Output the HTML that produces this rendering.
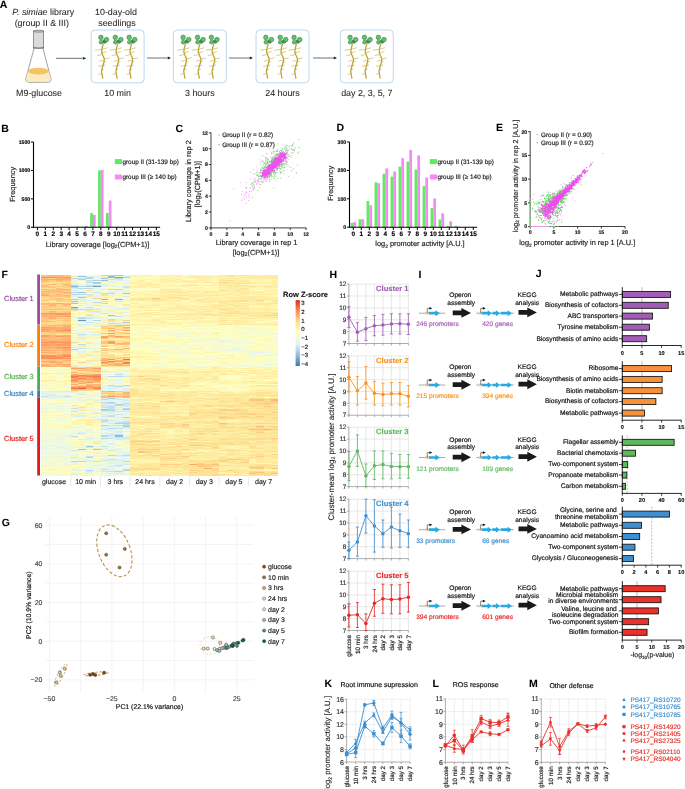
<!DOCTYPE html>
<html><head><meta charset="utf-8"><style>
html,body{margin:0;padding:0;background:#fff;width:685px;height:789px;overflow:hidden}
svg{display:block;will-change:transform}
text{font-family:"Liberation Sans", sans-serif;text-rendering:geometricPrecision}
</style></head><body>
<svg width="685" height="789" viewBox="0 0 685 789" font-family='"Liberation Sans", sans-serif'>
<rect width="685" height="789" fill="#fff"/>
<text x="-0.30" y="7.60" font-size="10.5" font-weight="bold" fill="#000" stroke="#000" stroke-width="0.06">A</text>
<text x="43.2" y="15" font-size="8.9" text-anchor="middle" fill="#231f20" stroke="#231f20" stroke-width="0.06"><tspan font-style="italic">P. simiae</tspan> library</text>
<text x="41.80" y="25.60" font-size="8.9" text-anchor="middle" fill="#231f20" stroke="#231f20" stroke-width="0.06">(group II &amp; III)</text>
<text x="39.00" y="96.00" font-size="8.9" text-anchor="middle" fill="#231f20" stroke="#231f20" stroke-width="0.06">M9-glucose</text>
<text x="116.00" y="15.00" font-size="8.9" text-anchor="middle" fill="#231f20" stroke="#231f20" stroke-width="0.06">10-day-old</text>
<text x="117.00" y="25.50" font-size="8.9" text-anchor="middle" fill="#231f20" stroke="#231f20" stroke-width="0.06">seedlings</text>
<path d="M34.2,48 L25.8,78.6 Q25.2,82.2 29.5,82.3 L47.2,82.3 Q51.5,82.2 50.9,78.6 L42.9,48 Z" fill="#fff" stroke="#555" stroke-width="0.55"/>
<path d="M28.0,71 L26.2,78.4 Q25.8,81.7 29.6,81.8 L47.1,81.8 Q50.9,81.7 50.5,78.4 L48.6,71 Z" fill="#fde8c0"/>
<ellipse cx="38.3" cy="71.2" rx="10.4" ry="3.4" fill="#f2c562"/>
<rect x="33.5" y="31" width="10.2" height="17" fill="#dadada" stroke="#555" stroke-width="0.6"/>
<ellipse cx="38.6" cy="31.2" rx="5.1" ry="1.0" fill="#c4c4c4" stroke="#555" stroke-width="0.5"/>
<path d="M33.5,47.4 Q38.6,49.4 43.7,47.4" fill="none" stroke="#555" stroke-width="0.5"/>
<line x1="56.00" y1="58.30" x2="83.80" y2="58.30" stroke="#333" stroke-width="0.7"/>
<path d="M86.30,58.30 L83.10,56.90 L83.10,59.70 Z" fill="#222"/>
<line x1="147.00" y1="58.00" x2="168.50" y2="58.00" stroke="#333" stroke-width="0.7"/>
<path d="M171.00,58.00 L167.80,56.60 L167.80,59.40 Z" fill="#222"/>
<line x1="229.00" y1="58.00" x2="250.50" y2="58.00" stroke="#333" stroke-width="0.7"/>
<path d="M253.00,58.00 L249.80,56.60 L249.80,59.40 Z" fill="#222"/>
<line x1="313.00" y1="58.00" x2="334.50" y2="58.00" stroke="#333" stroke-width="0.7"/>
<path d="M337.00,58.00 L333.80,56.60 L333.80,59.40 Z" fill="#222"/>
<rect x="91.10" y="30" width="53" height="52.8" rx="4" fill="#fff" stroke="#a9cfe5" stroke-width="0.8"/>
<path d="M102.00,49.40 L95.20,50.20 M102.20,49.20 L107.50,47.80 M101.90,52.90 L106.60,51.60 M101.80,54.60 L97.10,55.60 M104.00,59.20 L109.40,57.80 M103.80,60.20 L99.30,61.20 M104.00,62.40 L106.20,61.40 M103.20,65.40 L98.30,66.40 M103.00,66.00 L105.40,65.00 M102.00,70.20 L104.20,69.20 M101.70,73.40 L98.30,74.40 " fill="none" stroke="#cbb85c" stroke-width="0.7"/>
<polyline points="103.40,43.60 102.10,48.00 101.60,52.00 103.10,56.00 104.40,59.00 103.70,63.00 102.50,67.00 101.50,71.00 102.10,75.00 102.80,78.60" fill="none" stroke="#bba136" stroke-width="1.25" stroke-linejoin="round"/>
<circle cx="104.70" cy="41.40" r="1.9" fill="#3f9c4f" stroke="#2d5f35" stroke-width="0.45"/>
<circle cx="100.90" cy="37.40" r="2.3" fill="#5ec46c" stroke="#2d5f35" stroke-width="0.45"/>
<circle cx="106.50" cy="39.60" r="2.3" fill="#5ec46c" stroke="#2d5f35" stroke-width="0.45"/>
<circle cx="101.00" cy="42.20" r="1.9" fill="#5ec46c" stroke="#2d5f35" stroke-width="0.45"/>
<path d="M116.40,49.40 L109.60,50.20 M116.60,49.20 L121.90,47.80 M116.30,52.90 L121.00,51.60 M116.20,54.60 L111.50,55.60 M118.40,59.20 L123.80,57.80 M118.20,60.20 L113.70,61.20 M118.40,62.40 L120.60,61.40 M117.60,65.40 L112.70,66.40 M117.40,66.00 L119.80,65.00 M116.40,70.20 L118.60,69.20 M116.10,73.40 L112.70,74.40 " fill="none" stroke="#cbb85c" stroke-width="0.7"/>
<polyline points="117.80,43.60 116.50,48.00 116.00,52.00 117.50,56.00 118.80,59.00 118.10,63.00 116.90,67.00 115.90,71.00 116.50,75.00 117.20,78.60" fill="none" stroke="#bba136" stroke-width="1.25" stroke-linejoin="round"/>
<circle cx="119.10" cy="41.40" r="1.9" fill="#3f9c4f" stroke="#2d5f35" stroke-width="0.45"/>
<circle cx="115.30" cy="37.40" r="2.3" fill="#5ec46c" stroke="#2d5f35" stroke-width="0.45"/>
<circle cx="120.90" cy="39.60" r="2.3" fill="#5ec46c" stroke="#2d5f35" stroke-width="0.45"/>
<circle cx="115.40" cy="42.20" r="1.9" fill="#5ec46c" stroke="#2d5f35" stroke-width="0.45"/>
<path d="M130.30,49.40 L123.50,50.20 M130.50,49.20 L135.80,47.80 M130.20,52.90 L134.90,51.60 M130.10,54.60 L125.40,55.60 M132.30,59.20 L137.70,57.80 M132.10,60.20 L127.60,61.20 M132.30,62.40 L134.50,61.40 M131.50,65.40 L126.60,66.40 M131.30,66.00 L133.70,65.00 M130.30,70.20 L132.50,69.20 M130.00,73.40 L126.60,74.40 " fill="none" stroke="#cbb85c" stroke-width="0.7"/>
<polyline points="131.70,43.60 130.40,48.00 129.90,52.00 131.40,56.00 132.70,59.00 132.00,63.00 130.80,67.00 129.80,71.00 130.40,75.00 131.10,78.60" fill="none" stroke="#bba136" stroke-width="1.25" stroke-linejoin="round"/>
<circle cx="133.00" cy="41.40" r="1.9" fill="#3f9c4f" stroke="#2d5f35" stroke-width="0.45"/>
<circle cx="129.20" cy="37.40" r="2.3" fill="#5ec46c" stroke="#2d5f35" stroke-width="0.45"/>
<circle cx="134.80" cy="39.60" r="2.3" fill="#5ec46c" stroke="#2d5f35" stroke-width="0.45"/>
<circle cx="129.30" cy="42.20" r="1.9" fill="#5ec46c" stroke="#2d5f35" stroke-width="0.45"/>
<rect x="173.30" y="30" width="53" height="52.8" rx="4" fill="#fff" stroke="#a9cfe5" stroke-width="0.8"/>
<path d="M184.20,49.40 L177.40,50.20 M184.40,49.20 L189.70,47.80 M184.10,52.90 L188.80,51.60 M184.00,54.60 L179.30,55.60 M186.20,59.20 L191.60,57.80 M186.00,60.20 L181.50,61.20 M186.20,62.40 L188.40,61.40 M185.40,65.40 L180.50,66.40 M185.20,66.00 L187.60,65.00 M184.20,70.20 L186.40,69.20 M183.90,73.40 L180.50,74.40 " fill="none" stroke="#cbb85c" stroke-width="0.7"/>
<polyline points="185.60,43.60 184.30,48.00 183.80,52.00 185.30,56.00 186.60,59.00 185.90,63.00 184.70,67.00 183.70,71.00 184.30,75.00 185.00,78.60" fill="none" stroke="#bba136" stroke-width="1.25" stroke-linejoin="round"/>
<circle cx="186.90" cy="41.40" r="1.9" fill="#3f9c4f" stroke="#2d5f35" stroke-width="0.45"/>
<circle cx="183.10" cy="37.40" r="2.3" fill="#5ec46c" stroke="#2d5f35" stroke-width="0.45"/>
<circle cx="188.70" cy="39.60" r="2.3" fill="#5ec46c" stroke="#2d5f35" stroke-width="0.45"/>
<circle cx="183.20" cy="42.20" r="1.9" fill="#5ec46c" stroke="#2d5f35" stroke-width="0.45"/>
<path d="M198.60,49.40 L191.80,50.20 M198.80,49.20 L204.10,47.80 M198.50,52.90 L203.20,51.60 M198.40,54.60 L193.70,55.60 M200.60,59.20 L206.00,57.80 M200.40,60.20 L195.90,61.20 M200.60,62.40 L202.80,61.40 M199.80,65.40 L194.90,66.40 M199.60,66.00 L202.00,65.00 M198.60,70.20 L200.80,69.20 M198.30,73.40 L194.90,74.40 " fill="none" stroke="#cbb85c" stroke-width="0.7"/>
<polyline points="200.00,43.60 198.70,48.00 198.20,52.00 199.70,56.00 201.00,59.00 200.30,63.00 199.10,67.00 198.10,71.00 198.70,75.00 199.40,78.60" fill="none" stroke="#bba136" stroke-width="1.25" stroke-linejoin="round"/>
<circle cx="201.30" cy="41.40" r="1.9" fill="#3f9c4f" stroke="#2d5f35" stroke-width="0.45"/>
<circle cx="197.50" cy="37.40" r="2.3" fill="#5ec46c" stroke="#2d5f35" stroke-width="0.45"/>
<circle cx="203.10" cy="39.60" r="2.3" fill="#5ec46c" stroke="#2d5f35" stroke-width="0.45"/>
<circle cx="197.60" cy="42.20" r="1.9" fill="#5ec46c" stroke="#2d5f35" stroke-width="0.45"/>
<path d="M212.50,49.40 L205.70,50.20 M212.70,49.20 L218.00,47.80 M212.40,52.90 L217.10,51.60 M212.30,54.60 L207.60,55.60 M214.50,59.20 L219.90,57.80 M214.30,60.20 L209.80,61.20 M214.50,62.40 L216.70,61.40 M213.70,65.40 L208.80,66.40 M213.50,66.00 L215.90,65.00 M212.50,70.20 L214.70,69.20 M212.20,73.40 L208.80,74.40 " fill="none" stroke="#cbb85c" stroke-width="0.7"/>
<polyline points="213.90,43.60 212.60,48.00 212.10,52.00 213.60,56.00 214.90,59.00 214.20,63.00 213.00,67.00 212.00,71.00 212.60,75.00 213.30,78.60" fill="none" stroke="#bba136" stroke-width="1.25" stroke-linejoin="round"/>
<circle cx="215.20" cy="41.40" r="1.9" fill="#3f9c4f" stroke="#2d5f35" stroke-width="0.45"/>
<circle cx="211.40" cy="37.40" r="2.3" fill="#5ec46c" stroke="#2d5f35" stroke-width="0.45"/>
<circle cx="217.00" cy="39.60" r="2.3" fill="#5ec46c" stroke="#2d5f35" stroke-width="0.45"/>
<circle cx="211.50" cy="42.20" r="1.9" fill="#5ec46c" stroke="#2d5f35" stroke-width="0.45"/>
<rect x="256.00" y="30" width="53" height="52.8" rx="4" fill="#fff" stroke="#a9cfe5" stroke-width="0.8"/>
<path d="M266.90,49.40 L260.10,50.20 M267.10,49.20 L272.40,47.80 M266.80,52.90 L271.50,51.60 M266.70,54.60 L262.00,55.60 M268.90,59.20 L274.30,57.80 M268.70,60.20 L264.20,61.20 M268.90,62.40 L271.10,61.40 M268.10,65.40 L263.20,66.40 M267.90,66.00 L270.30,65.00 M266.90,70.20 L269.10,69.20 M266.60,73.40 L263.20,74.40 " fill="none" stroke="#cbb85c" stroke-width="0.7"/>
<polyline points="268.30,43.60 267.00,48.00 266.50,52.00 268.00,56.00 269.30,59.00 268.60,63.00 267.40,67.00 266.40,71.00 267.00,75.00 267.70,78.60" fill="none" stroke="#bba136" stroke-width="1.25" stroke-linejoin="round"/>
<circle cx="269.60" cy="41.40" r="1.9" fill="#3f9c4f" stroke="#2d5f35" stroke-width="0.45"/>
<circle cx="265.80" cy="37.40" r="2.3" fill="#5ec46c" stroke="#2d5f35" stroke-width="0.45"/>
<circle cx="271.40" cy="39.60" r="2.3" fill="#5ec46c" stroke="#2d5f35" stroke-width="0.45"/>
<circle cx="265.90" cy="42.20" r="1.9" fill="#5ec46c" stroke="#2d5f35" stroke-width="0.45"/>
<path d="M281.30,49.40 L274.50,50.20 M281.50,49.20 L286.80,47.80 M281.20,52.90 L285.90,51.60 M281.10,54.60 L276.40,55.60 M283.30,59.20 L288.70,57.80 M283.10,60.20 L278.60,61.20 M283.30,62.40 L285.50,61.40 M282.50,65.40 L277.60,66.40 M282.30,66.00 L284.70,65.00 M281.30,70.20 L283.50,69.20 M281.00,73.40 L277.60,74.40 " fill="none" stroke="#cbb85c" stroke-width="0.7"/>
<polyline points="282.70,43.60 281.40,48.00 280.90,52.00 282.40,56.00 283.70,59.00 283.00,63.00 281.80,67.00 280.80,71.00 281.40,75.00 282.10,78.60" fill="none" stroke="#bba136" stroke-width="1.25" stroke-linejoin="round"/>
<circle cx="284.00" cy="41.40" r="1.9" fill="#3f9c4f" stroke="#2d5f35" stroke-width="0.45"/>
<circle cx="280.20" cy="37.40" r="2.3" fill="#5ec46c" stroke="#2d5f35" stroke-width="0.45"/>
<circle cx="285.80" cy="39.60" r="2.3" fill="#5ec46c" stroke="#2d5f35" stroke-width="0.45"/>
<circle cx="280.30" cy="42.20" r="1.9" fill="#5ec46c" stroke="#2d5f35" stroke-width="0.45"/>
<path d="M295.20,49.40 L288.40,50.20 M295.40,49.20 L300.70,47.80 M295.10,52.90 L299.80,51.60 M295.00,54.60 L290.30,55.60 M297.20,59.20 L302.60,57.80 M297.00,60.20 L292.50,61.20 M297.20,62.40 L299.40,61.40 M296.40,65.40 L291.50,66.40 M296.20,66.00 L298.60,65.00 M295.20,70.20 L297.40,69.20 M294.90,73.40 L291.50,74.40 " fill="none" stroke="#cbb85c" stroke-width="0.7"/>
<polyline points="296.60,43.60 295.30,48.00 294.80,52.00 296.30,56.00 297.60,59.00 296.90,63.00 295.70,67.00 294.70,71.00 295.30,75.00 296.00,78.60" fill="none" stroke="#bba136" stroke-width="1.25" stroke-linejoin="round"/>
<circle cx="297.90" cy="41.40" r="1.9" fill="#3f9c4f" stroke="#2d5f35" stroke-width="0.45"/>
<circle cx="294.10" cy="37.40" r="2.3" fill="#5ec46c" stroke="#2d5f35" stroke-width="0.45"/>
<circle cx="299.70" cy="39.60" r="2.3" fill="#5ec46c" stroke="#2d5f35" stroke-width="0.45"/>
<circle cx="294.20" cy="42.20" r="1.9" fill="#5ec46c" stroke="#2d5f35" stroke-width="0.45"/>
<rect x="340.30" y="30" width="53" height="52.8" rx="4" fill="#fff" stroke="#a9cfe5" stroke-width="0.8"/>
<path d="M351.20,49.40 L344.40,50.20 M351.40,49.20 L356.70,47.80 M351.10,52.90 L355.80,51.60 M351.00,54.60 L346.30,55.60 M353.20,59.20 L358.60,57.80 M353.00,60.20 L348.50,61.20 M353.20,62.40 L355.40,61.40 M352.40,65.40 L347.50,66.40 M352.20,66.00 L354.60,65.00 M351.20,70.20 L353.40,69.20 M350.90,73.40 L347.50,74.40 " fill="none" stroke="#cbb85c" stroke-width="0.7"/>
<polyline points="352.60,43.60 351.30,48.00 350.80,52.00 352.30,56.00 353.60,59.00 352.90,63.00 351.70,67.00 350.70,71.00 351.30,75.00 352.00,78.60" fill="none" stroke="#bba136" stroke-width="1.25" stroke-linejoin="round"/>
<circle cx="353.90" cy="41.40" r="1.9" fill="#3f9c4f" stroke="#2d5f35" stroke-width="0.45"/>
<circle cx="350.10" cy="37.40" r="2.3" fill="#5ec46c" stroke="#2d5f35" stroke-width="0.45"/>
<circle cx="355.70" cy="39.60" r="2.3" fill="#5ec46c" stroke="#2d5f35" stroke-width="0.45"/>
<circle cx="350.20" cy="42.20" r="1.9" fill="#5ec46c" stroke="#2d5f35" stroke-width="0.45"/>
<path d="M365.60,49.40 L358.80,50.20 M365.80,49.20 L371.10,47.80 M365.50,52.90 L370.20,51.60 M365.40,54.60 L360.70,55.60 M367.60,59.20 L373.00,57.80 M367.40,60.20 L362.90,61.20 M367.60,62.40 L369.80,61.40 M366.80,65.40 L361.90,66.40 M366.60,66.00 L369.00,65.00 M365.60,70.20 L367.80,69.20 M365.30,73.40 L361.90,74.40 " fill="none" stroke="#cbb85c" stroke-width="0.7"/>
<polyline points="367.00,43.60 365.70,48.00 365.20,52.00 366.70,56.00 368.00,59.00 367.30,63.00 366.10,67.00 365.10,71.00 365.70,75.00 366.40,78.60" fill="none" stroke="#bba136" stroke-width="1.25" stroke-linejoin="round"/>
<circle cx="368.30" cy="41.40" r="1.9" fill="#3f9c4f" stroke="#2d5f35" stroke-width="0.45"/>
<circle cx="364.50" cy="37.40" r="2.3" fill="#5ec46c" stroke="#2d5f35" stroke-width="0.45"/>
<circle cx="370.10" cy="39.60" r="2.3" fill="#5ec46c" stroke="#2d5f35" stroke-width="0.45"/>
<circle cx="364.60" cy="42.20" r="1.9" fill="#5ec46c" stroke="#2d5f35" stroke-width="0.45"/>
<path d="M379.50,49.40 L372.70,50.20 M379.70,49.20 L385.00,47.80 M379.40,52.90 L384.10,51.60 M379.30,54.60 L374.60,55.60 M381.50,59.20 L386.90,57.80 M381.30,60.20 L376.80,61.20 M381.50,62.40 L383.70,61.40 M380.70,65.40 L375.80,66.40 M380.50,66.00 L382.90,65.00 M379.50,70.20 L381.70,69.20 M379.20,73.40 L375.80,74.40 " fill="none" stroke="#cbb85c" stroke-width="0.7"/>
<polyline points="380.90,43.60 379.60,48.00 379.10,52.00 380.60,56.00 381.90,59.00 381.20,63.00 380.00,67.00 379.00,71.00 379.60,75.00 380.30,78.60" fill="none" stroke="#bba136" stroke-width="1.25" stroke-linejoin="round"/>
<circle cx="382.20" cy="41.40" r="1.9" fill="#3f9c4f" stroke="#2d5f35" stroke-width="0.45"/>
<circle cx="378.40" cy="37.40" r="2.3" fill="#5ec46c" stroke="#2d5f35" stroke-width="0.45"/>
<circle cx="384.00" cy="39.60" r="2.3" fill="#5ec46c" stroke="#2d5f35" stroke-width="0.45"/>
<circle cx="378.50" cy="42.20" r="1.9" fill="#5ec46c" stroke="#2d5f35" stroke-width="0.45"/>
<text x="117.60" y="95.60" font-size="8.9" text-anchor="middle" fill="#231f20" stroke="#231f20" stroke-width="0.06">10 min</text>
<text x="199.80" y="95.60" font-size="8.9" text-anchor="middle" fill="#231f20" stroke="#231f20" stroke-width="0.06">3 hours</text>
<text x="282.50" y="95.60" font-size="8.9" text-anchor="middle" fill="#231f20" stroke="#231f20" stroke-width="0.06">24 hours</text>
<text x="366.80" y="95.60" font-size="8.9" text-anchor="middle" fill="#231f20" stroke="#231f20" stroke-width="0.06">day 2, 3, 5, 7</text>
<text x="1.20" y="131.70" font-size="10.5" font-weight="bold" fill="#000" stroke="#000" stroke-width="0.06">B</text>
<line x1="33.50" y1="142.00" x2="33.50" y2="227.80" stroke="#000" stroke-width="1.1"/>
<line x1="30.90" y1="142.00" x2="33.50" y2="142.00" stroke="#000" stroke-width="1.0"/>
<text x="30.20" y="143.80" font-size="5.2" text-anchor="end" font-weight="bold" fill="#000" stroke="#000" stroke-width="0.14">1500</text>
<line x1="30.90" y1="170.43" x2="33.50" y2="170.43" stroke="#000" stroke-width="1.0"/>
<text x="30.20" y="172.23" font-size="5.2" text-anchor="end" font-weight="bold" fill="#000" stroke="#000" stroke-width="0.14">1000</text>
<line x1="30.90" y1="198.87" x2="33.50" y2="198.87" stroke="#000" stroke-width="1.0"/>
<text x="30.20" y="200.67" font-size="5.2" text-anchor="end" font-weight="bold" fill="#000" stroke="#000" stroke-width="0.14">500</text>
<line x1="30.90" y1="227.30" x2="33.50" y2="227.30" stroke="#000" stroke-width="1.0"/>
<text x="30.20" y="229.10" font-size="5.2" text-anchor="end" font-weight="bold" fill="#000" stroke="#000" stroke-width="0.14">0</text>
<rect x="69.12" y="227.19" width="2.75" height="0.11" fill="#f58af5"/>
<rect x="77.05" y="226.73" width="2.75" height="0.57" fill="#f58af5"/>
<rect x="82.23" y="226.73" width="2.75" height="0.57" fill="#62e862"/>
<rect x="84.98" y="225.88" width="2.75" height="1.42" fill="#f58af5"/>
<rect x="90.16" y="213.08" width="2.75" height="14.22" fill="#62e862"/>
<rect x="92.91" y="214.79" width="2.75" height="12.51" fill="#f58af5"/>
<rect x="98.09" y="170.43" width="2.75" height="56.87" fill="#62e862"/>
<rect x="100.84" y="169.86" width="2.75" height="57.44" fill="#f58af5"/>
<rect x="106.02" y="213.08" width="2.75" height="14.22" fill="#62e862"/>
<rect x="108.77" y="200.57" width="2.75" height="26.73" fill="#f58af5"/>
<rect x="116.70" y="226.73" width="2.75" height="0.57" fill="#f58af5"/>
<line x1="33.50" y1="227.30" x2="160.15" y2="227.30" stroke="#000" stroke-width="1.1"/>
<line x1="37.40" y1="227.30" x2="37.40" y2="230.10" stroke="#000" stroke-width="1.0"/>
<text x="37.40" y="236.30" font-size="6.4" text-anchor="middle" font-weight="bold" fill="#000" stroke="#000" stroke-width="0.14">0</text>
<line x1="45.33" y1="227.30" x2="45.33" y2="230.10" stroke="#000" stroke-width="1.0"/>
<text x="45.33" y="236.30" font-size="6.4" text-anchor="middle" font-weight="bold" fill="#000" stroke="#000" stroke-width="0.14">1</text>
<line x1="53.26" y1="227.30" x2="53.26" y2="230.10" stroke="#000" stroke-width="1.0"/>
<text x="53.26" y="236.30" font-size="6.4" text-anchor="middle" font-weight="bold" fill="#000" stroke="#000" stroke-width="0.14">2</text>
<line x1="61.19" y1="227.30" x2="61.19" y2="230.10" stroke="#000" stroke-width="1.0"/>
<text x="61.19" y="236.30" font-size="6.4" text-anchor="middle" font-weight="bold" fill="#000" stroke="#000" stroke-width="0.14">3</text>
<line x1="69.12" y1="227.30" x2="69.12" y2="230.10" stroke="#000" stroke-width="1.0"/>
<text x="69.12" y="236.30" font-size="6.4" text-anchor="middle" font-weight="bold" fill="#000" stroke="#000" stroke-width="0.14">4</text>
<line x1="77.05" y1="227.30" x2="77.05" y2="230.10" stroke="#000" stroke-width="1.0"/>
<text x="77.05" y="236.30" font-size="6.4" text-anchor="middle" font-weight="bold" fill="#000" stroke="#000" stroke-width="0.14">5</text>
<line x1="84.98" y1="227.30" x2="84.98" y2="230.10" stroke="#000" stroke-width="1.0"/>
<text x="84.98" y="236.30" font-size="6.4" text-anchor="middle" font-weight="bold" fill="#000" stroke="#000" stroke-width="0.14">6</text>
<line x1="92.91" y1="227.30" x2="92.91" y2="230.10" stroke="#000" stroke-width="1.0"/>
<text x="92.91" y="236.30" font-size="6.4" text-anchor="middle" font-weight="bold" fill="#000" stroke="#000" stroke-width="0.14">7</text>
<line x1="100.84" y1="227.30" x2="100.84" y2="230.10" stroke="#000" stroke-width="1.0"/>
<text x="100.84" y="236.30" font-size="6.4" text-anchor="middle" font-weight="bold" fill="#000" stroke="#000" stroke-width="0.14">8</text>
<line x1="108.77" y1="227.30" x2="108.77" y2="230.10" stroke="#000" stroke-width="1.0"/>
<text x="108.77" y="236.30" font-size="6.4" text-anchor="middle" font-weight="bold" fill="#000" stroke="#000" stroke-width="0.14">9</text>
<line x1="116.70" y1="227.30" x2="116.70" y2="230.10" stroke="#000" stroke-width="1.0"/>
<text x="116.70" y="236.30" font-size="6.4" text-anchor="middle" font-weight="bold" fill="#000" stroke="#000" stroke-width="0.14">10</text>
<line x1="124.63" y1="227.30" x2="124.63" y2="230.10" stroke="#000" stroke-width="1.0"/>
<text x="124.63" y="236.30" font-size="6.4" text-anchor="middle" font-weight="bold" fill="#000" stroke="#000" stroke-width="0.14">11</text>
<line x1="132.56" y1="227.30" x2="132.56" y2="230.10" stroke="#000" stroke-width="1.0"/>
<text x="132.56" y="236.30" font-size="6.4" text-anchor="middle" font-weight="bold" fill="#000" stroke="#000" stroke-width="0.14">12</text>
<line x1="140.49" y1="227.30" x2="140.49" y2="230.10" stroke="#000" stroke-width="1.0"/>
<text x="140.49" y="236.30" font-size="6.4" text-anchor="middle" font-weight="bold" fill="#000" stroke="#000" stroke-width="0.14">13</text>
<line x1="148.42" y1="227.30" x2="148.42" y2="230.10" stroke="#000" stroke-width="1.0"/>
<text x="148.42" y="236.30" font-size="6.4" text-anchor="middle" font-weight="bold" fill="#000" stroke="#000" stroke-width="0.14">14</text>
<line x1="156.35" y1="227.30" x2="156.35" y2="230.10" stroke="#000" stroke-width="1.0"/>
<text x="156.35" y="236.30" font-size="6.4" text-anchor="middle" font-weight="bold" fill="#000" stroke="#000" stroke-width="0.14">15</text>
<rect x="114.80" y="159.10" width="7.20" height="5.00" fill="#62e862"/>
<text x="122.40" y="163.90" font-size="6.4" fill="#231f20" stroke="#231f20" stroke-width="0.18">group II (31-139 bp)</text>
<rect x="114.80" y="174.50" width="7.20" height="5.00" fill="#f58af5"/>
<text x="122.40" y="179.30" font-size="6.4" fill="#231f20" stroke="#231f20" stroke-width="0.18">group III (≥ 140 bp)</text>
<text x="97.5" y="246.5" font-size="7.4" text-anchor="middle" fill="#231f20" stroke="#231f20" stroke-width="0.18">Library coverage [log<tspan font-size="4.8" dy="1.6">2</tspan><tspan dy="-1.6">(CPM+1)]</tspan></text>
<text x="15.20" y="184.30" font-size="7.4" text-anchor="middle" fill="#231f20" transform="rotate(-90 15.20 184.30)" stroke="#231f20" stroke-width="0.18">Frequency</text>
<text x="336.60" y="131.30" font-size="10.5" font-weight="bold" fill="#000" stroke="#000" stroke-width="0.06">D</text>
<line x1="349.50" y1="142.00" x2="349.50" y2="227.70" stroke="#000" stroke-width="1.1"/>
<line x1="346.90" y1="142.00" x2="349.50" y2="142.00" stroke="#000" stroke-width="1.0"/>
<text x="346.20" y="143.80" font-size="5.2" text-anchor="end" font-weight="bold" fill="#000" stroke="#000" stroke-width="0.14">300</text>
<line x1="346.90" y1="170.40" x2="349.50" y2="170.40" stroke="#000" stroke-width="1.0"/>
<text x="346.20" y="172.20" font-size="5.2" text-anchor="end" font-weight="bold" fill="#000" stroke="#000" stroke-width="0.14">200</text>
<line x1="346.90" y1="198.80" x2="349.50" y2="198.80" stroke="#000" stroke-width="1.0"/>
<text x="346.20" y="200.60" font-size="5.2" text-anchor="end" font-weight="bold" fill="#000" stroke="#000" stroke-width="0.14">100</text>
<line x1="346.90" y1="227.20" x2="349.50" y2="227.20" stroke="#000" stroke-width="1.0"/>
<text x="346.20" y="229.00" font-size="5.2" text-anchor="end" font-weight="bold" fill="#000" stroke="#000" stroke-width="0.14">0</text>
<rect x="350.55" y="222.94" width="2.75" height="4.26" fill="#62e862"/>
<rect x="353.30" y="222.09" width="2.75" height="5.11" fill="#f58af5"/>
<rect x="358.55" y="219.25" width="2.75" height="7.95" fill="#62e862"/>
<rect x="361.30" y="219.25" width="2.75" height="7.95" fill="#f58af5"/>
<rect x="366.55" y="201.07" width="2.75" height="26.13" fill="#62e862"/>
<rect x="369.30" y="205.33" width="2.75" height="21.87" fill="#f58af5"/>
<rect x="374.55" y="182.33" width="2.75" height="44.87" fill="#62e862"/>
<rect x="377.30" y="183.18" width="2.75" height="44.02" fill="#f58af5"/>
<rect x="382.55" y="173.81" width="2.75" height="53.39" fill="#62e862"/>
<rect x="385.30" y="168.41" width="2.75" height="58.79" fill="#f58af5"/>
<rect x="390.55" y="176.65" width="2.75" height="50.55" fill="#62e862"/>
<rect x="393.30" y="171.54" width="2.75" height="55.66" fill="#f58af5"/>
<rect x="398.55" y="166.71" width="2.75" height="60.49" fill="#62e862"/>
<rect x="401.30" y="158.19" width="2.75" height="69.01" fill="#f58af5"/>
<rect x="406.55" y="161.60" width="2.75" height="65.60" fill="#62e862"/>
<rect x="409.30" y="149.95" width="2.75" height="77.25" fill="#f58af5"/>
<rect x="414.55" y="169.55" width="2.75" height="57.65" fill="#62e862"/>
<rect x="417.30" y="155.35" width="2.75" height="71.85" fill="#f58af5"/>
<rect x="422.55" y="186.02" width="2.75" height="41.18" fill="#62e862"/>
<rect x="425.30" y="177.50" width="2.75" height="49.70" fill="#f58af5"/>
<rect x="430.55" y="208.17" width="2.75" height="19.03" fill="#62e862"/>
<rect x="433.30" y="198.52" width="2.75" height="28.68" fill="#f58af5"/>
<rect x="438.55" y="219.53" width="2.75" height="7.67" fill="#62e862"/>
<rect x="441.30" y="213.28" width="2.75" height="13.92" fill="#f58af5"/>
<rect x="446.55" y="226.06" width="2.75" height="1.14" fill="#62e862"/>
<rect x="449.30" y="221.24" width="2.75" height="5.96" fill="#f58af5"/>
<rect x="454.55" y="225.78" width="2.75" height="1.42" fill="#62e862"/>
<rect x="457.30" y="226.63" width="2.75" height="0.57" fill="#f58af5"/>
<rect x="465.30" y="226.92" width="2.75" height="0.28" fill="#f58af5"/>
<line x1="349.50" y1="227.20" x2="477.10" y2="227.20" stroke="#000" stroke-width="1.1"/>
<line x1="353.30" y1="227.20" x2="353.30" y2="230.00" stroke="#000" stroke-width="1.0"/>
<text x="353.30" y="236.20" font-size="6.4" text-anchor="middle" font-weight="bold" fill="#000" stroke="#000" stroke-width="0.14">0</text>
<line x1="361.30" y1="227.20" x2="361.30" y2="230.00" stroke="#000" stroke-width="1.0"/>
<text x="361.30" y="236.20" font-size="6.4" text-anchor="middle" font-weight="bold" fill="#000" stroke="#000" stroke-width="0.14">1</text>
<line x1="369.30" y1="227.20" x2="369.30" y2="230.00" stroke="#000" stroke-width="1.0"/>
<text x="369.30" y="236.20" font-size="6.4" text-anchor="middle" font-weight="bold" fill="#000" stroke="#000" stroke-width="0.14">2</text>
<line x1="377.30" y1="227.20" x2="377.30" y2="230.00" stroke="#000" stroke-width="1.0"/>
<text x="377.30" y="236.20" font-size="6.4" text-anchor="middle" font-weight="bold" fill="#000" stroke="#000" stroke-width="0.14">3</text>
<line x1="385.30" y1="227.20" x2="385.30" y2="230.00" stroke="#000" stroke-width="1.0"/>
<text x="385.30" y="236.20" font-size="6.4" text-anchor="middle" font-weight="bold" fill="#000" stroke="#000" stroke-width="0.14">4</text>
<line x1="393.30" y1="227.20" x2="393.30" y2="230.00" stroke="#000" stroke-width="1.0"/>
<text x="393.30" y="236.20" font-size="6.4" text-anchor="middle" font-weight="bold" fill="#000" stroke="#000" stroke-width="0.14">5</text>
<line x1="401.30" y1="227.20" x2="401.30" y2="230.00" stroke="#000" stroke-width="1.0"/>
<text x="401.30" y="236.20" font-size="6.4" text-anchor="middle" font-weight="bold" fill="#000" stroke="#000" stroke-width="0.14">6</text>
<line x1="409.30" y1="227.20" x2="409.30" y2="230.00" stroke="#000" stroke-width="1.0"/>
<text x="409.30" y="236.20" font-size="6.4" text-anchor="middle" font-weight="bold" fill="#000" stroke="#000" stroke-width="0.14">7</text>
<line x1="417.30" y1="227.20" x2="417.30" y2="230.00" stroke="#000" stroke-width="1.0"/>
<text x="417.30" y="236.20" font-size="6.4" text-anchor="middle" font-weight="bold" fill="#000" stroke="#000" stroke-width="0.14">8</text>
<line x1="425.30" y1="227.20" x2="425.30" y2="230.00" stroke="#000" stroke-width="1.0"/>
<text x="425.30" y="236.20" font-size="6.4" text-anchor="middle" font-weight="bold" fill="#000" stroke="#000" stroke-width="0.14">9</text>
<line x1="433.30" y1="227.20" x2="433.30" y2="230.00" stroke="#000" stroke-width="1.0"/>
<text x="433.30" y="236.20" font-size="6.4" text-anchor="middle" font-weight="bold" fill="#000" stroke="#000" stroke-width="0.14">10</text>
<line x1="441.30" y1="227.20" x2="441.30" y2="230.00" stroke="#000" stroke-width="1.0"/>
<text x="441.30" y="236.20" font-size="6.4" text-anchor="middle" font-weight="bold" fill="#000" stroke="#000" stroke-width="0.14">11</text>
<line x1="449.30" y1="227.20" x2="449.30" y2="230.00" stroke="#000" stroke-width="1.0"/>
<text x="449.30" y="236.20" font-size="6.4" text-anchor="middle" font-weight="bold" fill="#000" stroke="#000" stroke-width="0.14">12</text>
<line x1="457.30" y1="227.20" x2="457.30" y2="230.00" stroke="#000" stroke-width="1.0"/>
<text x="457.30" y="236.20" font-size="6.4" text-anchor="middle" font-weight="bold" fill="#000" stroke="#000" stroke-width="0.14">13</text>
<line x1="465.30" y1="227.20" x2="465.30" y2="230.00" stroke="#000" stroke-width="1.0"/>
<text x="465.30" y="236.20" font-size="6.4" text-anchor="middle" font-weight="bold" fill="#000" stroke="#000" stroke-width="0.14">14</text>
<line x1="473.30" y1="227.20" x2="473.30" y2="230.00" stroke="#000" stroke-width="1.0"/>
<text x="473.30" y="236.20" font-size="6.4" text-anchor="middle" font-weight="bold" fill="#000" stroke="#000" stroke-width="0.14">15</text>
<rect x="429.80" y="159.10" width="7.20" height="5.00" fill="#62e862"/>
<text x="437.40" y="163.90" font-size="6.4" fill="#231f20" stroke="#231f20" stroke-width="0.18">group II (31-139 bp)</text>
<rect x="429.80" y="174.50" width="7.20" height="5.00" fill="#f58af5"/>
<text x="437.40" y="179.30" font-size="6.4" fill="#231f20" stroke="#231f20" stroke-width="0.18">group III (≥ 140 bp)</text>
<text x="420" y="246" font-size="7.4" text-anchor="middle" fill="#231f20" stroke="#231f20" stroke-width="0.18">log<tspan font-size="4.8" dy="1.6">2</tspan><tspan dy="-1.6"> promoter activity [A.U.]</tspan></text>
<text x="333.20" y="183.30" font-size="7.4" text-anchor="middle" fill="#231f20" transform="rotate(-90 333.20 183.30)" stroke="#231f20" stroke-width="0.18">Frequency</text>
<text x="175.60" y="131.90" font-size="10.5" font-weight="bold" fill="#000" stroke="#000" stroke-width="0.06">C</text>
<line x1="211.00" y1="132.56" x2="211.00" y2="228.30" stroke="#111" stroke-width="0.8"/>
<line x1="210.60" y1="227.90" x2="306.34" y2="227.90" stroke="#111" stroke-width="0.8"/>
<line x1="208.80" y1="227.90" x2="211.00" y2="227.90" stroke="#111" stroke-width="0.8"/>
<text x="208.00" y="229.70" font-size="5.2" text-anchor="end" font-weight="bold" fill="#111" stroke="#111" stroke-width="0.14">0</text>
<line x1="211.00" y1="227.90" x2="211.00" y2="230.10" stroke="#111" stroke-width="0.8"/>
<text x="211.00" y="235.50" font-size="5.2" text-anchor="middle" font-weight="bold" fill="#111" stroke="#111" stroke-width="0.14">0</text>
<line x1="208.80" y1="212.06" x2="211.00" y2="212.06" stroke="#111" stroke-width="0.8"/>
<text x="208.00" y="213.86" font-size="5.2" text-anchor="end" font-weight="bold" fill="#111" stroke="#111" stroke-width="0.14">2</text>
<line x1="226.84" y1="227.90" x2="226.84" y2="230.10" stroke="#111" stroke-width="0.8"/>
<text x="226.84" y="235.50" font-size="5.2" text-anchor="middle" font-weight="bold" fill="#111" stroke="#111" stroke-width="0.14">2</text>
<line x1="208.80" y1="196.22" x2="211.00" y2="196.22" stroke="#111" stroke-width="0.8"/>
<text x="208.00" y="198.02" font-size="5.2" text-anchor="end" font-weight="bold" fill="#111" stroke="#111" stroke-width="0.14">4</text>
<line x1="242.68" y1="227.90" x2="242.68" y2="230.10" stroke="#111" stroke-width="0.8"/>
<text x="242.68" y="235.50" font-size="5.2" text-anchor="middle" font-weight="bold" fill="#111" stroke="#111" stroke-width="0.14">4</text>
<line x1="208.80" y1="180.38" x2="211.00" y2="180.38" stroke="#111" stroke-width="0.8"/>
<text x="208.00" y="182.18" font-size="5.2" text-anchor="end" font-weight="bold" fill="#111" stroke="#111" stroke-width="0.14">6</text>
<line x1="258.52" y1="227.90" x2="258.52" y2="230.10" stroke="#111" stroke-width="0.8"/>
<text x="258.52" y="235.50" font-size="5.2" text-anchor="middle" font-weight="bold" fill="#111" stroke="#111" stroke-width="0.14">6</text>
<line x1="208.80" y1="164.54" x2="211.00" y2="164.54" stroke="#111" stroke-width="0.8"/>
<text x="208.00" y="166.34" font-size="5.2" text-anchor="end" font-weight="bold" fill="#111" stroke="#111" stroke-width="0.14">8</text>
<line x1="274.36" y1="227.90" x2="274.36" y2="230.10" stroke="#111" stroke-width="0.8"/>
<text x="274.36" y="235.50" font-size="5.2" text-anchor="middle" font-weight="bold" fill="#111" stroke="#111" stroke-width="0.14">8</text>
<line x1="208.80" y1="148.70" x2="211.00" y2="148.70" stroke="#111" stroke-width="0.8"/>
<text x="208.00" y="150.50" font-size="5.2" text-anchor="end" font-weight="bold" fill="#111" stroke="#111" stroke-width="0.14">10</text>
<line x1="290.20" y1="227.90" x2="290.20" y2="230.10" stroke="#111" stroke-width="0.8"/>
<text x="290.20" y="235.50" font-size="5.2" text-anchor="middle" font-weight="bold" fill="#111" stroke="#111" stroke-width="0.14">10</text>
<line x1="208.80" y1="132.86" x2="211.00" y2="132.86" stroke="#111" stroke-width="0.8"/>
<text x="208.00" y="134.66" font-size="5.2" text-anchor="end" font-weight="bold" fill="#111" stroke="#111" stroke-width="0.14">12</text>
<line x1="306.04" y1="227.90" x2="306.04" y2="230.10" stroke="#111" stroke-width="0.8"/>
<text x="306.04" y="235.50" font-size="5.2" text-anchor="middle" font-weight="bold" fill="#111" stroke="#111" stroke-width="0.14">12</text>
<path d="M272.7,166.7h0M281.2,162.3h0M286.5,165.2h0M278.8,153.3h0M275.3,157.1h0M264.9,176.7h0M265.7,170.0h0M284.7,160.6h0M272.4,161.0h0M254.2,187.0h0M262.6,175.3h0M272.0,164.1h0M279.8,157.3h0M268.6,164.9h0M282.4,159.4h0M258.6,177.5h0M272.1,168.2h0M254.5,178.7h0M270.4,165.0h0M272.2,162.4h0M246.7,182.2h0M274.2,166.9h0M274.0,173.2h0M271.0,168.7h0M277.6,161.6h0M283.8,153.2h0M270.4,173.9h0M269.5,166.2h0M277.0,165.3h0M276.9,168.5h0M265.0,166.4h0M270.0,167.7h0M297.5,153.1h0M272.3,164.0h0M273.1,168.1h0M270.4,172.2h0M265.5,162.7h0M269.3,172.8h0M284.2,156.1h0M279.3,167.6h0M299.8,147.7h0M268.4,167.2h0M285.2,153.3h0M261.8,167.5h0M268.7,174.4h0M273.2,162.3h0M272.1,160.6h0M282.9,159.6h0M282.5,155.7h0M282.3,152.1h0M288.8,159.3h0M282.1,166.7h0M287.3,145.8h0M265.3,166.0h0M278.2,156.7h0M262.0,177.0h0M271.3,179.7h0M275.8,167.0h0M264.2,167.2h0M281.7,163.6h0M265.6,166.6h0M275.3,168.2h0M275.2,173.3h0M282.8,164.4h0M262.5,167.8h0M265.3,170.7h0M285.8,156.0h0M272.6,159.3h0M276.6,160.7h0M274.6,161.7h0M265.4,173.8h0M279.3,155.9h0M284.2,167.3h0M286.2,161.9h0M274.1,169.2h0M269.0,171.5h0M269.0,169.7h0M265.3,176.0h0M272.7,167.0h0M262.9,160.9h0M272.2,171.5h0M273.5,163.7h0M287.3,164.1h0M282.1,159.4h0M264.4,169.2h0M283.4,157.1h0M277.1,166.2h0M262.9,161.2h0M278.1,167.9h0M273.8,166.5h0M286.7,164.1h0M268.5,174.5h0M286.4,148.1h0M284.5,160.5h0M290.9,152.3h0M272.8,163.3h0M271.3,169.1h0M276.6,170.3h0M279.6,154.0h0M293.5,152.3h0M268.4,176.9h0M286.7,158.6h0M273.1,169.8h0M275.3,160.1h0M286.7,153.5h0M279.5,160.2h0M286.8,153.7h0M263.5,168.5h0M258.4,176.6h0M269.0,165.3h0M290.3,146.1h0M268.0,169.2h0M275.1,170.6h0M269.6,161.6h0M276.8,170.4h0M276.9,161.0h0M280.7,159.1h0M270.0,166.6h0M287.4,151.6h0M278.8,156.2h0M280.3,173.6h0M263.6,182.2h0M276.2,162.7h0M269.9,175.7h0M272.1,170.3h0M281.7,153.6h0M265.4,167.4h0M259.0,172.4h0M276.1,168.2h0M256.7,166.7h0M274.4,169.6h0M288.8,154.5h0M284.0,155.5h0M283.7,156.8h0M261.2,178.9h0M266.5,167.9h0M271.5,160.9h0M274.0,173.2h0M275.8,161.3h0M265.7,176.0h0M271.1,168.5h0M272.2,159.9h0M272.3,162.0h0M276.9,162.7h0M274.9,170.9h0M263.3,164.8h0M270.7,168.4h0M278.5,159.8h0M274.8,160.6h0M282.1,151.9h0M272.2,164.4h0M273.4,167.2h0M269.9,168.9h0M276.9,157.7h0M260.7,178.7h0M269.1,164.7h0M280.1,162.3h0M298.5,147.5h0M277.4,162.8h0M253.4,189.8h0M281.2,157.6h0M272.5,167.2h0M293.0,149.9h0M279.5,157.4h0M283.0,157.3h0M280.7,168.9h0M273.8,164.6h0M268.6,170.2h0M284.6,154.7h0M285.9,158.5h0M266.6,163.0h0M292.7,144.8h0M269.2,162.2h0M283.6,160.7h0M274.8,159.8h0M253.9,173.9h0M262.4,170.4h0M277.9,164.4h0M268.3,171.4h0M267.8,168.8h0M276.7,158.6h0M273.5,166.6h0M277.0,156.6h0M266.3,153.7h0M279.8,153.6h0M261.0,179.7h0M286.2,161.4h0M278.1,157.5h0M281.2,161.7h0M274.7,163.7h0M286.7,161.1h0M268.2,170.0h0M286.0,161.3h0M286.2,145.8h0M283.6,153.0h0M260.1,184.3h0M274.3,162.7h0M278.6,164.4h0M270.1,169.8h0M267.8,177.0h0M277.1,161.9h0M279.1,164.7h0M285.7,158.6h0M272.2,159.7h0M282.2,163.2h0M283.4,154.9h0M286.2,150.9h0M271.2,169.1h0M279.8,157.6h0M261.7,167.6h0M285.1,154.5h0M279.6,156.8h0M279.6,160.7h0M272.0,161.3h0M270.0,175.1h0M252.8,183.3h0M287.6,155.2h0M269.9,165.5h0M269.6,181.6h0M270.4,169.4h0M288.3,156.2h0M278.0,159.2h0M274.0,160.7h0M276.5,157.2h0M276.2,166.2h0M279.2,155.9h0M273.9,162.6h0M271.7,172.0h0M276.8,158.9h0M272.2,158.1h0M263.6,166.0h0M273.5,171.7h0M274.7,162.6h0M275.6,161.5h0M271.7,158.8h0M271.9,161.5h0M275.7,163.2h0M272.3,159.0h0M285.8,148.6h0M270.9,166.0h0M265.6,164.7h0M279.3,165.3h0M265.5,159.9h0M266.2,173.9h0M261.0,173.2h0M266.6,168.0h0M280.7,164.4h0M254.9,173.7h0M287.8,154.5h0M272.7,160.8h0M268.5,159.3h0M292.3,149.0h0M279.2,161.0h0M286.2,152.7h0M271.6,161.1h0M272.5,166.9h0M281.2,153.0h0M263.4,169.7h0M271.3,175.8h0M254.7,181.3h0M282.8,160.3h0M268.8,168.0h0M259.3,173.3h0M256.4,184.2h0M267.5,166.1h0M265.2,168.1h0M270.2,166.3h0M284.9,149.4h0M273.1,165.8h0M283.0,159.2h0M283.7,156.8h0M277.7,163.8h0M275.5,162.6h0M265.4,163.1h0M276.6,158.6h0M279.2,168.2h0M264.7,178.7h0M270.7,156.9h0M269.8,161.3h0M282.2,156.6h0M285.6,150.7h0M281.0,158.6h0M261.1,181.7h0M261.0,169.2h0M276.0,154.3h0M264.5,175.5h0M267.1,165.1h0M282.8,156.6h0M283.6,163.7h0M283.1,171.5h0M270.0,175.4h0M279.4,151.6h0M273.9,153.2h0M286.5,154.4h0M273.8,164.4h0M273.0,170.9h0M274.9,161.6h0M251.4,191.6h0M283.1,163.6h0M273.0,159.9h0M246.9,192.6h0M259.1,182.2h0M246.6,188.5h0M254.5,186.0h0M240.7,182.7h0M250.7,178.7h0M241.5,194.6h0M248.6,200.4h0M249.3,197.6h0M252.5,190.0h0M241.6,200.6h0M254.9,188.8h0M248.9,196.1h0M242.1,191.5h0M245.8,193.7h0M246.1,203.6h0M248.9,194.6h0M242.6,198.9h0M265.3,179.4h0M246.3,196.9h0M246.7,187.5h0M257.3,180.1h0M252.7,187.3h0M253.0,182.7h0M259.5,176.3h0M262.4,182.5h0M258.6,180.1h0M256.5,183.0h0M244.0,196.1h0M244.6,199.0h0M258.0,183.3h0M246.2,191.9h0M244.3,194.5h0M264.9,180.7h0M258.4,181.0h0M257.5,180.9h0M255.2,178.2h0M259.4,181.3h0M233.8,189.0h0M257.8,174.0h0M268.4,148.0h0M259.5,159.8h0M267.5,166.5h0M273.1,157.0h0M290.6,167.4h0M283.8,167.8h0M269.6,148.1h0M271.3,177.0h0M271.8,153.9h0M266.9,153.9h0M280.2,156.1h0M265.5,176.6h0M264.2,167.9h0M275.6,180.0h0M278.4,166.0h0M271.3,161.2h0M296.2,173.1h0M293.4,168.9h0M288.4,176.5h0M297.6,165.1h0M296.6,172.6h0M274.7,155.2h0M265.6,170.6h0M285.3,146.6h0M271.3,173.8h0" stroke="#f59af5" stroke-width="1.1" stroke-linecap="round" fill="none"/>
<path d="M266.4,175.0h0M280.1,155.3h0M264.1,174.3h0M281.6,164.6h0M260.9,169.4h0M281.2,160.8h0M289.2,156.3h0M272.7,164.4h0M292.7,144.2h0M264.7,166.7h0M275.6,164.3h0M271.6,166.9h0M278.7,164.8h0M283.3,157.0h0M263.2,180.3h0M263.1,174.7h0M263.3,175.6h0M269.2,171.1h0M299.0,139.5h0M276.3,153.8h0M274.4,168.9h0M274.9,166.5h0M271.8,160.4h0M275.9,157.6h0M286.8,148.8h0M279.5,159.4h0M279.5,155.4h0M281.5,156.6h0M285.9,157.1h0M272.8,160.9h0M281.7,160.3h0M285.5,150.9h0M280.2,162.1h0M277.2,163.1h0M273.7,161.2h0M265.4,170.9h0M283.8,165.1h0M285.2,160.7h0M282.5,161.0h0M278.3,165.7h0M286.6,150.1h0M275.7,176.3h0M279.4,165.9h0M277.2,154.2h0M298.6,152.1h0M278.2,165.7h0M272.4,160.6h0M274.8,166.6h0M285.1,158.5h0M279.3,168.6h0M271.3,172.9h0M281.8,155.2h0M257.9,175.0h0M277.9,164.5h0M282.7,149.6h0M276.5,166.7h0M265.3,157.8h0M288.1,166.2h0M278.9,153.9h0M272.0,168.4h0M295.1,147.9h0M280.4,168.9h0M279.9,171.3h0M267.6,168.1h0M284.5,163.9h0M280.3,160.6h0M258.3,175.9h0M268.0,167.4h0M277.7,159.0h0M280.6,158.9h0M272.2,167.4h0M280.4,164.2h0M270.0,167.4h0M269.4,180.1h0M284.7,153.0h0M266.6,164.0h0M276.3,163.9h0M291.6,148.9h0M260.4,162.3h0M285.6,154.6h0M262.9,177.2h0M273.8,188.2h0M284.7,158.0h0M265.9,158.7h0M268.2,160.3h0M271.7,152.9h0M271.6,175.4h0M282.8,148.2h0M265.7,179.0h0M277.5,154.8h0M266.8,167.5h0M263.1,171.2h0M286.1,157.4h0M289.5,148.8h0M270.1,162.3h0M269.1,161.1h0M263.3,180.2h0M288.0,156.5h0M285.2,155.4h0M269.2,170.2h0M267.8,163.7h0M256.7,172.3h0M274.8,165.1h0M275.5,172.9h0M277.6,165.1h0M280.8,152.6h0M262.0,181.9h0M273.5,174.1h0M280.2,165.3h0M273.2,151.9h0M277.5,156.9h0M267.2,168.8h0M283.1,161.7h0M276.4,151.4h0M262.0,161.1h0M275.6,167.3h0M269.4,171.1h0M279.5,166.2h0M265.4,168.0h0M274.4,176.1h0M282.2,155.9h0M276.4,163.2h0M275.2,162.3h0M267.7,162.9h0M275.0,174.9h0M278.6,160.7h0M273.0,166.4h0M274.9,159.7h0M276.6,163.9h0M266.1,167.5h0M263.3,168.5h0M273.2,150.0h0M270.3,164.5h0M270.0,169.5h0M283.1,156.3h0M271.3,163.6h0M276.4,168.5h0M267.6,163.7h0M261.2,170.4h0M267.6,178.7h0M276.2,161.1h0M283.2,151.4h0M282.7,161.5h0M257.5,171.0h0M270.4,174.5h0M280.0,150.7h0M281.0,155.4h0M269.6,165.7h0M265.9,160.9h0M262.7,168.0h0M285.0,167.8h0M293.8,142.9h0M260.1,176.1h0M273.9,178.2h0M276.2,157.8h0M283.2,159.3h0M260.4,175.0h0M272.6,166.4h0M274.2,162.4h0M273.8,161.2h0M272.7,176.3h0M278.5,163.3h0M261.8,176.0h0M276.2,154.1h0M281.3,155.0h0M276.9,161.1h0M280.0,166.9h0M276.5,172.8h0M265.4,167.3h0M276.2,155.6h0M274.6,170.3h0M277.6,149.5h0M284.4,167.0h0M282.6,154.8h0M268.9,168.1h0M264.8,172.3h0M272.5,165.5h0M282.5,154.9h0M266.9,179.0h0M264.8,171.1h0M272.2,164.4h0M266.0,171.3h0M288.8,146.1h0M277.1,169.3h0M282.5,161.5h0M274.3,151.5h0M268.3,171.5h0M282.4,165.1h0M277.1,160.2h0M274.0,163.5h0M278.5,164.9h0M269.1,164.4h0M271.6,174.6h0M287.3,158.2h0M283.6,160.9h0M276.6,166.8h0M265.8,171.8h0M271.3,172.5h0M269.6,168.5h0M281.9,166.0h0M265.3,167.4h0M276.8,154.7h0M275.9,159.2h0M267.5,159.3h0M278.1,157.5h0M274.5,178.2h0M291.4,170.9h0M276.3,160.3h0M280.5,169.1h0M275.7,166.2h0M275.2,157.6h0M273.7,161.9h0M267.9,176.8h0M279.6,159.8h0M260.9,164.7h0M277.7,160.6h0M261.5,177.0h0M262.8,175.9h0M276.6,164.6h0M276.6,163.5h0M264.5,171.8h0M269.7,167.6h0M278.5,164.6h0M278.1,143.7h0M276.7,160.9h0M294.6,150.5h0M263.3,178.3h0M273.7,171.8h0M266.1,172.1h0M273.0,165.2h0M263.9,162.8h0M281.1,164.4h0M270.5,161.7h0M277.8,164.9h0M273.0,165.8h0M281.2,150.2h0M263.8,162.4h0M266.6,167.3h0M264.8,169.5h0M287.2,150.4h0M280.8,172.7h0M268.1,159.2h0M274.3,158.4h0M282.5,148.1h0M264.7,163.6h0M271.7,160.4h0M272.6,163.8h0M272.9,172.3h0M281.6,157.7h0M264.0,167.8h0M284.3,170.5h0M268.3,165.4h0M265.5,166.1h0M266.4,171.2h0M285.1,153.7h0M265.1,163.0h0M275.9,162.8h0M261.5,170.2h0M277.4,168.2h0M279.8,160.5h0M273.0,168.0h0M281.5,171.9h0M264.6,171.8h0M283.0,154.1h0M284.9,153.7h0M274.2,162.2h0M260.7,171.7h0M293.2,150.0h0M282.1,163.2h0M282.0,163.7h0M271.6,165.8h0M280.6,156.0h0M263.6,173.8h0M272.3,170.7h0M265.4,166.4h0M277.0,172.2h0M274.5,165.4h0M275.4,165.5h0M286.0,162.2h0M266.5,181.4h0M273.3,163.5h0M291.8,145.9h0M292.2,153.1h0M268.2,173.9h0M279.5,158.6h0M255.7,180.9h0M269.2,162.3h0M287.3,150.0h0M270.4,166.5h0M265.9,167.9h0M276.1,164.9h0M270.2,168.1h0M265.6,176.7h0M269.4,170.9h0M265.8,169.6h0M271.9,158.9h0M292.8,145.8h0M271.4,162.6h0M291.0,157.2h0M272.1,157.7h0M272.6,170.4h0M266.6,164.5h0M262.9,170.9h0M272.3,162.3h0M283.8,173.7h0M284.2,147.7h0M277.2,162.2h0M276.8,169.0h0M270.8,166.0h0M271.2,167.0h0M286.6,157.4h0M262.8,173.2h0M271.1,173.3h0M279.0,165.8h0M267.5,158.7h0M278.5,161.9h0M273.8,156.4h0M272.7,161.6h0M270.4,170.9h0M274.0,158.9h0M253.2,169.2h0M273.8,172.6h0M266.5,157.5h0M269.3,172.4h0M290.8,155.8h0M277.8,162.4h0M264.9,171.0h0M269.3,164.5h0M273.5,162.8h0M281.7,166.8h0M281.3,160.4h0M267.5,161.3h0M275.3,167.2h0M270.9,176.3h0M273.1,168.3h0M267.7,162.8h0M286.1,145.1h0M279.4,155.8h0M273.8,159.8h0M274.3,170.7h0M286.2,147.1h0M277.6,167.6h0M272.0,171.7h0M270.5,172.5h0M281.7,165.3h0M273.1,157.8h0M275.7,155.9h0M285.0,163.9h0M277.0,158.2h0M283.9,156.1h0M263.8,172.7h0M284.0,152.9h0M274.1,162.5h0M260.0,175.5h0M277.7,162.5h0M266.0,158.7h0M285.9,157.7h0M286.4,161.2h0M269.0,165.9h0M282.3,167.7h0M260.9,176.5h0M270.8,171.8h0M284.4,152.5h0M265.2,174.0h0M267.1,161.6h0M279.3,156.1h0M275.1,155.0h0M277.8,151.5h0M276.3,150.6h0M283.5,152.9h0M261.9,175.5h0M273.6,158.7h0M271.5,169.1h0M262.9,155.6h0M272.5,169.2h0M280.0,165.7h0M277.7,178.2h0M281.4,159.6h0M285.7,159.6h0M273.1,161.7h0M283.5,158.2h0M256.4,175.1h0M278.2,161.4h0M278.6,164.6h0M280.7,168.7h0M268.6,167.6h0M279.3,164.6h0M285.2,163.6h0M274.7,172.0h0M274.4,157.6h0M280.3,172.5h0M278.7,157.1h0M253.9,180.1h0M269.3,170.1h0M294.2,149.6h0M273.6,159.1h0M264.7,172.8h0M280.8,178.1h0M269.3,165.5h0M283.1,156.3h0M269.4,178.1h0M267.6,162.5h0M278.4,163.7h0M274.1,169.4h0M277.6,155.4h0M250.9,172.1h0M277.5,169.6h0M286.5,161.6h0M288.4,150.6h0M277.2,151.5h0M280.9,160.7h0M272.2,163.8h0M266.4,173.4h0M282.8,153.7h0M276.1,158.3h0M272.9,159.3h0M276.5,161.0h0M274.7,160.1h0M264.4,172.3h0M287.4,162.0h0M252.3,185.6h0M253.9,187.4h0M255.2,182.4h0M257.3,175.7h0M246.0,187.4h0M268.0,175.3h0M262.8,175.5h0M253.7,184.4h0M261.0,178.5h0M259.8,187.3h0M252.5,197.7h0M250.4,187.9h0M258.1,179.3h0M260.3,184.6h0M250.9,184.7h0M262.5,181.8h0M253.3,188.8h0M258.0,190.6h0M260.7,168.9h0M251.3,183.7h0M264.5,177.3h0M249.5,191.3h0M259.5,178.3h0M252.7,182.4h0M262.1,174.5h0M230.0,220.8h0" stroke="#70dd70" stroke-width="1.1" stroke-linecap="round" fill="none"/>
<path d="M272.1,167.4h0M276.3,164.2h0M269.2,173.7h0M278.7,159.3h0M273.6,161.7h0M279.5,163.7h0M272.6,167.8h0M276.4,165.0h0M263.1,176.2h0M274.3,166.4h0M264.3,177.4h0M279.4,161.4h0M286.0,157.9h0M267.7,171.2h0M268.0,169.6h0M280.6,155.0h0M271.3,164.5h0M281.2,158.0h0M278.7,160.9h0M281.7,157.4h0M277.7,160.6h0M280.4,160.6h0M279.8,157.5h0M272.4,162.0h0M264.8,173.0h0M264.6,176.7h0M283.1,157.7h0M271.9,166.3h0M280.1,152.8h0M269.6,173.6h0M275.9,159.9h0M274.4,165.3h0M269.9,170.0h0M274.8,163.5h0M265.0,173.6h0M264.3,170.2h0M278.3,163.7h0M284.6,156.1h0M268.3,168.8h0M267.8,173.7h0M278.9,160.2h0M274.6,163.8h0M277.2,160.9h0M271.2,168.9h0M279.9,158.8h0M280.9,158.4h0M277.3,163.8h0M272.1,167.3h0M284.6,156.6h0M279.5,161.7h0M267.6,172.0h0M271.2,168.6h0M283.2,159.8h0M264.2,173.0h0M270.3,169.9h0M278.9,163.7h0M285.6,153.9h0M273.3,167.1h0M271.1,170.2h0M281.4,150.7h0M270.7,166.4h0M275.7,160.6h0M272.8,168.0h0M269.1,170.1h0M270.8,167.0h0M279.8,159.5h0M277.1,164.1h0M266.7,169.4h0M276.9,158.3h0M264.8,172.9h0M278.8,155.7h0M274.5,165.3h0M279.4,160.0h0M267.6,173.8h0M264.7,175.1h0M279.2,159.6h0M266.0,174.2h0M276.5,167.1h0M266.2,172.9h0M282.5,157.2h0M275.6,160.3h0M268.7,166.2h0M280.2,159.0h0M264.0,172.8h0M265.5,174.7h0M280.4,162.1h0M271.4,166.0h0M266.2,172.1h0M272.7,167.4h0M280.0,157.8h0M281.1,158.1h0M279.3,160.5h0M273.6,168.3h0M272.4,167.2h0M280.6,156.6h0M275.3,165.3h0M266.0,174.5h0M274.2,165.3h0M275.9,164.0h0M283.3,153.6h0M283.2,157.3h0M272.5,168.7h0M277.5,164.2h0M275.6,165.0h0M264.7,173.7h0M280.9,162.0h0M273.0,167.9h0M267.4,170.9h0M269.7,170.1h0M282.2,159.7h0M278.6,157.8h0M275.3,162.2h0M262.7,172.7h0M274.1,161.1h0M272.0,169.0h0M278.0,154.3h0M273.6,166.5h0M270.9,167.1h0M270.2,169.1h0M265.1,172.1h0M272.5,163.7h0M270.2,167.3h0M281.7,156.2h0M275.9,164.2h0M280.6,158.0h0M272.2,168.4h0M284.0,158.9h0M271.4,167.5h0M277.8,159.3h0M269.3,172.0h0M271.3,170.0h0M270.2,170.3h0M269.3,169.8h0M282.6,156.6h0M270.2,171.0h0M277.7,163.8h0M280.8,160.4h0M273.9,168.2h0M282.0,154.1h0M272.4,165.3h0M268.0,174.6h0M266.9,175.6h0M272.7,164.7h0M283.6,155.8h0M262.4,173.4h0M266.3,173.6h0M265.3,172.9h0M279.7,155.0h0M269.7,165.7h0M268.5,168.0h0M266.7,170.2h0M274.7,164.6h0M269.8,169.2h0M270.2,170.3h0M275.0,164.5h0M280.3,156.6h0M272.8,164.6h0M274.9,159.6h0M267.3,166.8h0M272.0,167.9h0M271.5,168.1h0M284.6,158.2h0M270.4,168.0h0M269.4,171.2h0M263.9,173.6h0M274.5,160.5h0M272.9,168.9h0M276.6,161.6h0M275.2,161.5h0M280.6,157.6h0M263.0,175.0h0M273.9,165.9h0M268.8,172.0h0M271.7,164.0h0M275.6,162.1h0M265.7,173.3h0M279.1,157.2h0M281.2,153.3h0M281.1,154.6h0M275.7,164.3h0M273.9,162.4h0M273.7,164.5h0M265.5,170.6h0M260.9,172.2h0M278.0,163.5h0M278.6,160.0h0M264.6,173.0h0M276.3,159.7h0M271.2,165.8h0M268.9,171.9h0M269.2,169.5h0M266.5,170.1h0M265.7,172.6h0M281.2,160.1h0M277.8,162.3h0M270.4,169.7h0M267.3,171.3h0M279.6,162.0h0M271.9,162.1h0M269.6,170.3h0M285.3,156.3h0M283.1,155.3h0M266.0,172.2h0M267.6,168.3h0M267.7,171.9h0M271.6,165.7h0M273.3,165.8h0M282.5,156.1h0M282.2,154.0h0M269.4,167.8h0M277.6,159.9h0M265.7,174.3h0M275.3,159.0h0M270.4,167.0h0M283.5,155.4h0M270.9,167.2h0M267.5,170.5h0M275.7,166.9h0M273.0,164.2h0M267.6,169.8h0M279.6,158.3h0M265.7,173.3h0M271.1,168.4h0M268.6,168.6h0M271.0,164.7h0M287.0,152.8h0M271.9,166.5h0M267.1,172.2h0M262.6,174.7h0M276.3,166.4h0M265.6,170.5h0M264.3,174.9h0M273.1,170.2h0M270.2,171.1h0M277.8,165.4h0M273.7,167.9h0M271.1,168.0h0M280.2,156.5h0M285.2,155.6h0M279.1,160.5h0M268.6,171.2h0M264.8,174.2h0M273.4,167.7h0M273.9,165.1h0M273.6,165.7h0M278.3,163.3h0M273.7,167.6h0M283.5,156.0h0M266.7,173.5h0M279.2,158.2h0M280.7,158.7h0M274.7,162.5h0M272.6,166.5h0M276.6,165.8h0M268.6,169.8h0M281.0,153.4h0M278.5,159.9h0M277.0,157.8h0M272.1,169.3h0M267.3,176.6h0M279.5,162.0h0M280.2,156.8h0M276.6,158.4h0M284.1,158.1h0M278.5,161.1h0M271.5,161.0h0M266.3,172.6h0M277.4,158.0h0M281.2,157.4h0M269.8,167.9h0M266.9,172.0h0M275.6,161.8h0M271.5,165.5h0M268.3,173.2h0M280.7,158.0h0M285.2,157.8h0M279.8,160.2h0M269.5,169.1h0M275.2,162.5h0M275.0,167.2h0M268.9,169.8h0M270.2,170.9h0M264.9,175.7h0M284.3,157.1h0M270.4,167.1h0M284.8,154.7h0M278.6,161.4h0M274.5,159.3h0M267.2,175.7h0M272.7,163.8h0M267.0,173.3h0M270.5,170.5h0M267.3,168.8h0M275.5,162.7h0M265.9,177.3h0M282.2,156.8h0M269.0,170.7h0M264.3,174.8h0M279.5,162.2h0M278.6,162.0h0M277.6,160.6h0M273.4,165.3h0M271.4,168.3h0M283.1,154.9h0M273.9,165.3h0M269.9,173.5h0M282.2,159.4h0M271.4,166.5h0M278.8,159.8h0M269.1,169.7h0M270.4,170.3h0M268.4,169.1h0M271.3,164.6h0M269.8,164.4h0M276.9,161.4h0M279.9,161.1h0M285.3,157.4h0M270.3,167.3h0M278.2,164.1h0M269.2,168.7h0M271.6,166.9h0M274.7,162.7h0M285.3,154.0h0M267.8,176.9h0M279.1,160.0h0M279.3,160.8h0M272.6,163.7h0M277.3,168.6h0M264.8,172.5h0M276.9,159.5h0M274.6,165.8h0M266.4,174.6h0M274.6,162.7h0M274.7,165.7h0M274.5,170.9h0M274.1,162.5h0M278.5,158.8h0M278.1,162.5h0M268.3,168.0h0M275.8,163.0h0M277.0,161.3h0M282.3,156.6h0M266.4,171.5h0M280.1,159.4h0M272.1,165.7h0M279.8,158.1h0M276.9,161.6h0M280.0,157.2h0M271.5,171.9h0M276.0,167.5h0M264.9,170.7h0M268.5,171.1h0M272.0,169.3h0M283.4,157.2h0M269.7,168.6h0M280.4,156.7h0M270.0,167.8h0M266.7,174.8h0M280.1,160.3h0M264.7,172.2h0M284.0,157.9h0M262.7,174.1h0M277.8,160.7h0M278.1,162.4h0M271.6,166.5h0M272.6,169.1h0M270.2,169.6h0M269.9,170.3h0M264.9,172.3h0M272.3,166.3h0M281.9,161.8h0M275.9,163.0h0M271.3,169.4h0M274.1,167.5h0M281.1,157.2h0M269.8,166.7h0M276.6,163.1h0M282.2,156.5h0M275.5,161.4h0M269.7,170.5h0M282.6,152.6h0M263.3,174.0h0M278.7,165.8h0M280.9,162.7h0M264.3,173.8h0M266.3,174.3h0M267.0,176.8h0M270.8,166.5h0M273.2,162.8h0M283.4,157.6h0M271.5,167.8h0M274.8,163.9h0M267.6,171.7h0M263.9,174.0h0M281.6,156.6h0M276.1,162.7h0M281.1,160.7h0M263.4,174.7h0M266.6,170.5h0M273.2,164.5h0M268.2,169.8h0M275.5,165.3h0M261.7,176.2h0M279.6,158.7h0M269.6,176.0h0M268.3,171.3h0M280.6,160.8h0M268.6,171.5h0M280.7,158.9h0M275.9,164.6h0M275.1,163.7h0M271.8,168.2h0M263.8,173.5h0M269.9,167.6h0M283.8,156.0h0M275.3,165.1h0M266.2,169.8h0M267.2,173.7h0M266.9,174.7h0M276.6,162.9h0M275.5,157.9h0M267.3,172.4h0M264.2,173.9h0M264.0,170.9h0M276.5,162.9h0M265.4,173.5h0M266.6,172.6h0M268.9,171.2h0M272.7,166.7h0M275.4,166.5h0M265.3,175.6h0M269.5,165.4h0M275.6,165.1h0M283.9,155.2h0M279.0,162.8h0M283.8,155.7h0M269.6,169.6h0M274.9,160.3h0M270.9,165.9h0M263.4,170.7h0M280.8,159.2h0M284.7,154.2h0M280.4,154.3h0M276.8,161.3h0M271.4,168.1h0M279.0,157.5h0M269.9,170.8h0M269.2,174.6h0M284.6,155.4h0M279.1,160.2h0M270.2,172.9h0M262.8,175.5h0M270.0,169.6h0M281.2,160.2h0M269.1,173.4h0M281.2,156.5h0M269.2,170.2h0M279.4,162.7h0M267.0,171.7h0M263.4,172.1h0M263.4,175.8h0M278.8,162.7h0M282.2,155.0h0M264.3,177.8h0M278.1,164.5h0M270.0,166.2h0M265.3,175.1h0M267.0,170.5h0M266.7,175.3h0M268.6,166.8h0M279.9,159.1h0M273.9,162.1h0M281.5,156.2h0M279.0,162.8h0M273.1,166.0h0M275.9,165.7h0M265.9,174.8h0M282.2,154.9h0M271.4,169.1h0M271.3,165.9h0M270.6,168.9h0M284.0,153.5h0M265.4,174.4h0M265.5,174.5h0M280.0,161.1h0M271.3,167.2h0M262.8,174.0h0M264.8,170.7h0M281.2,158.0h0M268.6,173.3h0M265.0,173.3h0M265.7,172.5h0M263.3,175.9h0M280.4,156.8h0M263.2,176.1h0M268.4,168.5h0M276.0,159.2h0M284.4,157.1h0M277.2,158.4h0M262.5,175.7h0M274.5,161.4h0M267.4,171.8h0M266.3,172.3h0M267.5,170.8h0M279.4,161.4h0M265.4,172.2h0M276.1,166.3h0M269.7,166.1h0M279.6,161.5h0M277.4,165.4h0M274.0,160.1h0M268.7,168.2h0M270.5,168.7h0M272.2,170.2h0M282.2,160.5h0M268.5,168.4h0M268.8,166.8h0M283.9,157.2h0M267.1,171.8h0M283.4,156.2h0" stroke="#f050f0" stroke-width="1.4" stroke-linecap="round" fill="none"/>
<circle cx="219" cy="134.9" r="0.75" fill="#6ee86e"/>
<text x="222.20" y="137.20" font-size="6.4" fill="#231f20" stroke="#231f20" stroke-width="0.18">Group II (r = 0.82)</text>
<circle cx="219" cy="144.8" r="0.75" fill="#f070f0"/>
<text x="222.20" y="147.10" font-size="6.4" fill="#231f20" stroke="#231f20" stroke-width="0.18">Group III (r = 0.87)</text>
<text x="256.60" y="245.40" font-size="7.4" text-anchor="middle" fill="#231f20" stroke="#231f20" stroke-width="0.18">Library coverage in rep 1</text>
<text x="256.0" y="254.6" font-size="7.4" text-anchor="middle" fill="#231f20" stroke="#231f20" stroke-width="0.18">[log<tspan font-size="5.2" dy="1.8">2</tspan><tspan dy="-1.8">(CPM+1)]</tspan></text>
<text x="190.60" y="181.00" font-size="7.4" text-anchor="middle" fill="#231f20" transform="rotate(-90 190.60 181.00)" stroke="#231f20" stroke-width="0.18">Library coverage in rep 2</text>
<text x="199.9" y="184.2" font-size="7.4" text-anchor="middle" fill="#231f20" transform="rotate(-90 199.9 184.2)" stroke="#231f20" stroke-width="0.18">[log<tspan font-size="4.8" dy="1.6">2</tspan><tspan dy="-1.6">(CPM+1)]</tspan></text>
<text x="496.00" y="131.30" font-size="10.5" font-weight="bold" fill="#000" stroke="#000" stroke-width="0.06">E</text>
<line x1="530.20" y1="131.40" x2="530.20" y2="226.90" stroke="#111" stroke-width="0.8"/>
<line x1="529.80" y1="226.50" x2="625.30" y2="226.50" stroke="#111" stroke-width="0.8"/>
<line x1="528.00" y1="226.50" x2="530.20" y2="226.50" stroke="#111" stroke-width="0.8"/>
<text x="527.20" y="228.30" font-size="5.2" text-anchor="end" font-weight="bold" fill="#111" stroke="#111" stroke-width="0.14">0</text>
<line x1="530.20" y1="226.50" x2="530.20" y2="228.70" stroke="#111" stroke-width="0.8"/>
<text x="530.20" y="234.10" font-size="5.2" text-anchor="middle" font-weight="bold" fill="#111" stroke="#111" stroke-width="0.14">0</text>
<line x1="528.00" y1="202.80" x2="530.20" y2="202.80" stroke="#111" stroke-width="0.8"/>
<text x="527.20" y="204.60" font-size="5.2" text-anchor="end" font-weight="bold" fill="#111" stroke="#111" stroke-width="0.14">5</text>
<line x1="553.90" y1="226.50" x2="553.90" y2="228.70" stroke="#111" stroke-width="0.8"/>
<text x="553.90" y="234.10" font-size="5.2" text-anchor="middle" font-weight="bold" fill="#111" stroke="#111" stroke-width="0.14">5</text>
<line x1="528.00" y1="179.10" x2="530.20" y2="179.10" stroke="#111" stroke-width="0.8"/>
<text x="527.20" y="180.90" font-size="5.2" text-anchor="end" font-weight="bold" fill="#111" stroke="#111" stroke-width="0.14">10</text>
<line x1="577.60" y1="226.50" x2="577.60" y2="228.70" stroke="#111" stroke-width="0.8"/>
<text x="577.60" y="234.10" font-size="5.2" text-anchor="middle" font-weight="bold" fill="#111" stroke="#111" stroke-width="0.14">10</text>
<line x1="528.00" y1="155.40" x2="530.20" y2="155.40" stroke="#111" stroke-width="0.8"/>
<text x="527.20" y="157.20" font-size="5.2" text-anchor="end" font-weight="bold" fill="#111" stroke="#111" stroke-width="0.14">15</text>
<line x1="601.30" y1="226.50" x2="601.30" y2="228.70" stroke="#111" stroke-width="0.8"/>
<text x="601.30" y="234.10" font-size="5.2" text-anchor="middle" font-weight="bold" fill="#111" stroke="#111" stroke-width="0.14">15</text>
<line x1="528.00" y1="131.70" x2="530.20" y2="131.70" stroke="#111" stroke-width="0.8"/>
<text x="527.20" y="133.50" font-size="5.2" text-anchor="end" font-weight="bold" fill="#111" stroke="#111" stroke-width="0.14">20</text>
<line x1="625.00" y1="226.50" x2="625.00" y2="228.70" stroke="#111" stroke-width="0.8"/>
<text x="625.00" y="234.10" font-size="5.2" text-anchor="middle" font-weight="bold" fill="#111" stroke="#111" stroke-width="0.14">20</text>
<path d="M561.8,195.7h0M571.9,185.2h0M540.1,199.9h0M551.1,198.9h0M549.0,209.1h0M559.8,199.3h0M564.1,188.7h0M545.6,203.6h0M542.9,207.4h0M550.8,212.3h0M556.7,222.3h0M550.3,208.3h0M536.6,211.4h0M557.4,208.1h0M563.7,193.0h0M565.6,185.6h0M548.7,202.6h0M557.0,197.0h0M570.6,189.0h0M548.0,205.0h0M562.1,189.1h0M561.2,195.7h0M542.9,221.4h0M547.7,222.1h0M548.5,198.2h0M558.1,195.1h0M569.4,182.6h0M559.3,193.4h0M557.0,205.3h0M548.1,193.2h0M562.4,201.5h0M574.6,189.6h0M552.3,204.1h0M558.0,200.3h0M550.2,201.2h0M574.9,178.2h0M541.7,219.1h0M548.3,204.6h0M552.4,198.7h0M563.7,194.4h0M546.9,207.2h0M550.7,205.8h0M555.6,195.1h0M548.1,206.4h0M553.4,218.7h0M541.2,199.0h0M549.0,211.1h0M559.7,191.5h0M557.2,211.4h0M560.7,214.7h0M560.5,193.4h0M557.0,200.4h0M546.6,219.3h0M545.6,210.7h0M564.1,188.8h0M555.7,198.1h0M552.7,204.0h0M562.9,199.4h0M557.1,199.2h0M551.5,216.8h0M545.7,206.7h0M552.2,211.3h0M551.9,208.4h0M555.9,213.7h0M554.0,208.6h0M570.3,188.7h0M561.7,192.2h0M560.4,194.6h0M558.7,196.2h0M558.5,199.6h0M545.6,208.6h0M556.2,221.7h0M550.2,202.4h0M554.4,210.3h0M549.9,204.2h0M551.2,201.2h0M561.5,194.8h0M554.6,202.2h0M547.5,201.0h0M562.2,198.0h0M549.0,217.5h0M566.8,190.4h0M563.8,183.7h0M566.0,187.5h0M555.1,196.4h0M576.6,178.3h0M558.0,192.5h0M553.7,205.9h0M551.2,200.1h0M565.4,184.8h0M555.1,200.3h0M554.0,207.5h0M556.5,198.9h0M560.8,195.5h0M562.7,199.7h0M557.3,199.6h0M555.6,212.8h0M564.9,193.9h0M555.5,196.6h0M556.6,201.7h0M539.1,207.1h0M560.4,209.2h0M554.5,194.5h0M568.5,191.8h0M560.4,194.0h0M561.4,210.1h0M574.7,200.8h0M544.9,210.2h0M539.0,210.6h0M554.0,198.4h0M546.7,208.7h0M552.3,203.4h0M560.0,197.1h0M542.4,210.0h0M569.7,183.5h0M554.1,202.2h0M556.5,201.8h0M562.4,206.6h0M541.1,196.4h0M542.5,201.0h0M555.2,208.3h0M559.9,193.5h0M546.7,205.2h0M546.4,206.7h0M545.4,202.2h0M554.9,199.7h0M555.1,202.2h0M571.6,187.6h0M567.6,195.0h0M554.3,201.3h0M545.5,223.9h0M548.6,198.4h0M567.4,194.1h0M556.5,199.2h0M566.8,188.9h0M544.4,210.7h0M546.8,200.0h0M540.6,204.1h0M554.3,199.0h0M560.0,199.8h0M570.7,184.8h0M550.4,196.9h0M541.4,211.1h0M553.0,208.8h0M549.5,199.1h0M556.1,203.3h0M562.3,195.4h0M563.7,199.2h0M557.8,196.9h0M553.6,212.1h0M543.8,195.8h0M559.8,194.1h0M546.6,209.8h0M538.9,216.1h0M558.2,197.5h0M537.1,214.4h0M552.4,204.1h0M551.3,209.1h0M541.2,212.5h0M548.4,200.1h0M567.3,190.3h0M552.1,194.8h0M563.9,190.7h0M557.4,213.4h0M566.0,194.3h0M545.6,216.2h0M571.9,187.5h0M552.3,197.6h0M578.1,181.1h0M556.1,199.6h0M539.0,217.1h0M563.1,201.7h0M548.7,204.7h0M553.4,202.7h0M546.6,220.0h0M530.2,198.7h0M551.3,198.3h0M554.6,195.7h0M530.9,202.3h0M541.9,211.6h0M576.7,182.8h0M555.3,213.4h0M552.4,193.9h0M530.2,208.0h0M550.0,207.0h0M547.2,204.8h0M547.3,211.1h0M560.5,191.7h0M565.3,187.9h0M558.9,210.4h0M561.1,195.8h0M552.2,211.3h0M556.1,196.2h0M558.1,200.4h0M554.4,211.9h0M557.0,201.1h0M552.7,197.3h0M545.5,207.6h0M550.5,198.4h0M550.0,204.7h0M563.0,196.4h0M562.5,190.4h0M563.9,191.3h0M545.8,205.4h0M550.7,205.9h0M542.8,201.6h0M548.6,211.9h0M557.9,226.2h0M542.3,217.5h0M546.0,209.3h0M569.5,189.1h0M562.5,200.0h0M559.4,190.0h0M570.2,188.4h0M541.8,209.7h0M563.3,195.3h0M558.5,201.6h0M561.9,219.5h0M552.9,196.2h0M561.1,184.8h0M564.7,196.3h0M560.2,195.9h0M556.5,205.9h0M550.3,204.9h0M553.3,206.3h0M558.9,201.1h0M548.6,204.4h0M555.2,202.9h0M545.8,214.1h0M538.8,211.2h0M553.9,204.7h0M556.4,196.3h0M559.4,198.9h0M554.6,202.3h0M558.2,213.8h0M568.8,189.0h0M566.0,187.0h0M549.1,204.9h0M558.8,196.4h0M539.3,202.6h0M549.9,216.7h0M556.6,193.5h0M571.9,182.8h0M550.3,205.0h0M554.5,199.8h0M557.6,204.3h0M562.5,191.3h0M551.1,200.2h0M550.8,205.1h0M554.6,206.6h0M548.6,212.0h0M561.6,193.8h0M554.6,206.8h0M550.5,203.6h0M550.2,192.3h0M562.4,195.3h0M557.8,192.9h0M553.2,207.1h0M559.2,194.9h0M557.3,211.9h0M561.2,202.2h0M545.2,216.5h0M548.0,204.4h0M565.0,187.2h0M543.0,206.8h0M553.2,203.8h0M562.4,200.5h0M563.9,201.1h0M566.5,192.5h0M558.8,207.6h0M556.3,208.0h0M553.9,199.3h0M563.0,196.6h0M561.1,201.4h0M554.2,198.1h0M561.9,206.4h0M537.1,201.3h0M552.1,198.0h0M568.3,189.1h0M546.3,209.8h0M549.0,212.6h0M566.6,195.2h0M565.2,191.5h0M567.5,191.3h0M551.0,221.0h0M544.2,206.8h0M535.7,210.9h0M542.9,207.0h0M532.8,199.2h0M549.7,205.3h0M559.3,193.7h0M554.2,200.4h0M546.2,218.6h0M553.0,198.9h0M546.6,205.7h0M551.8,217.1h0M565.6,193.0h0M551.1,198.6h0M542.1,205.6h0M533.8,194.4h0M556.7,205.2h0M550.7,211.4h0M549.4,221.4h0M540.7,218.2h0M564.0,196.7h0M530.2,202.5h0M556.5,198.9h0M553.1,224.0h0M554.9,226.5h0M567.9,187.3h0M568.0,188.8h0M543.8,205.6h0M576.1,183.6h0M532.6,209.5h0M552.7,221.0h0M550.8,205.1h0M560.5,198.0h0M560.1,193.2h0M552.7,206.0h0M556.7,196.2h0M544.9,222.9h0M565.3,195.4h0M548.0,196.3h0M559.7,213.2h0M558.8,199.2h0M536.0,212.6h0M565.2,192.9h0M558.5,207.0h0M563.2,195.8h0M555.2,204.5h0M565.7,192.3h0M542.5,212.2h0M554.3,205.6h0M567.1,189.3h0M554.2,208.5h0M557.9,195.1h0M560.1,197.5h0M554.6,194.2h0M549.1,212.1h0M550.3,201.1h0M552.8,210.8h0M535.8,202.9h0M544.7,218.3h0M552.5,201.4h0M554.9,197.9h0M551.7,202.8h0M557.3,220.2h0M558.0,202.1h0M559.9,195.3h0M555.7,202.5h0M533.3,226.5h0M546.4,226.5h0M533.6,226.5h0M544.0,226.5h0M532.6,226.5h0M537.5,226.5h0M541.9,226.5h0M544.4,226.5h0M547.2,226.5h0M554.4,226.5h0M538.9,226.5h0M539.3,226.5h0M535.7,226.5h0M549.4,226.5h0M539.8,226.5h0M535.7,226.5h0M535.2,226.5h0M541.2,226.5h0M552.0,226.5h0M541.6,226.5h0M551.4,226.5h0M542.5,226.5h0M545.4,226.5h0M536.9,226.5h0M540.9,226.5h0M549.1,226.5h0M532.4,226.5h0M542.0,226.5h0M536.8,226.5h0M537.8,226.5h0M539.0,226.5h0M535.4,226.5h0M545.2,226.5h0M531.3,226.5h0M536.4,226.5h0M537.1,226.5h0M534.9,226.5h0M552.0,226.5h0M548.1,226.5h0M553.3,226.5h0M533.7,226.5h0M535.1,226.5h0M538.4,226.5h0M543.5,226.5h0M551.9,226.5h0M530.2,212.7h0M530.2,212.2h0M530.2,226.2h0M530.2,226.0h0M530.2,220.9h0M530.2,219.4h0M530.2,226.4h0M530.2,220.7h0M530.2,224.4h0M530.2,212.0h0M530.2,223.0h0M530.2,221.2h0M530.2,223.6h0M530.2,212.4h0M530.2,224.6h0M530.2,219.2h0M530.2,222.8h0M530.2,222.4h0M530.2,210.0h0M530.2,214.7h0M530.2,214.3h0M530.2,220.6h0M530.2,210.3h0M530.2,210.5h0M530.2,216.0h0M589.5,165.8h0M591.8,163.9h0M602.7,153.5h0M590.9,163.0h0M584.7,173.4h0" stroke="#f59af5" stroke-width="1.2" stroke-linecap="round" fill="none"/>
<path d="M557.5,199.4h0M550.9,212.7h0M544.8,205.3h0M554.0,200.9h0M562.5,193.0h0M571.2,191.5h0M557.2,201.3h0M547.3,211.3h0M562.5,202.9h0M561.1,195.0h0M547.9,198.7h0M557.1,199.0h0M553.4,198.0h0M560.5,201.4h0M559.6,211.4h0M542.8,208.7h0M552.4,205.5h0M548.3,204.6h0M555.9,207.7h0M563.4,202.2h0M573.1,175.5h0M554.1,221.1h0M546.6,203.7h0M547.2,212.3h0M545.1,220.4h0M561.0,191.3h0M558.6,196.3h0M530.2,205.6h0M548.2,210.6h0M551.2,207.2h0M560.4,204.9h0M572.3,182.7h0M560.2,191.1h0M555.4,199.3h0M567.2,185.4h0M569.1,187.7h0M551.9,201.6h0M553.8,205.1h0M550.8,204.3h0M566.6,184.8h0M541.2,204.5h0M560.4,197.9h0M563.4,193.0h0M568.3,190.2h0M558.2,201.0h0M564.3,192.1h0M560.7,210.3h0M550.8,202.5h0M561.2,202.8h0M539.9,217.8h0M549.1,208.9h0M559.3,199.4h0M563.9,201.6h0M539.1,211.2h0M553.1,200.5h0M556.9,195.1h0M543.5,215.4h0M538.1,206.1h0M554.3,197.7h0M559.8,194.2h0M536.9,211.9h0M564.6,192.9h0M553.8,198.3h0M560.4,198.2h0M547.1,194.5h0M563.8,193.4h0M550.4,203.1h0M561.4,194.5h0M554.1,193.9h0M542.0,209.4h0M558.1,199.4h0M555.1,202.1h0M545.9,207.8h0M542.2,222.5h0M554.7,197.8h0M567.9,188.5h0M541.5,205.6h0M550.9,194.8h0M556.3,199.6h0M572.8,189.0h0M559.4,220.1h0M555.7,215.4h0M579.5,179.5h0M570.7,188.6h0M554.6,193.0h0M559.4,196.0h0M556.3,216.2h0M541.1,211.6h0M553.0,202.3h0M556.8,191.0h0M561.2,189.0h0M548.4,216.1h0M556.5,199.5h0M546.0,211.2h0M560.0,202.5h0M553.9,196.9h0M548.0,202.2h0M557.4,212.2h0M553.3,199.4h0M561.7,192.6h0M560.9,199.9h0M555.8,199.9h0M561.3,201.7h0M562.5,207.6h0M554.0,198.3h0M560.9,194.8h0M558.9,208.4h0M561.0,191.1h0M546.1,202.3h0M562.6,186.5h0M557.7,207.2h0M535.9,217.5h0M532.6,208.2h0M553.2,196.8h0M552.7,212.1h0M549.2,226.5h0M556.1,195.3h0M547.3,212.4h0M548.5,200.5h0M557.2,203.4h0M550.1,202.4h0M552.1,204.9h0M543.0,212.8h0M546.7,211.0h0M554.2,204.5h0M571.0,191.0h0M542.7,213.2h0M556.4,198.0h0M554.5,226.5h0M561.2,194.4h0M550.1,199.8h0M560.7,207.5h0M566.3,192.4h0M549.0,201.6h0M555.6,199.7h0M547.7,204.3h0M559.7,192.5h0M549.0,194.6h0M554.4,226.5h0M547.6,212.9h0M548.4,208.7h0M562.1,191.0h0M533.7,201.9h0M576.4,180.0h0M557.5,203.1h0M556.6,198.8h0M538.2,219.3h0M561.7,197.2h0M554.3,226.5h0M571.3,192.0h0M544.4,198.4h0M556.9,200.7h0M542.2,212.5h0M563.8,190.9h0M545.2,207.7h0M553.1,209.8h0M554.3,205.4h0M581.1,184.8h0M552.9,214.5h0M543.1,221.4h0M552.1,222.0h0M562.7,198.4h0M541.5,219.9h0M554.3,201.4h0M557.9,226.5h0M538.5,210.0h0M539.9,212.6h0M544.5,209.6h0M556.8,210.9h0M547.4,213.3h0M546.2,214.1h0M562.2,192.2h0M544.0,213.5h0M552.2,200.2h0M558.2,199.0h0M557.1,193.4h0M563.7,198.6h0M557.3,220.3h0M552.3,196.5h0M540.6,208.0h0M547.4,207.3h0M556.3,199.3h0M547.4,201.4h0M537.2,203.5h0M554.3,223.4h0M554.9,212.0h0M558.5,208.7h0M550.6,197.2h0M535.3,211.7h0M557.6,217.6h0M547.0,194.9h0M550.3,218.4h0M548.7,222.3h0M556.4,206.4h0M552.8,212.6h0M547.8,195.6h0M575.2,178.8h0M557.9,197.9h0M548.6,205.0h0M564.4,196.4h0M559.1,190.8h0M558.3,192.1h0M575.7,182.7h0M564.4,192.4h0M553.1,199.0h0M571.4,184.0h0M562.3,191.1h0M551.4,202.5h0M551.3,201.7h0M561.5,198.5h0M537.0,214.2h0M549.2,221.2h0M545.9,216.9h0M555.4,201.1h0M549.5,208.1h0M542.5,201.8h0M546.7,205.9h0M556.0,210.9h0M550.4,203.5h0M578.5,177.0h0M555.0,199.3h0M548.6,209.8h0M559.9,193.8h0M543.7,202.4h0M557.3,215.9h0M540.6,215.6h0M573.1,188.4h0M561.2,197.4h0M557.4,202.5h0M551.4,203.3h0M553.9,224.4h0M561.1,209.8h0M562.0,196.9h0M543.0,211.1h0M554.3,201.8h0M542.0,195.7h0M549.6,205.2h0M548.6,205.5h0M534.6,211.1h0M565.6,187.3h0M545.8,203.5h0M550.8,202.0h0M570.1,182.3h0M565.5,189.3h0M565.3,205.5h0M554.2,202.7h0M547.5,215.6h0M560.2,205.0h0M552.5,193.9h0M536.8,216.9h0M560.4,196.7h0M561.9,200.8h0M553.0,198.2h0M560.4,200.9h0M554.0,207.6h0M545.2,213.8h0M549.9,196.1h0M551.5,223.7h0M558.7,198.9h0M569.3,190.9h0M541.4,215.5h0M564.7,203.1h0M554.9,212.0h0M553.1,212.4h0M557.6,201.0h0M551.8,204.3h0M558.6,202.4h0M552.2,212.6h0M558.9,199.5h0M560.8,191.3h0M550.8,217.3h0M562.6,198.8h0M558.1,200.3h0M549.0,211.1h0M540.9,201.9h0M566.5,195.6h0M548.5,196.9h0M557.1,212.5h0M550.0,207.8h0M557.9,194.9h0M553.3,200.5h0M551.2,202.7h0M547.8,214.3h0M561.4,207.4h0M550.8,213.5h0M550.9,211.9h0M552.0,202.0h0M543.3,220.5h0M559.8,208.4h0M560.1,192.7h0M553.1,214.6h0M563.2,195.0h0M554.1,195.7h0M549.8,213.1h0M541.9,222.8h0M561.5,198.7h0M566.3,198.8h0M554.8,197.3h0M530.2,202.4h0M558.6,204.6h0M541.0,219.0h0M547.0,207.7h0M556.8,200.6h0M548.6,217.8h0M546.3,196.4h0M565.0,198.7h0M558.2,213.0h0M538.9,215.3h0M569.2,193.4h0M562.0,200.4h0M554.2,209.4h0M565.3,195.7h0M560.5,201.4h0M560.2,200.1h0M544.9,220.7h0M544.3,209.0h0M556.1,202.8h0M539.6,211.2h0M555.6,199.0h0M555.8,203.0h0M554.9,198.8h0M558.2,202.6h0M548.2,218.9h0M547.8,213.7h0M561.7,198.4h0M538.7,207.8h0M547.5,216.7h0M549.9,195.2h0M563.8,198.2h0M549.6,206.9h0M553.7,197.1h0M553.3,208.9h0M551.5,205.6h0M561.4,207.2h0M558.0,201.1h0M556.0,212.5h0M555.1,201.8h0M569.3,193.4h0M544.7,209.3h0M565.1,189.8h0M568.4,187.8h0M570.1,182.7h0M549.6,223.5h0M550.2,205.9h0M566.5,189.4h0M561.7,202.4h0M557.0,199.8h0M558.3,198.9h0M549.1,207.8h0M538.7,202.0h0M571.6,188.9h0M548.3,226.5h0M557.6,209.5h0M545.2,204.1h0M545.7,202.4h0M562.0,194.8h0M569.0,192.1h0M543.3,213.9h0M553.7,198.4h0M562.6,197.2h0M536.8,204.3h0M546.8,198.5h0M543.9,201.7h0M550.1,207.1h0M553.3,193.0h0M562.6,197.5h0M546.9,200.7h0M546.1,204.9h0M555.9,201.5h0M550.7,207.0h0M561.5,196.0h0M562.2,199.8h0M560.9,199.2h0M562.9,189.0h0M539.2,202.9h0M554.4,200.2h0M563.0,192.6h0M547.4,207.9h0M550.6,223.3h0M545.2,198.0h0M548.2,206.4h0M559.2,191.2h0M559.7,196.5h0M561.7,221.9h0M530.2,192.7h0M552.2,199.5h0M548.6,209.7h0M550.1,197.2h0M539.1,203.5h0M534.3,204.2h0M557.0,194.3h0M538.5,202.9h0M548.0,204.9h0M549.6,201.4h0M530.2,200.0h0M563.1,191.1h0M551.2,198.8h0M557.4,207.5h0M571.7,188.0h0M567.9,191.3h0M564.3,194.2h0M554.1,203.1h0M561.5,211.9h0M545.3,199.8h0M556.4,197.1h0M553.0,199.2h0M562.3,195.9h0M545.8,201.2h0M544.3,198.2h0M545.2,204.5h0M555.4,213.6h0M549.7,205.5h0M565.6,192.0h0M549.0,202.0h0M544.8,210.4h0M559.4,198.0h0M560.9,190.6h0M559.2,196.6h0M562.6,186.6h0M557.3,200.9h0M554.0,215.4h0M550.7,202.9h0M559.2,196.3h0M542.7,210.4h0M550.1,211.7h0M552.1,211.8h0M541.3,204.2h0M558.1,193.2h0M543.1,195.2h0M545.6,210.9h0M550.7,207.6h0M560.3,209.4h0M559.2,197.3h0M557.8,202.3h0M563.6,193.6h0M552.7,204.6h0M558.0,204.4h0M548.3,192.0h0M551.3,197.5h0M530.2,204.4h0M541.1,211.4h0M544.0,204.7h0M565.0,199.1h0M565.5,188.4h0M548.1,195.7h0M554.1,201.3h0M567.1,192.3h0M558.9,200.5h0M563.2,192.3h0M545.4,206.3h0M542.9,214.0h0M548.4,222.6h0M551.3,200.7h0M558.2,207.8h0M561.0,196.7h0M559.0,205.0h0M560.2,197.8h0M560.8,196.4h0M549.5,217.8h0M567.7,194.9h0M549.1,198.8h0M556.1,197.4h0M538.7,220.5h0M547.7,209.9h0M553.6,210.7h0M562.7,196.2h0M563.4,191.1h0M571.4,178.1h0M562.9,198.3h0M551.1,206.8h0M541.0,210.7h0M552.8,196.3h0M542.7,208.5h0M562.6,191.4h0M561.0,195.8h0M548.2,199.2h0M558.5,204.9h0M565.5,191.1h0M563.1,193.7h0M563.1,187.7h0M530.2,215.4h0M530.2,206.1h0M530.2,212.1h0M530.2,223.8h0M530.2,213.7h0M530.2,219.9h0M530.2,218.7h0M530.2,201.8h0M530.2,214.0h0M530.2,207.2h0M530.2,222.4h0M530.2,210.1h0M530.2,223.4h0M530.2,220.7h0M530.2,223.2h0M530.2,225.9h0M530.2,202.8h0M530.2,201.4h0M530.2,216.9h0M530.2,226.2h0M530.2,207.4h0M530.2,209.2h0M530.2,225.3h0M530.2,206.5h0M530.2,224.7h0M592.8,162.5h0M589.5,166.8h0" stroke="#5cd85c" stroke-width="1.2" stroke-linecap="round" fill="none"/>
<path d="M547.7,214.6h0M562.9,190.8h0M563.4,196.1h0M560.0,197.0h0M585.0,172.7h0M563.2,196.1h0M554.7,201.7h0M549.2,219.2h0M563.5,192.4h0M577.9,177.1h0M554.2,197.3h0M556.5,201.5h0M550.9,207.1h0M553.7,201.6h0M568.9,189.2h0M565.4,195.3h0M560.9,196.6h0M549.7,210.0h0M563.5,193.4h0M552.2,207.6h0M566.4,189.6h0M556.2,198.4h0M570.2,186.5h0M550.0,209.8h0M559.6,197.1h0M556.9,202.7h0M554.2,205.2h0M578.9,178.4h0M558.4,203.0h0M547.1,211.4h0M547.1,206.9h0M567.0,190.8h0M554.3,206.2h0M566.1,190.3h0M555.8,207.7h0M563.5,193.7h0M542.2,206.9h0M568.9,189.8h0M569.9,186.3h0M550.6,211.7h0M556.0,202.0h0M554.1,200.7h0M564.0,190.2h0M562.1,198.3h0M560.3,199.6h0M550.1,206.5h0M553.8,200.3h0M568.6,190.7h0M574.7,181.2h0M567.0,191.4h0M566.0,188.7h0M583.2,172.4h0M551.4,206.0h0M562.7,193.2h0M542.8,208.4h0M559.0,194.7h0M573.8,184.0h0M563.1,194.0h0M549.6,205.2h0M570.2,185.7h0M579.3,179.0h0M568.1,188.3h0M549.7,206.6h0M548.9,206.6h0M555.7,199.7h0M572.7,182.7h0M553.9,206.8h0M563.7,193.8h0M553.8,204.0h0M575.4,181.4h0M566.3,192.3h0M568.2,190.4h0M543.1,206.1h0M548.6,210.0h0M549.6,200.8h0M582.0,176.8h0M553.4,201.5h0M553.7,205.4h0M565.7,191.3h0M575.4,180.1h0M546.8,210.0h0M560.0,197.0h0M563.9,190.5h0M577.1,176.9h0M564.5,192.8h0M570.0,187.1h0M550.7,205.4h0M544.5,211.6h0M555.8,196.9h0M584.9,170.9h0M567.6,191.2h0M559.7,196.4h0M546.2,207.5h0M551.9,204.3h0M569.6,187.5h0M577.7,179.6h0M560.7,191.4h0M558.8,198.5h0M543.4,213.1h0M552.0,204.1h0M559.7,196.6h0M560.0,197.3h0M563.4,192.3h0M570.8,186.0h0M565.9,193.5h0M581.0,179.1h0M558.2,199.5h0M565.9,191.0h0M559.5,198.9h0M575.0,185.1h0M555.0,203.1h0M551.4,204.5h0M554.7,207.6h0M557.0,200.6h0M539.9,210.9h0M567.9,190.6h0M555.3,204.6h0M562.9,195.5h0M542.1,204.6h0M563.0,193.8h0M551.0,203.7h0M545.1,216.7h0M555.5,201.4h0M558.2,197.7h0M569.0,188.1h0M576.7,180.6h0M545.3,213.4h0M556.8,199.4h0M571.6,185.8h0M554.2,205.2h0M549.8,206.5h0M546.2,207.0h0M551.4,205.7h0M562.0,193.9h0M546.9,214.6h0M545.4,212.8h0M565.2,190.4h0M549.3,212.5h0M581.3,176.0h0M581.5,176.0h0M557.7,198.2h0M548.4,212.4h0M552.9,202.0h0M564.8,192.7h0M552.2,205.2h0M558.6,198.4h0M558.2,197.7h0M543.9,208.8h0M556.3,205.6h0M567.4,186.6h0M561.3,196.3h0M561.7,195.3h0M581.0,176.0h0M559.8,195.7h0M568.7,189.7h0M544.9,211.6h0M549.7,207.6h0M546.0,215.8h0M564.8,190.4h0M564.8,189.7h0M552.7,201.1h0M568.5,189.2h0M545.3,212.3h0M565.6,190.6h0M586.6,167.7h0M576.4,182.6h0M554.8,199.1h0M572.0,181.0h0M558.5,195.7h0M559.4,196.3h0M546.7,212.7h0M572.3,182.3h0M567.6,189.2h0M551.6,203.4h0M567.3,191.1h0M554.0,196.9h0M569.5,187.8h0M549.2,210.3h0M568.6,189.5h0M565.0,190.0h0M564.9,193.6h0M558.5,198.9h0M565.8,190.1h0M545.6,207.0h0M566.2,188.5h0M569.1,187.2h0M557.3,197.8h0M559.5,195.6h0M554.0,203.2h0M548.7,204.8h0M553.1,207.9h0M572.3,184.9h0M570.1,185.6h0M556.6,202.2h0M549.6,207.9h0M558.9,196.3h0M561.3,193.4h0M549.4,200.9h0M543.4,209.1h0M564.0,192.7h0M545.0,210.5h0M585.6,171.2h0M562.9,190.6h0M555.8,204.2h0M541.2,210.9h0M551.1,205.1h0M565.3,188.7h0M565.6,187.1h0M550.1,208.1h0M544.6,208.3h0M556.0,205.4h0M550.1,210.4h0M581.8,174.3h0M550.4,206.2h0M547.3,207.7h0M544.2,206.0h0M550.2,203.2h0M561.2,195.0h0M546.1,215.6h0M567.5,188.8h0M576.5,180.8h0M568.4,188.3h0M567.9,186.0h0M549.4,204.1h0M547.5,209.5h0M546.2,205.3h0M567.6,189.8h0M579.8,179.7h0M552.9,211.8h0M570.2,186.6h0M565.5,190.2h0M553.9,204.6h0M573.2,181.7h0M555.2,198.2h0M559.2,198.0h0M550.9,207.8h0M548.1,207.4h0M557.0,202.1h0M566.0,190.3h0M553.8,205.5h0M556.5,197.8h0M561.2,196.4h0M558.8,197.8h0M575.7,180.1h0M569.2,189.8h0M577.8,177.0h0M565.4,191.4h0M587.6,170.9h0M571.8,186.6h0M564.8,190.2h0M583.6,170.4h0M568.7,189.0h0M562.3,195.8h0M559.8,198.3h0M561.6,193.9h0M570.2,185.6h0M565.8,189.2h0M562.5,195.0h0M571.7,183.2h0M553.1,203.4h0M548.7,210.3h0M587.0,170.6h0M565.9,189.4h0M566.3,191.2h0M581.7,174.4h0M573.3,182.8h0M555.6,199.9h0M561.4,192.9h0M557.1,203.4h0M540.1,209.4h0M563.1,191.0h0M578.0,175.7h0M561.6,196.5h0M564.2,191.5h0M549.9,211.2h0M542.0,208.4h0M569.0,187.0h0M560.9,198.6h0M548.3,210.8h0M554.9,201.9h0M555.9,198.8h0M559.2,195.8h0M558.8,196.1h0M556.4,200.5h0M543.1,213.0h0M567.6,189.2h0M569.3,185.8h0M566.4,190.7h0M544.5,210.7h0M574.3,184.5h0M561.8,197.0h0M563.0,192.4h0M555.5,203.7h0M559.9,197.6h0M560.7,196.1h0M578.6,178.0h0M550.3,208.1h0M555.7,201.4h0M573.4,180.7h0M555.0,199.8h0M582.1,173.0h0M545.9,208.1h0M553.9,197.5h0M551.2,208.9h0M560.8,195.5h0M568.4,188.6h0M546.3,215.5h0M573.5,183.6h0M558.7,201.1h0M562.6,195.5h0M548.4,204.5h0M557.8,195.3h0M547.3,204.3h0M545.3,203.6h0M565.2,191.7h0M546.0,209.5h0M570.3,188.6h0M559.1,199.9h0M565.1,189.8h0M566.5,189.5h0M582.8,171.1h0M562.3,194.2h0M582.9,172.0h0M553.2,198.0h0M570.1,184.9h0M553.7,201.0h0M569.5,187.0h0M572.3,184.4h0M564.5,192.0h0M561.9,194.5h0M556.6,201.9h0M554.2,202.0h0M574.0,182.1h0M577.1,178.4h0M584.5,172.7h0M561.9,196.5h0M548.1,208.1h0M575.8,179.8h0M570.3,186.1h0M573.2,181.8h0M542.5,208.8h0M555.0,204.1h0M553.5,208.6h0M542.0,205.1h0M576.0,179.1h0M553.7,203.7h0M541.3,208.4h0M558.1,198.5h0M572.3,186.8h0M561.6,196.2h0M547.6,217.4h0M557.5,200.9h0M566.6,190.7h0M558.9,200.6h0M546.9,211.7h0M566.2,190.3h0M546.6,216.1h0M563.2,194.6h0M580.8,175.7h0M559.5,197.0h0M562.4,197.0h0M546.8,209.8h0M560.0,198.1h0M555.5,198.8h0M543.3,211.2h0M558.1,198.7h0M579.0,178.7h0M568.5,189.6h0M556.3,202.6h0M572.8,182.4h0M575.4,179.4h0M576.3,180.8h0M552.2,201.4h0M558.4,202.1h0M577.0,178.5h0M574.9,185.3h0M571.5,187.5h0M559.0,199.8h0M571.5,183.5h0M562.7,194.2h0M567.0,190.8h0M547.2,209.4h0M544.9,208.2h0M556.4,198.9h0M550.4,207.0h0M550.3,205.3h0M563.8,194.0h0M562.8,195.5h0M560.2,194.2h0M578.3,182.6h0M570.0,189.1h0M571.7,184.2h0M566.2,189.4h0M554.0,204.3h0M560.1,195.5h0M545.6,214.9h0M559.8,197.1h0M548.2,205.5h0M557.4,195.8h0M573.3,183.3h0M572.7,185.4h0M554.0,204.2h0M545.1,207.6h0M574.3,181.5h0M551.7,206.5h0M560.8,197.5h0M544.7,210.7h0M547.6,209.1h0M555.5,198.9h0M546.6,209.7h0M538.1,209.7h0M559.4,196.4h0M559.3,194.8h0M558.0,200.0h0M571.0,185.8h0M559.1,198.9h0M550.4,203.0h0M572.9,182.7h0M556.6,201.6h0M571.8,188.7h0M549.1,205.7h0M545.0,214.3h0M558.0,201.5h0M578.3,180.2h0M560.4,193.5h0M574.3,181.7h0M555.8,203.9h0M564.3,190.8h0M555.6,200.3h0M556.8,197.4h0M576.5,180.0h0M568.0,190.3h0M584.8,173.0h0M550.8,204.3h0M570.9,188.3h0M548.1,218.2h0M553.1,202.9h0M555.7,202.5h0M557.5,199.0h0M552.1,210.0h0M563.8,192.8h0M584.3,173.3h0M575.2,181.1h0M561.3,195.1h0M569.9,187.2h0M552.8,205.0h0M566.4,189.4h0M567.5,189.8h0M579.3,179.3h0M561.0,196.6h0M567.2,189.1h0M573.4,185.5h0M548.9,199.3h0M574.8,181.9h0M566.6,188.4h0M544.9,210.9h0M546.4,209.7h0M552.9,209.6h0M554.7,203.2h0M548.8,212.2h0M555.3,204.5h0M557.4,201.4h0M555.6,198.2h0M556.7,196.3h0M553.9,203.9h0M553.7,202.0h0M545.8,209.1h0M565.2,195.4h0M549.4,205.9h0M557.6,198.3h0M569.9,188.1h0M565.2,190.4h0M569.2,188.3h0M563.5,195.0h0M555.9,201.1h0M571.8,183.7h0M570.6,187.3h0M577.9,180.8h0M556.2,205.9h0M553.2,200.3h0M556.5,199.4h0M551.7,208.6h0M566.3,191.3h0M548.9,216.6h0M566.2,192.2h0M564.3,192.9h0M568.8,188.1h0M575.3,180.6h0M548.3,209.4h0M561.6,195.8h0M563.4,193.9h0M569.4,189.0h0M577.5,178.1h0M570.2,186.7h0M552.6,203.2h0M558.1,194.7h0M562.0,193.6h0M555.1,199.6h0M547.4,204.0h0M559.9,196.0h0M555.5,206.8h0M554.1,200.6h0M546.0,213.6h0M580.6,175.8h0M561.0,195.7h0M553.5,202.3h0M586.0,171.8h0M579.7,176.7h0M579.5,175.8h0M569.5,186.2h0M544.5,214.2h0M576.7,180.6h0M567.5,189.3h0M553.0,202.5h0M562.5,193.4h0M554.4,198.0h0M583.4,171.6h0M565.2,192.7h0M562.7,195.7h0M570.1,187.1h0M566.7,191.6h0M574.3,181.6h0M551.8,203.8h0M567.5,187.3h0M556.2,201.5h0M564.5,191.3h0M553.0,202.7h0M554.4,203.2h0M563.2,194.7h0M550.9,209.5h0M561.0,195.0h0M554.3,202.6h0M557.8,196.4h0M558.9,200.3h0M590.8,165.2h0M558.3,198.4h0M556.5,198.5h0M549.9,208.2h0M561.4,196.8h0M549.2,215.2h0M553.8,208.6h0M575.5,182.6h0M561.1,195.9h0M567.4,188.8h0M560.6,197.2h0M558.0,197.9h0M552.4,208.3h0M550.2,201.2h0M559.7,195.4h0M556.4,202.5h0M577.6,178.0h0M552.9,207.8h0M559.1,197.5h0M551.9,202.1h0M572.3,184.1h0M590.9,164.3h0M545.2,210.4h0M580.0,177.8h0M547.9,203.9h0M553.4,203.3h0M563.9,193.5h0M571.7,183.0h0M542.9,213.4h0M566.5,189.4h0M563.3,193.3h0M573.1,183.3h0M555.8,202.3h0M571.0,184.8h0M558.5,196.9h0M552.7,214.1h0M553.1,202.7h0M555.6,199.2h0M558.7,197.8h0M564.1,191.8h0M544.3,211.9h0M569.2,189.5h0M559.2,197.1h0M554.5,207.2h0M552.9,202.3h0M559.6,196.8h0M561.4,196.0h0M579.7,177.8h0M563.9,190.6h0M585.5,172.0h0M570.0,186.3h0M559.0,197.0h0M558.0,197.9h0M570.0,188.4h0M559.6,196.6h0M569.6,186.8h0M566.0,189.7h0M575.7,180.3h0M567.9,191.4h0M564.7,191.7h0M569.8,189.2h0M551.8,211.9h0M569.2,187.5h0M557.5,198.3h0M580.6,175.2h0M561.7,196.1h0M559.9,198.0h0M577.1,182.0h0M558.8,198.3h0M560.6,196.6h0M576.8,180.6h0M557.9,197.3h0M550.2,216.5h0M564.3,191.8h0M570.5,186.7h0M545.8,209.8h0M556.8,199.0h0M556.6,202.1h0M546.1,204.2h0M550.8,205.2h0M558.1,215.7h0M564.3,192.8h0M559.4,193.4h0M547.3,209.6h0M562.6,194.9h0M568.9,187.1h0M569.5,191.4h0M553.5,204.8h0M577.1,180.5h0M570.3,185.1h0M560.2,196.8h0M553.1,205.4h0M550.0,208.5h0M563.4,194.6h0M543.0,209.7h0M544.4,214.1h0M555.7,201.3h0M563.7,192.5h0M549.7,206.3h0M552.8,202.3h0M551.2,201.7h0M566.3,191.4h0M557.9,199.0h0M557.3,201.0h0M577.1,182.1h0M571.3,186.2h0M554.4,201.3h0M547.0,215.3h0M556.8,197.1h0M577.1,179.2h0M584.6,171.1h0M569.6,188.4h0M545.1,214.5h0M576.1,182.1h0M558.0,196.2h0M553.9,202.3h0M548.0,206.9h0M564.4,191.3h0M552.9,204.0h0M556.8,200.0h0M555.3,205.3h0M543.8,211.5h0M564.3,192.7h0M568.9,190.5h0M557.5,199.5h0M559.4,195.6h0M553.1,198.8h0M553.4,204.1h0M556.3,203.4h0M557.0,198.5h0M561.3,195.5h0M567.2,189.2h0M574.0,182.6h0M569.3,187.9h0M563.5,194.6h0M552.8,202.4h0M562.0,195.0h0M559.9,196.9h0M556.4,199.6h0M571.7,182.8h0M563.9,190.7h0M553.7,205.4h0M563.8,192.6h0M572.6,183.4h0M562.9,194.2h0M564.0,194.8h0M566.6,192.1h0M557.1,200.6h0M574.2,181.2h0M560.6,196.6h0M551.5,204.8h0M563.4,193.5h0M584.5,169.7h0M561.9,193.7h0M560.0,195.5h0M570.5,185.6h0M573.6,184.6h0M562.5,195.5h0M567.0,186.4h0M557.3,203.3h0M540.8,211.9h0M563.5,193.6h0M555.0,201.0h0M563.3,194.3h0M544.2,215.5h0M557.7,200.8h0M542.6,209.2h0M557.1,200.5h0M552.4,213.2h0M550.0,203.8h0M569.1,184.7h0M571.0,186.6h0M549.9,204.7h0M566.8,188.7h0M543.6,209.1h0M550.5,206.0h0M557.5,196.3h0M562.2,194.1h0M550.5,217.4h0M543.8,207.0h0M546.1,211.6h0M567.2,189.9h0M574.4,183.4h0M556.1,205.8h0M551.8,205.8h0M561.7,196.8h0M560.2,197.1h0M550.3,215.6h0M562.9,195.2h0M555.2,201.3h0M559.9,199.4h0M556.4,204.6h0M557.2,198.6h0M564.1,189.6h0M556.7,197.4h0M557.2,199.8h0M566.4,190.4h0M567.9,185.2h0M564.8,191.8h0M568.1,188.4h0M544.2,211.0h0M571.6,185.7h0M561.4,194.2h0M557.6,199.6h0M579.6,175.2h0M561.0,194.3h0M550.1,217.8h0M548.6,213.9h0M572.5,184.9h0M560.9,195.7h0M566.4,191.0h0M567.4,190.4h0M544.5,205.7h0M553.8,202.0h0M556.9,198.4h0M559.9,192.7h0" stroke="#f248f2" stroke-width="1.3" stroke-linecap="round" fill="none"/>
<circle cx="537.3" cy="134.4" r="0.75" fill="#6ee86e"/>
<text x="541.00" y="136.70" font-size="6.4" fill="#231f20" stroke="#231f20" stroke-width="0.18">Group II (r = 0.90)</text>
<circle cx="537.3" cy="142.8" r="0.75" fill="#f070f0"/>
<text x="541.00" y="145.10" font-size="6.4" fill="#231f20" stroke="#231f20" stroke-width="0.18">Group III (r = 0.92)</text>
<text x="577.2" y="245.2" font-size="7.4" text-anchor="middle" fill="#231f20" stroke="#231f20" stroke-width="0.18">log<tspan font-size="4.8" dy="1.6">2</tspan><tspan dy="-1.6"> promoter activity in rep 1 [A.U.]</tspan></text>
<text x="517.5" y="176" font-size="7.2" text-anchor="middle" fill="#231f20" transform="rotate(-90 517.5 176)" stroke="#231f20" stroke-width="0.18">log<tspan font-size="4.7" dy="1.6">2</tspan><tspan dy="-1.6"> promoter activity in rep 2 [A.U.]</tspan></text>
<text x="1.50" y="278.30" font-size="10.5" font-weight="bold" fill="#000" stroke="#000" stroke-width="0.06">F</text>
<g>
<path d="M78.3 320h7.4v1h-7.4z" fill="#6796c6" shape-rendering="crispEdges"/>
<path d="M115.3 277h7.4v1h-7.4zM93.1 286h7.4v1h-7.4zM70.8 307h7.4v1h-7.4z" fill="#73a1cb" shape-rendering="crispEdges"/>
<path d="M107.9 277h7.4v1h-7.4zM70.8 286h7.4v1h-7.4zM100.5 299h7.4v1h-7.4zM115.3 299h7.4v1h-7.4zM115.3 435h7.4v1h-7.4z" fill="#89b8d7" shape-rendering="crispEdges"/>
<path d="M78.3 276h7.4v1h-7.4zM107.9 276h7.4v1h-7.4zM100.5 280h7.4v1h-7.4zM78.3 292h7.4v1h-7.4zM122.7 293h7.4v1h-7.4zM70.8 301h7.4v1h-7.4zM107.9 315h7.4v1h-7.4zM100.5 409h7.4v1h-7.4zM115.3 436h7.4v1h-7.4zM85.7 446h7.4v1h-7.4z" fill="#95c2dc" shape-rendering="crispEdges"/>
<path d="M115.3 275h7.4v1h-7.4zM100.5 278h7.4v1h-7.4zM93.1 282h7.4v1h-7.4zM78.3 297h7.4v1h-7.4zM70.8 303h7.4v1h-7.4zM122.7 322h7.4v1h-7.4zM107.9 398h7.4v1h-7.4zM122.7 409h7.4v1h-7.4zM122.7 426h7.4v1h-7.4zM78.3 449h7.4v1h-7.4zM93.1 449h7.4v1h-7.4z" fill="#a1c9e1" shape-rendering="crispEdges"/>
<path d="M107.9 275h7.4v1h-7.4zM85.7 277h7.4v1h-7.4zM78.3 279h7.4v1h-7.4zM93.1 280h7.4v1h-7.4zM93.1 283h7.4v1h-7.4zM85.7 286h7.4v1h-7.4zM70.8 292h7.4v1h-7.4zM70.8 294h7.4v1h-7.4zM70.8 309h7.4v1h-7.4zM78.3 318h7.4v1h-7.4zM70.8 349h7.4v1h-7.4zM107.9 402h7.4v1h-7.4zM115.3 404h7.4v1h-7.4zM122.7 417h7.4v1h-7.4zM115.3 423h14.8v1h-14.8zM100.5 425h7.4v1h-7.4z" fill="#add1e5" shape-rendering="crispEdges"/>
<path d="M100.5 275h7.4v1h-7.4zM122.7 277h7.4v1h-7.4zM70.8 278h7.4v1h-7.4zM85.7 278h7.4v1h-7.4zM115.3 278h7.4v1h-7.4zM70.8 285h7.4v1h-7.4zM93.1 285h7.4v1h-7.4zM78.3 286h7.4v1h-7.4zM70.8 287h7.4v1h-7.4zM78.3 288h14.8v1h-14.8zM107.9 289h14.8v1h-14.8zM78.3 294h7.4v1h-7.4zM93.1 302h7.4v1h-7.4zM100.5 303h7.4v1h-7.4zM70.8 308h7.4v1h-7.4zM93.1 320h7.4v1h-7.4zM78.3 344h7.4v1h-7.4zM115.3 374h7.4v1h-7.4zM107.9 376h14.8v1h-14.8zM122.7 385h7.4v1h-7.4zM115.3 386h7.4v1h-7.4zM100.5 399h7.4v1h-7.4zM115.3 405h7.4v1h-7.4zM107.9 406h7.4v1h-7.4zM122.7 408h7.4v1h-7.4zM107.9 409h7.4v1h-7.4zM100.5 410h14.8v1h-14.8zM100.5 420h7.4v1h-7.4zM122.7 425h7.4v1h-7.4zM107.9 428h7.4v1h-7.4zM100.5 435h7.4v1h-7.4zM70.8 436h7.4v1h-7.4zM100.5 436h7.4v1h-7.4zM100.5 438h7.4v1h-7.4zM107.9 455h7.4v1h-7.4zM122.7 455h7.4v1h-7.4zM85.7 457h7.4v1h-7.4zM70.8 461h14.8v1h-14.8zM122.7 461h7.4v1h-7.4zM122.7 469h7.4v1h-7.4zM85.7 470h7.4v1h-7.4zM122.7 470h7.4v1h-7.4zM115.3 471h7.4v1h-7.4z" fill="#b8d9ea" shape-rendering="crispEdges"/>
<path d="M78.3 278h7.4v1h-7.4zM107.9 279h7.4v1h-7.4zM85.7 280h7.4v1h-7.4zM85.7 282h7.4v1h-7.4zM85.7 285h7.4v1h-7.4zM122.7 287h7.4v1h-7.4zM93.1 292h7.4v1h-7.4zM100.5 293h14.8v1h-14.8zM100.5 301h7.4v1h-7.4zM85.7 307h7.4v1h-7.4zM78.3 309h14.8v1h-14.8zM100.5 313h7.4v1h-7.4zM85.7 315h7.4v1h-7.4zM115.3 316h7.4v1h-7.4zM78.3 317h7.4v1h-7.4zM85.7 322h7.4v1h-7.4zM78.3 334h7.4v1h-7.4zM78.3 348h7.4v1h-7.4zM107.9 385h7.4v1h-7.4zM41.2 396h7.4v1h-7.4zM63.4 396h7.4v1h-7.4zM100.5 402h7.4v1h-7.4zM100.5 403h14.8v1h-14.8zM122.7 403h7.4v1h-7.4zM100.5 405h7.4v1h-7.4zM100.5 407h14.8v1h-14.8zM70.8 408h7.4v1h-7.4zM107.9 408h7.4v1h-7.4zM70.8 411h7.4v1h-7.4zM115.3 414h7.4v1h-7.4zM107.9 415h7.4v1h-7.4zM107.9 416h7.4v1h-7.4zM100.5 421h7.4v1h-7.4zM122.7 421h7.4v1h-7.4zM115.3 422h14.8v1h-14.8zM122.7 424h7.4v1h-7.4zM115.3 425h7.4v1h-7.4zM115.3 428h7.4v1h-7.4zM115.3 434h7.4v1h-7.4zM115.3 437h7.4v1h-7.4zM107.9 438h7.4v1h-7.4zM100.5 446h7.4v1h-7.4zM85.7 456h7.4v1h-7.4zM107.9 459h7.4v1h-7.4zM93.1 461h7.4v1h-7.4zM115.3 465h7.4v1h-7.4zM100.5 469h7.4v1h-7.4zM107.9 471h7.4v1h-7.4z" fill="#c4e1ee" shape-rendering="crispEdges"/>
<path d="M122.7 276h7.4v1h-7.4zM100.5 277h7.4v1h-7.4zM115.3 279h7.4v1h-7.4zM85.7 281h7.4v1h-7.4zM122.7 286h7.4v1h-7.4zM70.8 288h7.4v1h-7.4zM70.8 290h7.4v1h-7.4zM107.9 292h7.4v1h-7.4zM85.7 294h7.4v1h-7.4zM85.7 295h7.4v1h-7.4zM100.5 295h7.4v1h-7.4zM122.7 296h7.4v1h-7.4zM100.5 297h7.4v1h-7.4zM78.3 299h7.4v1h-7.4zM115.3 301h7.4v1h-7.4zM93.1 305h7.4v1h-7.4zM122.7 308h7.4v1h-7.4zM93.1 309h7.4v1h-7.4zM93.1 311h7.4v1h-7.4zM85.7 317h7.4v1h-7.4zM85.7 318h7.4v1h-7.4zM107.9 321h7.4v1h-7.4zM93.1 334h7.4v1h-7.4zM100.5 371h7.4v1h-7.4zM122.7 376h7.4v1h-7.4zM107.9 386h7.4v1h-7.4zM107.9 388h7.4v1h-7.4zM63.4 391h14.8v1h-14.8zM78.3 394h7.4v1h-7.4zM48.6 395h7.4v1h-7.4zM115.3 399h7.4v1h-7.4zM122.7 400h7.4v1h-7.4zM122.7 404h7.4v1h-7.4zM70.8 405h7.4v1h-7.4zM122.7 405h7.4v1h-7.4zM122.7 406h7.4v1h-7.4zM100.5 411h29.6v1h-29.6zM100.5 416h7.4v1h-7.4zM100.5 419h7.4v1h-7.4zM107.9 420h7.4v1h-7.4zM100.5 422h7.4v1h-7.4zM107.9 423h7.4v1h-7.4zM107.9 425h7.4v1h-7.4zM100.5 429h7.4v1h-7.4zM115.3 431h7.4v1h-7.4zM78.3 433h7.4v1h-7.4zM107.9 434h7.4v1h-7.4zM107.9 435h7.4v1h-7.4zM107.9 436h7.4v1h-7.4zM122.7 437h7.4v1h-7.4zM122.7 438h7.4v1h-7.4zM115.3 439h7.4v1h-7.4zM85.7 447h7.4v1h-7.4zM70.8 450h7.4v1h-7.4zM107.9 450h7.4v1h-7.4zM115.3 455h7.4v1h-7.4zM70.8 457h7.4v1h-7.4zM100.5 460h7.4v1h-7.4zM122.7 464h7.4v1h-7.4zM107.9 466h7.4v1h-7.4zM100.5 471h7.4v1h-7.4zM115.3 473h7.4v1h-7.4z" fill="#d0e9f2" shape-rendering="crispEdges"/>
<path d="M115.3 280h14.8v1h-14.8zM100.5 281h7.4v1h-7.4zM107.9 282h7.4v1h-7.4zM122.7 282h7.4v1h-7.4zM70.8 283h7.4v1h-7.4zM85.7 283h7.4v1h-7.4zM70.8 284h7.4v1h-7.4zM100.5 289h7.4v1h-7.4zM70.8 296h14.8v1h-14.8zM93.1 296h7.4v1h-7.4zM122.7 299h7.4v1h-7.4zM85.7 300h7.4v1h-7.4zM78.3 303h7.4v1h-7.4zM122.7 305h7.4v1h-7.4zM100.5 306h7.4v1h-7.4zM115.3 309h7.4v1h-7.4zM85.7 311h7.4v1h-7.4zM93.1 312h7.4v1h-7.4zM122.7 312h7.4v1h-7.4zM115.3 313h7.4v1h-7.4zM107.9 316h7.4v1h-7.4zM70.8 317h7.4v1h-7.4zM93.1 317h7.4v1h-7.4zM78.3 321h7.4v1h-7.4zM100.5 322h7.4v1h-7.4zM78.3 324h14.8v1h-14.8zM70.8 330h7.4v1h-7.4zM78.3 337h7.4v1h-7.4zM85.7 343h7.4v1h-7.4zM78.3 352h7.4v1h-7.4zM122.7 371h7.4v1h-7.4zM115.3 380h7.4v1h-7.4zM122.7 381h7.4v1h-7.4zM115.3 385h7.4v1h-7.4zM100.5 388h7.4v1h-7.4zM122.7 388h7.4v1h-7.4zM122.7 389h7.4v1h-7.4zM100.5 390h7.4v1h-7.4zM122.7 390h7.4v1h-7.4zM41.2 391h22.2v1h-22.2zM41.2 393h7.4v1h-7.4zM48.6 394h7.4v1h-7.4zM56.0 396h7.4v1h-7.4zM48.6 397h22.2v1h-22.2zM100.5 398h7.4v1h-7.4zM122.7 399h7.4v1h-7.4zM93.1 400h7.4v1h-7.4zM107.9 401h7.4v1h-7.4zM122.7 402h7.4v1h-7.4zM115.3 403h7.4v1h-7.4zM107.9 404h7.4v1h-7.4zM107.9 405h7.4v1h-7.4zM100.5 406h7.4v1h-7.4zM115.3 407h7.4v1h-7.4zM78.3 409h7.4v1h-7.4zM115.3 409h7.4v1h-7.4zM107.9 412h7.4v1h-7.4zM100.5 414h7.4v1h-7.4zM70.8 415h7.4v1h-7.4zM70.8 416h14.8v1h-14.8zM107.9 417h14.8v1h-14.8zM122.7 419h7.4v1h-7.4zM107.9 426h7.4v1h-7.4zM100.5 427h7.4v1h-7.4zM115.3 427h14.8v1h-14.8zM100.5 428h7.4v1h-7.4zM122.7 428h7.4v1h-7.4zM107.9 430h7.4v1h-7.4zM122.7 431h7.4v1h-7.4zM78.3 432h7.4v1h-7.4zM115.3 432h7.4v1h-7.4zM70.8 433h7.4v1h-7.4zM107.9 433h7.4v1h-7.4zM122.7 436h7.4v1h-7.4zM85.7 438h7.4v1h-7.4zM115.3 438h7.4v1h-7.4zM122.7 439h7.4v1h-7.4zM122.7 441h7.4v1h-7.4zM107.9 443h7.4v1h-7.4zM107.9 444h7.4v1h-7.4zM100.5 448h7.4v1h-7.4zM100.5 449h7.4v1h-7.4zM122.7 452h7.4v1h-7.4zM93.1 453h7.4v1h-7.4zM122.7 454h7.4v1h-7.4zM115.3 456h14.8v1h-14.8zM122.7 458h7.4v1h-7.4zM100.5 459h7.4v1h-7.4zM115.3 459h7.4v1h-7.4zM85.7 460h7.4v1h-7.4zM115.3 460h14.8v1h-14.8zM85.7 461h7.4v1h-7.4zM107.9 461h7.4v1h-7.4zM70.8 462h7.4v1h-7.4zM107.9 463h7.4v1h-7.4zM122.7 463h7.4v1h-7.4zM93.1 465h7.4v1h-7.4zM115.3 466h7.4v1h-7.4zM85.7 468h7.4v1h-7.4zM70.8 469h7.4v1h-7.4zM107.9 469h7.4v1h-7.4zM85.7 472h7.4v1h-7.4zM70.8 473h7.4v1h-7.4zM107.9 473h7.4v1h-7.4zM70.8 474h7.4v1h-7.4zM107.9 475h7.4v1h-7.4z" fill="#dcf0f7" shape-rendering="crispEdges"/>
<path d="M78.3 275h7.4v1h-7.4zM122.7 275h7.4v1h-7.4zM70.8 279h7.4v1h-7.4zM70.8 281h7.4v1h-7.4zM107.9 281h7.4v1h-7.4zM78.3 284h7.4v1h-7.4zM100.5 284h7.4v1h-7.4zM115.3 286h7.4v1h-7.4zM93.1 288h7.4v1h-7.4zM115.3 290h7.4v1h-7.4zM85.7 291h7.4v1h-7.4zM115.3 292h7.4v1h-7.4zM85.7 293h7.4v1h-7.4zM115.3 297h7.4v1h-7.4zM115.3 298h7.4v1h-7.4zM115.3 300h7.4v1h-7.4zM85.7 301h7.4v1h-7.4zM115.3 303h7.4v1h-7.4zM78.3 305h7.4v1h-7.4zM107.9 306h7.4v1h-7.4zM78.3 308h22.2v1h-22.2zM107.9 309h7.4v1h-7.4zM78.3 310h7.4v1h-7.4zM85.7 312h7.4v1h-7.4zM122.7 315h7.4v1h-7.4zM100.5 317h7.4v1h-7.4zM85.7 320h7.4v1h-7.4zM115.3 321h7.4v1h-7.4zM107.9 322h7.4v1h-7.4zM93.1 326h7.4v1h-7.4zM85.7 332h7.4v1h-7.4zM85.7 334h7.4v1h-7.4zM78.3 336h7.4v1h-7.4zM70.8 337h7.4v1h-7.4zM78.3 339h7.4v1h-7.4zM226.5 340h7.4v1h-7.4zM70.8 341h7.4v1h-7.4zM70.8 350h7.4v1h-7.4zM256.2 352h7.4v1h-7.4zM78.3 357h7.4v1h-7.4zM263.6 364h7.4v1h-7.4zM78.3 366h7.4v1h-7.4zM107.9 371h7.4v1h-7.4zM100.5 383h7.4v1h-7.4zM100.5 385h7.4v1h-7.4zM100.5 386h7.4v1h-7.4zM122.7 387h7.4v1h-7.4zM115.3 388h7.4v1h-7.4zM85.7 391h7.4v1h-7.4zM41.2 392h7.4v1h-7.4zM63.4 392h7.4v1h-7.4zM78.3 393h7.4v1h-7.4zM41.2 395h7.4v1h-7.4zM63.4 395h7.4v1h-7.4zM85.7 395h7.4v1h-7.4zM48.6 396h7.4v1h-7.4zM41.2 397h7.4v1h-7.4zM107.9 399h7.4v1h-7.4zM78.3 400h7.4v1h-7.4zM100.5 400h22.2v1h-22.2zM122.7 401h7.4v1h-7.4zM122.7 410h7.4v1h-7.4zM122.7 412h7.4v1h-7.4zM107.9 413h7.4v1h-7.4zM122.7 413h7.4v1h-7.4zM100.5 415h7.4v1h-7.4zM122.7 415h7.4v1h-7.4zM115.3 416h7.4v1h-7.4zM78.3 417h14.8v1h-14.8zM100.5 417h7.4v1h-7.4zM93.1 418h7.4v1h-7.4zM115.3 419h7.4v1h-7.4zM115.3 421h7.4v1h-7.4zM107.9 422h7.4v1h-7.4zM100.5 426h7.4v1h-7.4zM70.8 427h7.4v1h-7.4zM107.9 427h7.4v1h-7.4zM115.3 429h7.4v1h-7.4zM100.5 430h7.4v1h-7.4zM107.9 431h7.4v1h-7.4zM100.5 432h7.4v1h-7.4zM100.5 433h7.4v1h-7.4zM78.3 434h7.4v1h-7.4zM100.5 437h14.8v1h-14.8zM56.0 446h7.4v1h-7.4zM41.2 447h7.4v1h-7.4zM56.0 447h7.4v1h-7.4zM70.8 447h7.4v1h-7.4zM115.3 449h7.4v1h-7.4zM70.8 451h7.4v1h-7.4zM115.3 451h7.4v1h-7.4zM63.4 452h7.4v1h-7.4zM70.8 455h7.4v1h-7.4zM115.3 461h7.4v1h-7.4zM115.3 463h7.4v1h-7.4zM115.3 464h7.4v1h-7.4zM122.7 468h7.4v1h-7.4zM100.5 470h7.4v1h-7.4zM93.1 471h7.4v1h-7.4zM122.7 471h7.4v1h-7.4zM115.3 472h7.4v1h-7.4zM78.3 473h7.4v1h-7.4zM100.5 473h7.4v1h-7.4z" fill="#e3f4f2" shape-rendering="crispEdges"/>
<path d="M93.1 276h7.4v1h-7.4zM78.3 277h7.4v1h-7.4zM93.1 278h7.4v1h-7.4zM85.7 279h22.2v1h-22.2zM70.8 280h7.4v1h-7.4zM100.5 283h7.4v1h-7.4zM115.3 283h7.4v1h-7.4zM100.5 286h7.4v1h-7.4zM122.7 288h7.4v1h-7.4zM78.3 289h7.4v1h-7.4zM115.3 291h7.4v1h-7.4zM78.3 293h7.4v1h-7.4zM93.1 294h7.4v1h-7.4zM107.9 294h7.4v1h-7.4zM70.8 295h7.4v1h-7.4zM85.7 297h7.4v1h-7.4zM107.9 297h7.4v1h-7.4zM85.7 298h7.4v1h-7.4zM70.8 302h7.4v1h-7.4zM93.1 303h7.4v1h-7.4zM85.7 304h7.4v1h-7.4zM115.3 308h7.4v1h-7.4zM100.5 309h7.4v1h-7.4zM107.9 311h7.4v1h-7.4zM107.9 313h7.4v1h-7.4zM93.1 318h7.4v1h-7.4zM70.8 321h7.4v1h-7.4zM115.3 324h7.4v1h-7.4zM152.4 325h7.4v1h-7.4zM189.4 325h7.4v1h-7.4zM78.3 332h7.4v1h-7.4zM85.7 337h7.4v1h-7.4zM174.6 337h7.4v1h-7.4zM70.8 339h7.4v1h-7.4zM93.1 339h7.4v1h-7.4zM211.7 339h7.4v1h-7.4zM219.1 340h7.4v1h-7.4zM196.9 341h7.4v1h-7.4zM219.1 341h7.4v1h-7.4zM70.8 343h7.4v1h-7.4zM93.1 343h7.4v1h-7.4zM85.7 348h14.8v1h-14.8zM233.9 348h7.4v1h-7.4zM263.6 352h7.4v1h-7.4zM248.8 355h7.4v1h-7.4zM263.6 355h7.4v1h-7.4zM115.3 369h7.4v1h-7.4zM122.7 370h7.4v1h-7.4zM107.9 372h14.8v1h-14.8zM100.5 374h7.4v1h-7.4zM115.3 375h14.8v1h-14.8zM100.5 376h7.4v1h-7.4zM100.5 377h7.4v1h-7.4zM107.9 380h7.4v1h-7.4zM107.9 381h7.4v1h-7.4zM115.3 383h7.4v1h-7.4zM63.4 386h7.4v1h-7.4zM122.7 386h7.4v1h-7.4zM115.3 387h7.4v1h-7.4zM48.6 392h14.8v1h-14.8zM70.8 392h14.8v1h-14.8zM70.8 393h7.4v1h-7.4zM41.2 394h7.4v1h-7.4zM56.0 395h7.4v1h-7.4zM93.1 396h7.4v1h-7.4zM78.3 397h7.4v1h-7.4zM85.7 398h7.4v1h-7.4zM115.3 398h7.4v1h-7.4zM85.7 399h14.8v1h-14.8zM100.5 401h7.4v1h-7.4zM115.3 401h7.4v1h-7.4zM115.3 402h7.4v1h-7.4zM48.6 404h7.4v1h-7.4zM100.5 404h7.4v1h-7.4zM85.7 405h7.4v1h-7.4zM56.0 406h7.4v1h-7.4zM41.2 408h7.4v1h-7.4zM56.0 408h7.4v1h-7.4zM115.3 408h7.4v1h-7.4zM93.1 409h7.4v1h-7.4zM56.0 410h7.4v1h-7.4zM115.3 410h7.4v1h-7.4zM85.7 412h14.8v1h-14.8zM100.5 413h7.4v1h-7.4zM122.7 414h7.4v1h-7.4zM93.1 416h7.4v1h-7.4zM115.3 418h7.4v1h-7.4zM107.9 419h7.4v1h-7.4zM115.3 420h14.8v1h-14.8zM107.9 421h7.4v1h-7.4zM78.3 423h7.4v1h-7.4zM115.3 424h7.4v1h-7.4zM85.7 425h7.4v1h-7.4zM115.3 426h7.4v1h-7.4zM85.7 429h7.4v1h-7.4zM107.9 429h7.4v1h-7.4zM85.7 430h7.4v1h-7.4zM85.7 431h7.4v1h-7.4zM85.7 432h7.4v1h-7.4zM63.4 434h7.4v1h-7.4zM100.5 434h7.4v1h-7.4zM48.6 435h7.4v1h-7.4zM63.4 436h7.4v1h-7.4zM56.0 437h7.4v1h-7.4zM70.8 437h7.4v1h-7.4zM85.7 437h7.4v1h-7.4zM93.1 438h7.4v1h-7.4zM100.5 439h7.4v1h-7.4zM41.2 440h7.4v1h-7.4zM107.9 440h7.4v1h-7.4zM100.5 441h7.4v1h-7.4zM41.2 442h7.4v1h-7.4zM122.7 443h7.4v1h-7.4zM48.6 445h7.4v1h-7.4zM78.3 445h7.4v1h-7.4zM115.3 445h7.4v1h-7.4zM93.1 446h7.4v1h-7.4zM78.3 447h7.4v1h-7.4zM107.9 447h7.4v1h-7.4zM41.2 448h14.8v1h-14.8zM115.3 448h7.4v1h-7.4zM63.4 449h7.4v1h-7.4zM41.2 450h7.4v1h-7.4zM78.3 451h7.4v1h-7.4zM41.2 452h7.4v1h-7.4zM93.1 452h7.4v1h-7.4zM115.3 452h7.4v1h-7.4zM63.4 454h14.8v1h-14.8zM115.3 454h7.4v1h-7.4zM93.1 455h14.8v1h-14.8zM41.2 456h7.4v1h-7.4zM56.0 456h7.4v1h-7.4zM100.5 456h7.4v1h-7.4zM63.4 457h7.4v1h-7.4zM70.8 458h14.8v1h-14.8zM115.3 458h7.4v1h-7.4zM78.3 460h7.4v1h-7.4zM107.9 460h7.4v1h-7.4zM48.6 461h14.8v1h-14.8zM100.5 461h7.4v1h-7.4zM63.4 462h7.4v1h-7.4zM107.9 462h14.8v1h-14.8zM85.7 463h7.4v1h-7.4zM107.9 465h7.4v1h-7.4zM100.5 467h7.4v1h-7.4zM93.1 468h22.2v1h-22.2zM70.8 470h14.8v1h-14.8zM107.9 470h14.8v1h-14.8zM107.9 472h7.4v1h-7.4zM85.7 473h7.4v1h-7.4zM122.7 473h7.4v1h-7.4zM122.7 474h7.4v1h-7.4zM78.3 475h7.4v1h-7.4zM100.5 475h7.4v1h-7.4z" fill="#e8f6ea" shape-rendering="crispEdges"/>
<path d="M85.7 276h7.4v1h-7.4zM107.9 278h7.4v1h-7.4zM122.7 278h7.4v1h-7.4zM85.7 284h7.4v1h-7.4zM78.3 285h7.4v1h-7.4zM107.9 286h7.4v1h-7.4zM100.5 288h7.4v1h-7.4zM70.8 289h7.4v1h-7.4zM85.7 289h7.4v1h-7.4zM78.3 291h7.4v1h-7.4zM115.3 293h7.4v1h-7.4zM122.7 294h7.4v1h-7.4zM93.1 295h7.4v1h-7.4zM115.3 295h7.4v1h-7.4zM93.1 297h7.4v1h-7.4zM78.3 300h7.4v1h-7.4zM93.1 300h7.4v1h-7.4zM85.7 303h7.4v1h-7.4zM85.7 306h7.4v1h-7.4zM122.7 306h7.4v1h-7.4zM115.3 307h7.4v1h-7.4zM100.5 310h7.4v1h-7.4zM115.3 310h7.4v1h-7.4zM107.9 312h7.4v1h-7.4zM78.3 313h7.4v1h-7.4zM93.1 315h7.4v1h-7.4zM115.3 315h7.4v1h-7.4zM85.7 316h7.4v1h-7.4zM122.7 316h7.4v1h-7.4zM70.8 318h7.4v1h-7.4zM100.5 318h7.4v1h-7.4zM115.3 318h7.4v1h-7.4zM100.5 319h7.4v1h-7.4zM122.7 321h7.4v1h-7.4zM115.3 322h7.4v1h-7.4zM70.8 323h7.4v1h-7.4zM145.0 325h7.4v1h-7.4zM159.8 325h7.4v1h-7.4zM174.6 325h14.8v1h-14.8zM196.9 325h22.2v1h-22.2zM78.3 326h7.4v1h-7.4zM85.7 329h14.8v1h-14.8zM248.8 329h7.4v1h-7.4zM93.1 331h7.4v1h-7.4zM174.6 333h7.4v1h-7.4zM85.7 335h7.4v1h-7.4zM167.2 335h7.4v1h-7.4zM211.7 337h7.4v1h-7.4zM196.9 339h14.8v1h-14.8zM93.1 342h7.4v1h-7.4zM233.9 342h7.4v1h-7.4zM271.0 343h7.4v1h-7.4zM93.1 344h7.4v1h-7.4zM182.0 344h7.4v1h-7.4zM70.8 345h7.4v1h-7.4zM137.6 345h7.4v1h-7.4zM189.4 345h7.4v1h-7.4zM211.7 345h7.4v1h-7.4zM70.8 346h7.4v1h-7.4zM159.8 346h7.4v1h-7.4zM70.8 348h7.4v1h-7.4zM93.1 349h7.4v1h-7.4zM219.1 349h22.2v1h-22.2zM78.3 350h7.4v1h-7.4zM226.5 350h7.4v1h-7.4zM159.8 351h7.4v1h-7.4zM182.0 351h7.4v1h-7.4zM248.8 352h7.4v1h-7.4zM85.7 353h7.4v1h-7.4zM248.8 353h7.4v1h-7.4zM248.8 354h7.4v1h-7.4zM271.0 355h7.4v1h-7.4zM85.7 357h7.4v1h-7.4zM85.7 362h14.8v1h-14.8zM85.7 363h7.4v1h-7.4zM85.7 366h7.4v1h-7.4zM241.3 366h7.4v1h-7.4zM100.5 368h7.4v1h-7.4zM115.3 371h7.4v1h-7.4zM107.9 374h7.4v1h-7.4zM122.7 374h7.4v1h-7.4zM122.7 377h7.4v1h-7.4zM100.5 379h14.8v1h-14.8zM122.7 379h7.4v1h-7.4zM115.3 382h7.4v1h-7.4zM41.2 386h7.4v1h-7.4zM100.5 387h7.4v1h-7.4zM115.3 390h7.4v1h-7.4zM48.6 393h14.8v1h-14.8zM93.1 393h7.4v1h-7.4zM63.4 394h7.4v1h-7.4zM93.1 394h7.4v1h-7.4zM48.6 398h14.8v1h-14.8zM70.8 398h7.4v1h-7.4zM122.7 398h7.4v1h-7.4zM78.3 399h7.4v1h-7.4zM70.8 402h7.4v1h-7.4zM41.2 405h7.4v1h-7.4zM41.2 407h7.4v1h-7.4zM56.0 407h7.4v1h-7.4zM122.7 407h7.4v1h-7.4zM78.3 408h14.8v1h-14.8zM100.5 408h7.4v1h-7.4zM41.2 409h7.4v1h-7.4zM63.4 410h14.8v1h-14.8zM93.1 411h7.4v1h-7.4zM78.3 412h7.4v1h-7.4zM100.5 412h7.4v1h-7.4zM115.3 412h7.4v1h-7.4zM63.4 414h7.4v1h-7.4zM107.9 414h7.4v1h-7.4zM41.2 415h7.4v1h-7.4zM56.0 415h7.4v1h-7.4zM115.3 415h7.4v1h-7.4zM63.4 417h7.4v1h-7.4zM100.5 418h7.4v1h-7.4zM122.7 418h7.4v1h-7.4zM56.0 420h7.4v1h-7.4zM85.7 421h7.4v1h-7.4zM107.9 424h7.4v1h-7.4zM70.8 428h7.4v1h-7.4zM70.8 430h7.4v1h-7.4zM93.1 432h7.4v1h-7.4zM107.9 432h7.4v1h-7.4zM48.6 433h14.8v1h-14.8zM115.3 433h7.4v1h-7.4zM122.7 434h7.4v1h-7.4zM56.0 435h14.8v1h-14.8zM93.1 435h7.4v1h-7.4zM122.7 435h7.4v1h-7.4zM56.0 436h7.4v1h-7.4zM85.7 436h7.4v1h-7.4zM41.2 437h7.4v1h-7.4zM78.3 437h7.4v1h-7.4zM56.0 438h7.4v1h-7.4zM56.0 439h7.4v1h-7.4zM48.6 440h7.4v1h-7.4zM100.5 440h7.4v1h-7.4zM48.6 442h22.2v1h-22.2zM100.5 442h14.8v1h-14.8zM63.4 444h7.4v1h-7.4zM115.3 444h7.4v1h-7.4zM41.2 445h7.4v1h-7.4zM63.4 445h14.8v1h-14.8zM85.7 445h7.4v1h-7.4zM100.5 445h7.4v1h-7.4zM41.2 446h14.8v1h-14.8zM107.9 446h7.4v1h-7.4zM63.4 447h7.4v1h-7.4zM93.1 447h14.8v1h-14.8zM56.0 448h14.8v1h-14.8zM78.3 448h7.4v1h-7.4zM122.7 448h7.4v1h-7.4zM85.7 449h7.4v1h-7.4zM107.9 449h7.4v1h-7.4zM78.3 450h7.4v1h-7.4zM93.1 450h7.4v1h-7.4zM115.3 450h7.4v1h-7.4zM85.7 451h7.4v1h-7.4zM107.9 451h7.4v1h-7.4zM48.6 452h7.4v1h-7.4zM41.2 453h22.2v1h-22.2zM100.5 453h7.4v1h-7.4zM122.7 453h7.4v1h-7.4zM85.7 454h7.4v1h-7.4zM107.9 456h7.4v1h-7.4zM48.6 457h14.8v1h-14.8zM107.9 457h7.4v1h-7.4zM41.2 458h7.4v1h-7.4zM107.9 458h7.4v1h-7.4zM70.8 459h7.4v1h-7.4zM122.7 459h7.4v1h-7.4zM48.6 463h7.4v1h-7.4zM70.8 463h7.4v1h-7.4zM93.1 463h7.4v1h-7.4zM41.2 464h14.8v1h-14.8zM63.4 464h7.4v1h-7.4zM85.7 464h7.4v1h-7.4zM100.5 464h14.8v1h-14.8zM100.5 466h7.4v1h-7.4zM122.7 466h7.4v1h-7.4zM115.3 467h7.4v1h-7.4zM93.1 469h7.4v1h-7.4zM115.3 469h7.4v1h-7.4zM93.1 470h7.4v1h-7.4zM100.5 472h7.4v1h-7.4zM107.9 474h7.4v1h-7.4zM70.8 475h7.4v1h-7.4zM85.7 475h7.4v1h-7.4zM115.3 475h7.4v1h-7.4z" fill="#ecf8e1" shape-rendering="crispEdges"/>
<path d="M85.7 275h14.8v1h-14.8zM78.3 280h7.4v1h-7.4zM93.1 284h7.4v1h-7.4zM85.7 287h14.8v1h-14.8zM93.1 290h14.8v1h-14.8zM122.7 290h7.4v1h-7.4zM70.8 291h7.4v1h-7.4zM107.9 291h7.4v1h-7.4zM85.7 292h7.4v1h-7.4zM70.8 293h7.4v1h-7.4zM122.7 297h7.4v1h-7.4zM70.8 298h14.8v1h-14.8zM122.7 298h7.4v1h-7.4zM93.1 299h7.4v1h-7.4zM107.9 301h7.4v1h-7.4zM122.7 303h7.4v1h-7.4zM78.3 304h7.4v1h-7.4zM70.8 305h7.4v1h-7.4zM85.7 305h7.4v1h-7.4zM70.8 306h7.4v1h-7.4zM78.3 307h7.4v1h-7.4zM100.5 308h7.4v1h-7.4zM122.7 309h7.4v1h-7.4zM70.8 311h7.4v1h-7.4zM85.7 313h7.4v1h-7.4zM78.3 316h7.4v1h-7.4zM93.1 316h7.4v1h-7.4zM122.7 317h7.4v1h-7.4zM122.7 319h7.4v1h-7.4zM93.1 321h7.4v1h-7.4zM78.3 322h7.4v1h-7.4zM93.1 322h7.4v1h-7.4zM130.1 325h14.8v1h-14.8zM256.2 325h7.4v1h-7.4zM271.0 325h7.4v1h-7.4zM85.7 326h7.4v1h-7.4zM159.8 327h14.8v1h-14.8zM248.8 328h7.4v1h-7.4zM196.9 329h7.4v1h-7.4zM85.7 330h7.4v1h-7.4zM174.6 330h7.4v1h-7.4zM233.9 331h7.4v1h-7.4zM241.3 332h7.4v1h-7.4zM271.0 333h7.4v1h-7.4zM159.8 334h29.6v1h-29.6zM204.3 334h7.4v1h-7.4zM271.0 334h7.4v1h-7.4zM70.8 335h7.4v1h-7.4zM211.7 335h7.4v1h-7.4zM226.5 335h7.4v1h-7.4zM174.6 336h7.4v1h-7.4zM182.0 337h7.4v1h-7.4zM241.3 337h7.4v1h-7.4zM85.7 338h7.4v1h-7.4zM271.0 338h7.4v1h-7.4zM189.4 339h7.4v1h-7.4zM241.3 339h7.4v1h-7.4zM78.3 340h7.4v1h-7.4zM189.4 340h7.4v1h-7.4zM204.3 340h7.4v1h-7.4zM233.9 340h14.8v1h-14.8zM78.3 341h7.4v1h-7.4zM93.1 341h7.4v1h-7.4zM241.3 341h7.4v1h-7.4zM263.6 341h7.4v1h-7.4zM219.1 342h14.8v1h-14.8zM152.4 343h7.4v1h-7.4zM248.8 343h7.4v1h-7.4zM211.7 344h7.4v1h-7.4zM93.1 345h7.4v1h-7.4zM196.9 345h7.4v1h-7.4zM263.6 345h7.4v1h-7.4zM85.7 346h7.4v1h-7.4zM196.9 346h7.4v1h-7.4zM211.7 346h7.4v1h-7.4zM226.5 346h14.8v1h-14.8zM93.1 347h7.4v1h-7.4zM137.6 347h7.4v1h-7.4zM204.3 347h7.4v1h-7.4zM263.6 347h7.4v1h-7.4zM152.4 348h7.4v1h-7.4zM167.2 348h7.4v1h-7.4zM226.5 348h7.4v1h-7.4zM248.8 348h7.4v1h-7.4zM174.6 349h7.4v1h-7.4zM241.3 349h7.4v1h-7.4zM85.7 350h7.4v1h-7.4zM204.3 350h22.2v1h-22.2zM233.9 350h7.4v1h-7.4zM70.8 351h7.4v1h-7.4zM248.8 351h22.2v1h-22.2zM182.0 352h7.4v1h-7.4zM70.8 353h7.4v1h-7.4zM107.9 353h7.4v1h-7.4zM167.2 353h7.4v1h-7.4zM271.0 353h7.4v1h-7.4zM226.5 354h7.4v1h-7.4zM256.2 354h22.2v1h-22.2zM256.2 355h7.4v1h-7.4zM204.3 356h14.8v1h-14.8zM263.6 358h7.4v1h-7.4zM167.2 359h7.4v1h-7.4zM182.0 359h7.4v1h-7.4zM204.3 359h7.4v1h-7.4zM219.1 361h7.4v1h-7.4zM256.2 361h14.8v1h-14.8zM263.6 363h7.4v1h-7.4zM70.8 364h7.4v1h-7.4zM271.0 364h7.4v1h-7.4zM93.1 365h7.4v1h-7.4zM226.5 365h7.4v1h-7.4zM241.3 365h7.4v1h-7.4zM152.4 366h7.4v1h-7.4zM204.3 366h7.4v1h-7.4zM233.9 366h7.4v1h-7.4zM256.2 366h14.8v1h-14.8zM63.4 367h7.4v1h-7.4zM100.5 367h7.4v1h-7.4zM122.7 367h7.4v1h-7.4zM122.7 368h7.4v1h-7.4zM100.5 369h7.4v1h-7.4zM48.6 370h14.8v1h-14.8zM122.7 373h7.4v1h-7.4zM100.5 375h7.4v1h-7.4zM56.0 378h7.4v1h-7.4zM107.9 382h7.4v1h-7.4zM107.9 383h7.4v1h-7.4zM107.9 384h7.4v1h-7.4zM41.2 385h14.8v1h-14.8zM63.4 385h7.4v1h-7.4zM56.0 386h7.4v1h-7.4zM41.2 388h7.4v1h-7.4zM115.3 389h7.4v1h-7.4zM107.9 390h7.4v1h-7.4zM85.7 392h14.8v1h-14.8zM56.0 394h7.4v1h-7.4zM70.8 395h7.4v1h-7.4zM93.1 395h7.4v1h-7.4zM70.8 396h7.4v1h-7.4zM85.7 396h7.4v1h-7.4zM85.7 397h7.4v1h-7.4zM41.2 398h7.4v1h-7.4zM63.4 398h7.4v1h-7.4zM48.6 399h14.8v1h-14.8zM70.8 399h7.4v1h-7.4zM63.4 400h14.8v1h-14.8zM70.8 401h7.4v1h-7.4zM63.4 402h7.4v1h-7.4zM41.2 404h7.4v1h-7.4zM56.0 405h7.4v1h-7.4zM93.1 405h7.4v1h-7.4zM41.2 406h14.8v1h-14.8zM63.4 406h7.4v1h-7.4zM115.3 406h7.4v1h-7.4zM63.4 407h7.4v1h-7.4zM48.6 408h7.4v1h-7.4zM63.4 408h7.4v1h-7.4zM56.0 409h7.4v1h-7.4zM41.2 410h7.4v1h-7.4zM93.1 410h7.4v1h-7.4zM41.2 411h7.4v1h-7.4zM70.8 412h7.4v1h-7.4zM115.3 413h7.4v1h-7.4zM48.6 415h7.4v1h-7.4zM63.4 415h7.4v1h-7.4zM85.7 415h7.4v1h-7.4zM122.7 416h7.4v1h-7.4zM41.2 417h7.4v1h-7.4zM56.0 418h14.8v1h-14.8zM48.6 420h7.4v1h-7.4zM63.4 420h7.4v1h-7.4zM100.5 423h7.4v1h-7.4zM100.5 424h7.4v1h-7.4zM78.3 426h7.4v1h-7.4zM41.2 427h7.4v1h-7.4zM63.4 427h7.4v1h-7.4zM78.3 427h7.4v1h-7.4zM78.3 429h7.4v1h-7.4zM122.7 429h7.4v1h-7.4zM41.2 430h29.6v1h-29.6zM115.3 430h14.8v1h-14.8zM41.2 432h7.4v1h-7.4zM63.4 432h14.8v1h-14.8zM41.2 433h7.4v1h-7.4zM41.2 434h22.2v1h-22.2zM70.8 434h7.4v1h-7.4zM70.8 435h7.4v1h-7.4zM85.7 435h7.4v1h-7.4zM41.2 436h7.4v1h-7.4zM41.2 439h14.8v1h-14.8zM93.1 439h7.4v1h-7.4zM56.0 440h7.4v1h-7.4zM78.3 440h22.2v1h-22.2zM115.3 440h7.4v1h-7.4zM56.0 441h7.4v1h-7.4zM115.3 441h7.4v1h-7.4zM41.2 444h7.4v1h-7.4zM56.0 444h7.4v1h-7.4zM100.5 444h7.4v1h-7.4zM56.0 445h7.4v1h-7.4zM63.4 446h22.2v1h-22.2zM48.6 447h7.4v1h-7.4zM122.7 447h7.4v1h-7.4zM107.9 448h7.4v1h-7.4zM41.2 449h7.4v1h-7.4zM70.8 449h7.4v1h-7.4zM122.7 449h7.4v1h-7.4zM56.0 450h14.8v1h-14.8zM85.7 450h7.4v1h-7.4zM63.4 451h7.4v1h-7.4zM122.7 451h7.4v1h-7.4zM56.0 452h7.4v1h-7.4zM107.9 453h14.8v1h-14.8zM48.6 454h14.8v1h-14.8zM100.5 454h7.4v1h-7.4zM48.6 455h14.8v1h-14.8zM78.3 455h7.4v1h-7.4zM48.6 456h7.4v1h-7.4zM63.4 456h7.4v1h-7.4zM41.2 457h7.4v1h-7.4zM78.3 457h7.4v1h-7.4zM100.5 457h7.4v1h-7.4zM48.6 458h22.2v1h-22.2zM85.7 458h22.2v1h-22.2zM41.2 459h7.4v1h-7.4zM56.0 459h14.8v1h-14.8zM85.7 459h14.8v1h-14.8zM41.2 460h7.4v1h-7.4zM41.2 462h7.4v1h-7.4zM56.0 462h7.4v1h-7.4zM85.7 462h7.4v1h-7.4zM56.0 464h7.4v1h-7.4zM78.3 464h7.4v1h-7.4zM93.1 464h7.4v1h-7.4zM48.6 465h7.4v1h-7.4zM78.3 465h7.4v1h-7.4zM93.1 466h7.4v1h-7.4zM70.8 467h7.4v1h-7.4zM107.9 467h7.4v1h-7.4zM122.7 467h7.4v1h-7.4zM56.0 468h7.4v1h-7.4zM70.8 468h7.4v1h-7.4zM115.3 468h7.4v1h-7.4zM41.2 472h7.4v1h-7.4zM122.7 472h7.4v1h-7.4zM41.2 473h7.4v1h-7.4zM63.4 473h7.4v1h-7.4zM56.0 474h7.4v1h-7.4zM100.5 474h7.4v1h-7.4zM115.3 474h7.4v1h-7.4z" fill="#f1fad9" shape-rendering="crispEdges"/>
<path d="M122.7 279h7.4v1h-7.4zM115.3 281h7.4v1h-7.4zM115.3 282h7.4v1h-7.4zM115.3 285h7.4v1h-7.4zM145.0 288h7.4v1h-7.4zM93.1 289h7.4v1h-7.4zM122.7 289h7.4v1h-7.4zM78.3 290h7.4v1h-7.4zM107.9 298h7.4v1h-7.4zM70.8 300h7.4v1h-7.4zM93.1 301h7.4v1h-7.4zM78.3 302h14.8v1h-14.8zM115.3 304h7.4v1h-7.4zM248.8 307h7.4v1h-7.4zM107.9 308h7.4v1h-7.4zM115.3 311h7.4v1h-7.4zM93.1 314h14.8v1h-14.8zM122.7 314h7.4v1h-7.4zM70.8 315h7.4v1h-7.4zM107.9 317h7.4v1h-7.4zM78.3 323h7.4v1h-7.4zM100.5 323h7.4v1h-7.4zM85.7 325h7.4v1h-7.4zM233.9 325h7.4v1h-7.4zM263.6 325h7.4v1h-7.4zM145.0 326h14.8v1h-14.8zM196.9 326h7.4v1h-7.4zM219.1 326h7.4v1h-7.4zM233.9 326h14.8v1h-14.8zM256.2 326h7.4v1h-7.4zM78.3 327h7.4v1h-7.4zM174.6 327h7.4v1h-7.4zM204.3 327h7.4v1h-7.4zM219.1 327h7.4v1h-7.4zM233.9 327h22.2v1h-22.2zM130.1 328h7.4v1h-7.4zM189.4 328h7.4v1h-7.4zM211.7 328h7.4v1h-7.4zM256.2 328h14.8v1h-14.8zM130.1 329h7.4v1h-7.4zM152.4 329h7.4v1h-7.4zM174.6 329h7.4v1h-7.4zM271.0 329h7.4v1h-7.4zM78.3 330h7.4v1h-7.4zM130.1 330h7.4v1h-7.4zM159.8 330h14.8v1h-14.8zM182.0 330h7.4v1h-7.4zM233.9 330h7.4v1h-7.4zM159.8 331h14.8v1h-14.8zM182.0 331h7.4v1h-7.4zM174.6 332h7.4v1h-7.4zM248.8 332h22.2v1h-22.2zM85.7 333h7.4v1h-7.4zM159.8 333h7.4v1h-7.4zM182.0 333h7.4v1h-7.4zM241.3 333h7.4v1h-7.4zM196.9 334h7.4v1h-7.4zM248.8 334h22.2v1h-22.2zM174.6 335h14.8v1h-14.8zM196.9 335h14.8v1h-14.8zM233.9 335h7.4v1h-7.4zM256.2 335h7.4v1h-7.4zM70.8 336h7.4v1h-7.4zM93.1 336h7.4v1h-7.4zM182.0 336h22.2v1h-22.2zM219.1 336h14.8v1h-14.8zM189.4 337h7.4v1h-7.4zM204.3 337h7.4v1h-7.4zM271.0 337h7.4v1h-7.4zM211.7 338h7.4v1h-7.4zM226.5 339h14.8v1h-14.8zM70.8 340h7.4v1h-7.4zM85.7 340h7.4v1h-7.4zM248.8 340h7.4v1h-7.4zM189.4 341h7.4v1h-7.4zM211.7 341h7.4v1h-7.4zM233.9 341h7.4v1h-7.4zM271.0 341h7.4v1h-7.4zM145.0 342h7.4v1h-7.4zM189.4 342h7.4v1h-7.4zM204.3 342h14.8v1h-14.8zM241.3 342h14.8v1h-14.8zM271.0 342h7.4v1h-7.4zM130.1 343h7.4v1h-7.4zM174.6 343h7.4v1h-7.4zM196.9 343h14.8v1h-14.8zM219.1 343h7.4v1h-7.4zM233.9 343h7.4v1h-7.4zM256.2 343h14.8v1h-14.8zM70.8 344h7.4v1h-7.4zM85.7 344h7.4v1h-7.4zM167.2 344h7.4v1h-7.4zM233.9 344h7.4v1h-7.4zM130.1 345h7.4v1h-7.4zM182.0 345h7.4v1h-7.4zM204.3 345h7.4v1h-7.4zM233.9 345h7.4v1h-7.4zM248.8 345h7.4v1h-7.4zM93.1 346h7.4v1h-7.4zM130.1 346h29.6v1h-29.6zM174.6 346h22.2v1h-22.2zM241.3 346h7.4v1h-7.4zM263.6 346h7.4v1h-7.4zM85.7 347h7.4v1h-7.4zM145.0 347h14.8v1h-14.8zM167.2 347h37.1v1h-37.1zM211.7 347h14.8v1h-14.8zM174.6 348h7.4v1h-7.4zM219.1 348h7.4v1h-7.4zM241.3 348h7.4v1h-7.4zM145.0 349h7.4v1h-7.4zM159.8 349h7.4v1h-7.4zM182.0 349h7.4v1h-7.4zM182.0 350h7.4v1h-7.4zM241.3 350h7.4v1h-7.4zM263.6 350h7.4v1h-7.4zM271.0 351h7.4v1h-7.4zM159.8 352h22.2v1h-22.2zM271.0 352h7.4v1h-7.4zM93.1 353h7.4v1h-7.4zM174.6 353h7.4v1h-7.4zM256.2 353h14.8v1h-14.8zM70.8 354h7.4v1h-7.4zM93.1 354h7.4v1h-7.4zM233.9 354h14.8v1h-14.8zM167.2 355h7.4v1h-7.4zM159.8 356h7.4v1h-7.4zM182.0 356h14.8v1h-14.8zM248.8 356h7.4v1h-7.4zM271.0 356h7.4v1h-7.4zM204.3 357h7.4v1h-7.4zM233.9 357h7.4v1h-7.4zM256.2 357h7.4v1h-7.4zM85.7 358h7.4v1h-7.4zM182.0 358h7.4v1h-7.4zM204.3 358h14.8v1h-14.8zM174.6 359h7.4v1h-7.4zM271.0 359h7.4v1h-7.4zM174.6 360h7.4v1h-7.4zM241.3 360h7.4v1h-7.4zM271.0 360h7.4v1h-7.4zM196.9 361h7.4v1h-7.4zM233.9 361h14.8v1h-14.8zM196.9 362h7.4v1h-7.4zM211.7 362h7.4v1h-7.4zM226.5 362h7.4v1h-7.4zM248.8 362h7.4v1h-7.4zM78.3 363h7.4v1h-7.4zM226.5 363h14.8v1h-14.8zM159.8 364h7.4v1h-7.4zM189.4 364h7.4v1h-7.4zM211.7 364h22.2v1h-22.2zM256.2 364h7.4v1h-7.4zM78.3 365h7.4v1h-7.4zM159.8 365h14.8v1h-14.8zM219.1 365h7.4v1h-7.4zM248.8 365h7.4v1h-7.4zM263.6 365h14.8v1h-14.8zM137.6 366h14.8v1h-14.8zM159.8 366h7.4v1h-7.4zM174.6 366h29.6v1h-29.6zM248.8 366h7.4v1h-7.4zM41.2 367h14.8v1h-14.8zM159.8 367h7.4v1h-7.4zM48.6 369h7.4v1h-7.4zM41.2 370h7.4v1h-7.4zM56.0 372h7.4v1h-7.4zM100.5 372h7.4v1h-7.4zM48.6 375h7.4v1h-7.4zM63.4 375h7.4v1h-7.4zM115.3 378h7.4v1h-7.4zM100.5 381h7.4v1h-7.4zM48.6 382h7.4v1h-7.4zM122.7 383h7.4v1h-7.4zM196.9 383h7.4v1h-7.4zM115.3 384h7.4v1h-7.4zM56.0 385h7.4v1h-7.4zM219.1 385h7.4v1h-7.4zM241.3 385h7.4v1h-7.4zM48.6 386h7.4v1h-7.4zM56.0 387h7.4v1h-7.4zM107.9 387h7.4v1h-7.4zM219.1 388h7.4v1h-7.4zM233.9 388h7.4v1h-7.4zM100.5 389h14.8v1h-14.8zM78.3 391h7.4v1h-7.4zM63.4 393h7.4v1h-7.4zM70.8 394h7.4v1h-7.4zM70.8 397h7.4v1h-7.4zM78.3 398h7.4v1h-7.4zM93.1 398h7.4v1h-7.4zM41.2 399h7.4v1h-7.4zM63.4 399h7.4v1h-7.4zM41.2 400h7.4v1h-7.4zM48.6 401h14.8v1h-14.8zM93.1 401h7.4v1h-7.4zM41.2 402h7.4v1h-7.4zM85.7 402h7.4v1h-7.4zM70.8 403h7.4v1h-7.4zM63.4 404h7.4v1h-7.4zM93.1 406h7.4v1h-7.4zM48.6 407h7.4v1h-7.4zM48.6 409h7.4v1h-7.4zM63.4 409h7.4v1h-7.4zM85.7 409h7.4v1h-7.4zM48.6 410h7.4v1h-7.4zM48.6 411h7.4v1h-7.4zM78.3 411h7.4v1h-7.4zM70.8 413h7.4v1h-7.4zM41.2 414h7.4v1h-7.4zM78.3 414h7.4v1h-7.4zM56.0 416h7.4v1h-7.4zM48.6 417h14.8v1h-14.8zM48.6 418h7.4v1h-7.4zM70.8 418h7.4v1h-7.4zM85.7 418h7.4v1h-7.4zM41.2 419h7.4v1h-7.4zM56.0 419h7.4v1h-7.4zM70.8 420h7.4v1h-7.4zM48.6 421h14.8v1h-14.8zM41.2 424h22.2v1h-22.2zM48.6 425h7.4v1h-7.4zM63.4 425h7.4v1h-7.4zM78.3 425h7.4v1h-7.4zM93.1 425h7.4v1h-7.4zM93.1 426h7.4v1h-7.4zM48.6 427h7.4v1h-7.4zM85.7 427h7.4v1h-7.4zM56.0 428h14.8v1h-14.8zM93.1 429h7.4v1h-7.4zM78.3 430h7.4v1h-7.4zM93.1 430h7.4v1h-7.4zM41.2 431h14.8v1h-14.8zM70.8 431h14.8v1h-14.8zM48.6 432h14.8v1h-14.8zM122.7 432h7.4v1h-7.4zM63.4 433h7.4v1h-7.4zM93.1 433h7.4v1h-7.4zM122.7 433h7.4v1h-7.4zM41.2 435h7.4v1h-7.4zM48.6 437h7.4v1h-7.4zM63.4 437h7.4v1h-7.4zM93.1 437h7.4v1h-7.4zM48.6 438h7.4v1h-7.4zM63.4 438h7.4v1h-7.4zM63.4 439h7.4v1h-7.4zM63.4 440h7.4v1h-7.4zM41.2 441h14.8v1h-14.8zM63.4 441h7.4v1h-7.4zM85.7 441h7.4v1h-7.4zM107.9 441h7.4v1h-7.4zM85.7 442h7.4v1h-7.4zM115.3 442h14.8v1h-14.8zM56.0 443h14.8v1h-14.8zM100.5 443h7.4v1h-7.4zM48.6 444h7.4v1h-7.4zM93.1 444h7.4v1h-7.4zM107.9 445h7.4v1h-7.4zM122.7 445h7.4v1h-7.4zM122.7 446h7.4v1h-7.4zM85.7 448h7.4v1h-7.4zM56.0 449h7.4v1h-7.4zM100.5 450h7.4v1h-7.4zM122.7 450h7.4v1h-7.4zM56.0 451h7.4v1h-7.4zM100.5 451h7.4v1h-7.4zM63.4 453h7.4v1h-7.4zM78.3 454h7.4v1h-7.4zM107.9 454h7.4v1h-7.4zM41.2 455h7.4v1h-7.4zM78.3 456h7.4v1h-7.4zM115.3 457h7.4v1h-7.4zM56.0 460h7.4v1h-7.4zM70.8 460h7.4v1h-7.4zM93.1 460h7.4v1h-7.4zM63.4 461h7.4v1h-7.4zM48.6 462h7.4v1h-7.4zM100.5 462h7.4v1h-7.4zM122.7 462h7.4v1h-7.4zM41.2 463h7.4v1h-7.4zM78.3 463h7.4v1h-7.4zM41.2 465h7.4v1h-7.4zM63.4 465h7.4v1h-7.4zM85.7 465h7.4v1h-7.4zM85.7 466h7.4v1h-7.4zM78.3 467h7.4v1h-7.4zM93.1 467h7.4v1h-7.4zM41.2 468h7.4v1h-7.4zM78.3 468h7.4v1h-7.4zM63.4 471h7.4v1h-7.4zM48.6 473h7.4v1h-7.4zM41.2 474h14.8v1h-14.8zM63.4 474h7.4v1h-7.4zM93.1 474h7.4v1h-7.4zM56.0 475h7.4v1h-7.4zM93.1 475h7.4v1h-7.4zM122.7 475h7.4v1h-7.4z" fill="#f6fbd0" shape-rendering="crispEdges"/>
<path d="M115.3 276h7.4v1h-7.4zM182.0 276h7.4v1h-7.4zM145.0 278h7.4v1h-7.4zM78.3 281h7.4v1h-7.4zM78.3 283h7.4v1h-7.4zM107.9 284h7.4v1h-7.4zM100.5 287h22.2v1h-22.2zM107.9 288h14.8v1h-14.8zM130.1 288h14.8v1h-14.8zM152.4 288h7.4v1h-7.4zM152.4 289h7.4v1h-7.4zM107.9 290h7.4v1h-7.4zM100.5 291h7.4v1h-7.4zM100.5 296h7.4v1h-7.4zM107.9 303h7.4v1h-7.4zM70.8 304h7.4v1h-7.4zM78.3 306h7.4v1h-7.4zM93.1 306h7.4v1h-7.4zM115.3 306h7.4v1h-7.4zM100.5 307h7.4v1h-7.4zM271.0 307h7.4v1h-7.4zM174.6 312h7.4v1h-7.4zM107.9 314h14.8v1h-14.8zM100.5 315h7.4v1h-7.4zM100.5 316h7.4v1h-7.4zM107.9 318h7.4v1h-7.4zM122.7 318h7.4v1h-7.4zM70.8 319h7.4v1h-7.4zM85.7 321h7.4v1h-7.4zM100.5 321h7.4v1h-7.4zM174.6 321h7.4v1h-7.4zM70.8 322h7.4v1h-7.4zM85.7 323h7.4v1h-7.4zM189.4 324h7.4v1h-7.4zM167.2 325h7.4v1h-7.4zM219.1 325h7.4v1h-7.4zM248.8 325h7.4v1h-7.4zM159.8 326h7.4v1h-7.4zM189.4 326h7.4v1h-7.4zM226.5 326h7.4v1h-7.4zM248.8 326h7.4v1h-7.4zM263.6 326h7.4v1h-7.4zM130.1 327h7.4v1h-7.4zM152.4 327h7.4v1h-7.4zM189.4 327h14.8v1h-14.8zM271.0 327h7.4v1h-7.4zM70.8 328h14.8v1h-14.8zM145.0 328h7.4v1h-7.4zM167.2 328h7.4v1h-7.4zM204.3 328h7.4v1h-7.4zM241.3 328h7.4v1h-7.4zM167.2 329h7.4v1h-7.4zM182.0 329h7.4v1h-7.4zM211.7 329h7.4v1h-7.4zM145.0 330h7.4v1h-7.4zM189.4 330h22.2v1h-22.2zM226.5 330h7.4v1h-7.4zM248.8 330h7.4v1h-7.4zM145.0 331h7.4v1h-7.4zM174.6 331h7.4v1h-7.4zM226.5 331h7.4v1h-7.4zM256.2 331h14.8v1h-14.8zM159.8 332h7.4v1h-7.4zM182.0 332h7.4v1h-7.4zM219.1 332h14.8v1h-14.8zM271.0 332h7.4v1h-7.4zM167.2 333h7.4v1h-7.4zM226.5 333h14.8v1h-14.8zM248.8 333h22.2v1h-22.2zM137.6 334h7.4v1h-7.4zM189.4 334h7.4v1h-7.4zM211.7 334h29.6v1h-29.6zM137.6 335h7.4v1h-7.4zM189.4 335h7.4v1h-7.4zM219.1 335h7.4v1h-7.4zM241.3 335h14.8v1h-14.8zM263.6 335h7.4v1h-7.4zM159.8 336h7.4v1h-7.4zM211.7 336h7.4v1h-7.4zM233.9 336h14.8v1h-14.8zM256.2 336h22.2v1h-22.2zM137.6 337h7.4v1h-7.4zM159.8 337h14.8v1h-14.8zM196.9 337h7.4v1h-7.4zM219.1 337h7.4v1h-7.4zM233.9 337h7.4v1h-7.4zM256.2 337h7.4v1h-7.4zM93.1 338h7.4v1h-7.4zM189.4 338h22.2v1h-22.2zM226.5 338h7.4v1h-7.4zM241.3 338h14.8v1h-14.8zM137.6 339h7.4v1h-7.4zM219.1 339h7.4v1h-7.4zM256.2 339h7.4v1h-7.4zM271.0 339h7.4v1h-7.4zM93.1 340h7.4v1h-7.4zM196.9 340h7.4v1h-7.4zM211.7 340h7.4v1h-7.4zM271.0 340h7.4v1h-7.4zM145.0 341h7.4v1h-7.4zM204.3 341h7.4v1h-7.4zM226.5 341h7.4v1h-7.4zM256.2 341h7.4v1h-7.4zM196.9 342h7.4v1h-7.4zM263.6 342h7.4v1h-7.4zM159.8 343h7.4v1h-7.4zM182.0 343h7.4v1h-7.4zM211.7 343h7.4v1h-7.4zM226.5 343h7.4v1h-7.4zM241.3 343h7.4v1h-7.4zM130.1 344h29.6v1h-29.6zM189.4 344h22.2v1h-22.2zM219.1 344h7.4v1h-7.4zM241.3 344h7.4v1h-7.4zM263.6 344h14.8v1h-14.8zM85.7 345h7.4v1h-7.4zM152.4 345h14.8v1h-14.8zM174.6 345h7.4v1h-7.4zM226.5 345h7.4v1h-7.4zM256.2 345h7.4v1h-7.4zM271.0 345h7.4v1h-7.4zM167.2 346h7.4v1h-7.4zM204.3 346h7.4v1h-7.4zM219.1 346h7.4v1h-7.4zM256.2 346h7.4v1h-7.4zM271.0 346h7.4v1h-7.4zM130.1 347h7.4v1h-7.4zM226.5 347h29.6v1h-29.6zM271.0 347h7.4v1h-7.4zM130.1 349h7.4v1h-7.4zM167.2 349h7.4v1h-7.4zM256.2 349h7.4v1h-7.4zM152.4 350h7.4v1h-7.4zM167.2 350h14.8v1h-14.8zM196.9 350h7.4v1h-7.4zM271.0 350h7.4v1h-7.4zM167.2 351h14.8v1h-14.8zM204.3 351h7.4v1h-7.4zM226.5 351h14.8v1h-14.8zM85.7 352h7.4v1h-7.4zM219.1 352h14.8v1h-14.8zM241.3 352h7.4v1h-7.4zM159.8 353h7.4v1h-7.4zM182.0 353h7.4v1h-7.4zM204.3 353h7.4v1h-7.4zM219.1 353h29.6v1h-29.6zM115.3 354h7.4v1h-7.4zM159.8 354h7.4v1h-7.4zM182.0 354h7.4v1h-7.4zM196.9 354h7.4v1h-7.4zM70.8 355h7.4v1h-7.4zM130.1 355h7.4v1h-7.4zM174.6 355h14.8v1h-14.8zM196.9 355h7.4v1h-7.4zM70.8 356h7.4v1h-7.4zM85.7 356h14.8v1h-14.8zM167.2 356h7.4v1h-7.4zM167.2 357h7.4v1h-7.4zM219.1 357h7.4v1h-7.4zM241.3 357h14.8v1h-14.8zM70.8 358h14.8v1h-14.8zM159.8 358h7.4v1h-7.4zM174.6 358h7.4v1h-7.4zM189.4 358h14.8v1h-14.8zM248.8 358h7.4v1h-7.4zM271.0 358h7.4v1h-7.4zM70.8 359h14.8v1h-14.8zM159.8 359h7.4v1h-7.4zM196.9 359h7.4v1h-7.4zM211.7 359h7.4v1h-7.4zM226.5 359h7.4v1h-7.4zM241.3 359h14.8v1h-14.8zM263.6 359h7.4v1h-7.4zM159.8 360h7.4v1h-7.4zM189.4 360h7.4v1h-7.4zM248.8 360h22.2v1h-22.2zM70.8 361h7.4v1h-7.4zM189.4 361h7.4v1h-7.4zM248.8 361h7.4v1h-7.4zM159.8 362h7.4v1h-7.4zM189.4 362h7.4v1h-7.4zM241.3 362h7.4v1h-7.4zM263.6 362h7.4v1h-7.4zM248.8 363h14.8v1h-14.8zM271.0 363h7.4v1h-7.4zM78.3 364h7.4v1h-7.4zM152.4 364h7.4v1h-7.4zM196.9 364h7.4v1h-7.4zM233.9 364h22.2v1h-22.2zM130.1 365h7.4v1h-7.4zM152.4 365h7.4v1h-7.4zM174.6 365h14.8v1h-14.8zM130.1 366h7.4v1h-7.4zM167.2 366h7.4v1h-7.4zM219.1 366h7.4v1h-7.4zM271.0 366h7.4v1h-7.4zM167.2 367h22.2v1h-22.2zM115.3 368h7.4v1h-7.4zM56.0 369h7.4v1h-7.4zM107.9 369h7.4v1h-7.4zM226.5 369h7.4v1h-7.4zM63.4 370h7.4v1h-7.4zM100.5 370h7.4v1h-7.4zM48.6 371h14.8v1h-14.8zM63.4 372h7.4v1h-7.4zM122.7 372h7.4v1h-7.4zM107.9 373h7.4v1h-7.4zM56.0 374h7.4v1h-7.4zM41.2 375h7.4v1h-7.4zM56.0 375h7.4v1h-7.4zM233.9 376h14.8v1h-14.8zM115.3 377h7.4v1h-7.4zM219.1 377h7.4v1h-7.4zM233.9 377h7.4v1h-7.4zM48.6 378h7.4v1h-7.4zM219.1 378h7.4v1h-7.4zM233.9 378h7.4v1h-7.4zM63.4 379h7.4v1h-7.4zM115.3 379h7.4v1h-7.4zM219.1 379h7.4v1h-7.4zM271.0 379h7.4v1h-7.4zM115.3 381h7.4v1h-7.4zM100.5 382h7.4v1h-7.4zM189.4 383h7.4v1h-7.4zM100.5 384h7.4v1h-7.4zM122.7 384h7.4v1h-7.4zM233.9 385h7.4v1h-7.4zM41.2 387h14.8v1h-14.8zM226.5 387h7.4v1h-7.4zM56.0 388h7.4v1h-7.4zM241.3 388h7.4v1h-7.4zM41.2 389h22.2v1h-22.2zM182.0 389h7.4v1h-7.4zM219.1 390h22.2v1h-22.2zM85.7 393h7.4v1h-7.4zM78.3 396h7.4v1h-7.4zM48.6 400h14.8v1h-14.8zM85.7 401h7.4v1h-7.4zM78.3 404h7.4v1h-7.4zM48.6 405h7.4v1h-7.4zM78.3 405h7.4v1h-7.4zM70.8 406h7.4v1h-7.4zM93.1 408h7.4v1h-7.4zM56.0 411h14.8v1h-14.8zM63.4 412h7.4v1h-7.4zM63.4 413h7.4v1h-7.4zM85.7 413h7.4v1h-7.4zM48.6 414h14.8v1h-14.8zM93.1 415h7.4v1h-7.4zM70.8 417h7.4v1h-7.4zM93.1 417h7.4v1h-7.4zM41.2 418h7.4v1h-7.4zM107.9 418h7.4v1h-7.4zM63.4 419h7.4v1h-7.4zM41.2 420h7.4v1h-7.4zM63.4 421h7.4v1h-7.4zM41.2 422h7.4v1h-7.4zM63.4 422h7.4v1h-7.4zM41.2 423h14.8v1h-14.8zM63.4 424h7.4v1h-7.4zM78.3 424h7.4v1h-7.4zM93.1 424h7.4v1h-7.4zM41.2 425h7.4v1h-7.4zM56.0 425h7.4v1h-7.4zM70.8 426h7.4v1h-7.4zM56.0 427h7.4v1h-7.4zM93.1 427h7.4v1h-7.4zM41.2 428h14.8v1h-14.8zM78.3 428h14.8v1h-14.8zM41.2 429h22.2v1h-22.2zM70.8 429h7.4v1h-7.4zM56.0 431h14.8v1h-14.8zM93.1 431h7.4v1h-7.4zM85.7 433h7.4v1h-7.4zM85.7 434h14.8v1h-14.8zM78.3 435h7.4v1h-7.4zM48.6 436h7.4v1h-7.4zM41.2 438h7.4v1h-7.4zM70.8 438h7.4v1h-7.4zM107.9 439h7.4v1h-7.4zM70.8 440h7.4v1h-7.4zM122.7 440h7.4v1h-7.4zM78.3 442h7.4v1h-7.4zM41.2 443h14.8v1h-14.8zM78.3 443h14.8v1h-14.8zM122.7 444h7.4v1h-7.4zM115.3 446h7.4v1h-7.4zM70.8 448h7.4v1h-7.4zM48.6 449h7.4v1h-7.4zM48.6 450h7.4v1h-7.4zM196.9 450h7.4v1h-7.4zM41.2 451h14.8v1h-14.8zM93.1 451h7.4v1h-7.4zM70.8 452h14.8v1h-14.8zM70.8 453h7.4v1h-7.4zM41.2 454h7.4v1h-7.4zM63.4 455h7.4v1h-7.4zM122.7 457h7.4v1h-7.4zM48.6 459h7.4v1h-7.4zM48.6 460h7.4v1h-7.4zM63.4 460h7.4v1h-7.4zM41.2 461h7.4v1h-7.4zM93.1 462h7.4v1h-7.4zM56.0 463h14.8v1h-14.8zM100.5 465h7.4v1h-7.4zM122.7 465h7.4v1h-7.4zM70.8 466h7.4v1h-7.4zM48.6 467h7.4v1h-7.4zM63.4 467h7.4v1h-7.4zM85.7 467h7.4v1h-7.4zM48.6 468h7.4v1h-7.4zM63.4 468h7.4v1h-7.4zM85.7 469h7.4v1h-7.4zM56.0 471h7.4v1h-7.4zM78.3 471h7.4v1h-7.4zM48.6 472h14.8v1h-14.8zM78.3 472h7.4v1h-7.4zM56.0 473h7.4v1h-7.4zM78.3 474h7.4v1h-7.4zM41.2 475h14.8v1h-14.8z" fill="#fafdc8" shape-rendering="crispEdges"/>
<path d="M145.0 277h7.4v1h-7.4zM152.4 278h7.4v1h-7.4zM182.0 279h14.8v1h-14.8zM145.0 280h7.4v1h-7.4zM93.1 281h7.4v1h-7.4zM122.7 281h7.4v1h-7.4zM78.3 282h7.4v1h-7.4zM100.5 282h7.4v1h-7.4zM182.0 283h7.4v1h-7.4zM196.9 283h14.8v1h-14.8zM115.3 284h7.4v1h-7.4zM174.6 284h7.4v1h-7.4zM248.8 284h7.4v1h-7.4zM130.1 285h7.4v1h-7.4zM167.2 287h7.4v1h-7.4zM182.0 288h7.4v1h-7.4zM130.1 289h7.4v1h-7.4zM145.0 289h7.4v1h-7.4zM189.4 289h7.4v1h-7.4zM204.3 289h14.8v1h-14.8zM130.1 290h14.8v1h-14.8zM256.2 290h7.4v1h-7.4zM122.7 292h7.4v1h-7.4zM115.3 296h7.4v1h-7.4zM130.1 296h7.4v1h-7.4zM100.5 298h7.4v1h-7.4zM85.7 299h7.4v1h-7.4zM100.5 300h7.4v1h-7.4zM182.0 301h7.4v1h-7.4zM115.3 302h14.8v1h-14.8zM137.6 302h7.4v1h-7.4zM211.7 303h7.4v1h-7.4zM100.5 304h7.4v1h-7.4zM115.3 305h7.4v1h-7.4zM159.8 306h7.4v1h-7.4zM256.2 307h7.4v1h-7.4zM130.1 309h7.4v1h-7.4zM152.4 309h7.4v1h-7.4zM122.7 311h7.4v1h-7.4zM145.0 311h14.8v1h-14.8zM70.8 312h7.4v1h-7.4zM100.5 312h7.4v1h-7.4zM137.6 312h7.4v1h-7.4zM182.0 312h7.4v1h-7.4zM122.7 313h7.4v1h-7.4zM70.8 314h7.4v1h-7.4zM78.3 315h7.4v1h-7.4zM167.2 315h7.4v1h-7.4zM152.4 316h7.4v1h-7.4zM204.3 316h7.4v1h-7.4zM115.3 317h7.4v1h-7.4zM93.1 319h7.4v1h-7.4zM204.3 319h7.4v1h-7.4zM167.2 320h14.8v1h-14.8zM271.0 320h7.4v1h-7.4zM167.2 321h7.4v1h-7.4zM130.1 322h7.4v1h-7.4zM256.2 322h7.4v1h-7.4zM196.9 323h7.4v1h-7.4zM182.0 324h7.4v1h-7.4zM204.3 324h7.4v1h-7.4zM226.5 325h7.4v1h-7.4zM241.3 325h7.4v1h-7.4zM70.8 326h7.4v1h-7.4zM137.6 326h7.4v1h-7.4zM167.2 326h14.8v1h-14.8zM204.3 326h14.8v1h-14.8zM85.7 327h14.8v1h-14.8zM182.0 327h7.4v1h-7.4zM211.7 327h7.4v1h-7.4zM226.5 327h7.4v1h-7.4zM263.6 327h7.4v1h-7.4zM159.8 328h7.4v1h-7.4zM174.6 328h7.4v1h-7.4zM219.1 328h7.4v1h-7.4zM271.0 328h7.4v1h-7.4zM70.8 329h7.4v1h-7.4zM145.0 329h7.4v1h-7.4zM159.8 329h7.4v1h-7.4zM189.4 329h7.4v1h-7.4zM204.3 329h7.4v1h-7.4zM226.5 329h14.8v1h-14.8zM93.1 330h7.4v1h-7.4zM152.4 330h7.4v1h-7.4zM211.7 330h14.8v1h-14.8zM241.3 330h7.4v1h-7.4zM256.2 330h22.2v1h-22.2zM130.1 331h7.4v1h-7.4zM152.4 331h7.4v1h-7.4zM189.4 331h37.1v1h-37.1zM241.3 331h7.4v1h-7.4zM271.0 331h7.4v1h-7.4zM70.8 332h7.4v1h-7.4zM130.1 332h7.4v1h-7.4zM196.9 332h7.4v1h-7.4zM233.9 332h7.4v1h-7.4zM93.1 333h7.4v1h-7.4zM145.0 333h7.4v1h-7.4zM204.3 333h7.4v1h-7.4zM219.1 333h7.4v1h-7.4zM70.8 334h7.4v1h-7.4zM145.0 334h7.4v1h-7.4zM159.8 335h7.4v1h-7.4zM271.0 335h7.4v1h-7.4zM130.1 336h14.8v1h-14.8zM167.2 336h7.4v1h-7.4zM204.3 336h7.4v1h-7.4zM152.4 337h7.4v1h-7.4zM226.5 337h7.4v1h-7.4zM263.6 337h7.4v1h-7.4zM159.8 338h7.4v1h-7.4zM174.6 338h14.8v1h-14.8zM219.1 338h7.4v1h-7.4zM256.2 338h7.4v1h-7.4zM145.0 339h7.4v1h-7.4zM248.8 339h7.4v1h-7.4zM145.0 340h7.4v1h-7.4zM182.0 340h7.4v1h-7.4zM137.6 341h7.4v1h-7.4zM152.4 341h7.4v1h-7.4zM174.6 341h7.4v1h-7.4zM130.1 342h7.4v1h-7.4zM152.4 342h7.4v1h-7.4zM174.6 342h7.4v1h-7.4zM256.2 342h7.4v1h-7.4zM78.3 343h7.4v1h-7.4zM137.6 343h7.4v1h-7.4zM189.4 343h7.4v1h-7.4zM159.8 344h7.4v1h-7.4zM174.6 344h7.4v1h-7.4zM226.5 344h7.4v1h-7.4zM248.8 344h7.4v1h-7.4zM167.2 345h7.4v1h-7.4zM241.3 345h7.4v1h-7.4zM100.5 347h7.4v1h-7.4zM159.8 347h7.4v1h-7.4zM256.2 347h7.4v1h-7.4zM130.1 348h22.2v1h-22.2zM159.8 348h7.4v1h-7.4zM182.0 348h7.4v1h-7.4zM204.3 348h14.8v1h-14.8zM256.2 348h22.2v1h-22.2zM78.3 349h7.4v1h-7.4zM137.6 349h7.4v1h-7.4zM152.4 349h7.4v1h-7.4zM204.3 349h7.4v1h-7.4zM248.8 349h7.4v1h-7.4zM271.0 349h7.4v1h-7.4zM130.1 350h7.4v1h-7.4zM145.0 350h7.4v1h-7.4zM189.4 350h7.4v1h-7.4zM145.0 351h7.4v1h-7.4zM189.4 351h14.8v1h-14.8zM70.8 352h7.4v1h-7.4zM152.4 352h7.4v1h-7.4zM196.9 352h7.4v1h-7.4zM233.9 352h7.4v1h-7.4zM211.7 353h7.4v1h-7.4zM167.2 354h14.8v1h-14.8zM189.4 354h7.4v1h-7.4zM204.3 354h22.2v1h-22.2zM145.0 355h7.4v1h-7.4zM189.4 355h7.4v1h-7.4zM233.9 355h14.8v1h-14.8zM174.6 356h7.4v1h-7.4zM196.9 356h7.4v1h-7.4zM219.1 356h7.4v1h-7.4zM233.9 356h7.4v1h-7.4zM263.6 356h7.4v1h-7.4zM182.0 357h7.4v1h-7.4zM196.9 357h7.4v1h-7.4zM226.5 357h7.4v1h-7.4zM263.6 357h14.8v1h-14.8zM93.1 358h7.4v1h-7.4zM256.2 358h7.4v1h-7.4zM130.1 359h7.4v1h-7.4zM256.2 359h7.4v1h-7.4zM78.3 360h7.4v1h-7.4zM137.6 360h14.8v1h-14.8zM182.0 360h7.4v1h-7.4zM196.9 360h14.8v1h-14.8zM219.1 360h22.2v1h-22.2zM130.1 361h7.4v1h-7.4zM145.0 361h22.2v1h-22.2zM211.7 361h7.4v1h-7.4zM226.5 361h7.4v1h-7.4zM271.0 361h7.4v1h-7.4zM130.1 362h7.4v1h-7.4zM182.0 362h7.4v1h-7.4zM256.2 362h7.4v1h-7.4zM271.0 362h7.4v1h-7.4zM93.1 363h7.4v1h-7.4zM145.0 363h7.4v1h-7.4zM159.8 363h7.4v1h-7.4zM174.6 363h7.4v1h-7.4zM189.4 363h7.4v1h-7.4zM204.3 363h14.8v1h-14.8zM241.3 363h7.4v1h-7.4zM137.6 364h14.8v1h-14.8zM167.2 364h22.2v1h-22.2zM204.3 364h7.4v1h-7.4zM137.6 365h14.8v1h-14.8zM196.9 365h14.8v1h-14.8zM256.2 365h7.4v1h-7.4zM226.5 366h7.4v1h-7.4zM56.0 367h7.4v1h-7.4zM226.5 367h7.4v1h-7.4zM241.3 367h7.4v1h-7.4zM56.0 368h14.8v1h-14.8zM107.9 368h7.4v1h-7.4zM41.2 369h7.4v1h-7.4zM122.7 369h7.4v1h-7.4zM233.9 369h7.4v1h-7.4zM107.9 370h7.4v1h-7.4zM196.9 370h7.4v1h-7.4zM41.2 371h7.4v1h-7.4zM63.4 371h7.4v1h-7.4zM41.2 372h14.8v1h-14.8zM100.5 373h7.4v1h-7.4zM48.6 374h7.4v1h-7.4zM63.4 374h7.4v1h-7.4zM248.8 374h7.4v1h-7.4zM107.9 375h7.4v1h-7.4zM167.2 375h7.4v1h-7.4zM226.5 375h14.8v1h-14.8zM248.8 375h7.4v1h-7.4zM41.2 376h7.4v1h-7.4zM219.1 376h14.8v1h-14.8zM56.0 377h7.4v1h-7.4zM226.5 377h7.4v1h-7.4zM41.2 378h7.4v1h-7.4zM63.4 378h7.4v1h-7.4zM107.9 378h7.4v1h-7.4zM122.7 378h7.4v1h-7.4zM226.5 378h7.4v1h-7.4zM41.2 379h7.4v1h-7.4zM56.0 379h7.4v1h-7.4zM233.9 379h7.4v1h-7.4zM263.6 379h7.4v1h-7.4zM263.6 380h7.4v1h-7.4zM122.7 382h7.4v1h-7.4zM41.2 383h7.4v1h-7.4zM56.0 383h7.4v1h-7.4zM48.6 384h7.4v1h-7.4zM196.9 384h7.4v1h-7.4zM233.9 384h7.4v1h-7.4zM256.2 384h7.4v1h-7.4zM271.0 384h7.4v1h-7.4zM226.5 385h7.4v1h-7.4zM211.7 386h22.2v1h-22.2zM63.4 387h7.4v1h-7.4zM211.7 387h7.4v1h-7.4zM233.9 387h7.4v1h-7.4zM263.6 387h7.4v1h-7.4zM63.4 388h7.4v1h-7.4zM63.4 389h7.4v1h-7.4zM167.2 389h14.8v1h-14.8zM226.5 389h14.8v1h-14.8zM41.2 390h7.4v1h-7.4zM63.4 390h7.4v1h-7.4zM159.8 390h7.4v1h-7.4zM182.0 390h7.4v1h-7.4zM241.3 390h7.4v1h-7.4zM93.1 391h7.4v1h-7.4zM78.3 395h7.4v1h-7.4zM93.1 397h7.4v1h-7.4zM263.6 397h7.4v1h-7.4zM41.2 401h7.4v1h-7.4zM63.4 401h7.4v1h-7.4zM48.6 402h14.8v1h-14.8zM41.2 403h7.4v1h-7.4zM78.3 403h7.4v1h-7.4zM93.1 403h7.4v1h-7.4zM56.0 404h7.4v1h-7.4zM70.8 404h7.4v1h-7.4zM63.4 405h7.4v1h-7.4zM85.7 406h7.4v1h-7.4zM93.1 407h7.4v1h-7.4zM85.7 411h7.4v1h-7.4zM41.2 413h22.2v1h-22.2zM93.1 414h7.4v1h-7.4zM41.2 416h14.8v1h-14.8zM137.6 416h14.8v1h-14.8zM78.3 418h7.4v1h-7.4zM48.6 419h7.4v1h-7.4zM70.8 419h7.4v1h-7.4zM41.2 421h7.4v1h-7.4zM48.6 422h14.8v1h-14.8zM56.0 423h14.8v1h-14.8zM70.8 425h7.4v1h-7.4zM137.6 425h7.4v1h-7.4zM85.7 426h7.4v1h-7.4zM93.1 428h7.4v1h-7.4zM63.4 429h7.4v1h-7.4zM100.5 431h7.4v1h-7.4zM78.3 436h7.4v1h-7.4zM93.1 436h7.4v1h-7.4zM78.3 438h7.4v1h-7.4zM70.8 441h7.4v1h-7.4zM115.3 443h7.4v1h-7.4zM85.7 444h7.4v1h-7.4zM115.3 447h7.4v1h-7.4zM78.3 453h14.8v1h-14.8zM78.3 462h7.4v1h-7.4zM56.0 465h7.4v1h-7.4zM70.8 465h7.4v1h-7.4zM41.2 467h7.4v1h-7.4zM56.0 467h7.4v1h-7.4zM63.4 469h7.4v1h-7.4zM41.2 471h14.8v1h-14.8zM63.4 472h7.4v1h-7.4zM93.1 472h7.4v1h-7.4z" fill="#ffffbf" shape-rendering="crispEdges"/>
<path d="M70.8 275h7.4v1h-7.4zM152.4 275h7.4v1h-7.4zM196.9 275h7.4v1h-7.4zM211.7 275h7.4v1h-7.4zM137.6 276h7.4v1h-7.4zM152.4 276h7.4v1h-7.4zM70.8 277h7.4v1h-7.4zM130.1 277h14.8v1h-14.8zM152.4 277h7.4v1h-7.4zM174.6 277h7.4v1h-7.4zM130.1 278h14.8v1h-14.8zM182.0 278h7.4v1h-7.4zM211.7 278h7.4v1h-7.4zM130.1 279h7.4v1h-7.4zM107.9 280h7.4v1h-7.4zM130.1 280h7.4v1h-7.4zM211.7 280h7.4v1h-7.4zM263.6 280h7.4v1h-7.4zM145.0 281h14.8v1h-14.8zM211.7 281h7.4v1h-7.4zM248.8 281h7.4v1h-7.4zM70.8 282h7.4v1h-7.4zM167.2 282h7.4v1h-7.4zM107.9 283h7.4v1h-7.4zM122.7 283h7.4v1h-7.4zM152.4 283h7.4v1h-7.4zM167.2 283h14.8v1h-14.8zM189.4 283h7.4v1h-7.4zM211.7 283h7.4v1h-7.4zM159.8 284h7.4v1h-7.4zM196.9 284h14.8v1h-14.8zM241.3 284h7.4v1h-7.4zM256.2 284h14.8v1h-14.8zM137.6 285h7.4v1h-7.4zM174.6 286h7.4v1h-7.4zM189.4 286h29.6v1h-29.6zM78.3 287h7.4v1h-7.4zM145.0 287h7.4v1h-7.4zM174.6 287h14.8v1h-14.8zM204.3 287h7.4v1h-7.4zM256.2 287h7.4v1h-7.4zM167.2 288h7.4v1h-7.4zM271.0 288h7.4v1h-7.4zM137.6 289h7.4v1h-7.4zM196.9 289h7.4v1h-7.4zM248.8 289h7.4v1h-7.4zM145.0 290h14.8v1h-14.8zM93.1 291h7.4v1h-7.4zM145.0 291h7.4v1h-7.4zM271.0 291h7.4v1h-7.4zM100.5 292h7.4v1h-7.4zM93.1 293h7.4v1h-7.4zM130.1 293h7.4v1h-7.4zM145.0 293h7.4v1h-7.4zM137.6 294h7.4v1h-7.4zM78.3 295h7.4v1h-7.4zM122.7 295h7.4v1h-7.4zM137.6 295h7.4v1h-7.4zM226.5 295h7.4v1h-7.4zM248.8 295h29.6v1h-29.6zM145.0 296h7.4v1h-7.4zM271.0 296h7.4v1h-7.4zM70.8 297h7.4v1h-7.4zM137.6 297h7.4v1h-7.4zM107.9 299h7.4v1h-7.4zM107.9 300h7.4v1h-7.4zM122.7 300h7.4v1h-7.4zM159.8 301h7.4v1h-7.4zM174.6 301h7.4v1h-7.4zM100.5 302h14.8v1h-14.8zM130.1 302h7.4v1h-7.4zM145.0 302h7.4v1h-7.4zM241.3 302h7.4v1h-7.4zM145.0 303h7.4v1h-7.4zM159.8 303h7.4v1h-7.4zM189.4 303h14.8v1h-14.8zM93.1 304h7.4v1h-7.4zM107.9 304h7.4v1h-7.4zM130.1 304h7.4v1h-7.4zM189.4 304h14.8v1h-14.8zM100.5 305h14.8v1h-14.8zM159.8 305h7.4v1h-7.4zM196.9 305h14.8v1h-14.8zM248.8 305h14.8v1h-14.8zM248.8 306h7.4v1h-7.4zM93.1 307h7.4v1h-7.4zM122.7 307h7.4v1h-7.4zM263.6 307h7.4v1h-7.4zM152.4 308h14.8v1h-14.8zM137.6 309h14.8v1h-14.8zM122.7 310h7.4v1h-7.4zM78.3 311h7.4v1h-7.4zM100.5 311h7.4v1h-7.4zM137.6 311h7.4v1h-7.4zM167.2 312h7.4v1h-7.4zM70.8 313h7.4v1h-7.4zM93.1 313h7.4v1h-7.4zM211.7 313h7.4v1h-7.4zM78.3 314h7.4v1h-7.4zM70.8 316h7.4v1h-7.4zM189.4 316h7.4v1h-7.4zM241.3 316h7.4v1h-7.4zM137.6 317h7.4v1h-7.4zM152.4 317h14.8v1h-14.8zM167.2 318h7.4v1h-7.4zM196.9 319h7.4v1h-7.4zM226.5 319h7.4v1h-7.4zM70.8 320h7.4v1h-7.4zM189.4 320h7.4v1h-7.4zM182.0 321h14.8v1h-14.8zM226.5 321h7.4v1h-7.4zM256.2 321h22.2v1h-22.2zM137.6 322h14.8v1h-14.8zM130.1 323h14.8v1h-14.8zM211.7 323h7.4v1h-7.4zM93.1 324h7.4v1h-7.4zM196.9 324h7.4v1h-7.4zM70.8 325h7.4v1h-7.4zM130.1 326h7.4v1h-7.4zM271.0 326h7.4v1h-7.4zM137.6 327h7.4v1h-7.4zM256.2 327h7.4v1h-7.4zM137.6 328h7.4v1h-7.4zM152.4 328h7.4v1h-7.4zM182.0 328h7.4v1h-7.4zM196.9 328h7.4v1h-7.4zM226.5 328h14.8v1h-14.8zM219.1 329h7.4v1h-7.4zM256.2 329h14.8v1h-14.8zM137.6 330h7.4v1h-7.4zM70.8 331h7.4v1h-7.4zM85.7 331h7.4v1h-7.4zM137.6 331h7.4v1h-7.4zM248.8 331h7.4v1h-7.4zM137.6 332h7.4v1h-7.4zM167.2 332h7.4v1h-7.4zM78.3 333h7.4v1h-7.4zM130.1 333h7.4v1h-7.4zM152.4 333h7.4v1h-7.4zM130.1 334h7.4v1h-7.4zM152.4 334h7.4v1h-7.4zM241.3 334h7.4v1h-7.4zM130.1 335h7.4v1h-7.4zM145.0 335h7.4v1h-7.4zM145.0 336h14.8v1h-14.8zM248.8 336h7.4v1h-7.4zM130.1 337h7.4v1h-7.4zM145.0 337h7.4v1h-7.4zM248.8 337h7.4v1h-7.4zM70.8 338h7.4v1h-7.4zM130.1 338h7.4v1h-7.4zM152.4 338h7.4v1h-7.4zM167.2 338h7.4v1h-7.4zM233.9 338h7.4v1h-7.4zM263.6 338h7.4v1h-7.4zM85.7 339h7.4v1h-7.4zM115.3 339h7.4v1h-7.4zM159.8 339h14.8v1h-14.8zM182.0 339h7.4v1h-7.4zM263.6 339h7.4v1h-7.4zM130.1 340h14.8v1h-14.8zM152.4 340h7.4v1h-7.4zM167.2 340h7.4v1h-7.4zM256.2 340h14.8v1h-14.8zM85.7 341h7.4v1h-7.4zM130.1 341h7.4v1h-7.4zM159.8 341h7.4v1h-7.4zM182.0 341h7.4v1h-7.4zM248.8 341h7.4v1h-7.4zM137.6 342h7.4v1h-7.4zM159.8 342h14.8v1h-14.8zM167.2 343h7.4v1h-7.4zM256.2 344h7.4v1h-7.4zM145.0 345h7.4v1h-7.4zM219.1 345h7.4v1h-7.4zM248.8 346h7.4v1h-7.4zM78.3 347h7.4v1h-7.4zM107.9 347h7.4v1h-7.4zM85.7 349h7.4v1h-7.4zM196.9 349h7.4v1h-7.4zM263.6 349h7.4v1h-7.4zM93.1 350h7.4v1h-7.4zM159.8 350h7.4v1h-7.4zM248.8 350h14.8v1h-14.8zM85.7 351h7.4v1h-7.4zM137.6 351h7.4v1h-7.4zM152.4 351h7.4v1h-7.4zM211.7 351h14.8v1h-14.8zM241.3 351h7.4v1h-7.4zM137.6 352h14.8v1h-14.8zM189.4 352h7.4v1h-7.4zM78.3 353h7.4v1h-7.4zM115.3 353h7.4v1h-7.4zM130.1 353h7.4v1h-7.4zM145.0 353h7.4v1h-7.4zM189.4 353h14.8v1h-14.8zM130.1 354h14.8v1h-14.8zM78.3 355h7.4v1h-7.4zM137.6 355h7.4v1h-7.4zM152.4 355h14.8v1h-14.8zM204.3 355h14.8v1h-14.8zM122.7 356h7.4v1h-7.4zM152.4 356h7.4v1h-7.4zM241.3 356h7.4v1h-7.4zM256.2 356h7.4v1h-7.4zM145.0 357h7.4v1h-7.4zM174.6 357h7.4v1h-7.4zM189.4 357h7.4v1h-7.4zM211.7 357h7.4v1h-7.4zM130.1 358h7.4v1h-7.4zM152.4 358h7.4v1h-7.4zM167.2 358h7.4v1h-7.4zM233.9 358h14.8v1h-14.8zM85.7 359h7.4v1h-7.4zM137.6 359h7.4v1h-7.4zM189.4 359h7.4v1h-7.4zM219.1 359h7.4v1h-7.4zM233.9 359h7.4v1h-7.4zM130.1 360h7.4v1h-7.4zM152.4 360h7.4v1h-7.4zM167.2 360h7.4v1h-7.4zM211.7 360h7.4v1h-7.4zM93.1 361h7.4v1h-7.4zM137.6 361h7.4v1h-7.4zM167.2 361h7.4v1h-7.4zM204.3 361h7.4v1h-7.4zM70.8 362h7.4v1h-7.4zM137.6 362h7.4v1h-7.4zM152.4 362h7.4v1h-7.4zM174.6 362h7.4v1h-7.4zM204.3 362h7.4v1h-7.4zM233.9 362h7.4v1h-7.4zM130.1 363h14.8v1h-14.8zM167.2 363h7.4v1h-7.4zM182.0 363h7.4v1h-7.4zM196.9 363h7.4v1h-7.4zM219.1 363h7.4v1h-7.4zM85.7 364h7.4v1h-7.4zM130.1 364h7.4v1h-7.4zM85.7 365h7.4v1h-7.4zM189.4 365h7.4v1h-7.4zM211.7 365h7.4v1h-7.4zM233.9 365h7.4v1h-7.4zM211.7 366h7.4v1h-7.4zM107.9 367h7.4v1h-7.4zM130.1 367h22.2v1h-22.2zM233.9 367h7.4v1h-7.4zM41.2 368h14.8v1h-14.8zM137.6 368h7.4v1h-7.4zM174.6 368h22.2v1h-22.2zM204.3 368h7.4v1h-7.4zM256.2 368h7.4v1h-7.4zM137.6 369h7.4v1h-7.4zM152.4 369h7.4v1h-7.4zM241.3 369h22.2v1h-22.2zM271.0 369h7.4v1h-7.4zM204.3 370h7.4v1h-7.4zM263.6 370h7.4v1h-7.4zM241.3 371h7.4v1h-7.4zM256.2 371h7.4v1h-7.4zM130.1 372h7.4v1h-7.4zM226.5 372h7.4v1h-7.4zM115.3 373h7.4v1h-7.4zM145.0 373h7.4v1h-7.4zM196.9 373h7.4v1h-7.4zM226.5 373h7.4v1h-7.4zM241.3 373h7.4v1h-7.4zM130.1 374h7.4v1h-7.4zM152.4 374h14.8v1h-14.8zM211.7 374h7.4v1h-7.4zM263.6 374h7.4v1h-7.4zM174.6 375h7.4v1h-7.4zM219.1 375h7.4v1h-7.4zM56.0 376h7.4v1h-7.4zM174.6 376h7.4v1h-7.4zM41.2 377h7.4v1h-7.4zM107.9 377h7.4v1h-7.4zM204.3 377h7.4v1h-7.4zM241.3 377h7.4v1h-7.4zM226.5 379h7.4v1h-7.4zM248.8 379h7.4v1h-7.4zM56.0 380h7.4v1h-7.4zM100.5 380h7.4v1h-7.4zM122.7 380h7.4v1h-7.4zM233.9 380h14.8v1h-14.8zM256.2 380h7.4v1h-7.4zM271.0 380h7.4v1h-7.4zM48.6 381h7.4v1h-7.4zM63.4 381h7.4v1h-7.4zM174.6 381h7.4v1h-7.4zM204.3 381h7.4v1h-7.4zM233.9 381h7.4v1h-7.4zM41.2 382h7.4v1h-7.4zM137.6 382h7.4v1h-7.4zM196.9 382h14.8v1h-14.8zM48.6 383h7.4v1h-7.4zM63.4 383h7.4v1h-7.4zM204.3 383h14.8v1h-14.8zM56.0 384h7.4v1h-7.4zM189.4 384h7.4v1h-7.4zM204.3 384h29.6v1h-29.6zM241.3 384h14.8v1h-14.8zM263.6 384h7.4v1h-7.4zM145.0 385h7.4v1h-7.4zM204.3 385h14.8v1h-14.8zM137.6 386h7.4v1h-7.4zM189.4 386h7.4v1h-7.4zM241.3 386h7.4v1h-7.4zM159.8 387h14.8v1h-14.8zM196.9 387h14.8v1h-14.8zM248.8 387h14.8v1h-14.8zM48.6 388h7.4v1h-7.4zM189.4 388h14.8v1h-14.8zM226.5 388h7.4v1h-7.4zM248.8 388h7.4v1h-7.4zM159.8 389h7.4v1h-7.4zM241.3 389h7.4v1h-7.4zM271.0 389h7.4v1h-7.4zM48.6 390h14.8v1h-14.8zM167.2 390h14.8v1h-14.8zM189.4 390h7.4v1h-7.4zM211.7 390h7.4v1h-7.4zM233.9 391h7.4v1h-7.4zM85.7 394h7.4v1h-7.4zM85.7 400h7.4v1h-7.4zM78.3 401h7.4v1h-7.4zM145.0 401h7.4v1h-7.4zM93.1 404h7.4v1h-7.4zM159.8 405h7.4v1h-7.4zM70.8 409h7.4v1h-7.4zM48.6 412h7.4v1h-7.4zM182.0 414h7.4v1h-7.4zM63.4 416h7.4v1h-7.4zM85.7 416h7.4v1h-7.4zM226.5 420h7.4v1h-7.4zM78.3 421h7.4v1h-7.4zM93.1 421h7.4v1h-7.4zM78.3 422h7.4v1h-7.4zM93.1 423h7.4v1h-7.4zM152.4 425h7.4v1h-7.4zM41.2 426h22.2v1h-22.2zM159.8 429h7.4v1h-7.4zM167.2 431h7.4v1h-7.4zM167.2 432h7.4v1h-7.4zM182.0 433h7.4v1h-7.4zM70.8 439h7.4v1h-7.4zM152.4 439h7.4v1h-7.4zM70.8 444h7.4v1h-7.4zM167.2 445h7.4v1h-7.4zM226.5 446h14.8v1h-14.8zM233.9 448h7.4v1h-7.4zM189.4 451h7.4v1h-7.4zM204.3 451h7.4v1h-7.4zM100.5 452h14.8v1h-14.8zM271.0 453h7.4v1h-7.4zM93.1 454h7.4v1h-7.4zM85.7 455h7.4v1h-7.4zM93.1 457h7.4v1h-7.4zM130.1 459h7.4v1h-7.4zM204.3 459h7.4v1h-7.4zM145.0 460h7.4v1h-7.4zM145.0 461h14.8v1h-14.8zM100.5 463h7.4v1h-7.4zM48.6 466h7.4v1h-7.4zM41.2 469h7.4v1h-7.4zM56.0 469h7.4v1h-7.4zM78.3 469h7.4v1h-7.4zM41.2 470h7.4v1h-7.4zM56.0 470h14.8v1h-14.8zM70.8 471h7.4v1h-7.4zM152.4 471h7.4v1h-7.4zM93.1 473h7.4v1h-7.4zM85.7 474h7.4v1h-7.4zM63.4 475h7.4v1h-7.4z" fill="#fffab8" shape-rendering="crispEdges"/>
<path d="M137.6 275h7.4v1h-7.4zM182.0 275h14.8v1h-14.8zM204.3 275h7.4v1h-7.4zM100.5 276h7.4v1h-7.4zM130.1 276h7.4v1h-7.4zM145.0 276h7.4v1h-7.4zM159.8 276h14.8v1h-14.8zM204.3 276h7.4v1h-7.4zM167.2 277h7.4v1h-7.4zM233.9 277h7.4v1h-7.4zM159.8 278h7.4v1h-7.4zM174.6 278h7.4v1h-7.4zM189.4 278h7.4v1h-7.4zM204.3 278h7.4v1h-7.4zM137.6 279h22.2v1h-22.2zM167.2 279h7.4v1h-7.4zM211.7 279h7.4v1h-7.4zM226.5 279h7.4v1h-7.4zM248.8 279h7.4v1h-7.4zM263.6 279h14.8v1h-14.8zM152.4 280h7.4v1h-7.4zM174.6 280h7.4v1h-7.4zM248.8 280h14.8v1h-14.8zM196.9 281h7.4v1h-7.4zM263.6 281h7.4v1h-7.4zM152.4 282h14.8v1h-14.8zM174.6 282h14.8v1h-14.8zM256.2 282h7.4v1h-7.4zM271.0 282h7.4v1h-7.4zM137.6 283h7.4v1h-7.4zM159.8 283h7.4v1h-7.4zM263.6 283h7.4v1h-7.4zM122.7 284h14.8v1h-14.8zM167.2 284h7.4v1h-7.4zM122.7 285h7.4v1h-7.4zM152.4 285h14.8v1h-14.8zM159.8 286h14.8v1h-14.8zM159.8 287h7.4v1h-7.4zM189.4 287h7.4v1h-7.4zM211.7 287h7.4v1h-7.4zM159.8 288h7.4v1h-7.4zM174.6 288h7.4v1h-7.4zM196.9 288h29.6v1h-29.6zM248.8 288h14.8v1h-14.8zM182.0 289h7.4v1h-7.4zM256.2 289h14.8v1h-14.8zM182.0 290h7.4v1h-7.4zM196.9 290h7.4v1h-7.4zM248.8 290h7.4v1h-7.4zM130.1 291h14.8v1h-14.8zM196.9 291h7.4v1h-7.4zM263.6 291h7.4v1h-7.4zM137.6 292h22.2v1h-22.2zM219.1 292h14.8v1h-14.8zM263.6 292h7.4v1h-7.4zM152.4 293h7.4v1h-7.4zM167.2 293h7.4v1h-7.4zM189.4 293h7.4v1h-7.4zM219.1 293h7.4v1h-7.4zM256.2 293h22.2v1h-22.2zM115.3 294h7.4v1h-7.4zM130.1 294h7.4v1h-7.4zM152.4 294h14.8v1h-14.8zM204.3 294h7.4v1h-7.4zM145.0 295h7.4v1h-7.4zM241.3 295h7.4v1h-7.4zM107.9 296h7.4v1h-7.4zM137.6 296h7.4v1h-7.4zM152.4 296h7.4v1h-7.4zM182.0 296h7.4v1h-7.4zM211.7 296h7.4v1h-7.4zM226.5 296h14.8v1h-14.8zM130.1 297h7.4v1h-7.4zM182.0 297h22.2v1h-22.2zM219.1 297h7.4v1h-7.4zM196.9 298h7.4v1h-7.4zM167.2 299h14.8v1h-14.8zM189.4 299h7.4v1h-7.4zM219.1 299h14.8v1h-14.8zM182.0 300h14.8v1h-14.8zM130.1 301h22.2v1h-22.2zM263.6 301h7.4v1h-7.4zM152.4 302h14.8v1h-14.8zM174.6 302h22.2v1h-22.2zM263.6 302h7.4v1h-7.4zM137.6 303h7.4v1h-7.4zM152.4 303h7.4v1h-7.4zM174.6 303h14.8v1h-14.8zM204.3 303h7.4v1h-7.4zM137.6 304h14.8v1h-14.8zM159.8 304h7.4v1h-7.4zM182.0 304h7.4v1h-7.4zM271.0 304h7.4v1h-7.4zM130.1 305h7.4v1h-7.4zM167.2 305h7.4v1h-7.4zM189.4 305h7.4v1h-7.4zM271.0 305h7.4v1h-7.4zM167.2 306h7.4v1h-7.4zM182.0 306h7.4v1h-7.4zM256.2 306h7.4v1h-7.4zM271.0 306h7.4v1h-7.4zM107.9 307h7.4v1h-7.4zM130.1 307h7.4v1h-7.4zM152.4 307h7.4v1h-7.4zM189.4 307h7.4v1h-7.4zM130.1 308h22.2v1h-22.2zM167.2 309h7.4v1h-7.4zM248.8 309h7.4v1h-7.4zM93.1 310h7.4v1h-7.4zM107.9 310h7.4v1h-7.4zM196.9 310h7.4v1h-7.4zM211.7 310h7.4v1h-7.4zM130.1 311h7.4v1h-7.4zM159.8 311h7.4v1h-7.4zM174.6 311h14.8v1h-14.8zM256.2 311h7.4v1h-7.4zM271.0 311h7.4v1h-7.4zM78.3 312h7.4v1h-7.4zM130.1 312h7.4v1h-7.4zM159.8 312h7.4v1h-7.4zM189.4 312h7.4v1h-7.4zM211.7 312h7.4v1h-7.4zM130.1 313h7.4v1h-7.4zM152.4 313h7.4v1h-7.4zM167.2 313h7.4v1h-7.4zM233.9 314h7.4v1h-7.4zM152.4 315h14.8v1h-14.8zM182.0 315h7.4v1h-7.4zM159.8 316h7.4v1h-7.4zM196.9 316h7.4v1h-7.4zM211.7 316h7.4v1h-7.4zM130.1 317h7.4v1h-7.4zM145.0 317h7.4v1h-7.4zM174.6 317h14.8v1h-14.8zM204.3 317h14.8v1h-14.8zM226.5 317h7.4v1h-7.4zM130.1 318h29.6v1h-29.6zM174.6 318h7.4v1h-7.4zM211.7 318h7.4v1h-7.4zM256.2 318h7.4v1h-7.4zM85.7 319h7.4v1h-7.4zM137.6 319h14.8v1h-14.8zM159.8 319h7.4v1h-7.4zM211.7 319h7.4v1h-7.4zM233.9 319h7.4v1h-7.4zM248.8 319h29.6v1h-29.6zM130.1 320h7.4v1h-7.4zM159.8 320h7.4v1h-7.4zM182.0 320h7.4v1h-7.4zM204.3 320h14.8v1h-14.8zM248.8 320h7.4v1h-7.4zM263.6 320h7.4v1h-7.4zM130.1 321h29.6v1h-29.6zM167.2 322h7.4v1h-7.4zM182.0 322h14.8v1h-14.8zM204.3 322h14.8v1h-14.8zM263.6 322h7.4v1h-7.4zM145.0 323h22.2v1h-22.2zM174.6 323h14.8v1h-14.8zM219.1 323h7.4v1h-7.4zM248.8 323h14.8v1h-14.8zM271.0 323h7.4v1h-7.4zM152.4 324h14.8v1h-14.8zM211.7 324h7.4v1h-7.4zM182.0 326h7.4v1h-7.4zM70.8 327h7.4v1h-7.4zM145.0 327h7.4v1h-7.4zM93.1 328h7.4v1h-7.4zM78.3 329h7.4v1h-7.4zM137.6 329h7.4v1h-7.4zM241.3 329h7.4v1h-7.4zM78.3 331h7.4v1h-7.4zM145.0 332h14.8v1h-14.8zM189.4 332h7.4v1h-7.4zM204.3 332h14.8v1h-14.8zM137.6 333h7.4v1h-7.4zM189.4 333h14.8v1h-14.8zM93.1 335h7.4v1h-7.4zM152.4 335h7.4v1h-7.4zM85.7 336h7.4v1h-7.4zM137.6 338h7.4v1h-7.4zM152.4 339h7.4v1h-7.4zM174.6 339h7.4v1h-7.4zM159.8 340h7.4v1h-7.4zM174.6 340h7.4v1h-7.4zM167.2 341h7.4v1h-7.4zM78.3 342h7.4v1h-7.4zM145.0 343h7.4v1h-7.4zM107.9 344h7.4v1h-7.4zM189.4 348h14.8v1h-14.8zM189.4 349h7.4v1h-7.4zM211.7 349h7.4v1h-7.4zM137.6 350h7.4v1h-7.4zM130.1 351h7.4v1h-7.4zM211.7 352h7.4v1h-7.4zM122.7 353h7.4v1h-7.4zM137.6 353h7.4v1h-7.4zM152.4 353h7.4v1h-7.4zM145.0 354h14.8v1h-14.8zM219.1 355h14.8v1h-14.8zM226.5 356h7.4v1h-7.4zM137.6 357h7.4v1h-7.4zM152.4 357h14.8v1h-14.8zM137.6 358h14.8v1h-14.8zM219.1 358h14.8v1h-14.8zM145.0 359h14.8v1h-14.8zM78.3 361h7.4v1h-7.4zM174.6 361h14.8v1h-14.8zM145.0 362h7.4v1h-7.4zM167.2 362h7.4v1h-7.4zM219.1 362h7.4v1h-7.4zM70.8 363h7.4v1h-7.4zM152.4 363h7.4v1h-7.4zM115.3 367h7.4v1h-7.4zM152.4 367h7.4v1h-7.4zM189.4 367h7.4v1h-7.4zM204.3 367h7.4v1h-7.4zM219.1 367h7.4v1h-7.4zM248.8 367h29.6v1h-29.6zM145.0 368h29.6v1h-29.6zM196.9 368h7.4v1h-7.4zM226.5 368h14.8v1h-14.8zM263.6 368h14.8v1h-14.8zM63.4 369h7.4v1h-7.4zM145.0 369h7.4v1h-7.4zM167.2 369h7.4v1h-7.4zM189.4 369h14.8v1h-14.8zM211.7 369h14.8v1h-14.8zM115.3 370h7.4v1h-7.4zM174.6 370h7.4v1h-7.4zM189.4 370h7.4v1h-7.4zM271.0 370h7.4v1h-7.4zM189.4 371h7.4v1h-7.4zM248.8 371h7.4v1h-7.4zM263.6 371h7.4v1h-7.4zM137.6 373h7.4v1h-7.4zM167.2 373h7.4v1h-7.4zM189.4 373h7.4v1h-7.4zM211.7 373h7.4v1h-7.4zM41.2 374h7.4v1h-7.4zM137.6 374h7.4v1h-7.4zM182.0 375h7.4v1h-7.4zM196.9 375h7.4v1h-7.4zM241.3 375h7.4v1h-7.4zM256.2 375h7.4v1h-7.4zM271.0 375h7.4v1h-7.4zM48.6 376h7.4v1h-7.4zM63.4 376h7.4v1h-7.4zM167.2 376h7.4v1h-7.4zM182.0 376h7.4v1h-7.4zM48.6 377h7.4v1h-7.4zM63.4 377h7.4v1h-7.4zM248.8 377h7.4v1h-7.4zM263.6 377h14.8v1h-14.8zM241.3 378h7.4v1h-7.4zM256.2 378h7.4v1h-7.4zM271.0 378h7.4v1h-7.4zM48.6 379h7.4v1h-7.4zM159.8 379h7.4v1h-7.4zM174.6 379h7.4v1h-7.4zM241.3 379h7.4v1h-7.4zM196.9 380h7.4v1h-7.4zM211.7 380h22.2v1h-22.2zM248.8 380h7.4v1h-7.4zM41.2 381h7.4v1h-7.4zM56.0 381h7.4v1h-7.4zM167.2 381h7.4v1h-7.4zM226.5 381h7.4v1h-7.4zM263.6 381h7.4v1h-7.4zM56.0 382h14.8v1h-14.8zM189.4 382h7.4v1h-7.4zM211.7 382h37.1v1h-37.1zM256.2 382h7.4v1h-7.4zM159.8 383h7.4v1h-7.4zM226.5 383h14.8v1h-14.8zM248.8 383h7.4v1h-7.4zM41.2 384h7.4v1h-7.4zM63.4 384h7.4v1h-7.4zM182.0 384h7.4v1h-7.4zM248.8 385h7.4v1h-7.4zM130.1 386h7.4v1h-7.4zM152.4 386h7.4v1h-7.4zM204.3 386h7.4v1h-7.4zM233.9 386h7.4v1h-7.4zM130.1 387h14.8v1h-14.8zM182.0 387h7.4v1h-7.4zM219.1 387h7.4v1h-7.4zM241.3 387h7.4v1h-7.4zM271.0 387h7.4v1h-7.4zM159.8 388h7.4v1h-7.4zM182.0 388h7.4v1h-7.4zM211.7 388h7.4v1h-7.4zM256.2 388h7.4v1h-7.4zM145.0 389h7.4v1h-7.4zM196.9 389h14.8v1h-14.8zM219.1 389h7.4v1h-7.4zM248.8 389h22.2v1h-22.2zM196.9 390h14.8v1h-14.8zM174.6 391h7.4v1h-7.4zM219.1 391h7.4v1h-7.4zM241.3 391h7.4v1h-7.4zM159.8 392h7.4v1h-7.4zM204.3 392h14.8v1h-14.8zM233.9 392h7.4v1h-7.4zM196.9 396h7.4v1h-7.4zM248.8 396h7.4v1h-7.4zM204.3 397h7.4v1h-7.4zM130.1 398h14.8v1h-14.8zM174.6 399h7.4v1h-7.4zM152.4 401h7.4v1h-7.4zM78.3 402h7.4v1h-7.4zM130.1 402h14.8v1h-14.8zM152.4 402h7.4v1h-7.4zM48.6 403h22.2v1h-22.2zM159.8 403h7.4v1h-7.4zM196.9 403h7.4v1h-7.4zM167.2 405h22.2v1h-22.2zM70.8 407h7.4v1h-7.4zM85.7 407h7.4v1h-7.4zM211.7 407h7.4v1h-7.4zM167.2 408h7.4v1h-7.4zM226.5 408h7.4v1h-7.4zM167.2 410h14.8v1h-14.8zM167.2 411h7.4v1h-7.4zM182.0 411h7.4v1h-7.4zM56.0 412h7.4v1h-7.4zM85.7 414h7.4v1h-7.4zM130.1 415h7.4v1h-7.4zM159.8 415h7.4v1h-7.4zM130.1 416h7.4v1h-7.4zM137.6 417h7.4v1h-7.4zM85.7 419h7.4v1h-7.4zM233.9 419h7.4v1h-7.4zM182.0 420h7.4v1h-7.4zM233.9 420h7.4v1h-7.4zM70.8 421h7.4v1h-7.4zM219.1 421h22.2v1h-22.2zM70.8 423h7.4v1h-7.4zM85.7 423h7.4v1h-7.4zM70.8 424h7.4v1h-7.4zM204.3 424h7.4v1h-7.4zM130.1 426h7.4v1h-7.4zM145.0 426h7.4v1h-7.4zM189.4 426h7.4v1h-7.4zM152.4 427h7.4v1h-7.4zM137.6 428h7.4v1h-7.4zM167.2 429h7.4v1h-7.4zM130.1 430h7.4v1h-7.4zM159.8 430h14.8v1h-14.8zM182.0 430h7.4v1h-7.4zM152.4 432h7.4v1h-7.4zM182.0 432h7.4v1h-7.4zM159.8 433h22.2v1h-22.2zM167.2 434h7.4v1h-7.4zM241.3 434h7.4v1h-7.4zM196.9 435h7.4v1h-7.4zM182.0 436h7.4v1h-7.4zM167.2 437h7.4v1h-7.4zM174.6 438h7.4v1h-7.4zM137.6 439h7.4v1h-7.4zM78.3 441h7.4v1h-7.4zM189.4 441h7.4v1h-7.4zM70.8 442h7.4v1h-7.4zM93.1 442h7.4v1h-7.4zM70.8 443h7.4v1h-7.4zM78.3 444h7.4v1h-7.4zM93.1 445h7.4v1h-7.4zM226.5 447h7.4v1h-7.4zM241.3 447h7.4v1h-7.4zM226.5 448h7.4v1h-7.4zM196.9 449h7.4v1h-7.4zM204.3 450h7.4v1h-7.4zM182.0 451h7.4v1h-7.4zM85.7 452h7.4v1h-7.4zM219.1 452h7.4v1h-7.4zM248.8 453h7.4v1h-7.4zM137.6 454h7.4v1h-7.4zM152.4 454h7.4v1h-7.4zM70.8 456h7.4v1h-7.4zM93.1 456h7.4v1h-7.4zM226.5 456h7.4v1h-7.4zM78.3 459h7.4v1h-7.4zM152.4 459h7.4v1h-7.4zM248.8 459h7.4v1h-7.4zM130.1 460h14.8v1h-14.8zM248.8 460h7.4v1h-7.4zM167.2 461h7.4v1h-7.4zM137.6 462h7.4v1h-7.4zM174.6 462h7.4v1h-7.4zM248.8 462h7.4v1h-7.4zM256.2 463h14.8v1h-14.8zM41.2 466h7.4v1h-7.4zM56.0 466h14.8v1h-14.8zM78.3 466h7.4v1h-7.4zM130.1 466h7.4v1h-7.4zM241.3 467h7.4v1h-7.4zM233.9 468h7.4v1h-7.4zM48.6 469h7.4v1h-7.4zM219.1 469h7.4v1h-7.4zM263.6 469h7.4v1h-7.4zM48.6 470h7.4v1h-7.4zM263.6 470h14.8v1h-14.8zM145.0 471h7.4v1h-7.4zM167.2 471h7.4v1h-7.4zM70.8 472h7.4v1h-7.4zM219.1 472h7.4v1h-7.4zM219.1 473h14.8v1h-14.8zM241.3 474h7.4v1h-7.4zM130.1 475h7.4v1h-7.4z" fill="#fff6b1" shape-rendering="crispEdges"/>
<path d="M130.1 275h7.4v1h-7.4zM145.0 275h7.4v1h-7.4zM159.8 275h22.2v1h-22.2zM233.9 275h7.4v1h-7.4zM256.2 275h7.4v1h-7.4zM211.7 276h14.8v1h-14.8zM241.3 276h7.4v1h-7.4zM93.1 277h7.4v1h-7.4zM159.8 277h7.4v1h-7.4zM182.0 277h14.8v1h-14.8zM211.7 277h22.2v1h-22.2zM167.2 278h7.4v1h-7.4zM196.9 278h7.4v1h-7.4zM219.1 278h7.4v1h-7.4zM241.3 278h7.4v1h-7.4zM256.2 278h14.8v1h-14.8zM196.9 279h14.8v1h-14.8zM241.3 279h7.4v1h-7.4zM256.2 279h7.4v1h-7.4zM159.8 280h7.4v1h-7.4zM182.0 280h29.6v1h-29.6zM271.0 280h7.4v1h-7.4zM130.1 281h14.8v1h-14.8zM174.6 281h7.4v1h-7.4zM189.4 281h7.4v1h-7.4zM204.3 281h7.4v1h-7.4zM233.9 281h7.4v1h-7.4zM256.2 281h7.4v1h-7.4zM271.0 281h7.4v1h-7.4zM130.1 282h22.2v1h-22.2zM196.9 282h7.4v1h-7.4zM241.3 282h7.4v1h-7.4zM263.6 282h7.4v1h-7.4zM130.1 283h7.4v1h-7.4zM145.0 283h7.4v1h-7.4zM256.2 283h7.4v1h-7.4zM182.0 284h14.8v1h-14.8zM211.7 284h7.4v1h-7.4zM226.5 284h14.8v1h-14.8zM271.0 284h7.4v1h-7.4zM107.9 285h7.4v1h-7.4zM145.0 285h7.4v1h-7.4zM167.2 285h14.8v1h-14.8zM196.9 285h22.2v1h-22.2zM256.2 285h7.4v1h-7.4zM271.0 285h7.4v1h-7.4zM145.0 286h14.8v1h-14.8zM182.0 286h7.4v1h-7.4zM219.1 286h7.4v1h-7.4zM130.1 287h14.8v1h-14.8zM152.4 287h7.4v1h-7.4zM196.9 287h7.4v1h-7.4zM241.3 287h7.4v1h-7.4zM271.0 287h7.4v1h-7.4zM189.4 288h7.4v1h-7.4zM233.9 288h7.4v1h-7.4zM263.6 288h7.4v1h-7.4zM174.6 289h7.4v1h-7.4zM271.0 289h7.4v1h-7.4zM159.8 290h14.8v1h-14.8zM189.4 290h7.4v1h-7.4zM204.3 290h14.8v1h-14.8zM226.5 290h7.4v1h-7.4zM263.6 290h14.8v1h-14.8zM152.4 291h7.4v1h-7.4zM182.0 291h7.4v1h-7.4zM211.7 291h7.4v1h-7.4zM241.3 291h22.2v1h-22.2zM130.1 292h7.4v1h-7.4zM159.8 292h7.4v1h-7.4zM189.4 292h14.8v1h-14.8zM233.9 292h7.4v1h-7.4zM137.6 293h7.4v1h-7.4zM182.0 293h7.4v1h-7.4zM196.9 293h22.2v1h-22.2zM248.8 293h7.4v1h-7.4zM174.6 294h29.6v1h-29.6zM211.7 294h7.4v1h-7.4zM233.9 294h7.4v1h-7.4zM248.8 294h7.4v1h-7.4zM271.0 294h7.4v1h-7.4zM107.9 295h7.4v1h-7.4zM130.1 295h7.4v1h-7.4zM152.4 295h7.4v1h-7.4zM219.1 295h7.4v1h-7.4zM174.6 296h7.4v1h-7.4zM204.3 296h7.4v1h-7.4zM219.1 296h7.4v1h-7.4zM263.6 296h7.4v1h-7.4zM159.8 297h7.4v1h-7.4zM204.3 297h14.8v1h-14.8zM233.9 297h7.4v1h-7.4zM256.2 297h14.8v1h-14.8zM189.4 298h7.4v1h-7.4zM226.5 298h7.4v1h-7.4zM271.0 298h7.4v1h-7.4zM211.7 299h7.4v1h-7.4zM241.3 299h7.4v1h-7.4zM130.1 300h7.4v1h-7.4zM145.0 300h7.4v1h-7.4zM167.2 300h7.4v1h-7.4zM204.3 300h7.4v1h-7.4zM248.8 300h7.4v1h-7.4zM263.6 300h7.4v1h-7.4zM122.7 301h7.4v1h-7.4zM167.2 301h7.4v1h-7.4zM189.4 301h14.8v1h-14.8zM167.2 302h7.4v1h-7.4zM196.9 302h7.4v1h-7.4zM211.7 302h7.4v1h-7.4zM248.8 302h14.8v1h-14.8zM271.0 302h7.4v1h-7.4zM167.2 303h7.4v1h-7.4zM226.5 303h7.4v1h-7.4zM248.8 303h7.4v1h-7.4zM152.4 304h7.4v1h-7.4zM167.2 304h14.8v1h-14.8zM204.3 304h7.4v1h-7.4zM219.1 304h7.4v1h-7.4zM233.9 304h14.8v1h-14.8zM137.6 305h14.8v1h-14.8zM174.6 305h14.8v1h-14.8zM263.6 305h7.4v1h-7.4zM130.1 306h7.4v1h-7.4zM145.0 306h14.8v1h-14.8zM226.5 306h7.4v1h-7.4zM241.3 306h7.4v1h-7.4zM263.6 306h7.4v1h-7.4zM145.0 307h7.4v1h-7.4zM167.2 307h7.4v1h-7.4zM196.9 307h14.8v1h-14.8zM189.4 308h22.2v1h-22.2zM271.0 308h7.4v1h-7.4zM159.8 309h7.4v1h-7.4zM174.6 309h7.4v1h-7.4zM211.7 309h7.4v1h-7.4zM233.9 309h7.4v1h-7.4zM256.2 309h7.4v1h-7.4zM271.0 309h7.4v1h-7.4zM130.1 310h14.8v1h-14.8zM167.2 310h22.2v1h-22.2zM248.8 310h14.8v1h-14.8zM271.0 310h7.4v1h-7.4zM167.2 311h7.4v1h-7.4zM189.4 311h7.4v1h-7.4zM211.7 311h14.8v1h-14.8zM248.8 311h7.4v1h-7.4zM263.6 311h7.4v1h-7.4zM115.3 312h7.4v1h-7.4zM204.3 312h7.4v1h-7.4zM159.8 313h7.4v1h-7.4zM174.6 313h7.4v1h-7.4zM130.1 314h7.4v1h-7.4zM145.0 314h7.4v1h-7.4zM159.8 314h7.4v1h-7.4zM174.6 314h7.4v1h-7.4zM219.1 314h7.4v1h-7.4zM130.1 315h22.2v1h-22.2zM196.9 315h7.4v1h-7.4zM130.1 316h22.2v1h-22.2zM167.2 316h14.8v1h-14.8zM219.1 316h7.4v1h-7.4zM233.9 316h7.4v1h-7.4zM271.0 316h7.4v1h-7.4zM167.2 317h7.4v1h-7.4zM189.4 317h7.4v1h-7.4zM219.1 317h7.4v1h-7.4zM233.9 317h7.4v1h-7.4zM248.8 317h7.4v1h-7.4zM159.8 318h7.4v1h-7.4zM189.4 318h22.2v1h-22.2zM226.5 318h14.8v1h-14.8zM263.6 318h14.8v1h-14.8zM78.3 319h7.4v1h-7.4zM115.3 319h7.4v1h-7.4zM130.1 319h7.4v1h-7.4zM182.0 319h14.8v1h-14.8zM219.1 319h7.4v1h-7.4zM241.3 319h7.4v1h-7.4zM100.5 320h7.4v1h-7.4zM115.3 320h7.4v1h-7.4zM137.6 320h14.8v1h-14.8zM196.9 320h7.4v1h-7.4zM241.3 320h7.4v1h-7.4zM256.2 320h7.4v1h-7.4zM159.8 321h7.4v1h-7.4zM196.9 321h14.8v1h-14.8zM219.1 321h7.4v1h-7.4zM248.8 321h7.4v1h-7.4zM152.4 322h7.4v1h-7.4zM174.6 322h7.4v1h-7.4zM226.5 322h7.4v1h-7.4zM248.8 322h7.4v1h-7.4zM271.0 322h7.4v1h-7.4zM122.7 323h7.4v1h-7.4zM167.2 323h7.4v1h-7.4zM189.4 323h7.4v1h-7.4zM204.3 323h7.4v1h-7.4zM226.5 323h22.2v1h-22.2zM263.6 323h7.4v1h-7.4zM70.8 324h7.4v1h-7.4zM100.5 324h14.8v1h-14.8zM137.6 324h7.4v1h-7.4zM174.6 324h7.4v1h-7.4zM93.1 325h7.4v1h-7.4zM122.7 326h7.4v1h-7.4zM85.7 328h7.4v1h-7.4zM100.5 331h7.4v1h-7.4zM122.7 331h7.4v1h-7.4zM107.9 332h7.4v1h-7.4zM100.5 335h7.4v1h-7.4zM93.1 337h7.4v1h-7.4zM145.0 338h7.4v1h-7.4zM107.9 339h7.4v1h-7.4zM130.1 339h7.4v1h-7.4zM182.0 342h7.4v1h-7.4zM78.3 345h7.4v1h-7.4zM107.9 346h7.4v1h-7.4zM107.9 348h7.4v1h-7.4zM78.3 351h7.4v1h-7.4zM100.5 351h7.4v1h-7.4zM122.7 351h7.4v1h-7.4zM93.1 352h7.4v1h-7.4zM107.9 352h7.4v1h-7.4zM130.1 352h7.4v1h-7.4zM204.3 352h7.4v1h-7.4zM85.7 354h7.4v1h-7.4zM130.1 356h7.4v1h-7.4zM145.0 356h7.4v1h-7.4zM70.8 357h7.4v1h-7.4zM100.5 357h7.4v1h-7.4zM130.1 357h7.4v1h-7.4zM93.1 359h7.4v1h-7.4zM70.8 360h7.4v1h-7.4zM93.1 364h7.4v1h-7.4zM70.8 365h7.4v1h-7.4zM196.9 367h7.4v1h-7.4zM130.1 368h7.4v1h-7.4zM219.1 368h7.4v1h-7.4zM248.8 368h7.4v1h-7.4zM130.1 369h7.4v1h-7.4zM159.8 369h7.4v1h-7.4zM182.0 369h7.4v1h-7.4zM204.3 369h7.4v1h-7.4zM137.6 370h14.8v1h-14.8zM159.8 370h7.4v1h-7.4zM182.0 370h7.4v1h-7.4zM219.1 370h7.4v1h-7.4zM233.9 370h14.8v1h-14.8zM78.3 371h7.4v1h-7.4zM152.4 371h7.4v1h-7.4zM211.7 371h14.8v1h-14.8zM233.9 371h7.4v1h-7.4zM137.6 372h22.2v1h-22.2zM211.7 372h14.8v1h-14.8zM233.9 372h7.4v1h-7.4zM263.6 372h14.8v1h-14.8zM48.6 373h7.4v1h-7.4zM63.4 373h7.4v1h-7.4zM130.1 373h7.4v1h-7.4zM159.8 373h7.4v1h-7.4zM174.6 373h7.4v1h-7.4zM204.3 373h7.4v1h-7.4zM219.1 373h7.4v1h-7.4zM233.9 373h7.4v1h-7.4zM248.8 373h14.8v1h-14.8zM271.0 373h7.4v1h-7.4zM174.6 374h29.6v1h-29.6zM226.5 374h22.2v1h-22.2zM256.2 374h7.4v1h-7.4zM159.8 375h7.4v1h-7.4zM189.4 375h7.4v1h-7.4zM204.3 375h14.8v1h-14.8zM263.6 375h7.4v1h-7.4zM159.8 376h7.4v1h-7.4zM189.4 376h22.2v1h-22.2zM248.8 376h14.8v1h-14.8zM271.0 376h7.4v1h-7.4zM130.1 377h7.4v1h-7.4zM145.0 377h7.4v1h-7.4zM167.2 377h14.8v1h-14.8zM189.4 377h7.4v1h-7.4zM256.2 377h7.4v1h-7.4zM100.5 378h7.4v1h-7.4zM167.2 378h7.4v1h-7.4zM189.4 378h7.4v1h-7.4zM204.3 378h7.4v1h-7.4zM204.3 379h7.4v1h-7.4zM256.2 379h7.4v1h-7.4zM48.6 380h7.4v1h-7.4zM63.4 380h7.4v1h-7.4zM130.1 380h7.4v1h-7.4zM189.4 380h7.4v1h-7.4zM204.3 380h7.4v1h-7.4zM159.8 381h7.4v1h-7.4zM196.9 381h7.4v1h-7.4zM219.1 381h7.4v1h-7.4zM256.2 381h7.4v1h-7.4zM271.0 381h7.4v1h-7.4zM248.8 382h7.4v1h-7.4zM145.0 383h7.4v1h-7.4zM167.2 383h7.4v1h-7.4zM219.1 383h7.4v1h-7.4zM241.3 383h7.4v1h-7.4zM256.2 383h7.4v1h-7.4zM130.1 384h14.8v1h-14.8zM159.8 384h14.8v1h-14.8zM130.1 385h7.4v1h-7.4zM152.4 385h7.4v1h-7.4zM167.2 385h14.8v1h-14.8zM189.4 385h14.8v1h-14.8zM174.6 386h7.4v1h-7.4zM196.9 386h7.4v1h-7.4zM145.0 387h14.8v1h-14.8zM189.4 387h7.4v1h-7.4zM137.6 388h7.4v1h-7.4zM167.2 388h7.4v1h-7.4zM204.3 388h7.4v1h-7.4zM263.6 388h14.8v1h-14.8zM137.6 389h7.4v1h-7.4zM152.4 389h7.4v1h-7.4zM189.4 389h7.4v1h-7.4zM211.7 389h7.4v1h-7.4zM145.0 390h7.4v1h-7.4zM248.8 390h7.4v1h-7.4zM271.0 390h7.4v1h-7.4zM159.8 391h7.4v1h-7.4zM226.5 391h7.4v1h-7.4zM248.8 391h14.8v1h-14.8zM137.6 392h7.4v1h-7.4zM174.6 392h7.4v1h-7.4zM196.9 392h7.4v1h-7.4zM241.3 392h7.4v1h-7.4zM211.7 393h7.4v1h-7.4zM174.6 394h7.4v1h-7.4zM196.9 394h14.8v1h-14.8zM182.0 395h7.4v1h-7.4zM196.9 395h7.4v1h-7.4zM211.7 396h7.4v1h-7.4zM226.5 396h7.4v1h-7.4zM130.1 397h29.6v1h-29.6zM174.6 397h7.4v1h-7.4zM189.4 397h7.4v1h-7.4zM233.9 397h7.4v1h-7.4zM271.0 397h7.4v1h-7.4zM152.4 399h22.2v1h-22.2zM196.9 399h7.4v1h-7.4zM152.4 400h14.8v1h-14.8zM204.3 400h7.4v1h-7.4zM130.1 401h14.8v1h-14.8zM211.7 401h7.4v1h-7.4zM174.6 402h7.4v1h-7.4zM189.4 402h14.8v1h-14.8zM85.7 403h7.4v1h-7.4zM167.2 403h14.8v1h-14.8zM189.4 403h7.4v1h-7.4zM204.3 403h7.4v1h-7.4zM226.5 403h7.4v1h-7.4zM85.7 404h7.4v1h-7.4zM145.0 404h7.4v1h-7.4zM167.2 404h7.4v1h-7.4zM189.4 404h7.4v1h-7.4zM189.4 405h7.4v1h-7.4zM78.3 406h7.4v1h-7.4zM159.8 406h7.4v1h-7.4zM167.2 407h7.4v1h-7.4zM182.0 407h7.4v1h-7.4zM204.3 407h7.4v1h-7.4zM219.1 407h7.4v1h-7.4zM174.6 408h14.8v1h-14.8zM196.9 408h14.8v1h-14.8zM248.8 409h7.4v1h-7.4zM85.7 410h7.4v1h-7.4zM130.1 410h7.4v1h-7.4zM145.0 410h22.2v1h-22.2zM182.0 410h7.4v1h-7.4zM159.8 411h7.4v1h-7.4zM41.2 412h7.4v1h-7.4zM159.8 412h7.4v1h-7.4zM182.0 412h7.4v1h-7.4zM130.1 413h7.4v1h-7.4zM174.6 413h7.4v1h-7.4zM167.2 414h7.4v1h-7.4zM145.0 415h7.4v1h-7.4zM167.2 415h22.2v1h-22.2zM130.1 417h7.4v1h-7.4zM145.0 417h14.8v1h-14.8zM152.4 418h7.4v1h-7.4zM78.3 419h7.4v1h-7.4zM189.4 419h7.4v1h-7.4zM204.3 419h7.4v1h-7.4zM78.3 420h7.4v1h-7.4zM93.1 420h7.4v1h-7.4zM137.6 420h7.4v1h-7.4zM167.2 420h7.4v1h-7.4zM196.9 420h7.4v1h-7.4zM241.3 420h7.4v1h-7.4zM256.2 420h7.4v1h-7.4zM130.1 421h7.4v1h-7.4zM174.6 421h7.4v1h-7.4zM70.8 422h7.4v1h-7.4zM93.1 422h7.4v1h-7.4zM167.2 422h7.4v1h-7.4zM226.5 422h14.8v1h-14.8zM189.4 423h7.4v1h-7.4zM130.1 424h7.4v1h-7.4zM145.0 424h7.4v1h-7.4zM196.9 424h7.4v1h-7.4zM263.6 424h7.4v1h-7.4zM130.1 425h7.4v1h-7.4zM145.0 425h7.4v1h-7.4zM63.4 426h7.4v1h-7.4zM137.6 426h7.4v1h-7.4zM152.4 426h7.4v1h-7.4zM196.9 426h22.2v1h-22.2zM233.9 426h7.4v1h-7.4zM137.6 427h14.8v1h-14.8zM174.6 427h7.4v1h-7.4zM174.6 428h7.4v1h-7.4zM174.6 429h14.8v1h-14.8zM145.0 430h14.8v1h-14.8zM174.6 430h7.4v1h-7.4zM159.8 431h7.4v1h-7.4zM182.0 431h7.4v1h-7.4zM241.3 431h7.4v1h-7.4zM263.6 431h7.4v1h-7.4zM174.6 432h7.4v1h-7.4zM211.7 432h14.8v1h-14.8zM233.9 432h7.4v1h-7.4zM130.1 433h7.4v1h-7.4zM226.5 433h7.4v1h-7.4zM159.8 434h7.4v1h-7.4zM174.6 434h7.4v1h-7.4zM219.1 434h7.4v1h-7.4zM145.0 435h14.8v1h-14.8zM204.3 435h7.4v1h-7.4zM159.8 436h14.8v1h-14.8zM211.7 436h7.4v1h-7.4zM248.8 436h7.4v1h-7.4zM137.6 437h7.4v1h-7.4zM204.3 437h7.4v1h-7.4zM271.0 437h7.4v1h-7.4zM137.6 438h14.8v1h-14.8zM159.8 438h14.8v1h-14.8zM85.7 439h7.4v1h-7.4zM263.6 440h7.4v1h-7.4zM204.3 441h7.4v1h-7.4zM248.8 441h7.4v1h-7.4zM152.4 443h7.4v1h-7.4zM263.6 444h14.8v1h-14.8zM159.8 445h7.4v1h-7.4zM182.0 445h7.4v1h-7.4zM241.3 445h7.4v1h-7.4zM152.4 446h7.4v1h-7.4zM189.4 446h14.8v1h-14.8zM219.1 446h7.4v1h-7.4zM241.3 446h7.4v1h-7.4zM256.2 446h7.4v1h-7.4zM204.3 447h7.4v1h-7.4zM219.1 447h7.4v1h-7.4zM233.9 447h7.4v1h-7.4zM93.1 448h7.4v1h-7.4zM211.7 449h14.8v1h-14.8zM241.3 449h14.8v1h-14.8zM211.7 450h7.4v1h-7.4zM256.2 450h7.4v1h-7.4zM167.2 451h7.4v1h-7.4zM196.9 451h7.4v1h-7.4zM211.7 451h14.8v1h-14.8zM241.3 451h7.4v1h-7.4zM182.0 452h14.8v1h-14.8zM211.7 452h7.4v1h-7.4zM241.3 452h7.4v1h-7.4zM137.6 453h7.4v1h-7.4zM263.6 453h7.4v1h-7.4zM196.9 454h22.2v1h-22.2zM241.3 454h7.4v1h-7.4zM159.8 455h7.4v1h-7.4zM219.1 455h7.4v1h-7.4zM233.9 456h14.8v1h-14.8zM130.1 457h7.4v1h-7.4zM189.4 457h14.8v1h-14.8zM226.5 457h7.4v1h-7.4zM263.6 457h7.4v1h-7.4zM189.4 458h7.4v1h-7.4zM137.6 459h14.8v1h-14.8zM189.4 459h14.8v1h-14.8zM211.7 459h7.4v1h-7.4zM263.6 459h14.8v1h-14.8zM152.4 460h7.4v1h-7.4zM233.9 460h7.4v1h-7.4zM271.0 460h7.4v1h-7.4zM130.1 461h14.8v1h-14.8zM248.8 461h7.4v1h-7.4zM130.1 462h7.4v1h-7.4zM145.0 462h14.8v1h-14.8zM130.1 463h7.4v1h-7.4zM219.1 463h7.4v1h-7.4zM248.8 463h7.4v1h-7.4zM70.8 464h7.4v1h-7.4zM219.1 464h22.2v1h-22.2zM271.0 464h7.4v1h-7.4zM130.1 465h7.4v1h-7.4zM219.1 467h14.8v1h-14.8zM174.6 468h7.4v1h-7.4zM226.5 468h7.4v1h-7.4zM241.3 468h7.4v1h-7.4zM241.3 469h14.8v1h-14.8zM271.0 469h7.4v1h-7.4zM159.8 470h7.4v1h-7.4zM182.0 470h7.4v1h-7.4zM248.8 470h14.8v1h-14.8zM137.6 471h7.4v1h-7.4zM130.1 472h22.2v1h-22.2zM174.6 472h7.4v1h-7.4zM145.0 474h7.4v1h-7.4zM167.2 474h14.8v1h-14.8zM174.6 475h14.8v1h-14.8z" fill="#fff1aa" shape-rendering="crispEdges"/>
<path d="M219.1 275h7.4v1h-7.4zM248.8 275h7.4v1h-7.4zM263.6 275h14.8v1h-14.8zM174.6 276h7.4v1h-7.4zM196.9 276h7.4v1h-7.4zM233.9 276h7.4v1h-7.4zM248.8 276h29.6v1h-29.6zM196.9 277h7.4v1h-7.4zM241.3 277h7.4v1h-7.4zM256.2 277h22.2v1h-22.2zM233.9 278h7.4v1h-7.4zM248.8 278h7.4v1h-7.4zM159.8 279h7.4v1h-7.4zM174.6 279h7.4v1h-7.4zM219.1 279h7.4v1h-7.4zM233.9 279h7.4v1h-7.4zM137.6 280h7.4v1h-7.4zM167.2 280h7.4v1h-7.4zM233.9 280h14.8v1h-14.8zM159.8 281h14.8v1h-14.8zM219.1 281h7.4v1h-7.4zM189.4 282h7.4v1h-7.4zM211.7 282h7.4v1h-7.4zM233.9 282h7.4v1h-7.4zM248.8 282h7.4v1h-7.4zM248.8 283h7.4v1h-7.4zM271.0 283h7.4v1h-7.4zM137.6 284h7.4v1h-7.4zM219.1 284h7.4v1h-7.4zM182.0 285h7.4v1h-7.4zM219.1 285h7.4v1h-7.4zM248.8 285h7.4v1h-7.4zM263.6 285h7.4v1h-7.4zM130.1 286h7.4v1h-7.4zM226.5 286h7.4v1h-7.4zM241.3 286h7.4v1h-7.4zM256.2 286h7.4v1h-7.4zM271.0 286h7.4v1h-7.4zM219.1 287h22.2v1h-22.2zM248.8 287h7.4v1h-7.4zM263.6 287h7.4v1h-7.4zM226.5 288h7.4v1h-7.4zM159.8 289h7.4v1h-7.4zM226.5 289h7.4v1h-7.4zM241.3 289h7.4v1h-7.4zM174.6 290h7.4v1h-7.4zM233.9 290h7.4v1h-7.4zM167.2 291h14.8v1h-14.8zM189.4 291h7.4v1h-7.4zM204.3 291h7.4v1h-7.4zM219.1 291h7.4v1h-7.4zM167.2 292h7.4v1h-7.4zM182.0 292h7.4v1h-7.4zM204.3 292h14.8v1h-14.8zM248.8 292h7.4v1h-7.4zM271.0 292h7.4v1h-7.4zM159.8 293h7.4v1h-7.4zM174.6 293h7.4v1h-7.4zM226.5 293h22.2v1h-22.2zM145.0 294h7.4v1h-7.4zM226.5 294h7.4v1h-7.4zM241.3 294h7.4v1h-7.4zM263.6 294h7.4v1h-7.4zM159.8 295h14.8v1h-14.8zM189.4 295h14.8v1h-14.8zM233.9 295h7.4v1h-7.4zM85.7 296h7.4v1h-7.4zM159.8 296h14.8v1h-14.8zM196.9 296h7.4v1h-7.4zM241.3 296h22.2v1h-22.2zM145.0 297h14.8v1h-14.8zM241.3 297h7.4v1h-7.4zM271.0 297h7.4v1h-7.4zM204.3 298h22.2v1h-22.2zM233.9 298h7.4v1h-7.4zM248.8 298h14.8v1h-14.8zM145.0 299h7.4v1h-7.4zM159.8 299h7.4v1h-7.4zM182.0 299h7.4v1h-7.4zM196.9 299h14.8v1h-14.8zM233.9 299h7.4v1h-7.4zM256.2 299h14.8v1h-14.8zM137.6 300h7.4v1h-7.4zM211.7 300h14.8v1h-14.8zM271.0 300h7.4v1h-7.4zM78.3 301h7.4v1h-7.4zM152.4 301h7.4v1h-7.4zM204.3 301h7.4v1h-7.4zM248.8 301h14.8v1h-14.8zM271.0 301h7.4v1h-7.4zM56.0 302h7.4v1h-7.4zM204.3 302h7.4v1h-7.4zM233.9 302h7.4v1h-7.4zM130.1 303h7.4v1h-7.4zM233.9 303h7.4v1h-7.4zM211.7 304h7.4v1h-7.4zM248.8 304h7.4v1h-7.4zM152.4 305h7.4v1h-7.4zM211.7 305h7.4v1h-7.4zM226.5 305h7.4v1h-7.4zM137.6 306h7.4v1h-7.4zM174.6 306h7.4v1h-7.4zM189.4 306h22.2v1h-22.2zM219.1 306h7.4v1h-7.4zM233.9 306h7.4v1h-7.4zM159.8 307h7.4v1h-7.4zM182.0 307h7.4v1h-7.4zM211.7 307h29.6v1h-29.6zM174.6 308h14.8v1h-14.8zM233.9 308h7.4v1h-7.4zM256.2 308h14.8v1h-14.8zM182.0 309h29.6v1h-29.6zM241.3 309h7.4v1h-7.4zM263.6 309h7.4v1h-7.4zM152.4 310h7.4v1h-7.4zM189.4 310h7.4v1h-7.4zM204.3 310h7.4v1h-7.4zM226.5 310h22.2v1h-22.2zM263.6 310h7.4v1h-7.4zM196.9 311h7.4v1h-7.4zM241.3 311h7.4v1h-7.4zM145.0 312h14.8v1h-14.8zM196.9 312h7.4v1h-7.4zM241.3 312h14.8v1h-14.8zM271.0 312h7.4v1h-7.4zM182.0 313h14.8v1h-14.8zM256.2 313h14.8v1h-14.8zM85.7 314h7.4v1h-7.4zM137.6 314h7.4v1h-7.4zM189.4 314h14.8v1h-14.8zM226.5 314h7.4v1h-7.4zM241.3 314h14.8v1h-14.8zM174.6 315h7.4v1h-7.4zM241.3 315h7.4v1h-7.4zM182.0 316h7.4v1h-7.4zM226.5 316h7.4v1h-7.4zM248.8 316h14.8v1h-14.8zM196.9 317h7.4v1h-7.4zM263.6 317h7.4v1h-7.4zM182.0 318h7.4v1h-7.4zM219.1 318h7.4v1h-7.4zM241.3 318h7.4v1h-7.4zM152.4 319h7.4v1h-7.4zM167.2 319h7.4v1h-7.4zM152.4 320h7.4v1h-7.4zM226.5 320h14.8v1h-14.8zM211.7 321h7.4v1h-7.4zM233.9 321h14.8v1h-14.8zM196.9 322h7.4v1h-7.4zM219.1 322h7.4v1h-7.4zM241.3 322h7.4v1h-7.4zM93.1 323h7.4v1h-7.4zM122.7 324h14.8v1h-14.8zM145.0 324h7.4v1h-7.4zM167.2 324h7.4v1h-7.4zM233.9 324h14.8v1h-14.8zM256.2 324h7.4v1h-7.4zM78.3 325h7.4v1h-7.4zM100.5 330h7.4v1h-7.4zM115.3 331h7.4v1h-7.4zM70.8 333h7.4v1h-7.4zM211.7 333h7.4v1h-7.4zM107.9 334h7.4v1h-7.4zM78.3 335h7.4v1h-7.4zM122.7 335h7.4v1h-7.4zM78.3 338h7.4v1h-7.4zM115.3 338h7.4v1h-7.4zM100.5 339h7.4v1h-7.4zM122.7 339h7.4v1h-7.4zM85.7 342h7.4v1h-7.4zM115.3 345h7.4v1h-7.4zM78.3 346h7.4v1h-7.4zM115.3 346h7.4v1h-7.4zM70.8 347h7.4v1h-7.4zM122.7 347h7.4v1h-7.4zM115.3 348h7.4v1h-7.4zM115.3 352h7.4v1h-7.4zM78.3 354h7.4v1h-7.4zM107.9 354h7.4v1h-7.4zM93.1 355h7.4v1h-7.4zM78.3 356h7.4v1h-7.4zM115.3 356h7.4v1h-7.4zM137.6 356h7.4v1h-7.4zM93.1 357h7.4v1h-7.4zM85.7 361h7.4v1h-7.4zM115.3 366h7.4v1h-7.4zM211.7 368h7.4v1h-7.4zM241.3 368h7.4v1h-7.4zM174.6 369h7.4v1h-7.4zM263.6 369h7.4v1h-7.4zM130.1 370h7.4v1h-7.4zM152.4 370h7.4v1h-7.4zM167.2 370h7.4v1h-7.4zM211.7 370h7.4v1h-7.4zM226.5 370h7.4v1h-7.4zM256.2 370h7.4v1h-7.4zM70.8 371h7.4v1h-7.4zM130.1 371h22.2v1h-22.2zM159.8 371h7.4v1h-7.4zM182.0 371h7.4v1h-7.4zM196.9 371h7.4v1h-7.4zM226.5 371h7.4v1h-7.4zM189.4 372h22.2v1h-22.2zM241.3 372h7.4v1h-7.4zM256.2 372h7.4v1h-7.4zM41.2 373h7.4v1h-7.4zM56.0 373h7.4v1h-7.4zM152.4 373h7.4v1h-7.4zM182.0 373h7.4v1h-7.4zM263.6 373h7.4v1h-7.4zM145.0 374h7.4v1h-7.4zM167.2 374h7.4v1h-7.4zM204.3 374h7.4v1h-7.4zM271.0 374h7.4v1h-7.4zM130.1 375h14.8v1h-14.8zM211.7 376h7.4v1h-7.4zM263.6 376h7.4v1h-7.4zM137.6 377h7.4v1h-7.4zM152.4 377h7.4v1h-7.4zM196.9 377h7.4v1h-7.4zM211.7 377h7.4v1h-7.4zM130.1 378h7.4v1h-7.4zM159.8 378h7.4v1h-7.4zM174.6 378h7.4v1h-7.4zM196.9 378h7.4v1h-7.4zM211.7 378h7.4v1h-7.4zM248.8 378h7.4v1h-7.4zM130.1 379h7.4v1h-7.4zM167.2 379h7.4v1h-7.4zM189.4 379h7.4v1h-7.4zM41.2 380h7.4v1h-7.4zM145.0 380h7.4v1h-7.4zM167.2 380h7.4v1h-7.4zM182.0 380h7.4v1h-7.4zM137.6 381h7.4v1h-7.4zM182.0 381h14.8v1h-14.8zM211.7 381h7.4v1h-7.4zM241.3 381h7.4v1h-7.4zM130.1 382h7.4v1h-7.4zM145.0 382h22.2v1h-22.2zM174.6 382h14.8v1h-14.8zM263.6 382h7.4v1h-7.4zM152.4 383h7.4v1h-7.4zM174.6 383h14.8v1h-14.8zM263.6 383h7.4v1h-7.4zM145.0 384h7.4v1h-7.4zM174.6 384h7.4v1h-7.4zM137.6 385h7.4v1h-7.4zM263.6 385h14.8v1h-14.8zM145.0 386h7.4v1h-7.4zM167.2 386h7.4v1h-7.4zM256.2 386h22.2v1h-22.2zM174.6 387h7.4v1h-7.4zM145.0 388h7.4v1h-7.4zM174.6 388h7.4v1h-7.4zM152.4 390h7.4v1h-7.4zM263.6 390h7.4v1h-7.4zM137.6 391h7.4v1h-7.4zM152.4 391h7.4v1h-7.4zM167.2 391h7.4v1h-7.4zM182.0 391h7.4v1h-7.4zM196.9 391h22.2v1h-22.2zM263.6 391h14.8v1h-14.8zM152.4 392h7.4v1h-7.4zM167.2 392h7.4v1h-7.4zM182.0 392h7.4v1h-7.4zM226.5 392h7.4v1h-7.4zM248.8 392h7.4v1h-7.4zM271.0 392h7.4v1h-7.4zM152.4 393h7.4v1h-7.4zM182.0 393h14.8v1h-14.8zM219.1 393h29.6v1h-29.6zM100.5 394h7.4v1h-7.4zM159.8 394h7.4v1h-7.4zM189.4 394h7.4v1h-7.4zM211.7 394h22.2v1h-22.2zM263.6 394h14.8v1h-14.8zM174.6 395h7.4v1h-7.4zM233.9 395h7.4v1h-7.4zM130.1 396h7.4v1h-7.4zM145.0 396h7.4v1h-7.4zM189.4 396h7.4v1h-7.4zM204.3 396h7.4v1h-7.4zM233.9 396h14.8v1h-14.8zM256.2 396h14.8v1h-14.8zM159.8 397h7.4v1h-7.4zM182.0 397h7.4v1h-7.4zM196.9 397h7.4v1h-7.4zM219.1 397h14.8v1h-14.8zM256.2 397h7.4v1h-7.4zM159.8 398h7.4v1h-7.4zM182.0 398h14.8v1h-14.8zM204.3 398h7.4v1h-7.4zM241.3 398h7.4v1h-7.4zM130.1 399h7.4v1h-7.4zM219.1 399h14.8v1h-14.8zM241.3 399h7.4v1h-7.4zM130.1 400h22.2v1h-22.2zM182.0 400h14.8v1h-14.8zM211.7 400h7.4v1h-7.4zM189.4 401h22.2v1h-22.2zM93.1 402h7.4v1h-7.4zM145.0 402h7.4v1h-7.4zM130.1 403h7.4v1h-7.4zM211.7 403h7.4v1h-7.4zM137.6 404h7.4v1h-7.4zM174.6 404h14.8v1h-14.8zM219.1 404h14.8v1h-14.8zM130.1 405h7.4v1h-7.4zM152.4 405h7.4v1h-7.4zM130.1 406h22.2v1h-22.2zM167.2 406h22.2v1h-22.2zM159.8 407h7.4v1h-7.4zM174.6 407h7.4v1h-7.4zM196.9 407h7.4v1h-7.4zM233.9 407h14.8v1h-14.8zM130.1 408h7.4v1h-7.4zM159.8 408h7.4v1h-7.4zM189.4 408h7.4v1h-7.4zM241.3 408h7.4v1h-7.4zM145.0 409h7.4v1h-7.4zM159.8 409h22.2v1h-22.2zM204.3 409h7.4v1h-7.4zM256.2 409h7.4v1h-7.4zM137.6 410h7.4v1h-7.4zM271.0 410h7.4v1h-7.4zM137.6 411h7.4v1h-7.4zM174.6 411h7.4v1h-7.4zM167.2 412h7.4v1h-7.4zM137.6 413h14.8v1h-14.8zM70.8 414h7.4v1h-7.4zM137.6 414h7.4v1h-7.4zM152.4 414h7.4v1h-7.4zM174.6 414h7.4v1h-7.4zM152.4 415h7.4v1h-7.4zM152.4 416h7.4v1h-7.4zM182.0 416h7.4v1h-7.4zM159.8 417h14.8v1h-14.8zM137.6 418h14.8v1h-14.8zM159.8 418h7.4v1h-7.4zM204.3 418h14.8v1h-14.8zM93.1 419h7.4v1h-7.4zM130.1 419h7.4v1h-7.4zM196.9 419h7.4v1h-7.4zM211.7 419h7.4v1h-7.4zM241.3 419h7.4v1h-7.4zM152.4 420h7.4v1h-7.4zM189.4 420h7.4v1h-7.4zM204.3 420h22.2v1h-22.2zM248.8 420h7.4v1h-7.4zM189.4 421h7.4v1h-7.4zM241.3 421h22.2v1h-22.2zM271.0 421h7.4v1h-7.4zM85.7 422h7.4v1h-7.4zM159.8 422h7.4v1h-7.4zM174.6 422h7.4v1h-7.4zM241.3 422h22.2v1h-22.2zM271.0 422h7.4v1h-7.4zM145.0 423h14.8v1h-14.8zM189.4 424h7.4v1h-7.4zM248.8 424h14.8v1h-14.8zM189.4 425h14.8v1h-14.8zM211.7 425h7.4v1h-7.4zM271.0 425h7.4v1h-7.4zM241.3 426h7.4v1h-7.4zM130.1 427h7.4v1h-7.4zM189.4 427h14.8v1h-14.8zM130.1 428h7.4v1h-7.4zM159.8 428h14.8v1h-14.8zM182.0 428h7.4v1h-7.4zM219.1 428h7.4v1h-7.4zM130.1 429h14.8v1h-14.8zM137.6 430h7.4v1h-7.4zM189.4 430h7.4v1h-7.4zM219.1 430h7.4v1h-7.4zM241.3 430h7.4v1h-7.4zM152.4 431h7.4v1h-7.4zM233.9 431h7.4v1h-7.4zM137.6 432h14.8v1h-14.8zM159.8 432h7.4v1h-7.4zM196.9 432h7.4v1h-7.4zM226.5 432h7.4v1h-7.4zM263.6 432h7.4v1h-7.4zM145.0 434h14.8v1h-14.8zM182.0 434h7.4v1h-7.4zM204.3 434h7.4v1h-7.4zM137.6 435h7.4v1h-7.4zM159.8 435h22.2v1h-22.2zM211.7 435h7.4v1h-7.4zM204.3 436h7.4v1h-7.4zM219.1 436h14.8v1h-14.8zM130.1 437h7.4v1h-7.4zM152.4 437h14.8v1h-14.8zM174.6 437h7.4v1h-7.4zM189.4 437h14.8v1h-14.8zM211.7 437h14.8v1h-14.8zM241.3 437h7.4v1h-7.4zM130.1 438h7.4v1h-7.4zM152.4 438h7.4v1h-7.4zM78.3 439h7.4v1h-7.4zM182.0 439h7.4v1h-7.4zM196.9 439h22.2v1h-22.2zM159.8 440h14.8v1h-14.8zM256.2 440h7.4v1h-7.4zM93.1 441h7.4v1h-7.4zM167.2 441h7.4v1h-7.4zM196.9 441h7.4v1h-7.4zM152.4 442h14.8v1h-14.8zM204.3 442h7.4v1h-7.4zM248.8 442h7.4v1h-7.4zM263.6 442h7.4v1h-7.4zM145.0 443h7.4v1h-7.4zM159.8 443h7.4v1h-7.4zM271.0 443h7.4v1h-7.4zM182.0 444h7.4v1h-7.4zM204.3 444h7.4v1h-7.4zM219.1 444h7.4v1h-7.4zM137.6 445h7.4v1h-7.4zM174.6 445h7.4v1h-7.4zM219.1 445h22.2v1h-22.2zM256.2 445h22.2v1h-22.2zM130.1 446h7.4v1h-7.4zM159.8 446h7.4v1h-7.4zM263.6 446h14.8v1h-14.8zM174.6 447h7.4v1h-7.4zM182.0 448h7.4v1h-7.4zM219.1 448h7.4v1h-7.4zM241.3 448h7.4v1h-7.4zM263.6 448h7.4v1h-7.4zM159.8 449h7.4v1h-7.4zM189.4 449h7.4v1h-7.4zM204.3 449h7.4v1h-7.4zM233.9 449h7.4v1h-7.4zM256.2 449h7.4v1h-7.4zM271.0 449h7.4v1h-7.4zM159.8 450h7.4v1h-7.4zM182.0 450h14.8v1h-14.8zM248.8 450h7.4v1h-7.4zM263.6 450h7.4v1h-7.4zM233.9 451h7.4v1h-7.4zM130.1 452h7.4v1h-7.4zM159.8 452h22.2v1h-22.2zM204.3 452h7.4v1h-7.4zM226.5 452h14.8v1h-14.8zM256.2 452h7.4v1h-7.4zM271.0 452h7.4v1h-7.4zM130.1 453h7.4v1h-7.4zM196.9 453h7.4v1h-7.4zM219.1 453h7.4v1h-7.4zM241.3 453h7.4v1h-7.4zM256.2 453h7.4v1h-7.4zM182.0 454h14.8v1h-14.8zM219.1 454h7.4v1h-7.4zM263.6 454h7.4v1h-7.4zM174.6 455h14.8v1h-14.8zM196.9 455h7.4v1h-7.4zM233.9 455h7.4v1h-7.4zM271.0 455h7.4v1h-7.4zM145.0 456h7.4v1h-7.4zM189.4 456h29.6v1h-29.6zM137.6 457h14.8v1h-14.8zM204.3 457h14.8v1h-14.8zM137.6 458h22.2v1h-22.2zM196.9 458h22.2v1h-22.2zM263.6 458h7.4v1h-7.4zM182.0 459h7.4v1h-7.4zM256.2 459h7.4v1h-7.4zM263.6 460h7.4v1h-7.4zM159.8 461h7.4v1h-7.4zM174.6 461h14.8v1h-14.8zM256.2 461h22.2v1h-22.2zM219.1 462h7.4v1h-7.4zM256.2 462h14.8v1h-14.8zM137.6 463h22.2v1h-22.2zM167.2 463h7.4v1h-7.4zM226.5 463h7.4v1h-7.4zM271.0 463h7.4v1h-7.4zM130.1 464h7.4v1h-7.4zM152.4 464h7.4v1h-7.4zM241.3 464h7.4v1h-7.4zM167.2 465h7.4v1h-7.4zM219.1 466h22.2v1h-22.2zM137.6 467h7.4v1h-7.4zM159.8 467h7.4v1h-7.4zM167.2 468h7.4v1h-7.4zM219.1 468h7.4v1h-7.4zM159.8 469h22.2v1h-22.2zM226.5 469h7.4v1h-7.4zM256.2 469h7.4v1h-7.4zM137.6 470h14.8v1h-14.8zM174.6 470h7.4v1h-7.4zM219.1 470h7.4v1h-7.4zM85.7 471h7.4v1h-7.4zM159.8 471h7.4v1h-7.4zM182.0 471h7.4v1h-7.4zM241.3 471h7.4v1h-7.4zM152.4 472h14.8v1h-14.8zM241.3 472h7.4v1h-7.4zM145.0 473h22.2v1h-22.2zM233.9 473h14.8v1h-14.8zM152.4 474h14.8v1h-14.8zM137.6 475h7.4v1h-7.4zM152.4 475h7.4v1h-7.4zM167.2 475h7.4v1h-7.4zM219.1 475h7.4v1h-7.4zM256.2 475h7.4v1h-7.4z" fill="#feeca3" shape-rendering="crispEdges"/>
<path d="M70.8 276h7.4v1h-7.4zM189.4 276h7.4v1h-7.4zM226.5 276h7.4v1h-7.4zM204.3 277h7.4v1h-7.4zM248.8 277h7.4v1h-7.4zM226.5 278h7.4v1h-7.4zM271.0 278h7.4v1h-7.4zM182.0 281h7.4v1h-7.4zM226.5 281h7.4v1h-7.4zM241.3 281h7.4v1h-7.4zM226.5 283h7.4v1h-7.4zM145.0 284h14.8v1h-14.8zM100.5 285h7.4v1h-7.4zM189.4 285h7.4v1h-7.4zM241.3 285h7.4v1h-7.4zM137.6 286h7.4v1h-7.4zM233.9 286h7.4v1h-7.4zM248.8 286h7.4v1h-7.4zM263.6 286h7.4v1h-7.4zM167.2 289h7.4v1h-7.4zM219.1 289h7.4v1h-7.4zM233.9 289h7.4v1h-7.4zM219.1 290h7.4v1h-7.4zM241.3 290h7.4v1h-7.4zM122.7 291h7.4v1h-7.4zM159.8 291h7.4v1h-7.4zM226.5 291h14.8v1h-14.8zM174.6 292h7.4v1h-7.4zM241.3 292h7.4v1h-7.4zM256.2 292h7.4v1h-7.4zM167.2 294h7.4v1h-7.4zM219.1 294h7.4v1h-7.4zM256.2 294h7.4v1h-7.4zM174.6 295h14.8v1h-14.8zM204.3 295h14.8v1h-14.8zM189.4 296h7.4v1h-7.4zM167.2 297h7.4v1h-7.4zM226.5 297h7.4v1h-7.4zM130.1 298h22.2v1h-22.2zM159.8 298h7.4v1h-7.4zM174.6 298h7.4v1h-7.4zM241.3 298h7.4v1h-7.4zM263.6 298h7.4v1h-7.4zM130.1 299h7.4v1h-7.4zM271.0 299h7.4v1h-7.4zM152.4 300h7.4v1h-7.4zM174.6 300h7.4v1h-7.4zM233.9 300h7.4v1h-7.4zM48.6 301h7.4v1h-7.4zM211.7 301h22.2v1h-22.2zM48.6 302h7.4v1h-7.4zM219.1 302h14.8v1h-14.8zM219.1 303h7.4v1h-7.4zM241.3 303h7.4v1h-7.4zM256.2 303h14.8v1h-14.8zM122.7 304h7.4v1h-7.4zM226.5 304h7.4v1h-7.4zM256.2 304h14.8v1h-14.8zM241.3 305h7.4v1h-7.4zM211.7 306h7.4v1h-7.4zM137.6 307h7.4v1h-7.4zM174.6 307h7.4v1h-7.4zM241.3 307h7.4v1h-7.4zM167.2 308h7.4v1h-7.4zM211.7 308h22.2v1h-22.2zM241.3 308h14.8v1h-14.8zM145.0 310h7.4v1h-7.4zM159.8 310h7.4v1h-7.4zM219.1 310h7.4v1h-7.4zM204.3 311h7.4v1h-7.4zM226.5 311h7.4v1h-7.4zM219.1 312h7.4v1h-7.4zM256.2 312h14.8v1h-14.8zM137.6 313h14.8v1h-14.8zM196.9 313h14.8v1h-14.8zM248.8 313h7.4v1h-7.4zM152.4 314h7.4v1h-7.4zM167.2 314h7.4v1h-7.4zM182.0 314h7.4v1h-7.4zM204.3 314h7.4v1h-7.4zM256.2 314h22.2v1h-22.2zM189.4 315h7.4v1h-7.4zM211.7 315h29.6v1h-29.6zM241.3 317h7.4v1h-7.4zM256.2 317h7.4v1h-7.4zM248.8 318h7.4v1h-7.4zM174.6 319h7.4v1h-7.4zM159.8 322h7.4v1h-7.4zM233.9 322h7.4v1h-7.4zM226.5 324h7.4v1h-7.4zM248.8 324h7.4v1h-7.4zM263.6 324h14.8v1h-14.8zM100.5 325h7.4v1h-7.4zM107.9 326h7.4v1h-7.4zM115.3 328h7.4v1h-7.4zM100.5 329h7.4v1h-7.4zM93.1 332h14.8v1h-14.8zM100.5 334h7.4v1h-7.4zM122.7 334h7.4v1h-7.4zM107.9 338h7.4v1h-7.4zM115.3 341h7.4v1h-7.4zM100.5 344h7.4v1h-7.4zM122.7 345h7.4v1h-7.4zM115.3 347h7.4v1h-7.4zM122.7 349h7.4v1h-7.4zM122.7 350h7.4v1h-7.4zM115.3 351h7.4v1h-7.4zM100.5 353h7.4v1h-7.4zM85.7 355h7.4v1h-7.4zM115.3 355h7.4v1h-7.4zM115.3 359h7.4v1h-7.4zM85.7 360h7.4v1h-7.4zM70.8 366h7.4v1h-7.4zM93.1 366h7.4v1h-7.4zM107.9 366h7.4v1h-7.4zM122.7 366h7.4v1h-7.4zM211.7 367h7.4v1h-7.4zM248.8 370h7.4v1h-7.4zM167.2 371h14.8v1h-14.8zM204.3 371h7.4v1h-7.4zM271.0 371h7.4v1h-7.4zM167.2 372h14.8v1h-14.8zM248.8 372h7.4v1h-7.4zM93.1 373h7.4v1h-7.4zM219.1 374h7.4v1h-7.4zM145.0 375h14.8v1h-14.8zM145.0 376h14.8v1h-14.8zM159.8 377h7.4v1h-7.4zM182.0 377h7.4v1h-7.4zM137.6 378h7.4v1h-7.4zM152.4 378h7.4v1h-7.4zM182.0 378h7.4v1h-7.4zM263.6 378h7.4v1h-7.4zM182.0 379h7.4v1h-7.4zM196.9 379h7.4v1h-7.4zM211.7 379h7.4v1h-7.4zM159.8 380h7.4v1h-7.4zM174.6 380h7.4v1h-7.4zM130.1 381h7.4v1h-7.4zM145.0 381h14.8v1h-14.8zM248.8 381h7.4v1h-7.4zM271.0 382h7.4v1h-7.4zM93.1 383h7.4v1h-7.4zM130.1 383h14.8v1h-14.8zM271.0 383h7.4v1h-7.4zM152.4 384h7.4v1h-7.4zM256.2 385h7.4v1h-7.4zM159.8 386h7.4v1h-7.4zM182.0 386h7.4v1h-7.4zM248.8 386h7.4v1h-7.4zM130.1 388h7.4v1h-7.4zM152.4 388h7.4v1h-7.4zM130.1 389h7.4v1h-7.4zM137.6 390h7.4v1h-7.4zM256.2 390h7.4v1h-7.4zM145.0 391h7.4v1h-7.4zM189.4 391h7.4v1h-7.4zM145.0 392h7.4v1h-7.4zM219.1 392h7.4v1h-7.4zM137.6 393h14.8v1h-14.8zM167.2 393h14.8v1h-14.8zM196.9 393h7.4v1h-7.4zM248.8 393h7.4v1h-7.4zM271.0 393h7.4v1h-7.4zM130.1 394h7.4v1h-7.4zM145.0 394h14.8v1h-14.8zM233.9 394h14.8v1h-14.8zM256.2 394h7.4v1h-7.4zM137.6 395h7.4v1h-7.4zM152.4 395h14.8v1h-14.8zM204.3 395h14.8v1h-14.8zM248.8 395h7.4v1h-7.4zM152.4 396h7.4v1h-7.4zM167.2 396h14.8v1h-14.8zM219.1 396h7.4v1h-7.4zM271.0 396h7.4v1h-7.4zM167.2 397h7.4v1h-7.4zM211.7 397h7.4v1h-7.4zM241.3 397h14.8v1h-14.8zM145.0 398h14.8v1h-14.8zM174.6 398h7.4v1h-7.4zM211.7 398h7.4v1h-7.4zM137.6 399h14.8v1h-14.8zM189.4 399h7.4v1h-7.4zM174.6 400h7.4v1h-7.4zM219.1 400h14.8v1h-14.8zM241.3 400h7.4v1h-7.4zM233.9 401h7.4v1h-7.4zM159.8 402h14.8v1h-14.8zM204.3 402h44.5v1h-44.5zM152.4 403h7.4v1h-7.4zM182.0 403h7.4v1h-7.4zM219.1 403h7.4v1h-7.4zM233.9 403h7.4v1h-7.4zM130.1 404h7.4v1h-7.4zM159.8 404h7.4v1h-7.4zM211.7 404h7.4v1h-7.4zM233.9 404h7.4v1h-7.4zM271.0 404h7.4v1h-7.4zM196.9 405h7.4v1h-7.4zM211.7 405h7.4v1h-7.4zM196.9 406h7.4v1h-7.4zM233.9 406h7.4v1h-7.4zM256.2 406h7.4v1h-7.4zM130.1 407h7.4v1h-7.4zM145.0 407h7.4v1h-7.4zM189.4 407h7.4v1h-7.4zM248.8 407h14.8v1h-14.8zM152.4 408h7.4v1h-7.4zM211.7 408h14.8v1h-14.8zM137.6 409h7.4v1h-7.4zM152.4 409h7.4v1h-7.4zM182.0 409h14.8v1h-14.8zM263.6 409h7.4v1h-7.4zM78.3 410h7.4v1h-7.4zM204.3 410h14.8v1h-14.8zM248.8 410h14.8v1h-14.8zM145.0 411h7.4v1h-7.4zM189.4 411h7.4v1h-7.4zM226.5 411h7.4v1h-7.4zM248.8 411h7.4v1h-7.4zM263.6 411h7.4v1h-7.4zM130.1 412h14.8v1h-14.8zM152.4 412h7.4v1h-7.4zM174.6 412h7.4v1h-7.4zM226.5 412h7.4v1h-7.4zM256.2 412h14.8v1h-14.8zM78.3 413h7.4v1h-7.4zM159.8 413h7.4v1h-7.4zM182.0 413h7.4v1h-7.4zM196.9 413h7.4v1h-7.4zM130.1 414h7.4v1h-7.4zM145.0 414h7.4v1h-7.4zM159.8 414h7.4v1h-7.4zM196.9 414h29.6v1h-29.6zM78.3 415h7.4v1h-7.4zM137.6 415h7.4v1h-7.4zM196.9 415h7.4v1h-7.4zM211.7 415h14.8v1h-14.8zM248.8 415h7.4v1h-7.4zM167.2 416h7.4v1h-7.4zM189.4 416h7.4v1h-7.4zM204.3 416h7.4v1h-7.4zM248.8 416h7.4v1h-7.4zM271.0 416h7.4v1h-7.4zM174.6 417h7.4v1h-7.4zM196.9 417h7.4v1h-7.4zM211.7 417h7.4v1h-7.4zM130.1 418h7.4v1h-7.4zM174.6 418h7.4v1h-7.4zM241.3 418h7.4v1h-7.4zM263.6 418h7.4v1h-7.4zM137.6 419h7.4v1h-7.4zM152.4 419h7.4v1h-7.4zM167.2 419h22.2v1h-22.2zM219.1 419h14.8v1h-14.8zM248.8 419h7.4v1h-7.4zM263.6 419h7.4v1h-7.4zM85.7 420h7.4v1h-7.4zM130.1 420h7.4v1h-7.4zM145.0 420h7.4v1h-7.4zM159.8 420h7.4v1h-7.4zM174.6 420h7.4v1h-7.4zM137.6 421h14.8v1h-14.8zM159.8 421h14.8v1h-14.8zM182.0 421h7.4v1h-7.4zM204.3 421h7.4v1h-7.4zM263.6 421h7.4v1h-7.4zM152.4 422h7.4v1h-7.4zM196.9 422h7.4v1h-7.4zM219.1 422h7.4v1h-7.4zM130.1 423h14.8v1h-14.8zM174.6 423h14.8v1h-14.8zM196.9 423h7.4v1h-7.4zM211.7 423h7.4v1h-7.4zM85.7 424h7.4v1h-7.4zM137.6 424h7.4v1h-7.4zM152.4 424h7.4v1h-7.4zM174.6 424h7.4v1h-7.4zM211.7 424h7.4v1h-7.4zM241.3 424h7.4v1h-7.4zM271.0 424h7.4v1h-7.4zM159.8 425h7.4v1h-7.4zM226.5 425h22.2v1h-22.2zM263.6 425h7.4v1h-7.4zM219.1 426h14.8v1h-14.8zM211.7 427h7.4v1h-7.4zM248.8 427h7.4v1h-7.4zM145.0 428h14.8v1h-14.8zM189.4 428h22.2v1h-22.2zM226.5 428h14.8v1h-14.8zM152.4 429h7.4v1h-7.4zM189.4 429h7.4v1h-7.4zM219.1 429h22.2v1h-22.2zM196.9 430h7.4v1h-7.4zM226.5 430h14.8v1h-14.8zM137.6 431h7.4v1h-7.4zM174.6 431h7.4v1h-7.4zM219.1 431h7.4v1h-7.4zM271.0 431h7.4v1h-7.4zM130.1 432h7.4v1h-7.4zM189.4 432h7.4v1h-7.4zM204.3 432h7.4v1h-7.4zM241.3 432h14.8v1h-14.8zM189.4 433h7.4v1h-7.4zM204.3 433h14.8v1h-14.8zM130.1 434h7.4v1h-7.4zM226.5 434h14.8v1h-14.8zM248.8 434h29.6v1h-29.6zM130.1 435h7.4v1h-7.4zM182.0 435h14.8v1h-14.8zM219.1 435h37.1v1h-37.1zM263.6 435h7.4v1h-7.4zM137.6 436h14.8v1h-14.8zM174.6 436h7.4v1h-7.4zM189.4 436h14.8v1h-14.8zM233.9 436h14.8v1h-14.8zM256.2 436h14.8v1h-14.8zM182.0 437h7.4v1h-7.4zM248.8 437h14.8v1h-14.8zM182.0 438h7.4v1h-7.4zM204.3 438h14.8v1h-14.8zM226.5 438h7.4v1h-7.4zM241.3 438h7.4v1h-7.4zM130.1 439h7.4v1h-7.4zM145.0 439h7.4v1h-7.4zM159.8 439h14.8v1h-14.8zM145.0 440h7.4v1h-7.4zM174.6 440h14.8v1h-14.8zM196.9 440h7.4v1h-7.4zM211.7 440h7.4v1h-7.4zM226.5 440h29.6v1h-29.6zM271.0 440h7.4v1h-7.4zM159.8 441h7.4v1h-7.4zM174.6 441h7.4v1h-7.4zM211.7 441h22.2v1h-22.2zM137.6 442h7.4v1h-7.4zM174.6 442h14.8v1h-14.8zM211.7 442h7.4v1h-7.4zM93.1 443h7.4v1h-7.4zM167.2 443h7.4v1h-7.4zM233.9 443h7.4v1h-7.4zM248.8 444h14.8v1h-14.8zM137.6 446h14.8v1h-14.8zM167.2 446h7.4v1h-7.4zM182.0 446h7.4v1h-7.4zM137.6 447h7.4v1h-7.4zM182.0 447h7.4v1h-7.4zM256.2 447h14.8v1h-14.8zM130.1 448h7.4v1h-7.4zM145.0 448h7.4v1h-7.4zM167.2 448h14.8v1h-14.8zM189.4 448h7.4v1h-7.4zM204.3 448h7.4v1h-7.4zM271.0 448h7.4v1h-7.4zM167.2 449h14.8v1h-14.8zM263.6 449h7.4v1h-7.4zM137.6 450h14.8v1h-14.8zM174.6 450h7.4v1h-7.4zM241.3 450h7.4v1h-7.4zM271.0 450h7.4v1h-7.4zM130.1 451h7.4v1h-7.4zM159.8 451h7.4v1h-7.4zM226.5 451h7.4v1h-7.4zM248.8 451h14.8v1h-14.8zM196.9 452h7.4v1h-7.4zM263.6 452h7.4v1h-7.4zM159.8 453h7.4v1h-7.4zM204.3 453h7.4v1h-7.4zM226.5 453h14.8v1h-14.8zM130.1 454h7.4v1h-7.4zM226.5 454h14.8v1h-14.8zM130.1 455h7.4v1h-7.4zM167.2 455h7.4v1h-7.4zM204.3 455h14.8v1h-14.8zM226.5 455h7.4v1h-7.4zM241.3 455h7.4v1h-7.4zM159.8 456h7.4v1h-7.4zM219.1 456h7.4v1h-7.4zM248.8 456h7.4v1h-7.4zM152.4 457h7.4v1h-7.4zM174.6 457h7.4v1h-7.4zM271.0 457h7.4v1h-7.4zM130.1 458h7.4v1h-7.4zM182.0 458h7.4v1h-7.4zM219.1 458h7.4v1h-7.4zM233.9 458h14.8v1h-14.8zM256.2 458h7.4v1h-7.4zM271.0 458h7.4v1h-7.4zM174.6 459h7.4v1h-7.4zM174.6 460h14.8v1h-14.8zM196.9 460h7.4v1h-7.4zM256.2 460h7.4v1h-7.4zM196.9 461h7.4v1h-7.4zM211.7 461h7.4v1h-7.4zM233.9 461h7.4v1h-7.4zM159.8 462h14.8v1h-14.8zM182.0 462h14.8v1h-14.8zM204.3 462h7.4v1h-7.4zM233.9 462h7.4v1h-7.4zM271.0 462h7.4v1h-7.4zM159.8 463h7.4v1h-7.4zM174.6 463h7.4v1h-7.4zM189.4 463h7.4v1h-7.4zM241.3 463h7.4v1h-7.4zM137.6 464h14.8v1h-14.8zM182.0 464h7.4v1h-7.4zM248.8 464h14.8v1h-14.8zM137.6 465h7.4v1h-7.4zM152.4 465h7.4v1h-7.4zM226.5 465h22.2v1h-22.2zM145.0 466h14.8v1h-14.8zM167.2 466h7.4v1h-7.4zM241.3 466h7.4v1h-7.4zM271.0 466h7.4v1h-7.4zM167.2 467h7.4v1h-7.4zM189.4 467h7.4v1h-7.4zM233.9 467h7.4v1h-7.4zM159.8 468h7.4v1h-7.4zM182.0 468h7.4v1h-7.4zM263.6 468h7.4v1h-7.4zM189.4 469h7.4v1h-7.4zM233.9 469h7.4v1h-7.4zM152.4 470h7.4v1h-7.4zM167.2 470h7.4v1h-7.4zM204.3 470h7.4v1h-7.4zM233.9 470h14.8v1h-14.8zM130.1 471h7.4v1h-7.4zM189.4 471h7.4v1h-7.4zM226.5 471h7.4v1h-7.4zM263.6 471h7.4v1h-7.4zM167.2 472h7.4v1h-7.4zM182.0 472h7.4v1h-7.4zM226.5 472h7.4v1h-7.4zM130.1 473h7.4v1h-7.4zM167.2 473h7.4v1h-7.4zM182.0 473h14.8v1h-14.8zM204.3 473h7.4v1h-7.4zM130.1 474h14.8v1h-14.8zM182.0 474h7.4v1h-7.4zM226.5 474h7.4v1h-7.4zM271.0 474h7.4v1h-7.4zM226.5 475h7.4v1h-7.4zM241.3 475h7.4v1h-7.4z" fill="#fee89c" shape-rendering="crispEdges"/>
<path d="M226.5 275h7.4v1h-7.4zM241.3 275h7.4v1h-7.4zM219.1 280h14.8v1h-14.8zM48.6 282h14.8v1h-14.8zM204.3 282h7.4v1h-7.4zM226.5 282h7.4v1h-7.4zM41.2 283h7.4v1h-7.4zM219.1 283h7.4v1h-7.4zM241.3 283h7.4v1h-7.4zM48.6 285h7.4v1h-7.4zM226.5 285h14.8v1h-14.8zM41.2 288h14.8v1h-14.8zM241.3 288h7.4v1h-7.4zM85.7 290h7.4v1h-7.4zM100.5 294h7.4v1h-7.4zM56.0 297h7.4v1h-7.4zM174.6 297h7.4v1h-7.4zM248.8 297h7.4v1h-7.4zM167.2 298h7.4v1h-7.4zM137.6 299h7.4v1h-7.4zM248.8 299h7.4v1h-7.4zM48.6 300h7.4v1h-7.4zM159.8 300h7.4v1h-7.4zM196.9 300h7.4v1h-7.4zM226.5 300h7.4v1h-7.4zM233.9 301h14.8v1h-14.8zM41.2 302h7.4v1h-7.4zM63.4 302h7.4v1h-7.4zM271.0 303h7.4v1h-7.4zM41.2 305h7.4v1h-7.4zM219.1 305h7.4v1h-7.4zM219.1 309h14.8v1h-14.8zM48.6 310h7.4v1h-7.4zM63.4 310h7.4v1h-7.4zM85.7 310h7.4v1h-7.4zM233.9 311h7.4v1h-7.4zM226.5 312h14.8v1h-14.8zM219.1 313h29.6v1h-29.6zM211.7 314h7.4v1h-7.4zM204.3 315h7.4v1h-7.4zM248.8 315h14.8v1h-14.8zM263.6 316h7.4v1h-7.4zM271.0 317h7.4v1h-7.4zM48.6 320h7.4v1h-7.4zM219.1 320h7.4v1h-7.4zM56.0 323h7.4v1h-7.4zM219.1 324h7.4v1h-7.4zM115.3 327h7.4v1h-7.4zM107.9 329h7.4v1h-7.4zM122.7 329h7.4v1h-7.4zM115.3 330h7.4v1h-7.4zM122.7 332h7.4v1h-7.4zM56.0 334h14.8v1h-14.8zM115.3 334h7.4v1h-7.4zM115.3 335h7.4v1h-7.4zM100.5 340h7.4v1h-7.4zM122.7 340h7.4v1h-7.4zM122.7 341h7.4v1h-7.4zM115.3 342h7.4v1h-7.4zM100.5 345h14.8v1h-14.8zM122.7 346h7.4v1h-7.4zM107.9 350h14.8v1h-14.8zM93.1 351h7.4v1h-7.4zM107.9 351h7.4v1h-7.4zM122.7 352h7.4v1h-7.4zM100.5 355h7.4v1h-7.4zM122.7 355h7.4v1h-7.4zM122.7 358h7.4v1h-7.4zM93.1 360h7.4v1h-7.4zM100.5 364h7.4v1h-7.4zM100.5 366h7.4v1h-7.4zM70.8 370h7.4v1h-7.4zM159.8 372h7.4v1h-7.4zM70.8 373h7.4v1h-7.4zM130.1 376h7.4v1h-7.4zM137.6 379h14.8v1h-14.8zM137.6 380h7.4v1h-7.4zM152.4 380h7.4v1h-7.4zM167.2 382h7.4v1h-7.4zM78.3 384h7.4v1h-7.4zM93.1 390h7.4v1h-7.4zM130.1 390h7.4v1h-7.4zM122.7 391h14.8v1h-14.8zM115.3 392h7.4v1h-7.4zM130.1 392h7.4v1h-7.4zM189.4 392h7.4v1h-7.4zM256.2 392h14.8v1h-14.8zM130.1 393h7.4v1h-7.4zM159.8 393h7.4v1h-7.4zM204.3 393h7.4v1h-7.4zM263.6 393h7.4v1h-7.4zM137.6 394h7.4v1h-7.4zM167.2 394h7.4v1h-7.4zM182.0 394h7.4v1h-7.4zM248.8 394h7.4v1h-7.4zM130.1 395h7.4v1h-7.4zM145.0 395h7.4v1h-7.4zM167.2 395h7.4v1h-7.4zM189.4 395h7.4v1h-7.4zM219.1 395h7.4v1h-7.4zM241.3 395h7.4v1h-7.4zM263.6 395h7.4v1h-7.4zM137.6 396h7.4v1h-7.4zM182.0 396h7.4v1h-7.4zM167.2 398h7.4v1h-7.4zM196.9 398h7.4v1h-7.4zM219.1 398h14.8v1h-14.8zM248.8 398h7.4v1h-7.4zM263.6 398h14.8v1h-14.8zM182.0 399h7.4v1h-7.4zM204.3 399h7.4v1h-7.4zM233.9 399h7.4v1h-7.4zM167.2 400h7.4v1h-7.4zM196.9 400h7.4v1h-7.4zM174.6 401h14.8v1h-14.8zM226.5 401h7.4v1h-7.4zM241.3 401h14.8v1h-14.8zM182.0 402h7.4v1h-7.4zM137.6 403h14.8v1h-14.8zM248.8 403h7.4v1h-7.4zM152.4 404h7.4v1h-7.4zM196.9 404h14.8v1h-14.8zM241.3 404h14.8v1h-14.8zM145.0 405h7.4v1h-7.4zM204.3 405h7.4v1h-7.4zM241.3 405h7.4v1h-7.4zM271.0 405h7.4v1h-7.4zM211.7 406h22.2v1h-22.2zM241.3 406h7.4v1h-7.4zM271.0 406h7.4v1h-7.4zM78.3 407h7.4v1h-7.4zM137.6 407h7.4v1h-7.4zM152.4 407h7.4v1h-7.4zM226.5 407h7.4v1h-7.4zM137.6 408h14.8v1h-14.8zM233.9 408h7.4v1h-7.4zM248.8 408h7.4v1h-7.4zM263.6 408h14.8v1h-14.8zM130.1 409h7.4v1h-7.4zM196.9 409h7.4v1h-7.4zM211.7 409h7.4v1h-7.4zM189.4 410h14.8v1h-14.8zM241.3 410h7.4v1h-7.4zM130.1 411h7.4v1h-7.4zM152.4 411h7.4v1h-7.4zM196.9 411h14.8v1h-14.8zM219.1 411h7.4v1h-7.4zM233.9 411h7.4v1h-7.4zM256.2 411h7.4v1h-7.4zM145.0 412h7.4v1h-7.4zM189.4 412h7.4v1h-7.4zM219.1 412h7.4v1h-7.4zM233.9 412h22.2v1h-22.2zM93.1 413h7.4v1h-7.4zM204.3 413h7.4v1h-7.4zM226.5 413h7.4v1h-7.4zM263.6 413h14.8v1h-14.8zM226.5 414h7.4v1h-7.4zM271.0 414h7.4v1h-7.4zM189.4 415h7.4v1h-7.4zM226.5 415h22.2v1h-22.2zM256.2 415h22.2v1h-22.2zM159.8 416h7.4v1h-7.4zM196.9 416h7.4v1h-7.4zM211.7 416h7.4v1h-7.4zM226.5 416h7.4v1h-7.4zM263.6 416h7.4v1h-7.4zM182.0 417h14.8v1h-14.8zM204.3 417h7.4v1h-7.4zM233.9 417h7.4v1h-7.4zM263.6 417h7.4v1h-7.4zM167.2 418h7.4v1h-7.4zM189.4 418h14.8v1h-14.8zM248.8 418h14.8v1h-14.8zM145.0 419h7.4v1h-7.4zM256.2 419h7.4v1h-7.4zM271.0 419h7.4v1h-7.4zM263.6 420h14.8v1h-14.8zM152.4 421h7.4v1h-7.4zM182.0 422h14.8v1h-14.8zM204.3 422h14.8v1h-14.8zM263.6 422h7.4v1h-7.4zM204.3 423h7.4v1h-7.4zM226.5 423h14.8v1h-14.8zM248.8 423h7.4v1h-7.4zM167.2 424h7.4v1h-7.4zM226.5 424h14.8v1h-14.8zM174.6 425h7.4v1h-7.4zM204.3 425h7.4v1h-7.4zM248.8 425h14.8v1h-14.8zM159.8 426h14.8v1h-14.8zM248.8 426h7.4v1h-7.4zM263.6 426h7.4v1h-7.4zM159.8 427h7.4v1h-7.4zM182.0 427h7.4v1h-7.4zM204.3 427h7.4v1h-7.4zM263.6 427h7.4v1h-7.4zM211.7 428h7.4v1h-7.4zM241.3 428h7.4v1h-7.4zM263.6 428h14.8v1h-14.8zM145.0 429h7.4v1h-7.4zM196.9 429h7.4v1h-7.4zM211.7 429h7.4v1h-7.4zM241.3 429h7.4v1h-7.4zM204.3 430h14.8v1h-14.8zM248.8 430h7.4v1h-7.4zM271.0 430h7.4v1h-7.4zM130.1 431h7.4v1h-7.4zM189.4 431h7.4v1h-7.4zM204.3 431h7.4v1h-7.4zM248.8 431h7.4v1h-7.4zM271.0 432h7.4v1h-7.4zM137.6 433h7.4v1h-7.4zM152.4 433h7.4v1h-7.4zM219.1 433h7.4v1h-7.4zM233.9 433h7.4v1h-7.4zM271.0 433h7.4v1h-7.4zM189.4 434h7.4v1h-7.4zM256.2 435h7.4v1h-7.4zM271.0 435h7.4v1h-7.4zM130.1 436h7.4v1h-7.4zM152.4 436h7.4v1h-7.4zM271.0 436h7.4v1h-7.4zM145.0 437h7.4v1h-7.4zM233.9 437h7.4v1h-7.4zM263.6 437h7.4v1h-7.4zM189.4 438h14.8v1h-14.8zM219.1 438h7.4v1h-7.4zM233.9 438h7.4v1h-7.4zM248.8 438h7.4v1h-7.4zM263.6 438h7.4v1h-7.4zM174.6 439h7.4v1h-7.4zM233.9 439h7.4v1h-7.4zM263.6 439h14.8v1h-14.8zM189.4 440h7.4v1h-7.4zM204.3 440h7.4v1h-7.4zM219.1 440h7.4v1h-7.4zM182.0 441h7.4v1h-7.4zM233.9 441h14.8v1h-14.8zM256.2 441h7.4v1h-7.4zM271.0 441h7.4v1h-7.4zM130.1 442h7.4v1h-7.4zM167.2 442h7.4v1h-7.4zM196.9 442h7.4v1h-7.4zM219.1 442h7.4v1h-7.4zM233.9 442h7.4v1h-7.4zM256.2 442h7.4v1h-7.4zM271.0 442h7.4v1h-7.4zM137.6 443h7.4v1h-7.4zM174.6 443h29.6v1h-29.6zM248.8 443h22.2v1h-22.2zM130.1 444h7.4v1h-7.4zM145.0 444h7.4v1h-7.4zM159.8 444h7.4v1h-7.4zM174.6 444h7.4v1h-7.4zM189.4 444h14.8v1h-14.8zM211.7 444h7.4v1h-7.4zM233.9 444h14.8v1h-14.8zM130.1 445h7.4v1h-7.4zM211.7 445h7.4v1h-7.4zM248.8 445h7.4v1h-7.4zM204.3 446h14.8v1h-14.8zM248.8 446h7.4v1h-7.4zM130.1 447h7.4v1h-7.4zM145.0 447h7.4v1h-7.4zM159.8 447h7.4v1h-7.4zM189.4 447h14.8v1h-14.8zM271.0 447h7.4v1h-7.4zM152.4 448h14.8v1h-14.8zM196.9 448h7.4v1h-7.4zM248.8 448h14.8v1h-14.8zM130.1 449h7.4v1h-7.4zM226.5 449h7.4v1h-7.4zM130.1 450h7.4v1h-7.4zM167.2 450h7.4v1h-7.4zM219.1 450h22.2v1h-22.2zM174.6 451h7.4v1h-7.4zM263.6 451h14.8v1h-14.8zM152.4 452h7.4v1h-7.4zM248.8 452h7.4v1h-7.4zM145.0 453h14.8v1h-14.8zM167.2 453h7.4v1h-7.4zM182.0 453h7.4v1h-7.4zM211.7 453h7.4v1h-7.4zM145.0 454h7.4v1h-7.4zM167.2 454h7.4v1h-7.4zM248.8 454h7.4v1h-7.4zM145.0 455h7.4v1h-7.4zM189.4 455h7.4v1h-7.4zM248.8 455h22.2v1h-22.2zM130.1 456h14.8v1h-14.8zM152.4 456h7.4v1h-7.4zM167.2 456h7.4v1h-7.4zM263.6 456h14.8v1h-14.8zM167.2 457h7.4v1h-7.4zM219.1 457h7.4v1h-7.4zM233.9 457h29.6v1h-29.6zM226.5 458h7.4v1h-7.4zM248.8 458h7.4v1h-7.4zM167.2 459h7.4v1h-7.4zM159.8 460h14.8v1h-14.8zM189.4 460h7.4v1h-7.4zM204.3 460h7.4v1h-7.4zM226.5 460h7.4v1h-7.4zM226.5 461h7.4v1h-7.4zM241.3 461h7.4v1h-7.4zM196.9 462h7.4v1h-7.4zM226.5 462h7.4v1h-7.4zM182.0 463h7.4v1h-7.4zM204.3 463h7.4v1h-7.4zM233.9 463h7.4v1h-7.4zM263.6 464h7.4v1h-7.4zM145.0 465h7.4v1h-7.4zM159.8 465h7.4v1h-7.4zM174.6 465h22.2v1h-22.2zM219.1 465h7.4v1h-7.4zM248.8 465h7.4v1h-7.4zM263.6 465h7.4v1h-7.4zM137.6 466h7.4v1h-7.4zM174.6 466h22.2v1h-22.2zM211.7 466h7.4v1h-7.4zM248.8 466h7.4v1h-7.4zM263.6 466h7.4v1h-7.4zM130.1 467h7.4v1h-7.4zM145.0 467h14.8v1h-14.8zM174.6 467h14.8v1h-14.8zM196.9 467h7.4v1h-7.4zM211.7 467h7.4v1h-7.4zM271.0 467h7.4v1h-7.4zM137.6 468h7.4v1h-7.4zM189.4 468h7.4v1h-7.4zM130.1 469h7.4v1h-7.4zM145.0 469h7.4v1h-7.4zM182.0 469h7.4v1h-7.4zM196.9 469h14.8v1h-14.8zM130.1 470h7.4v1h-7.4zM196.9 470h7.4v1h-7.4zM174.6 471h7.4v1h-7.4zM204.3 471h22.2v1h-22.2zM233.9 471h7.4v1h-7.4zM256.2 471h7.4v1h-7.4zM271.0 471h7.4v1h-7.4zM196.9 472h22.2v1h-22.2zM263.6 472h7.4v1h-7.4zM137.6 473h7.4v1h-7.4zM196.9 473h7.4v1h-7.4zM211.7 473h7.4v1h-7.4zM189.4 474h22.2v1h-22.2zM233.9 474h7.4v1h-7.4zM145.0 475h7.4v1h-7.4zM159.8 475h7.4v1h-7.4zM189.4 475h14.8v1h-14.8zM233.9 475h7.4v1h-7.4zM248.8 475h7.4v1h-7.4zM271.0 475h7.4v1h-7.4z" fill="#fee395" shape-rendering="crispEdges"/>
<path d="M63.4 282h7.4v1h-7.4zM219.1 282h7.4v1h-7.4zM48.6 283h7.4v1h-7.4zM233.9 283h7.4v1h-7.4zM56.0 284h7.4v1h-7.4zM56.0 285h7.4v1h-7.4zM56.0 287h7.4v1h-7.4zM63.4 288h7.4v1h-7.4zM63.4 294h7.4v1h-7.4zM41.2 297h7.4v1h-7.4zM41.2 298h7.4v1h-7.4zM63.4 298h7.4v1h-7.4zM182.0 298h7.4v1h-7.4zM41.2 299h7.4v1h-7.4zM152.4 299h7.4v1h-7.4zM241.3 300h7.4v1h-7.4zM256.2 300h7.4v1h-7.4zM41.2 301h7.4v1h-7.4zM63.4 301h7.4v1h-7.4zM56.0 305h7.4v1h-7.4zM233.9 305h7.4v1h-7.4zM56.0 307h14.8v1h-14.8zM48.6 308h7.4v1h-7.4zM63.4 308h7.4v1h-7.4zM41.2 310h7.4v1h-7.4zM56.0 310h7.4v1h-7.4zM70.8 310h7.4v1h-7.4zM271.0 313h7.4v1h-7.4zM263.6 315h7.4v1h-7.4zM56.0 319h7.4v1h-7.4zM107.9 320h7.4v1h-7.4zM56.0 321h7.4v1h-7.4zM48.6 322h22.2v1h-22.2zM41.2 323h14.8v1h-14.8zM115.3 323h7.4v1h-7.4zM48.6 324h7.4v1h-7.4zM107.9 327h7.4v1h-7.4zM56.0 333h7.4v1h-7.4zM115.3 333h7.4v1h-7.4zM41.2 334h7.4v1h-7.4zM107.9 337h7.4v1h-7.4zM122.7 338h7.4v1h-7.4zM107.9 340h14.8v1h-14.8zM70.8 342h7.4v1h-7.4zM100.5 349h7.4v1h-7.4zM100.5 352h7.4v1h-7.4zM100.5 354h7.4v1h-7.4zM122.7 354h7.4v1h-7.4zM107.9 355h7.4v1h-7.4zM100.5 356h14.8v1h-14.8zM107.9 357h14.8v1h-14.8zM107.9 358h7.4v1h-7.4zM107.9 360h7.4v1h-7.4zM115.3 362h7.4v1h-7.4zM41.2 363h7.4v1h-7.4zM78.3 367h7.4v1h-7.4zM70.8 369h14.8v1h-14.8zM85.7 371h7.4v1h-7.4zM78.3 372h22.2v1h-22.2zM182.0 372h7.4v1h-7.4zM145.0 378h7.4v1h-7.4zM70.8 383h7.4v1h-7.4zM85.7 383h7.4v1h-7.4zM70.8 385h7.4v1h-7.4zM159.8 385h7.4v1h-7.4zM182.0 385h7.4v1h-7.4zM78.3 390h14.8v1h-14.8zM100.5 392h14.8v1h-14.8zM115.3 393h7.4v1h-7.4zM256.2 393h7.4v1h-7.4zM107.9 394h7.4v1h-7.4zM115.3 395h7.4v1h-7.4zM226.5 395h7.4v1h-7.4zM256.2 395h7.4v1h-7.4zM271.0 395h7.4v1h-7.4zM159.8 396h7.4v1h-7.4zM107.9 397h14.8v1h-14.8zM233.9 398h7.4v1h-7.4zM256.2 398h7.4v1h-7.4zM211.7 399h7.4v1h-7.4zM233.9 400h7.4v1h-7.4zM263.6 400h7.4v1h-7.4zM159.8 401h7.4v1h-7.4zM219.1 401h7.4v1h-7.4zM256.2 401h7.4v1h-7.4zM248.8 402h22.2v1h-22.2zM256.2 404h14.8v1h-14.8zM219.1 405h22.2v1h-22.2zM248.8 405h22.2v1h-22.2zM152.4 406h7.4v1h-7.4zM189.4 406h7.4v1h-7.4zM248.8 406h7.4v1h-7.4zM263.6 407h14.8v1h-14.8zM256.2 408h7.4v1h-7.4zM233.9 409h14.8v1h-14.8zM271.0 409h7.4v1h-7.4zM263.6 410h7.4v1h-7.4zM211.7 411h7.4v1h-7.4zM241.3 411h7.4v1h-7.4zM271.0 411h7.4v1h-7.4zM196.9 412h22.2v1h-22.2zM152.4 413h7.4v1h-7.4zM167.2 413h7.4v1h-7.4zM211.7 413h7.4v1h-7.4zM233.9 413h7.4v1h-7.4zM248.8 413h14.8v1h-14.8zM189.4 414h7.4v1h-7.4zM233.9 414h14.8v1h-14.8zM256.2 414h14.8v1h-14.8zM204.3 415h7.4v1h-7.4zM174.6 416h7.4v1h-7.4zM219.1 416h7.4v1h-7.4zM233.9 416h7.4v1h-7.4zM241.3 417h22.2v1h-22.2zM271.0 417h7.4v1h-7.4zM182.0 418h7.4v1h-7.4zM219.1 418h22.2v1h-22.2zM271.0 418h7.4v1h-7.4zM159.8 419h7.4v1h-7.4zM196.9 421h7.4v1h-7.4zM211.7 421h7.4v1h-7.4zM130.1 422h22.2v1h-22.2zM159.8 423h7.4v1h-7.4zM241.3 423h7.4v1h-7.4zM263.6 423h14.8v1h-14.8zM159.8 424h7.4v1h-7.4zM219.1 424h7.4v1h-7.4zM167.2 425h7.4v1h-7.4zM182.0 425h7.4v1h-7.4zM219.1 425h7.4v1h-7.4zM174.6 426h7.4v1h-7.4zM167.2 427h7.4v1h-7.4zM226.5 427h14.8v1h-14.8zM271.0 427h7.4v1h-7.4zM248.8 428h14.8v1h-14.8zM204.3 429h7.4v1h-7.4zM256.2 430h14.8v1h-14.8zM145.0 431h7.4v1h-7.4zM196.9 431h7.4v1h-7.4zM226.5 431h7.4v1h-7.4zM256.2 431h7.4v1h-7.4zM145.0 433h7.4v1h-7.4zM241.3 433h29.6v1h-29.6zM137.6 434h7.4v1h-7.4zM196.9 434h7.4v1h-7.4zM211.7 434h7.4v1h-7.4zM226.5 437h7.4v1h-7.4zM256.2 438h7.4v1h-7.4zM219.1 439h14.8v1h-14.8zM241.3 439h22.2v1h-22.2zM130.1 440h14.8v1h-14.8zM152.4 440h7.4v1h-7.4zM263.6 441h7.4v1h-7.4zM145.0 442h7.4v1h-7.4zM189.4 442h7.4v1h-7.4zM226.5 442h7.4v1h-7.4zM241.3 442h7.4v1h-7.4zM130.1 443h7.4v1h-7.4zM204.3 443h29.6v1h-29.6zM241.3 443h7.4v1h-7.4zM152.4 444h7.4v1h-7.4zM167.2 444h7.4v1h-7.4zM226.5 444h7.4v1h-7.4zM145.0 445h14.8v1h-14.8zM204.3 445h7.4v1h-7.4zM152.4 447h7.4v1h-7.4zM167.2 447h7.4v1h-7.4zM248.8 447h7.4v1h-7.4zM137.6 448h7.4v1h-7.4zM211.7 448h7.4v1h-7.4zM152.4 450h7.4v1h-7.4zM152.4 451h7.4v1h-7.4zM145.0 452h7.4v1h-7.4zM174.6 453h7.4v1h-7.4zM189.4 453h7.4v1h-7.4zM174.6 454h7.4v1h-7.4zM256.2 454h7.4v1h-7.4zM137.6 455h7.4v1h-7.4zM174.6 456h7.4v1h-7.4zM159.8 457h7.4v1h-7.4zM182.0 457h7.4v1h-7.4zM159.8 458h7.4v1h-7.4zM174.6 458h7.4v1h-7.4zM159.8 459h7.4v1h-7.4zM219.1 459h7.4v1h-7.4zM241.3 459h7.4v1h-7.4zM219.1 460h7.4v1h-7.4zM241.3 460h7.4v1h-7.4zM189.4 461h7.4v1h-7.4zM204.3 461h7.4v1h-7.4zM211.7 462h7.4v1h-7.4zM211.7 463h7.4v1h-7.4zM256.2 465h7.4v1h-7.4zM271.0 465h7.4v1h-7.4zM159.8 466h7.4v1h-7.4zM256.2 466h7.4v1h-7.4zM204.3 467h7.4v1h-7.4zM263.6 467h7.4v1h-7.4zM130.1 468h7.4v1h-7.4zM152.4 468h7.4v1h-7.4zM196.9 468h7.4v1h-7.4zM211.7 468h7.4v1h-7.4zM248.8 468h7.4v1h-7.4zM152.4 469h7.4v1h-7.4zM211.7 469h7.4v1h-7.4zM196.9 471h7.4v1h-7.4zM248.8 471h7.4v1h-7.4zM233.9 472h7.4v1h-7.4zM271.0 472h7.4v1h-7.4zM174.6 473h7.4v1h-7.4zM256.2 473h14.8v1h-14.8zM211.7 474h14.8v1h-14.8zM248.8 474h22.2v1h-22.2zM204.3 475h14.8v1h-14.8zM263.6 475h7.4v1h-7.4z" fill="#fedc8d" shape-rendering="crispEdges"/>
<path d="M48.6 278h7.4v1h-7.4zM48.6 280h7.4v1h-7.4zM48.6 281h7.4v1h-7.4zM63.4 281h7.4v1h-7.4zM41.2 282h7.4v1h-7.4zM56.0 283h14.8v1h-14.8zM41.2 284h7.4v1h-7.4zM48.6 286h22.2v1h-22.2zM41.2 287h7.4v1h-7.4zM63.4 287h7.4v1h-7.4zM41.2 290h7.4v1h-7.4zM63.4 291h7.4v1h-7.4zM48.6 293h14.8v1h-14.8zM48.6 294h7.4v1h-7.4zM41.2 296h7.4v1h-7.4zM48.6 297h7.4v1h-7.4zM63.4 297h7.4v1h-7.4zM48.6 298h7.4v1h-7.4zM93.1 298h7.4v1h-7.4zM152.4 298h7.4v1h-7.4zM63.4 299h7.4v1h-7.4zM56.0 300h14.8v1h-14.8zM56.0 301h7.4v1h-7.4zM56.0 304h7.4v1h-7.4zM63.4 305h7.4v1h-7.4zM56.0 306h7.4v1h-7.4zM41.2 307h14.8v1h-14.8zM41.2 308h7.4v1h-7.4zM56.0 308h7.4v1h-7.4zM41.2 311h7.4v1h-7.4zM56.0 311h7.4v1h-7.4zM41.2 312h7.4v1h-7.4zM56.0 312h7.4v1h-7.4zM271.0 315h7.4v1h-7.4zM41.2 317h7.4v1h-7.4zM56.0 317h14.8v1h-14.8zM41.2 319h14.8v1h-14.8zM63.4 319h7.4v1h-7.4zM107.9 319h7.4v1h-7.4zM56.0 320h7.4v1h-7.4zM122.7 320h7.4v1h-7.4zM63.4 321h7.4v1h-7.4zM41.2 322h7.4v1h-7.4zM63.4 323h7.4v1h-7.4zM107.9 323h7.4v1h-7.4zM41.2 324h7.4v1h-7.4zM56.0 324h14.8v1h-14.8zM107.9 325h7.4v1h-7.4zM56.0 326h7.4v1h-7.4zM100.5 326h7.4v1h-7.4zM115.3 326h7.4v1h-7.4zM100.5 327h7.4v1h-7.4zM100.5 328h7.4v1h-7.4zM115.3 329h7.4v1h-7.4zM107.9 331h7.4v1h-7.4zM41.2 332h7.4v1h-7.4zM115.3 332h7.4v1h-7.4zM41.2 333h14.8v1h-14.8zM63.4 333h7.4v1h-7.4zM100.5 333h7.4v1h-7.4zM48.6 334h7.4v1h-7.4zM100.5 348h7.4v1h-7.4zM107.9 349h7.4v1h-7.4zM56.0 351h7.4v1h-7.4zM41.2 353h7.4v1h-7.4zM56.0 353h7.4v1h-7.4zM48.6 354h7.4v1h-7.4zM41.2 360h7.4v1h-7.4zM56.0 360h7.4v1h-7.4zM122.7 361h7.4v1h-7.4zM63.4 362h7.4v1h-7.4zM78.3 362h7.4v1h-7.4zM48.6 363h7.4v1h-7.4zM63.4 363h7.4v1h-7.4zM122.7 364h7.4v1h-7.4zM70.8 367h7.4v1h-7.4zM93.1 367h7.4v1h-7.4zM85.7 373h7.4v1h-7.4zM78.3 374h7.4v1h-7.4zM137.6 376h7.4v1h-7.4zM152.4 379h7.4v1h-7.4zM115.3 391h7.4v1h-7.4zM100.5 395h7.4v1h-7.4zM263.6 399h7.4v1h-7.4zM263.6 401h14.8v1h-14.8zM271.0 402h7.4v1h-7.4zM241.3 403h7.4v1h-7.4zM256.2 403h7.4v1h-7.4zM271.0 403h7.4v1h-7.4zM137.6 405h7.4v1h-7.4zM204.3 406h7.4v1h-7.4zM263.6 406h7.4v1h-7.4zM219.1 409h14.8v1h-14.8zM219.1 410h22.2v1h-22.2zM271.0 412h7.4v1h-7.4zM189.4 413h7.4v1h-7.4zM219.1 413h7.4v1h-7.4zM241.3 413h7.4v1h-7.4zM241.3 416h7.4v1h-7.4zM256.2 416h7.4v1h-7.4zM226.5 417h7.4v1h-7.4zM167.2 423h7.4v1h-7.4zM256.2 423h7.4v1h-7.4zM182.0 426h7.4v1h-7.4zM271.0 426h7.4v1h-7.4zM219.1 427h7.4v1h-7.4zM241.3 427h7.4v1h-7.4zM256.2 427h7.4v1h-7.4zM271.0 429h7.4v1h-7.4zM211.7 431h7.4v1h-7.4zM256.2 432h7.4v1h-7.4zM196.9 433h7.4v1h-7.4zM189.4 439h7.4v1h-7.4zM130.1 441h29.6v1h-29.6zM137.6 444h7.4v1h-7.4zM174.6 446h7.4v1h-7.4zM211.7 447h7.4v1h-7.4zM137.6 449h22.2v1h-22.2zM182.0 449h7.4v1h-7.4zM145.0 451h7.4v1h-7.4zM159.8 454h7.4v1h-7.4zM271.0 454h7.4v1h-7.4zM152.4 455h7.4v1h-7.4zM182.0 456h7.4v1h-7.4zM256.2 456h7.4v1h-7.4zM167.2 458h7.4v1h-7.4zM226.5 459h7.4v1h-7.4zM211.7 460h7.4v1h-7.4zM219.1 461h7.4v1h-7.4zM241.3 462h7.4v1h-7.4zM196.9 463h7.4v1h-7.4zM159.8 464h22.2v1h-22.2zM204.3 464h7.4v1h-7.4zM196.9 465h22.2v1h-22.2zM204.3 466h7.4v1h-7.4zM145.0 468h7.4v1h-7.4zM256.2 468h7.4v1h-7.4zM137.6 469h7.4v1h-7.4zM189.4 470h7.4v1h-7.4zM211.7 470h7.4v1h-7.4zM226.5 470h7.4v1h-7.4zM189.4 472h7.4v1h-7.4zM248.8 472h7.4v1h-7.4z" fill="#fecf85" shape-rendering="crispEdges"/>
<path d="M41.2 275h7.4v1h-7.4zM63.4 275h7.4v1h-7.4zM41.2 276h7.4v1h-7.4zM63.4 276h7.4v1h-7.4zM41.2 278h7.4v1h-7.4zM63.4 280h7.4v1h-7.4zM41.2 281h7.4v1h-7.4zM56.0 281h7.4v1h-7.4zM41.2 285h7.4v1h-7.4zM63.4 285h7.4v1h-7.4zM48.6 287h7.4v1h-7.4zM56.0 288h7.4v1h-7.4zM48.6 289h7.4v1h-7.4zM48.6 290h22.2v1h-22.2zM48.6 291h7.4v1h-7.4zM41.2 292h22.2v1h-22.2zM41.2 293h7.4v1h-7.4zM63.4 293h7.4v1h-7.4zM48.6 295h14.8v1h-14.8zM48.6 296h22.2v1h-22.2zM56.0 298h7.4v1h-7.4zM48.6 299h14.8v1h-14.8zM41.2 300h7.4v1h-7.4zM63.4 303h7.4v1h-7.4zM41.2 306h14.8v1h-14.8zM63.4 306h7.4v1h-7.4zM41.2 309h7.4v1h-7.4zM56.0 309h14.8v1h-14.8zM63.4 311h7.4v1h-7.4zM48.6 312h7.4v1h-7.4zM63.4 312h7.4v1h-7.4zM41.2 318h7.4v1h-7.4zM56.0 318h14.8v1h-14.8zM41.2 320h7.4v1h-7.4zM63.4 320h7.4v1h-7.4zM41.2 321h14.8v1h-14.8zM41.2 325h7.4v1h-7.4zM41.2 326h14.8v1h-14.8zM122.7 328h7.4v1h-7.4zM48.6 332h22.2v1h-22.2zM56.0 337h7.4v1h-7.4zM122.7 337h7.4v1h-7.4zM41.2 338h22.2v1h-22.2zM100.5 338h7.4v1h-7.4zM100.5 341h7.4v1h-7.4zM100.5 342h7.4v1h-7.4zM122.7 342h7.4v1h-7.4zM100.5 343h7.4v1h-7.4zM115.3 344h14.8v1h-14.8zM100.5 346h7.4v1h-7.4zM48.6 349h14.8v1h-14.8zM100.5 350h7.4v1h-7.4zM41.2 351h14.8v1h-14.8zM56.0 352h7.4v1h-7.4zM63.4 353h7.4v1h-7.4zM41.2 354h7.4v1h-7.4zM115.3 358h7.4v1h-7.4zM41.2 359h29.6v1h-29.6zM48.6 360h7.4v1h-7.4zM56.0 361h14.8v1h-14.8zM100.5 361h7.4v1h-7.4zM41.2 362h7.4v1h-7.4zM56.0 363h7.4v1h-7.4zM107.9 363h7.4v1h-7.4zM48.6 364h7.4v1h-7.4zM48.6 365h14.8v1h-14.8zM107.9 365h7.4v1h-7.4zM56.0 366h7.4v1h-7.4zM85.7 367h7.4v1h-7.4zM85.7 368h7.4v1h-7.4zM85.7 369h14.8v1h-14.8zM85.7 370h14.8v1h-14.8zM78.3 373h7.4v1h-7.4zM85.7 374h7.4v1h-7.4zM78.3 380h14.8v1h-14.8zM78.3 382h7.4v1h-7.4zM93.1 382h7.4v1h-7.4zM78.3 385h7.4v1h-7.4zM85.7 389h7.4v1h-7.4zM70.8 390h7.4v1h-7.4zM100.5 391h7.4v1h-7.4zM100.5 393h14.8v1h-14.8zM115.3 394h14.8v1h-14.8zM122.7 395h7.4v1h-7.4zM100.5 396h7.4v1h-7.4zM248.8 399h14.8v1h-14.8zM248.8 400h14.8v1h-14.8zM167.2 401h7.4v1h-7.4zM263.6 403h7.4v1h-7.4zM248.8 414h7.4v1h-7.4zM219.1 417h7.4v1h-7.4zM219.1 423h7.4v1h-7.4zM182.0 424h7.4v1h-7.4zM256.2 426h7.4v1h-7.4zM248.8 429h14.8v1h-14.8zM271.0 438h7.4v1h-7.4zM189.4 445h14.8v1h-14.8zM137.6 451h7.4v1h-7.4zM137.6 452h7.4v1h-7.4zM233.9 459h7.4v1h-7.4zM196.9 464h7.4v1h-7.4zM211.7 464h7.4v1h-7.4zM196.9 466h7.4v1h-7.4zM248.8 467h14.8v1h-14.8zM271.0 468h7.4v1h-7.4zM256.2 472h7.4v1h-7.4zM248.8 473h7.4v1h-7.4zM271.0 473h7.4v1h-7.4z" fill="#fdc37d" shape-rendering="crispEdges"/>
<path d="M48.6 275h14.8v1h-14.8zM48.6 276h14.8v1h-14.8zM56.0 278h7.4v1h-7.4zM63.4 279h7.4v1h-7.4zM41.2 280h7.4v1h-7.4zM56.0 280h7.4v1h-7.4zM48.6 284h7.4v1h-7.4zM63.4 284h7.4v1h-7.4zM41.2 286h7.4v1h-7.4zM41.2 289h7.4v1h-7.4zM56.0 289h14.8v1h-14.8zM41.2 291h7.4v1h-7.4zM56.0 291h7.4v1h-7.4zM41.2 294h7.4v1h-7.4zM56.0 294h7.4v1h-7.4zM63.4 295h7.4v1h-7.4zM70.8 299h7.4v1h-7.4zM41.2 303h14.8v1h-14.8zM41.2 304h14.8v1h-14.8zM48.6 305h7.4v1h-7.4zM48.6 309h7.4v1h-7.4zM48.6 311h7.4v1h-7.4zM41.2 315h29.6v1h-29.6zM48.6 317h7.4v1h-7.4zM48.6 325h14.8v1h-14.8zM115.3 325h14.8v1h-14.8zM63.4 326h7.4v1h-7.4zM107.9 328h7.4v1h-7.4zM48.6 330h7.4v1h-7.4zM48.6 331h7.4v1h-7.4zM122.7 333h7.4v1h-7.4zM48.6 335h14.8v1h-14.8zM107.9 335h7.4v1h-7.4zM48.6 336h7.4v1h-7.4zM107.9 336h7.4v1h-7.4zM122.7 336h7.4v1h-7.4zM41.2 337h14.8v1h-14.8zM63.4 337h7.4v1h-7.4zM115.3 337h7.4v1h-7.4zM63.4 338h7.4v1h-7.4zM48.6 339h22.2v1h-22.2zM41.2 340h22.2v1h-22.2zM56.0 343h7.4v1h-7.4zM115.3 343h14.8v1h-14.8zM41.2 346h29.6v1h-29.6zM41.2 348h14.8v1h-14.8zM122.7 348h7.4v1h-7.4zM41.2 349h7.4v1h-7.4zM115.3 349h7.4v1h-7.4zM48.6 350h14.8v1h-14.8zM63.4 351h7.4v1h-7.4zM48.6 352h7.4v1h-7.4zM63.4 352h7.4v1h-7.4zM48.6 353h7.4v1h-7.4zM56.0 354h7.4v1h-7.4zM122.7 357h7.4v1h-7.4zM100.5 358h7.4v1h-7.4zM100.5 359h7.4v1h-7.4zM63.4 360h7.4v1h-7.4zM115.3 360h14.8v1h-14.8zM107.9 362h7.4v1h-7.4zM115.3 363h7.4v1h-7.4zM107.9 364h7.4v1h-7.4zM63.4 365h7.4v1h-7.4zM100.5 365h7.4v1h-7.4zM122.7 365h7.4v1h-7.4zM41.2 366h14.8v1h-14.8zM78.3 370h7.4v1h-7.4zM93.1 371h7.4v1h-7.4zM85.7 378h7.4v1h-7.4zM70.8 382h7.4v1h-7.4zM85.7 384h14.8v1h-14.8zM85.7 385h14.8v1h-14.8zM70.8 386h7.4v1h-7.4zM93.1 386h7.4v1h-7.4zM85.7 388h7.4v1h-7.4zM70.8 389h14.8v1h-14.8zM93.1 389h7.4v1h-7.4zM122.7 392h7.4v1h-7.4zM122.7 393h7.4v1h-7.4zM107.9 395h7.4v1h-7.4zM115.3 396h14.8v1h-14.8zM100.5 397h7.4v1h-7.4zM122.7 397h7.4v1h-7.4zM271.0 399h7.4v1h-7.4zM271.0 400h7.4v1h-7.4zM263.6 429h7.4v1h-7.4z" fill="#fdb674" shape-rendering="crispEdges"/>
<path d="M63.4 278h7.4v1h-7.4zM41.2 279h22.2v1h-22.2zM63.4 292h7.4v1h-7.4zM41.2 295h7.4v1h-7.4zM56.0 303h7.4v1h-7.4zM63.4 304h7.4v1h-7.4zM41.2 314h14.8v1h-14.8zM41.2 316h22.2v1h-22.2zM48.6 318h7.4v1h-7.4zM63.4 325h7.4v1h-7.4zM48.6 327h22.2v1h-22.2zM122.7 327h7.4v1h-7.4zM41.2 328h29.6v1h-29.6zM48.6 329h14.8v1h-14.8zM41.2 330h7.4v1h-7.4zM107.9 330h7.4v1h-7.4zM41.2 331h7.4v1h-7.4zM56.0 331h14.8v1h-14.8zM63.4 335h7.4v1h-7.4zM63.4 336h7.4v1h-7.4zM41.2 339h7.4v1h-7.4zM63.4 340h7.4v1h-7.4zM41.2 341h7.4v1h-7.4zM56.0 341h14.8v1h-14.8zM107.9 341h7.4v1h-7.4zM41.2 343h14.8v1h-14.8zM107.9 343h7.4v1h-7.4zM48.6 344h7.4v1h-7.4zM48.6 345h7.4v1h-7.4zM41.2 347h14.8v1h-14.8zM56.0 348h14.8v1h-14.8zM63.4 349h7.4v1h-7.4zM41.2 350h7.4v1h-7.4zM63.4 350h7.4v1h-7.4zM41.2 352h7.4v1h-7.4zM56.0 355h7.4v1h-7.4zM63.4 357h7.4v1h-7.4zM100.5 360h7.4v1h-7.4zM41.2 361h14.8v1h-14.8zM115.3 361h7.4v1h-7.4zM48.6 362h14.8v1h-14.8zM100.5 363h7.4v1h-7.4zM41.2 364h7.4v1h-7.4zM56.0 364h14.8v1h-14.8zM115.3 364h7.4v1h-7.4zM41.2 365h7.4v1h-7.4zM115.3 365h7.4v1h-7.4zM63.4 366h7.4v1h-7.4zM70.8 372h7.4v1h-7.4zM78.3 377h7.4v1h-7.4zM70.8 378h7.4v1h-7.4zM70.8 381h29.6v1h-29.6zM78.3 383h7.4v1h-7.4zM70.8 384h7.4v1h-7.4zM78.3 386h7.4v1h-7.4zM85.7 387h7.4v1h-7.4zM107.9 391h7.4v1h-7.4zM189.4 464h7.4v1h-7.4zM204.3 468h7.4v1h-7.4z" fill="#fdaa6c" shape-rendering="crispEdges"/>
<path d="M56.0 277h14.8v1h-14.8zM41.2 313h7.4v1h-7.4zM63.4 313h7.4v1h-7.4zM56.0 314h14.8v1h-14.8zM63.4 316h7.4v1h-7.4zM41.2 327h7.4v1h-7.4zM41.2 329h7.4v1h-7.4zM56.0 330h14.8v1h-14.8zM122.7 330h7.4v1h-7.4zM41.2 335h7.4v1h-7.4zM41.2 336h7.4v1h-7.4zM56.0 336h7.4v1h-7.4zM100.5 336h7.4v1h-7.4zM115.3 336h7.4v1h-7.4zM100.5 337h7.4v1h-7.4zM48.6 341h7.4v1h-7.4zM63.4 343h7.4v1h-7.4zM41.2 344h7.4v1h-7.4zM56.0 344h14.8v1h-14.8zM41.2 345h7.4v1h-7.4zM56.0 345h14.8v1h-14.8zM56.0 347h7.4v1h-7.4zM63.4 354h7.4v1h-7.4zM48.6 355h7.4v1h-7.4zM56.0 356h7.4v1h-7.4zM48.6 357h7.4v1h-7.4zM70.8 368h14.8v1h-14.8zM93.1 368h7.4v1h-7.4zM70.8 374h7.4v1h-7.4zM93.1 374h7.4v1h-7.4zM70.8 375h7.4v1h-7.4zM85.7 377h7.4v1h-7.4zM70.8 379h14.8v1h-14.8zM93.1 379h7.4v1h-7.4zM93.1 380h7.4v1h-7.4zM85.7 382h7.4v1h-7.4zM107.9 396h7.4v1h-7.4z" fill="#fc9e64" shape-rendering="crispEdges"/>
<path d="M41.2 277h14.8v1h-14.8zM48.6 313h14.8v1h-14.8zM63.4 329h7.4v1h-7.4zM107.9 333h7.4v1h-7.4zM41.2 342h29.6v1h-29.6zM107.9 342h7.4v1h-7.4zM63.4 347h7.4v1h-7.4zM41.2 355h7.4v1h-7.4zM63.4 355h7.4v1h-7.4zM41.2 356h7.4v1h-7.4zM41.2 357h7.4v1h-7.4zM56.0 357h7.4v1h-7.4zM41.2 358h7.4v1h-7.4zM56.0 358h14.8v1h-14.8zM107.9 359h7.4v1h-7.4zM100.5 362h7.4v1h-7.4zM85.7 375h14.8v1h-14.8zM78.3 376h7.4v1h-7.4zM93.1 377h7.4v1h-7.4zM93.1 378h7.4v1h-7.4zM85.7 379h7.4v1h-7.4zM85.7 386h7.4v1h-7.4zM70.8 387h7.4v1h-7.4zM93.1 387h7.4v1h-7.4z" fill="#fc915c" shape-rendering="crispEdges"/>
<path d="M48.6 356h7.4v1h-7.4zM63.4 356h7.4v1h-7.4zM48.6 358h7.4v1h-7.4zM107.9 361h7.4v1h-7.4zM122.7 363h7.4v1h-7.4zM78.3 375h7.4v1h-7.4zM85.7 376h7.4v1h-7.4zM70.8 377h7.4v1h-7.4zM78.3 378h7.4v1h-7.4zM70.8 380h7.4v1h-7.4zM78.3 387h7.4v1h-7.4zM93.1 388h7.4v1h-7.4z" fill="#f88454" shape-rendering="crispEdges"/>
<path d="M122.7 362h7.4v1h-7.4zM70.8 376h7.4v1h-7.4zM93.1 376h7.4v1h-7.4zM70.8 388h7.4v1h-7.4z" fill="#f3764c" shape-rendering="crispEdges"/>
<path d="M122.7 359h7.4v1h-7.4zM78.3 388h7.4v1h-7.4z" fill="#ed6845" shape-rendering="crispEdges"/>
</g>
<rect x="37.20" y="274.50" width="2.80" height="50.00" fill="#984EA3"/>
<rect x="37.20" y="324.50" width="2.80" height="42.00" fill="#FF7F00"/>
<rect x="37.20" y="366.50" width="2.80" height="24.00" fill="#4DAF4A"/>
<rect x="37.20" y="390.50" width="2.80" height="7.00" fill="#377EB8"/>
<rect x="37.20" y="397.50" width="2.80" height="78.00" fill="#E41A1C"/>
<text x="33.70" y="300.70" font-size="7.4" text-anchor="end" fill="#984EA3" stroke="#984EA3" stroke-width="0.18">Cluster 1</text>
<text x="33.70" y="347.20" font-size="7.4" text-anchor="end" fill="#FF7F00" stroke="#FF7F00" stroke-width="0.18">Cluster 2</text>
<text x="33.70" y="378.50" font-size="7.4" text-anchor="end" fill="#4DAF4A" stroke="#4DAF4A" stroke-width="0.18">Cluster 3</text>
<text x="33.70" y="395.90" font-size="7.4" text-anchor="end" fill="#377EB8" stroke="#377EB8" stroke-width="0.18">Cluster 4</text>
<text x="33.70" y="441.10" font-size="7.4" text-anchor="end" fill="#E41A1C" stroke="#E41A1C" stroke-width="0.18">Cluster 5</text>
<text x="54.03" y="483.80" font-size="7" text-anchor="middle" fill="#231f20" stroke="#231f20" stroke-width="0.18">glucose</text>
<text x="85.67" y="483.80" font-size="7" text-anchor="middle" fill="#231f20" stroke="#231f20" stroke-width="0.18">10 min</text>
<line x1="70.85" y1="476.40" x2="70.85" y2="486.20" stroke="#d0d0d0" stroke-width="0.5"/>
<text x="115.33" y="483.80" font-size="7" text-anchor="middle" fill="#231f20" stroke="#231f20" stroke-width="0.18">3 hrs</text>
<line x1="100.50" y1="476.40" x2="100.50" y2="486.20" stroke="#d0d0d0" stroke-width="0.5"/>
<text x="144.97" y="483.80" font-size="7" text-anchor="middle" fill="#231f20" stroke="#231f20" stroke-width="0.18">24 hrs</text>
<line x1="130.15" y1="476.40" x2="130.15" y2="486.20" stroke="#d0d0d0" stroke-width="0.5"/>
<text x="174.62" y="483.80" font-size="7" text-anchor="middle" fill="#231f20" stroke="#231f20" stroke-width="0.18">day 2</text>
<line x1="159.80" y1="476.40" x2="159.80" y2="486.20" stroke="#d0d0d0" stroke-width="0.5"/>
<text x="204.27" y="483.80" font-size="7" text-anchor="middle" fill="#231f20" stroke="#231f20" stroke-width="0.18">day 3</text>
<line x1="189.45" y1="476.40" x2="189.45" y2="486.20" stroke="#d0d0d0" stroke-width="0.5"/>
<text x="233.93" y="483.80" font-size="7" text-anchor="middle" fill="#231f20" stroke="#231f20" stroke-width="0.18">day 5</text>
<line x1="219.10" y1="476.40" x2="219.10" y2="486.20" stroke="#d0d0d0" stroke-width="0.5"/>
<text x="263.57" y="483.80" font-size="7" text-anchor="middle" fill="#231f20" stroke="#231f20" stroke-width="0.18">day 7</text>
<line x1="248.75" y1="476.40" x2="248.75" y2="486.20" stroke="#d0d0d0" stroke-width="0.5"/>
<defs><linearGradient id="zk" x1="0" y1="1" x2="0" y2="0"><stop offset="0.000" stop-color="#4575B4"/><stop offset="0.167" stop-color="#91BFDB"/><stop offset="0.333" stop-color="#E0F3F8"/><stop offset="0.500" stop-color="#FFFFBF"/><stop offset="0.667" stop-color="#FEE090"/><stop offset="0.833" stop-color="#FC8D59"/><stop offset="1.000" stop-color="#D73027"/></linearGradient></defs>
<rect x="295.60" y="300.10" width="4.30" height="65.90" fill="url(#zk)"/>
<text x="283.00" y="297.20" font-size="7.5" font-weight="bold" fill="#111" stroke="#111" stroke-width="0.12">Row Z-score</text>
<text x="301.30" y="305.40" font-size="6.0" fill="#222" stroke="#222" stroke-width="0.18">3</text>
<text x="301.30" y="314.03" font-size="6.0" fill="#222" stroke="#222" stroke-width="0.18">2</text>
<text x="301.30" y="322.66" font-size="6.0" fill="#222" stroke="#222" stroke-width="0.18">1</text>
<text x="301.30" y="331.29" font-size="6.0" fill="#222" stroke="#222" stroke-width="0.18">0</text>
<text x="301.30" y="339.92" font-size="6.0" fill="#222" stroke="#222" stroke-width="0.18">−1</text>
<text x="301.30" y="348.55" font-size="6.0" fill="#222" stroke="#222" stroke-width="0.18">−2</text>
<text x="301.30" y="357.18" font-size="6.0" fill="#222" stroke="#222" stroke-width="0.18">−3</text>
<text x="301.30" y="365.81" font-size="6.0" fill="#222" stroke="#222" stroke-width="0.18">−4</text>
<text x="1.80" y="526.00" font-size="10.5" font-weight="bold" fill="#000" stroke="#000" stroke-width="0.06">G</text>
<line x1="49.45" y1="517.00" x2="49.45" y2="693.30" stroke="#ebebeb" stroke-width="0.6"/>
<line x1="80.66" y1="517.00" x2="80.66" y2="693.30" stroke="#ebebeb" stroke-width="0.6"/>
<line x1="111.88" y1="517.00" x2="111.88" y2="693.30" stroke="#ebebeb" stroke-width="0.6"/>
<line x1="143.09" y1="517.00" x2="143.09" y2="693.30" stroke="#ebebeb" stroke-width="0.6"/>
<line x1="174.30" y1="517.00" x2="174.30" y2="693.30" stroke="#ebebeb" stroke-width="0.6"/>
<line x1="205.51" y1="517.00" x2="205.51" y2="693.30" stroke="#ebebeb" stroke-width="0.6"/>
<line x1="236.73" y1="517.00" x2="236.73" y2="693.30" stroke="#ebebeb" stroke-width="0.6"/>
<line x1="45.40" y1="525.10" x2="253.60" y2="525.10" stroke="#ebebeb" stroke-width="0.6"/>
<line x1="45.40" y1="544.45" x2="253.60" y2="544.45" stroke="#ebebeb" stroke-width="0.6"/>
<line x1="45.40" y1="563.80" x2="253.60" y2="563.80" stroke="#ebebeb" stroke-width="0.6"/>
<line x1="45.40" y1="583.15" x2="253.60" y2="583.15" stroke="#ebebeb" stroke-width="0.6"/>
<line x1="45.40" y1="602.50" x2="253.60" y2="602.50" stroke="#ebebeb" stroke-width="0.6"/>
<line x1="45.40" y1="621.85" x2="253.60" y2="621.85" stroke="#ebebeb" stroke-width="0.6"/>
<line x1="45.40" y1="641.20" x2="253.60" y2="641.20" stroke="#ebebeb" stroke-width="0.6"/>
<line x1="45.40" y1="660.55" x2="253.60" y2="660.55" stroke="#ebebeb" stroke-width="0.6"/>
<line x1="45.40" y1="679.90" x2="253.60" y2="679.90" stroke="#ebebeb" stroke-width="0.6"/>
<text x="42.30" y="527.50" font-size="6.9" text-anchor="end" fill="#4d4d4d" stroke="#4d4d4d" stroke-width="0.18">60</text>
<text x="42.30" y="566.20" font-size="6.9" text-anchor="end" fill="#4d4d4d" stroke="#4d4d4d" stroke-width="0.18">40</text>
<text x="42.30" y="604.90" font-size="6.9" text-anchor="end" fill="#4d4d4d" stroke="#4d4d4d" stroke-width="0.18">20</text>
<text x="42.30" y="643.60" font-size="6.9" text-anchor="end" fill="#4d4d4d" stroke="#4d4d4d" stroke-width="0.18">0</text>
<text x="42.30" y="682.30" font-size="6.9" text-anchor="end" fill="#4d4d4d" stroke="#4d4d4d" stroke-width="0.18">−20</text>
<text x="49.45" y="701.20" font-size="6.9" text-anchor="middle" fill="#4d4d4d" stroke="#4d4d4d" stroke-width="0.18">−50</text>
<text x="111.88" y="701.20" font-size="6.9" text-anchor="middle" fill="#4d4d4d" stroke="#4d4d4d" stroke-width="0.18">−25</text>
<text x="174.30" y="701.20" font-size="6.9" text-anchor="middle" fill="#4d4d4d" stroke="#4d4d4d" stroke-width="0.18">0</text>
<text x="236.73" y="701.20" font-size="6.9" text-anchor="middle" fill="#4d4d4d" stroke="#4d4d4d" stroke-width="0.18">25</text>
<text x="149.50" y="709.00" font-size="6.9" text-anchor="middle" fill="#111" stroke="#111" stroke-width="0.18">PC1 (22.1% variance)</text>
<text x="30.60" y="605.20" font-size="6.9" text-anchor="middle" fill="#111" transform="rotate(-90 30.60 605.20)" stroke="#111" stroke-width="0.18">PC2 (10.9% variance)</text>
<ellipse cx="114.4" cy="550.8" rx="15.8" ry="27" transform="rotate(-21 114.4 550.8)" fill="none" stroke="#b5823c" stroke-width="1.0" stroke-dasharray="3.2 2"/>
<ellipse cx="60.5" cy="675" rx="2.8" ry="12.5" transform="rotate(28 60.5 675)" fill="none" stroke="#d9a45a" stroke-width="0.8" stroke-dasharray="2.4 1.6"/>
<ellipse cx="96" cy="673.8" rx="12" ry="1.5" transform="rotate(-6 96 673.8)" fill="none" stroke="#b5712a" stroke-width="0.8" stroke-dasharray="2.4 1.6"/>
<ellipse cx="209.8" cy="645.6" rx="9.8" ry="8.6" fill="none" stroke="#e8d3a4" stroke-width="0.8" stroke-dasharray="2.4 1.6"/>
<circle cx="106.20" cy="533.30" r="1.55" fill="#a8732f" stroke="#3a2a10" stroke-width="0.45"/>
<circle cx="106.20" cy="554.70" r="1.55" fill="#a8732f" stroke="#3a2a10" stroke-width="0.45"/>
<circle cx="124.80" cy="548.90" r="1.55" fill="#a8732f" stroke="#3a2a10" stroke-width="0.45"/>
<circle cx="119.50" cy="567.50" r="1.55" fill="#a8732f" stroke="#3a2a10" stroke-width="0.45"/>
<circle cx="90.10" cy="674.70" r="1.55" fill="#7d4a10" stroke="#3a2a10" stroke-width="0.45"/>
<circle cx="93.20" cy="674.00" r="1.55" fill="#7d4a10" stroke="#3a2a10" stroke-width="0.45"/>
<circle cx="95.30" cy="675.00" r="1.55" fill="#7d4a10" stroke="#3a2a10" stroke-width="0.45"/>
<circle cx="104.10" cy="672.80" r="1.55" fill="#7d4a10" stroke="#3a2a10" stroke-width="0.45"/>
<circle cx="56.40" cy="682.40" r="1.55" fill="#d8c8a0" stroke="#3a2a10" stroke-width="0.45"/>
<circle cx="60.60" cy="675.90" r="1.55" fill="#d8c8a0" stroke="#3a2a10" stroke-width="0.45"/>
<circle cx="59.90" cy="672.40" r="1.55" fill="#d8c8a0" stroke="#3a2a10" stroke-width="0.45"/>
<circle cx="64.70" cy="668.60" r="1.55" fill="#d8c8a0" stroke="#3a2a10" stroke-width="0.45"/>
<circle cx="212.90" cy="637.50" r="1.55" fill="#efe2bf" stroke="#3a2a10" stroke-width="0.45"/>
<circle cx="203.70" cy="648.60" r="1.55" fill="#efe2bf" stroke="#3a2a10" stroke-width="0.45"/>
<circle cx="207.70" cy="648.60" r="1.55" fill="#efe2bf" stroke="#3a2a10" stroke-width="0.45"/>
<circle cx="220.30" cy="642.80" r="1.55" fill="#efe2bf" stroke="#3a2a10" stroke-width="0.45"/>
<circle cx="221.72" cy="648.26" r="1.55" fill="#d2ebe3" stroke="#3a2a10" stroke-width="0.45"/>
<circle cx="226.19" cy="644.79" r="1.55" fill="#d2ebe3" stroke="#3a2a10" stroke-width="0.45"/>
<circle cx="223.36" cy="648.01" r="1.55" fill="#d2ebe3" stroke="#3a2a10" stroke-width="0.45"/>
<circle cx="219.52" cy="649.03" r="1.55" fill="#d2ebe3" stroke="#3a2a10" stroke-width="0.45"/>
<circle cx="226.21" cy="645.34" r="1.55" fill="#d2ebe3" stroke="#3a2a10" stroke-width="0.45"/>
<circle cx="214.58" cy="649.02" r="1.55" fill="#d2ebe3" stroke="#3a2a10" stroke-width="0.45"/>
<circle cx="224.51" cy="647.39" r="1.55" fill="#8fcfc1" stroke="#3a2a10" stroke-width="0.45"/>
<circle cx="226.18" cy="648.13" r="1.55" fill="#8fcfc1" stroke="#3a2a10" stroke-width="0.45"/>
<circle cx="217.21" cy="650.17" r="1.55" fill="#8fcfc1" stroke="#3a2a10" stroke-width="0.45"/>
<circle cx="231.66" cy="645.65" r="1.55" fill="#8fcfc1" stroke="#3a2a10" stroke-width="0.45"/>
<circle cx="229.25" cy="646.71" r="1.55" fill="#8fcfc1" stroke="#3a2a10" stroke-width="0.45"/>
<circle cx="219.22" cy="650.92" r="1.55" fill="#8fcfc1" stroke="#3a2a10" stroke-width="0.45"/>
<circle cx="232.88" cy="644.39" r="1.55" fill="#3f9a8f" stroke="#3a2a10" stroke-width="0.45"/>
<circle cx="236.94" cy="642.93" r="1.55" fill="#3f9a8f" stroke="#3a2a10" stroke-width="0.45"/>
<circle cx="226.35" cy="647.37" r="1.55" fill="#3f9a8f" stroke="#3a2a10" stroke-width="0.45"/>
<circle cx="236.96" cy="645.93" r="1.55" fill="#3f9a8f" stroke="#3a2a10" stroke-width="0.45"/>
<circle cx="227.63" cy="647.56" r="1.55" fill="#3f9a8f" stroke="#3a2a10" stroke-width="0.45"/>
<circle cx="233.85" cy="643.67" r="1.55" fill="#3f9a8f" stroke="#3a2a10" stroke-width="0.45"/>
<circle cx="232.87" cy="645.92" r="1.55" fill="#0f665d" stroke="#3a2a10" stroke-width="0.45"/>
<circle cx="243.53" cy="639.90" r="1.55" fill="#0f665d" stroke="#3a2a10" stroke-width="0.45"/>
<circle cx="242.51" cy="640.56" r="1.55" fill="#0f665d" stroke="#3a2a10" stroke-width="0.45"/>
<circle cx="232.32" cy="645.54" r="1.55" fill="#0f665d" stroke="#3a2a10" stroke-width="0.45"/>
<circle cx="232.04" cy="645.50" r="1.55" fill="#0f665d" stroke="#3a2a10" stroke-width="0.45"/>
<circle cx="238.44" cy="642.71" r="1.55" fill="#0f665d" stroke="#3a2a10" stroke-width="0.45"/>
<circle cx="264.1" cy="566.70" r="1.6" fill="#8C510A" stroke="#3a2a10" stroke-width="0.4"/>
<text x="268.10" y="569.10" font-size="6.9" fill="#222" stroke="#222" stroke-width="0.18">glucose</text>
<circle cx="264.1" cy="577.34" r="1.6" fill="#A8732F" stroke="#3a2a10" stroke-width="0.4"/>
<text x="268.10" y="579.74" font-size="6.9" fill="#222" stroke="#222" stroke-width="0.18">10 min</text>
<circle cx="264.1" cy="587.98" r="1.6" fill="#CFAE78" stroke="#3a2a10" stroke-width="0.4"/>
<text x="268.10" y="590.38" font-size="6.9" fill="#222" stroke="#222" stroke-width="0.18">3 hrs</text>
<circle cx="264.1" cy="598.62" r="1.6" fill="#EEE0BA" stroke="#3a2a10" stroke-width="0.4"/>
<text x="268.10" y="601.02" font-size="6.9" fill="#222" stroke="#222" stroke-width="0.18">24 hrs</text>
<circle cx="264.1" cy="609.26" r="1.6" fill="#D5EDE4" stroke="#3a2a10" stroke-width="0.4"/>
<text x="268.10" y="611.66" font-size="6.9" fill="#222" stroke="#222" stroke-width="0.18">day 2</text>
<circle cx="264.1" cy="619.90" r="1.6" fill="#89C8BA" stroke="#3a2a10" stroke-width="0.4"/>
<text x="268.10" y="622.30" font-size="6.9" fill="#222" stroke="#222" stroke-width="0.18">day 3</text>
<circle cx="264.1" cy="630.54" r="1.6" fill="#3A9187" stroke="#3a2a10" stroke-width="0.4"/>
<text x="268.10" y="632.94" font-size="6.9" fill="#222" stroke="#222" stroke-width="0.18">day 5</text>
<circle cx="264.1" cy="641.18" r="1.6" fill="#0E5F57" stroke="#3a2a10" stroke-width="0.4"/>
<text x="268.10" y="643.58" font-size="6.9" fill="#222" stroke="#222" stroke-width="0.18">day 7</text>
<text x="329.60" y="277.80" font-size="10.5" font-weight="bold" fill="#000" stroke="#000" stroke-width="0.06">H</text>
<line x1="357.40" y1="284.10" x2="357.40" y2="343.50" stroke="#d6d6d6" stroke-width="0.6"/>
<line x1="365.90" y1="284.10" x2="365.90" y2="343.50" stroke="#d6d6d6" stroke-width="0.6"/>
<line x1="374.40" y1="284.10" x2="374.40" y2="343.50" stroke="#d6d6d6" stroke-width="0.6"/>
<line x1="382.90" y1="284.10" x2="382.90" y2="343.50" stroke="#d6d6d6" stroke-width="0.6"/>
<line x1="391.40" y1="284.10" x2="391.40" y2="343.50" stroke="#d6d6d6" stroke-width="0.6"/>
<line x1="399.90" y1="284.10" x2="399.90" y2="343.50" stroke="#d6d6d6" stroke-width="0.6"/>
<line x1="408.40" y1="284.10" x2="408.40" y2="343.50" stroke="#d6d6d6" stroke-width="0.6"/>
<line x1="348.90" y1="331.62" x2="408.40" y2="331.62" stroke="#d6d6d6" stroke-width="0.6"/>
<line x1="348.90" y1="319.74" x2="408.40" y2="319.74" stroke="#d6d6d6" stroke-width="0.6"/>
<line x1="348.90" y1="307.86" x2="408.40" y2="307.86" stroke="#d6d6d6" stroke-width="0.6"/>
<line x1="348.90" y1="295.98" x2="408.40" y2="295.98" stroke="#d6d6d6" stroke-width="0.6"/>
<line x1="348.90" y1="284.10" x2="408.40" y2="284.10" stroke="#d6d6d6" stroke-width="0.6"/>
<line x1="348.90" y1="283.80" x2="348.90" y2="343.80" stroke="#8a8a8a" stroke-width="0.7"/>
<line x1="348.90" y1="343.50" x2="408.40" y2="343.50" stroke="#8a8a8a" stroke-width="0.7"/>
<line x1="346.90" y1="343.50" x2="348.90" y2="343.50" stroke="#8a8a8a" stroke-width="0.7"/>
<text x="346.30" y="345.70" font-size="6.4" text-anchor="end" fill="#333" stroke="#333" stroke-width="0.18">7</text>
<line x1="346.90" y1="331.62" x2="348.90" y2="331.62" stroke="#8a8a8a" stroke-width="0.7"/>
<text x="346.30" y="333.82" font-size="6.4" text-anchor="end" fill="#333" stroke="#333" stroke-width="0.18">8</text>
<line x1="346.90" y1="319.74" x2="348.90" y2="319.74" stroke="#8a8a8a" stroke-width="0.7"/>
<text x="346.30" y="321.94" font-size="6.4" text-anchor="end" fill="#333" stroke="#333" stroke-width="0.18">9</text>
<line x1="346.90" y1="307.86" x2="348.90" y2="307.86" stroke="#8a8a8a" stroke-width="0.7"/>
<text x="346.30" y="310.06" font-size="6.4" text-anchor="end" fill="#333" stroke="#333" stroke-width="0.18">10</text>
<line x1="346.90" y1="295.98" x2="348.90" y2="295.98" stroke="#8a8a8a" stroke-width="0.7"/>
<text x="346.30" y="298.18" font-size="6.4" text-anchor="end" fill="#333" stroke="#333" stroke-width="0.18">11</text>
<line x1="346.90" y1="284.10" x2="348.90" y2="284.10" stroke="#8a8a8a" stroke-width="0.7"/>
<text x="346.30" y="286.30" font-size="6.4" text-anchor="end" fill="#333" stroke="#333" stroke-width="0.18">12</text>
<line x1="348.90" y1="343.50" x2="348.90" y2="345.50" stroke="#8a8a8a" stroke-width="0.7"/>
<line x1="357.40" y1="343.50" x2="357.40" y2="345.50" stroke="#8a8a8a" stroke-width="0.7"/>
<line x1="365.90" y1="343.50" x2="365.90" y2="345.50" stroke="#8a8a8a" stroke-width="0.7"/>
<line x1="374.40" y1="343.50" x2="374.40" y2="345.50" stroke="#8a8a8a" stroke-width="0.7"/>
<line x1="382.90" y1="343.50" x2="382.90" y2="345.50" stroke="#8a8a8a" stroke-width="0.7"/>
<line x1="391.40" y1="343.50" x2="391.40" y2="345.50" stroke="#8a8a8a" stroke-width="0.7"/>
<line x1="399.90" y1="343.50" x2="399.90" y2="345.50" stroke="#8a8a8a" stroke-width="0.7"/>
<line x1="408.40" y1="343.50" x2="408.40" y2="345.50" stroke="#8a8a8a" stroke-width="0.7"/>
<line x1="348.90" y1="306.67" x2="348.90" y2="327.46" stroke="#A35DB6" stroke-width="0.8"/>
<line x1="347.30" y1="306.67" x2="350.50" y2="306.67" stroke="#A35DB6" stroke-width="0.8"/>
<line x1="347.30" y1="327.46" x2="350.50" y2="327.46" stroke="#A35DB6" stroke-width="0.8"/>
<line x1="357.40" y1="322.71" x2="357.40" y2="341.12" stroke="#A35DB6" stroke-width="0.8"/>
<line x1="355.80" y1="322.71" x2="359.00" y2="322.71" stroke="#A35DB6" stroke-width="0.8"/>
<line x1="355.80" y1="341.12" x2="359.00" y2="341.12" stroke="#A35DB6" stroke-width="0.8"/>
<line x1="365.90" y1="317.36" x2="365.90" y2="340.53" stroke="#A35DB6" stroke-width="0.8"/>
<line x1="364.30" y1="317.36" x2="367.50" y2="317.36" stroke="#A35DB6" stroke-width="0.8"/>
<line x1="364.30" y1="340.53" x2="367.50" y2="340.53" stroke="#A35DB6" stroke-width="0.8"/>
<line x1="374.40" y1="315.58" x2="374.40" y2="335.78" stroke="#A35DB6" stroke-width="0.8"/>
<line x1="372.80" y1="315.58" x2="376.00" y2="315.58" stroke="#A35DB6" stroke-width="0.8"/>
<line x1="372.80" y1="335.78" x2="376.00" y2="335.78" stroke="#A35DB6" stroke-width="0.8"/>
<line x1="382.90" y1="314.39" x2="382.90" y2="335.18" stroke="#A35DB6" stroke-width="0.8"/>
<line x1="381.30" y1="314.39" x2="384.50" y2="314.39" stroke="#A35DB6" stroke-width="0.8"/>
<line x1="381.30" y1="335.18" x2="384.50" y2="335.18" stroke="#A35DB6" stroke-width="0.8"/>
<line x1="391.40" y1="313.80" x2="391.40" y2="334.00" stroke="#A35DB6" stroke-width="0.8"/>
<line x1="389.80" y1="313.80" x2="393.00" y2="313.80" stroke="#A35DB6" stroke-width="0.8"/>
<line x1="389.80" y1="334.00" x2="393.00" y2="334.00" stroke="#A35DB6" stroke-width="0.8"/>
<line x1="399.90" y1="313.80" x2="399.90" y2="334.00" stroke="#A35DB6" stroke-width="0.8"/>
<line x1="398.30" y1="313.80" x2="401.50" y2="313.80" stroke="#A35DB6" stroke-width="0.8"/>
<line x1="398.30" y1="334.00" x2="401.50" y2="334.00" stroke="#A35DB6" stroke-width="0.8"/>
<line x1="408.40" y1="313.80" x2="408.40" y2="334.59" stroke="#A35DB6" stroke-width="0.8"/>
<line x1="406.80" y1="313.80" x2="410.00" y2="313.80" stroke="#A35DB6" stroke-width="0.8"/>
<line x1="406.80" y1="334.59" x2="410.00" y2="334.59" stroke="#A35DB6" stroke-width="0.8"/>
<polyline points="348.90,317.36 357.40,332.21 365.90,328.65 374.40,325.68 382.90,325.09 391.40,323.90 399.90,323.66 408.40,324.25" fill="none" stroke="#A35DB6" stroke-width="0.9"/>
<circle cx="348.90" cy="317.36" r="1.75" fill="#A35DB6"/>
<circle cx="357.40" cy="332.21" r="1.75" fill="#A35DB6"/>
<circle cx="365.90" cy="328.65" r="1.75" fill="#A35DB6"/>
<circle cx="374.40" cy="325.68" r="1.75" fill="#A35DB6"/>
<circle cx="382.90" cy="325.09" r="1.75" fill="#A35DB6"/>
<circle cx="391.40" cy="323.90" r="1.75" fill="#A35DB6"/>
<circle cx="399.90" cy="323.66" r="1.75" fill="#A35DB6"/>
<circle cx="408.40" cy="324.25" r="1.75" fill="#A35DB6"/>
<text x="408.60" y="291.00" font-size="7.6" text-anchor="end" font-weight="bold" fill="#A35DB6" stroke="#A35DB6" stroke-width="0.12">Cluster 1</text>
<line x1="357.40" y1="355.80" x2="357.40" y2="415.20" stroke="#d6d6d6" stroke-width="0.6"/>
<line x1="365.90" y1="355.80" x2="365.90" y2="415.20" stroke="#d6d6d6" stroke-width="0.6"/>
<line x1="374.40" y1="355.80" x2="374.40" y2="415.20" stroke="#d6d6d6" stroke-width="0.6"/>
<line x1="382.90" y1="355.80" x2="382.90" y2="415.20" stroke="#d6d6d6" stroke-width="0.6"/>
<line x1="391.40" y1="355.80" x2="391.40" y2="415.20" stroke="#d6d6d6" stroke-width="0.6"/>
<line x1="399.90" y1="355.80" x2="399.90" y2="415.20" stroke="#d6d6d6" stroke-width="0.6"/>
<line x1="408.40" y1="355.80" x2="408.40" y2="415.20" stroke="#d6d6d6" stroke-width="0.6"/>
<line x1="348.90" y1="403.32" x2="408.40" y2="403.32" stroke="#d6d6d6" stroke-width="0.6"/>
<line x1="348.90" y1="391.44" x2="408.40" y2="391.44" stroke="#d6d6d6" stroke-width="0.6"/>
<line x1="348.90" y1="379.56" x2="408.40" y2="379.56" stroke="#d6d6d6" stroke-width="0.6"/>
<line x1="348.90" y1="367.68" x2="408.40" y2="367.68" stroke="#d6d6d6" stroke-width="0.6"/>
<line x1="348.90" y1="355.80" x2="408.40" y2="355.80" stroke="#d6d6d6" stroke-width="0.6"/>
<line x1="348.90" y1="355.50" x2="348.90" y2="415.50" stroke="#8a8a8a" stroke-width="0.7"/>
<line x1="348.90" y1="415.20" x2="408.40" y2="415.20" stroke="#8a8a8a" stroke-width="0.7"/>
<line x1="346.90" y1="415.20" x2="348.90" y2="415.20" stroke="#8a8a8a" stroke-width="0.7"/>
<text x="346.30" y="417.40" font-size="6.4" text-anchor="end" fill="#333" stroke="#333" stroke-width="0.18">7</text>
<line x1="346.90" y1="403.32" x2="348.90" y2="403.32" stroke="#8a8a8a" stroke-width="0.7"/>
<text x="346.30" y="405.52" font-size="6.4" text-anchor="end" fill="#333" stroke="#333" stroke-width="0.18">8</text>
<line x1="346.90" y1="391.44" x2="348.90" y2="391.44" stroke="#8a8a8a" stroke-width="0.7"/>
<text x="346.30" y="393.64" font-size="6.4" text-anchor="end" fill="#333" stroke="#333" stroke-width="0.18">9</text>
<line x1="346.90" y1="379.56" x2="348.90" y2="379.56" stroke="#8a8a8a" stroke-width="0.7"/>
<text x="346.30" y="381.76" font-size="6.4" text-anchor="end" fill="#333" stroke="#333" stroke-width="0.18">10</text>
<line x1="346.90" y1="367.68" x2="348.90" y2="367.68" stroke="#8a8a8a" stroke-width="0.7"/>
<text x="346.30" y="369.88" font-size="6.4" text-anchor="end" fill="#333" stroke="#333" stroke-width="0.18">11</text>
<line x1="346.90" y1="355.80" x2="348.90" y2="355.80" stroke="#8a8a8a" stroke-width="0.7"/>
<text x="346.30" y="358.00" font-size="6.4" text-anchor="end" fill="#333" stroke="#333" stroke-width="0.18">12</text>
<line x1="348.90" y1="415.20" x2="348.90" y2="417.20" stroke="#8a8a8a" stroke-width="0.7"/>
<line x1="357.40" y1="415.20" x2="357.40" y2="417.20" stroke="#8a8a8a" stroke-width="0.7"/>
<line x1="365.90" y1="415.20" x2="365.90" y2="417.20" stroke="#8a8a8a" stroke-width="0.7"/>
<line x1="374.40" y1="415.20" x2="374.40" y2="417.20" stroke="#8a8a8a" stroke-width="0.7"/>
<line x1="382.90" y1="415.20" x2="382.90" y2="417.20" stroke="#8a8a8a" stroke-width="0.7"/>
<line x1="391.40" y1="415.20" x2="391.40" y2="417.20" stroke="#8a8a8a" stroke-width="0.7"/>
<line x1="399.90" y1="415.20" x2="399.90" y2="417.20" stroke="#8a8a8a" stroke-width="0.7"/>
<line x1="408.40" y1="415.20" x2="408.40" y2="417.20" stroke="#8a8a8a" stroke-width="0.7"/>
<line x1="348.90" y1="361.74" x2="348.90" y2="392.03" stroke="#F7941D" stroke-width="0.8"/>
<line x1="347.30" y1="361.74" x2="350.50" y2="361.74" stroke="#F7941D" stroke-width="0.8"/>
<line x1="347.30" y1="392.03" x2="350.50" y2="392.03" stroke="#F7941D" stroke-width="0.8"/>
<line x1="357.40" y1="376.59" x2="357.40" y2="405.10" stroke="#F7941D" stroke-width="0.8"/>
<line x1="355.80" y1="376.59" x2="359.00" y2="376.59" stroke="#F7941D" stroke-width="0.8"/>
<line x1="355.80" y1="405.10" x2="359.00" y2="405.10" stroke="#F7941D" stroke-width="0.8"/>
<line x1="365.90" y1="366.49" x2="365.90" y2="399.16" stroke="#F7941D" stroke-width="0.8"/>
<line x1="364.30" y1="366.49" x2="367.50" y2="366.49" stroke="#F7941D" stroke-width="0.8"/>
<line x1="364.30" y1="399.16" x2="367.50" y2="399.16" stroke="#F7941D" stroke-width="0.8"/>
<line x1="374.40" y1="381.34" x2="374.40" y2="405.10" stroke="#F7941D" stroke-width="0.8"/>
<line x1="372.80" y1="381.34" x2="376.00" y2="381.34" stroke="#F7941D" stroke-width="0.8"/>
<line x1="372.80" y1="405.10" x2="376.00" y2="405.10" stroke="#F7941D" stroke-width="0.8"/>
<line x1="382.90" y1="383.12" x2="382.90" y2="405.70" stroke="#F7941D" stroke-width="0.8"/>
<line x1="381.30" y1="383.12" x2="384.50" y2="383.12" stroke="#F7941D" stroke-width="0.8"/>
<line x1="381.30" y1="405.70" x2="384.50" y2="405.70" stroke="#F7941D" stroke-width="0.8"/>
<line x1="391.40" y1="382.53" x2="391.40" y2="405.10" stroke="#F7941D" stroke-width="0.8"/>
<line x1="389.80" y1="382.53" x2="393.00" y2="382.53" stroke="#F7941D" stroke-width="0.8"/>
<line x1="389.80" y1="405.10" x2="393.00" y2="405.10" stroke="#F7941D" stroke-width="0.8"/>
<line x1="399.90" y1="382.53" x2="399.90" y2="405.10" stroke="#F7941D" stroke-width="0.8"/>
<line x1="398.30" y1="382.53" x2="401.50" y2="382.53" stroke="#F7941D" stroke-width="0.8"/>
<line x1="398.30" y1="405.10" x2="401.50" y2="405.10" stroke="#F7941D" stroke-width="0.8"/>
<line x1="408.40" y1="385.50" x2="408.40" y2="406.88" stroke="#F7941D" stroke-width="0.8"/>
<line x1="406.80" y1="385.50" x2="410.00" y2="385.50" stroke="#F7941D" stroke-width="0.8"/>
<line x1="406.80" y1="406.88" x2="410.00" y2="406.88" stroke="#F7941D" stroke-width="0.8"/>
<polyline points="348.90,377.18 357.40,390.85 365.90,383.12 374.40,393.22 382.90,394.41 391.40,393.82 399.90,393.82 408.40,396.19" fill="none" stroke="#F7941D" stroke-width="0.9"/>
<circle cx="348.90" cy="377.18" r="1.75" fill="#F7941D"/>
<circle cx="357.40" cy="390.85" r="1.75" fill="#F7941D"/>
<circle cx="365.90" cy="383.12" r="1.75" fill="#F7941D"/>
<circle cx="374.40" cy="393.22" r="1.75" fill="#F7941D"/>
<circle cx="382.90" cy="394.41" r="1.75" fill="#F7941D"/>
<circle cx="391.40" cy="393.82" r="1.75" fill="#F7941D"/>
<circle cx="399.90" cy="393.82" r="1.75" fill="#F7941D"/>
<circle cx="408.40" cy="396.19" r="1.75" fill="#F7941D"/>
<text x="408.60" y="362.70" font-size="7.6" text-anchor="end" font-weight="bold" fill="#F7941D" stroke="#F7941D" stroke-width="0.12">Cluster 2</text>
<line x1="357.40" y1="427.20" x2="357.40" y2="486.60" stroke="#d6d6d6" stroke-width="0.6"/>
<line x1="365.90" y1="427.20" x2="365.90" y2="486.60" stroke="#d6d6d6" stroke-width="0.6"/>
<line x1="374.40" y1="427.20" x2="374.40" y2="486.60" stroke="#d6d6d6" stroke-width="0.6"/>
<line x1="382.90" y1="427.20" x2="382.90" y2="486.60" stroke="#d6d6d6" stroke-width="0.6"/>
<line x1="391.40" y1="427.20" x2="391.40" y2="486.60" stroke="#d6d6d6" stroke-width="0.6"/>
<line x1="399.90" y1="427.20" x2="399.90" y2="486.60" stroke="#d6d6d6" stroke-width="0.6"/>
<line x1="408.40" y1="427.20" x2="408.40" y2="486.60" stroke="#d6d6d6" stroke-width="0.6"/>
<line x1="348.90" y1="474.72" x2="408.40" y2="474.72" stroke="#d6d6d6" stroke-width="0.6"/>
<line x1="348.90" y1="462.84" x2="408.40" y2="462.84" stroke="#d6d6d6" stroke-width="0.6"/>
<line x1="348.90" y1="450.96" x2="408.40" y2="450.96" stroke="#d6d6d6" stroke-width="0.6"/>
<line x1="348.90" y1="439.08" x2="408.40" y2="439.08" stroke="#d6d6d6" stroke-width="0.6"/>
<line x1="348.90" y1="427.20" x2="408.40" y2="427.20" stroke="#d6d6d6" stroke-width="0.6"/>
<line x1="348.90" y1="426.90" x2="348.90" y2="486.90" stroke="#8a8a8a" stroke-width="0.7"/>
<line x1="348.90" y1="486.60" x2="408.40" y2="486.60" stroke="#8a8a8a" stroke-width="0.7"/>
<line x1="346.90" y1="486.60" x2="348.90" y2="486.60" stroke="#8a8a8a" stroke-width="0.7"/>
<text x="346.30" y="488.80" font-size="6.4" text-anchor="end" fill="#333" stroke="#333" stroke-width="0.18">7</text>
<line x1="346.90" y1="474.72" x2="348.90" y2="474.72" stroke="#8a8a8a" stroke-width="0.7"/>
<text x="346.30" y="476.92" font-size="6.4" text-anchor="end" fill="#333" stroke="#333" stroke-width="0.18">8</text>
<line x1="346.90" y1="462.84" x2="348.90" y2="462.84" stroke="#8a8a8a" stroke-width="0.7"/>
<text x="346.30" y="465.04" font-size="6.4" text-anchor="end" fill="#333" stroke="#333" stroke-width="0.18">9</text>
<line x1="346.90" y1="450.96" x2="348.90" y2="450.96" stroke="#8a8a8a" stroke-width="0.7"/>
<text x="346.30" y="453.16" font-size="6.4" text-anchor="end" fill="#333" stroke="#333" stroke-width="0.18">10</text>
<line x1="346.90" y1="439.08" x2="348.90" y2="439.08" stroke="#8a8a8a" stroke-width="0.7"/>
<text x="346.30" y="441.28" font-size="6.4" text-anchor="end" fill="#333" stroke="#333" stroke-width="0.18">11</text>
<line x1="346.90" y1="427.20" x2="348.90" y2="427.20" stroke="#8a8a8a" stroke-width="0.7"/>
<text x="346.30" y="429.40" font-size="6.4" text-anchor="end" fill="#333" stroke="#333" stroke-width="0.18">12</text>
<line x1="348.90" y1="486.60" x2="348.90" y2="488.60" stroke="#8a8a8a" stroke-width="0.7"/>
<line x1="357.40" y1="486.60" x2="357.40" y2="488.60" stroke="#8a8a8a" stroke-width="0.7"/>
<line x1="365.90" y1="486.60" x2="365.90" y2="488.60" stroke="#8a8a8a" stroke-width="0.7"/>
<line x1="374.40" y1="486.60" x2="374.40" y2="488.60" stroke="#8a8a8a" stroke-width="0.7"/>
<line x1="382.90" y1="486.60" x2="382.90" y2="488.60" stroke="#8a8a8a" stroke-width="0.7"/>
<line x1="391.40" y1="486.60" x2="391.40" y2="488.60" stroke="#8a8a8a" stroke-width="0.7"/>
<line x1="399.90" y1="486.60" x2="399.90" y2="488.60" stroke="#8a8a8a" stroke-width="0.7"/>
<line x1="408.40" y1="486.60" x2="408.40" y2="488.60" stroke="#8a8a8a" stroke-width="0.7"/>
<line x1="348.90" y1="451.55" x2="348.90" y2="480.66" stroke="#5DB85E" stroke-width="0.8"/>
<line x1="347.30" y1="451.55" x2="350.50" y2="451.55" stroke="#5DB85E" stroke-width="0.8"/>
<line x1="347.30" y1="480.66" x2="350.50" y2="480.66" stroke="#5DB85E" stroke-width="0.8"/>
<line x1="357.40" y1="434.92" x2="357.40" y2="466.40" stroke="#5DB85E" stroke-width="0.8"/>
<line x1="355.80" y1="434.92" x2="359.00" y2="434.92" stroke="#5DB85E" stroke-width="0.8"/>
<line x1="355.80" y1="466.40" x2="359.00" y2="466.40" stroke="#5DB85E" stroke-width="0.8"/>
<line x1="365.90" y1="464.03" x2="365.90" y2="486.60" stroke="#5DB85E" stroke-width="0.8"/>
<line x1="364.30" y1="464.03" x2="367.50" y2="464.03" stroke="#5DB85E" stroke-width="0.8"/>
<line x1="364.30" y1="486.60" x2="367.50" y2="486.60" stroke="#5DB85E" stroke-width="0.8"/>
<line x1="374.40" y1="450.96" x2="374.40" y2="479.47" stroke="#5DB85E" stroke-width="0.8"/>
<line x1="372.80" y1="450.96" x2="376.00" y2="450.96" stroke="#5DB85E" stroke-width="0.8"/>
<line x1="372.80" y1="479.47" x2="376.00" y2="479.47" stroke="#5DB85E" stroke-width="0.8"/>
<line x1="382.90" y1="450.96" x2="382.90" y2="478.88" stroke="#5DB85E" stroke-width="0.8"/>
<line x1="381.30" y1="450.96" x2="384.50" y2="450.96" stroke="#5DB85E" stroke-width="0.8"/>
<line x1="381.30" y1="478.88" x2="384.50" y2="478.88" stroke="#5DB85E" stroke-width="0.8"/>
<line x1="391.40" y1="453.34" x2="391.40" y2="478.88" stroke="#5DB85E" stroke-width="0.8"/>
<line x1="389.80" y1="453.34" x2="393.00" y2="453.34" stroke="#5DB85E" stroke-width="0.8"/>
<line x1="389.80" y1="478.88" x2="393.00" y2="478.88" stroke="#5DB85E" stroke-width="0.8"/>
<line x1="399.90" y1="454.52" x2="399.90" y2="478.28" stroke="#5DB85E" stroke-width="0.8"/>
<line x1="398.30" y1="454.52" x2="401.50" y2="454.52" stroke="#5DB85E" stroke-width="0.8"/>
<line x1="398.30" y1="478.28" x2="401.50" y2="478.28" stroke="#5DB85E" stroke-width="0.8"/>
<line x1="408.40" y1="454.52" x2="408.40" y2="478.28" stroke="#5DB85E" stroke-width="0.8"/>
<line x1="406.80" y1="454.52" x2="410.00" y2="454.52" stroke="#5DB85E" stroke-width="0.8"/>
<line x1="406.80" y1="478.28" x2="410.00" y2="478.28" stroke="#5DB85E" stroke-width="0.8"/>
<polyline points="348.90,466.40 357.40,450.96 365.90,475.91 374.40,465.81 382.90,464.62 391.40,466.40 399.90,466.64 408.40,466.64" fill="none" stroke="#5DB85E" stroke-width="0.9"/>
<circle cx="348.90" cy="466.40" r="1.75" fill="#5DB85E"/>
<circle cx="357.40" cy="450.96" r="1.75" fill="#5DB85E"/>
<circle cx="365.90" cy="475.91" r="1.75" fill="#5DB85E"/>
<circle cx="374.40" cy="465.81" r="1.75" fill="#5DB85E"/>
<circle cx="382.90" cy="464.62" r="1.75" fill="#5DB85E"/>
<circle cx="391.40" cy="466.40" r="1.75" fill="#5DB85E"/>
<circle cx="399.90" cy="466.64" r="1.75" fill="#5DB85E"/>
<circle cx="408.40" cy="466.64" r="1.75" fill="#5DB85E"/>
<text x="408.60" y="434.10" font-size="7.6" text-anchor="end" font-weight="bold" fill="#5DB85E" stroke="#5DB85E" stroke-width="0.12">Cluster 3</text>
<line x1="357.40" y1="499.20" x2="357.40" y2="558.60" stroke="#d6d6d6" stroke-width="0.6"/>
<line x1="365.90" y1="499.20" x2="365.90" y2="558.60" stroke="#d6d6d6" stroke-width="0.6"/>
<line x1="374.40" y1="499.20" x2="374.40" y2="558.60" stroke="#d6d6d6" stroke-width="0.6"/>
<line x1="382.90" y1="499.20" x2="382.90" y2="558.60" stroke="#d6d6d6" stroke-width="0.6"/>
<line x1="391.40" y1="499.20" x2="391.40" y2="558.60" stroke="#d6d6d6" stroke-width="0.6"/>
<line x1="399.90" y1="499.20" x2="399.90" y2="558.60" stroke="#d6d6d6" stroke-width="0.6"/>
<line x1="408.40" y1="499.20" x2="408.40" y2="558.60" stroke="#d6d6d6" stroke-width="0.6"/>
<line x1="348.90" y1="546.72" x2="408.40" y2="546.72" stroke="#d6d6d6" stroke-width="0.6"/>
<line x1="348.90" y1="534.84" x2="408.40" y2="534.84" stroke="#d6d6d6" stroke-width="0.6"/>
<line x1="348.90" y1="522.96" x2="408.40" y2="522.96" stroke="#d6d6d6" stroke-width="0.6"/>
<line x1="348.90" y1="511.08" x2="408.40" y2="511.08" stroke="#d6d6d6" stroke-width="0.6"/>
<line x1="348.90" y1="499.20" x2="408.40" y2="499.20" stroke="#d6d6d6" stroke-width="0.6"/>
<line x1="348.90" y1="498.90" x2="348.90" y2="558.90" stroke="#8a8a8a" stroke-width="0.7"/>
<line x1="348.90" y1="558.60" x2="408.40" y2="558.60" stroke="#8a8a8a" stroke-width="0.7"/>
<line x1="346.90" y1="558.60" x2="348.90" y2="558.60" stroke="#8a8a8a" stroke-width="0.7"/>
<text x="346.30" y="560.80" font-size="6.4" text-anchor="end" fill="#333" stroke="#333" stroke-width="0.18">7</text>
<line x1="346.90" y1="546.72" x2="348.90" y2="546.72" stroke="#8a8a8a" stroke-width="0.7"/>
<text x="346.30" y="548.92" font-size="6.4" text-anchor="end" fill="#333" stroke="#333" stroke-width="0.18">8</text>
<line x1="346.90" y1="534.84" x2="348.90" y2="534.84" stroke="#8a8a8a" stroke-width="0.7"/>
<text x="346.30" y="537.04" font-size="6.4" text-anchor="end" fill="#333" stroke="#333" stroke-width="0.18">9</text>
<line x1="346.90" y1="522.96" x2="348.90" y2="522.96" stroke="#8a8a8a" stroke-width="0.7"/>
<text x="346.30" y="525.16" font-size="6.4" text-anchor="end" fill="#333" stroke="#333" stroke-width="0.18">10</text>
<line x1="346.90" y1="511.08" x2="348.90" y2="511.08" stroke="#8a8a8a" stroke-width="0.7"/>
<text x="346.30" y="513.28" font-size="6.4" text-anchor="end" fill="#333" stroke="#333" stroke-width="0.18">11</text>
<line x1="346.90" y1="499.20" x2="348.90" y2="499.20" stroke="#8a8a8a" stroke-width="0.7"/>
<text x="346.30" y="501.40" font-size="6.4" text-anchor="end" fill="#333" stroke="#333" stroke-width="0.18">12</text>
<line x1="348.90" y1="558.60" x2="348.90" y2="560.60" stroke="#8a8a8a" stroke-width="0.7"/>
<line x1="357.40" y1="558.60" x2="357.40" y2="560.60" stroke="#8a8a8a" stroke-width="0.7"/>
<line x1="365.90" y1="558.60" x2="365.90" y2="560.60" stroke="#8a8a8a" stroke-width="0.7"/>
<line x1="374.40" y1="558.60" x2="374.40" y2="560.60" stroke="#8a8a8a" stroke-width="0.7"/>
<line x1="382.90" y1="558.60" x2="382.90" y2="560.60" stroke="#8a8a8a" stroke-width="0.7"/>
<line x1="391.40" y1="558.60" x2="391.40" y2="560.60" stroke="#8a8a8a" stroke-width="0.7"/>
<line x1="399.90" y1="558.60" x2="399.90" y2="560.60" stroke="#8a8a8a" stroke-width="0.7"/>
<line x1="408.40" y1="558.60" x2="408.40" y2="560.60" stroke="#8a8a8a" stroke-width="0.7"/>
<line x1="348.90" y1="541.97" x2="348.90" y2="558.60" stroke="#3E8FD0" stroke-width="0.8"/>
<line x1="347.30" y1="541.97" x2="350.50" y2="541.97" stroke="#3E8FD0" stroke-width="0.8"/>
<line x1="347.30" y1="558.60" x2="350.50" y2="558.60" stroke="#3E8FD0" stroke-width="0.8"/>
<line x1="357.40" y1="527.12" x2="357.40" y2="556.22" stroke="#3E8FD0" stroke-width="0.8"/>
<line x1="355.80" y1="527.12" x2="359.00" y2="527.12" stroke="#3E8FD0" stroke-width="0.8"/>
<line x1="355.80" y1="556.22" x2="359.00" y2="556.22" stroke="#3E8FD0" stroke-width="0.8"/>
<line x1="365.90" y1="499.20" x2="365.90" y2="533.06" stroke="#3E8FD0" stroke-width="0.8"/>
<line x1="364.30" y1="499.20" x2="367.50" y2="499.20" stroke="#3E8FD0" stroke-width="0.8"/>
<line x1="364.30" y1="533.06" x2="367.50" y2="533.06" stroke="#3E8FD0" stroke-width="0.8"/>
<line x1="374.40" y1="499.79" x2="374.40" y2="552.07" stroke="#3E8FD0" stroke-width="0.8"/>
<line x1="372.80" y1="499.79" x2="376.00" y2="499.79" stroke="#3E8FD0" stroke-width="0.8"/>
<line x1="372.80" y1="552.07" x2="376.00" y2="552.07" stroke="#3E8FD0" stroke-width="0.8"/>
<line x1="382.90" y1="519.99" x2="382.90" y2="547.31" stroke="#3E8FD0" stroke-width="0.8"/>
<line x1="381.30" y1="519.99" x2="384.50" y2="519.99" stroke="#3E8FD0" stroke-width="0.8"/>
<line x1="381.30" y1="547.31" x2="384.50" y2="547.31" stroke="#3E8FD0" stroke-width="0.8"/>
<line x1="391.40" y1="506.92" x2="391.40" y2="547.91" stroke="#3E8FD0" stroke-width="0.8"/>
<line x1="389.80" y1="506.92" x2="393.00" y2="506.92" stroke="#3E8FD0" stroke-width="0.8"/>
<line x1="389.80" y1="547.91" x2="393.00" y2="547.91" stroke="#3E8FD0" stroke-width="0.8"/>
<line x1="399.90" y1="514.05" x2="399.90" y2="547.31" stroke="#3E8FD0" stroke-width="0.8"/>
<line x1="398.30" y1="514.05" x2="401.50" y2="514.05" stroke="#3E8FD0" stroke-width="0.8"/>
<line x1="398.30" y1="547.31" x2="401.50" y2="547.31" stroke="#3E8FD0" stroke-width="0.8"/>
<line x1="408.40" y1="519.99" x2="408.40" y2="547.31" stroke="#3E8FD0" stroke-width="0.8"/>
<line x1="406.80" y1="519.99" x2="410.00" y2="519.99" stroke="#3E8FD0" stroke-width="0.8"/>
<line x1="406.80" y1="547.31" x2="410.00" y2="547.31" stroke="#3E8FD0" stroke-width="0.8"/>
<polyline points="348.90,550.28 357.40,541.97 365.90,515.83 374.40,525.93 382.90,533.65 391.40,527.12 399.90,530.68 408.40,533.65" fill="none" stroke="#3E8FD0" stroke-width="0.9"/>
<circle cx="348.90" cy="550.28" r="1.75" fill="#3E8FD0"/>
<circle cx="357.40" cy="541.97" r="1.75" fill="#3E8FD0"/>
<circle cx="365.90" cy="515.83" r="1.75" fill="#3E8FD0"/>
<circle cx="374.40" cy="525.93" r="1.75" fill="#3E8FD0"/>
<circle cx="382.90" cy="533.65" r="1.75" fill="#3E8FD0"/>
<circle cx="391.40" cy="527.12" r="1.75" fill="#3E8FD0"/>
<circle cx="399.90" cy="530.68" r="1.75" fill="#3E8FD0"/>
<circle cx="408.40" cy="533.65" r="1.75" fill="#3E8FD0"/>
<text x="408.60" y="506.10" font-size="7.6" text-anchor="end" font-weight="bold" fill="#3E8FD0" stroke="#3E8FD0" stroke-width="0.12">Cluster 4</text>
<line x1="357.40" y1="571.10" x2="357.40" y2="630.50" stroke="#d6d6d6" stroke-width="0.6"/>
<line x1="365.90" y1="571.10" x2="365.90" y2="630.50" stroke="#d6d6d6" stroke-width="0.6"/>
<line x1="374.40" y1="571.10" x2="374.40" y2="630.50" stroke="#d6d6d6" stroke-width="0.6"/>
<line x1="382.90" y1="571.10" x2="382.90" y2="630.50" stroke="#d6d6d6" stroke-width="0.6"/>
<line x1="391.40" y1="571.10" x2="391.40" y2="630.50" stroke="#d6d6d6" stroke-width="0.6"/>
<line x1="399.90" y1="571.10" x2="399.90" y2="630.50" stroke="#d6d6d6" stroke-width="0.6"/>
<line x1="408.40" y1="571.10" x2="408.40" y2="630.50" stroke="#d6d6d6" stroke-width="0.6"/>
<line x1="348.90" y1="618.62" x2="408.40" y2="618.62" stroke="#d6d6d6" stroke-width="0.6"/>
<line x1="348.90" y1="606.74" x2="408.40" y2="606.74" stroke="#d6d6d6" stroke-width="0.6"/>
<line x1="348.90" y1="594.86" x2="408.40" y2="594.86" stroke="#d6d6d6" stroke-width="0.6"/>
<line x1="348.90" y1="582.98" x2="408.40" y2="582.98" stroke="#d6d6d6" stroke-width="0.6"/>
<line x1="348.90" y1="571.10" x2="408.40" y2="571.10" stroke="#d6d6d6" stroke-width="0.6"/>
<line x1="348.90" y1="570.80" x2="348.90" y2="630.80" stroke="#8a8a8a" stroke-width="0.7"/>
<line x1="348.90" y1="630.50" x2="408.40" y2="630.50" stroke="#8a8a8a" stroke-width="0.7"/>
<line x1="346.90" y1="630.50" x2="348.90" y2="630.50" stroke="#8a8a8a" stroke-width="0.7"/>
<text x="346.30" y="632.70" font-size="6.4" text-anchor="end" fill="#333" stroke="#333" stroke-width="0.18">7</text>
<line x1="346.90" y1="618.62" x2="348.90" y2="618.62" stroke="#8a8a8a" stroke-width="0.7"/>
<text x="346.30" y="620.82" font-size="6.4" text-anchor="end" fill="#333" stroke="#333" stroke-width="0.18">8</text>
<line x1="346.90" y1="606.74" x2="348.90" y2="606.74" stroke="#8a8a8a" stroke-width="0.7"/>
<text x="346.30" y="608.94" font-size="6.4" text-anchor="end" fill="#333" stroke="#333" stroke-width="0.18">9</text>
<line x1="346.90" y1="594.86" x2="348.90" y2="594.86" stroke="#8a8a8a" stroke-width="0.7"/>
<text x="346.30" y="597.06" font-size="6.4" text-anchor="end" fill="#333" stroke="#333" stroke-width="0.18">10</text>
<line x1="346.90" y1="582.98" x2="348.90" y2="582.98" stroke="#8a8a8a" stroke-width="0.7"/>
<text x="346.30" y="585.18" font-size="6.4" text-anchor="end" fill="#333" stroke="#333" stroke-width="0.18">11</text>
<line x1="346.90" y1="571.10" x2="348.90" y2="571.10" stroke="#8a8a8a" stroke-width="0.7"/>
<text x="346.30" y="573.30" font-size="6.4" text-anchor="end" fill="#333" stroke="#333" stroke-width="0.18">12</text>
<line x1="348.90" y1="630.50" x2="348.90" y2="632.50" stroke="#8a8a8a" stroke-width="0.7"/>
<line x1="357.40" y1="630.50" x2="357.40" y2="632.50" stroke="#8a8a8a" stroke-width="0.7"/>
<line x1="365.90" y1="630.50" x2="365.90" y2="632.50" stroke="#8a8a8a" stroke-width="0.7"/>
<line x1="374.40" y1="630.50" x2="374.40" y2="632.50" stroke="#8a8a8a" stroke-width="0.7"/>
<line x1="382.90" y1="630.50" x2="382.90" y2="632.50" stroke="#8a8a8a" stroke-width="0.7"/>
<line x1="391.40" y1="630.50" x2="391.40" y2="632.50" stroke="#8a8a8a" stroke-width="0.7"/>
<line x1="399.90" y1="630.50" x2="399.90" y2="632.50" stroke="#8a8a8a" stroke-width="0.7"/>
<line x1="408.40" y1="630.50" x2="408.40" y2="632.50" stroke="#8a8a8a" stroke-width="0.7"/>
<line x1="348.90" y1="603.77" x2="348.90" y2="626.94" stroke="#E8262B" stroke-width="0.8"/>
<line x1="347.30" y1="603.77" x2="350.50" y2="603.77" stroke="#E8262B" stroke-width="0.8"/>
<line x1="347.30" y1="626.94" x2="350.50" y2="626.94" stroke="#E8262B" stroke-width="0.8"/>
<line x1="357.40" y1="602.58" x2="357.40" y2="627.53" stroke="#E8262B" stroke-width="0.8"/>
<line x1="355.80" y1="602.58" x2="359.00" y2="602.58" stroke="#E8262B" stroke-width="0.8"/>
<line x1="355.80" y1="627.53" x2="359.00" y2="627.53" stroke="#E8262B" stroke-width="0.8"/>
<line x1="365.90" y1="613.87" x2="365.90" y2="630.50" stroke="#E8262B" stroke-width="0.8"/>
<line x1="364.30" y1="613.87" x2="367.50" y2="613.87" stroke="#E8262B" stroke-width="0.8"/>
<line x1="364.30" y1="630.50" x2="367.50" y2="630.50" stroke="#E8262B" stroke-width="0.8"/>
<line x1="374.40" y1="589.51" x2="374.40" y2="616.24" stroke="#E8262B" stroke-width="0.8"/>
<line x1="372.80" y1="589.51" x2="376.00" y2="589.51" stroke="#E8262B" stroke-width="0.8"/>
<line x1="372.80" y1="616.24" x2="376.00" y2="616.24" stroke="#E8262B" stroke-width="0.8"/>
<line x1="382.90" y1="584.17" x2="382.90" y2="613.27" stroke="#E8262B" stroke-width="0.8"/>
<line x1="381.30" y1="584.17" x2="384.50" y2="584.17" stroke="#E8262B" stroke-width="0.8"/>
<line x1="381.30" y1="613.27" x2="384.50" y2="613.27" stroke="#E8262B" stroke-width="0.8"/>
<line x1="391.40" y1="584.76" x2="391.40" y2="613.87" stroke="#E8262B" stroke-width="0.8"/>
<line x1="389.80" y1="584.76" x2="393.00" y2="584.76" stroke="#E8262B" stroke-width="0.8"/>
<line x1="389.80" y1="613.87" x2="393.00" y2="613.87" stroke="#E8262B" stroke-width="0.8"/>
<line x1="399.90" y1="584.76" x2="399.90" y2="613.87" stroke="#E8262B" stroke-width="0.8"/>
<line x1="398.30" y1="584.76" x2="401.50" y2="584.76" stroke="#E8262B" stroke-width="0.8"/>
<line x1="398.30" y1="613.87" x2="401.50" y2="613.87" stroke="#E8262B" stroke-width="0.8"/>
<line x1="408.40" y1="582.39" x2="408.40" y2="612.09" stroke="#E8262B" stroke-width="0.8"/>
<line x1="406.80" y1="582.39" x2="410.00" y2="582.39" stroke="#E8262B" stroke-width="0.8"/>
<line x1="406.80" y1="612.09" x2="410.00" y2="612.09" stroke="#E8262B" stroke-width="0.8"/>
<polyline points="348.90,615.29 357.40,614.70 365.90,623.61 374.40,603.18 382.90,598.66 391.40,599.61 399.90,599.02 408.40,597.24" fill="none" stroke="#E8262B" stroke-width="0.9"/>
<circle cx="348.90" cy="615.29" r="1.75" fill="#E8262B"/>
<circle cx="357.40" cy="614.70" r="1.75" fill="#E8262B"/>
<circle cx="365.90" cy="623.61" r="1.75" fill="#E8262B"/>
<circle cx="374.40" cy="603.18" r="1.75" fill="#E8262B"/>
<circle cx="382.90" cy="598.66" r="1.75" fill="#E8262B"/>
<circle cx="391.40" cy="599.61" r="1.75" fill="#E8262B"/>
<circle cx="399.90" cy="599.02" r="1.75" fill="#E8262B"/>
<circle cx="408.40" cy="597.24" r="1.75" fill="#E8262B"/>
<text x="408.60" y="578.00" font-size="7.6" text-anchor="end" font-weight="bold" fill="#E8262B" stroke="#E8262B" stroke-width="0.12">Cluster 5</text>
<text x="351.20" y="635.00" font-size="6.3" text-anchor="end" fill="#222" transform="rotate(-90 351.20 635.00)" stroke="#222" stroke-width="0.18">glucose</text>
<text x="359.70" y="635.00" font-size="6.3" text-anchor="end" fill="#222" transform="rotate(-90 359.70 635.00)" stroke="#222" stroke-width="0.18">10 min</text>
<text x="368.20" y="635.00" font-size="6.3" text-anchor="end" fill="#222" transform="rotate(-90 368.20 635.00)" stroke="#222" stroke-width="0.18">3 hrs</text>
<text x="376.70" y="635.00" font-size="6.3" text-anchor="end" fill="#222" transform="rotate(-90 376.70 635.00)" stroke="#222" stroke-width="0.18">24 hrs</text>
<text x="385.20" y="635.00" font-size="6.3" text-anchor="end" fill="#222" transform="rotate(-90 385.20 635.00)" stroke="#222" stroke-width="0.18">day 2</text>
<text x="393.70" y="635.00" font-size="6.3" text-anchor="end" fill="#222" transform="rotate(-90 393.70 635.00)" stroke="#222" stroke-width="0.18">day 3</text>
<text x="402.20" y="635.00" font-size="6.3" text-anchor="end" fill="#222" transform="rotate(-90 402.20 635.00)" stroke="#222" stroke-width="0.18">day 5</text>
<text x="410.70" y="635.00" font-size="6.3" text-anchor="end" fill="#222" transform="rotate(-90 410.70 635.00)" stroke="#222" stroke-width="0.18">day 7</text>
<text x="333.5" y="447" font-size="8" text-anchor="middle" fill="#231f20" transform="rotate(-90 333.5 447)" stroke="#231f20" stroke-width="0.12">Cluster-mean log<tspan font-size="5.2" dy="1.7">2</tspan><tspan dy="-1.7"> promoter activity [A.U.]</tspan></text>
<text x="418.60" y="277.50" font-size="10.5" font-weight="bold" fill="#000" stroke="#000" stroke-width="0.06">I</text>
<line x1="418.90" y1="313.20" x2="445.20" y2="313.20" stroke="#a0a0a0" stroke-width="0.9"/>
<rect x="425.30" y="311.80" width="3.30" height="2.80" fill="#F7C99B"/>
<path d="M427.30,313.20 V308.30 H429.60" fill="none" stroke="#222" stroke-width="0.55"/>
<path d="M432.30,308.30 L429.40,306.90 L429.40,309.70 Z" fill="#111"/>
<path d="M428.80,311.85 L435.40,311.85 L435.40,310.20 L440.00,313.20 L435.40,316.20 L435.40,314.55 L428.80,314.55 Z" fill="#27A9E1"/>
<text x="416.20" y="326.30" font-size="6.6" fill="#A35DB6" stroke="#A35DB6" stroke-width="0.18">246 promoters</text>
<text x="460.30" y="297.40" font-size="6.6" text-anchor="middle" fill="#111" stroke="#111" stroke-width="0.18">Operon</text>
<text x="461.20" y="305.00" font-size="6.6" text-anchor="middle" fill="#111" stroke="#111" stroke-width="0.18">assembly</text>
<path d="M452.70,310.50 L461.40,310.50 L461.40,307.95 L471.00,312.90 L461.40,317.85 L461.40,315.30 L452.70,315.30 Z" fill="#1a1a1a"/>
<line x1="476.10" y1="313.20" x2="513.90" y2="313.20" stroke="#a0a0a0" stroke-width="0.9"/>
<rect x="478.60" y="311.80" width="3.10" height="2.80" fill="#F7C99B"/>
<path d="M480.70,313.20 V308.30 H483.00" fill="none" stroke="#222" stroke-width="0.55"/>
<path d="M485.70,308.30 L482.80,306.90 L482.80,309.70 Z" fill="#111"/>
<path d="M481.70,311.85 L487.70,311.85 L487.70,310.20 L491.90,313.20 L487.70,316.20 L487.70,314.55 L481.70,314.55 Z" fill="#27A9E1"/>
<path d="M492.40,311.85 L495.90,311.85 L495.90,310.20 L500.10,313.20 L495.90,316.20 L495.90,314.55 L492.40,314.55 Z" fill="#27A9E1"/>
<path d="M500.60,311.85 L507.70,311.85 L507.70,310.20 L511.90,313.20 L507.70,316.20 L507.70,314.55 L500.60,314.55 Z" fill="#27A9E1"/>
<text x="482.20" y="326.30" font-size="6.6" fill="#A35DB6" stroke="#A35DB6" stroke-width="0.18">420 genes</text>
<text x="527.10" y="297.40" font-size="6.6" text-anchor="middle" fill="#111" stroke="#111" stroke-width="0.18">KEGG</text>
<text x="527.10" y="305.00" font-size="6.6" text-anchor="middle" fill="#111" stroke="#111" stroke-width="0.18">analysis</text>
<path d="M518.50,310.00 L527.30,310.00 L527.30,307.45 L536.90,312.40 L527.30,317.35 L527.30,314.80 L518.50,314.80 Z" fill="#1a1a1a"/>
<line x1="418.90" y1="385.00" x2="445.20" y2="385.00" stroke="#a0a0a0" stroke-width="0.9"/>
<rect x="425.30" y="383.60" width="3.30" height="2.80" fill="#F7C99B"/>
<path d="M427.30,385.00 V380.10 H429.60" fill="none" stroke="#222" stroke-width="0.55"/>
<path d="M432.30,380.10 L429.40,378.70 L429.40,381.50 Z" fill="#111"/>
<path d="M428.80,383.65 L435.40,383.65 L435.40,382.00 L440.00,385.00 L435.40,388.00 L435.40,386.35 L428.80,386.35 Z" fill="#27A9E1"/>
<text x="416.20" y="398.10" font-size="6.6" fill="#F7941D" stroke="#F7941D" stroke-width="0.18">215 promoters</text>
<text x="460.30" y="369.20" font-size="6.6" text-anchor="middle" fill="#111" stroke="#111" stroke-width="0.18">Operon</text>
<text x="461.20" y="376.80" font-size="6.6" text-anchor="middle" fill="#111" stroke="#111" stroke-width="0.18">assembly</text>
<path d="M452.70,382.30 L461.40,382.30 L461.40,379.75 L471.00,384.70 L461.40,389.65 L461.40,387.10 L452.70,387.10 Z" fill="#1a1a1a"/>
<line x1="476.10" y1="385.00" x2="513.90" y2="385.00" stroke="#a0a0a0" stroke-width="0.9"/>
<rect x="478.60" y="383.60" width="3.10" height="2.80" fill="#F7C99B"/>
<path d="M480.70,385.00 V380.10 H483.00" fill="none" stroke="#222" stroke-width="0.55"/>
<path d="M485.70,380.10 L482.80,378.70 L482.80,381.50 Z" fill="#111"/>
<path d="M481.70,383.65 L487.70,383.65 L487.70,382.00 L491.90,385.00 L487.70,388.00 L487.70,386.35 L481.70,386.35 Z" fill="#27A9E1"/>
<path d="M492.40,383.65 L495.90,383.65 L495.90,382.00 L500.10,385.00 L495.90,388.00 L495.90,386.35 L492.40,386.35 Z" fill="#27A9E1"/>
<path d="M500.60,383.65 L507.70,383.65 L507.70,382.00 L511.90,385.00 L507.70,388.00 L507.70,386.35 L500.60,386.35 Z" fill="#27A9E1"/>
<text x="482.20" y="398.10" font-size="6.6" fill="#F7941D" stroke="#F7941D" stroke-width="0.18">394 genes</text>
<text x="527.10" y="369.20" font-size="6.6" text-anchor="middle" fill="#111" stroke="#111" stroke-width="0.18">KEGG</text>
<text x="527.10" y="376.80" font-size="6.6" text-anchor="middle" fill="#111" stroke="#111" stroke-width="0.18">analysis</text>
<path d="M518.50,381.80 L527.30,381.80 L527.30,379.25 L536.90,384.20 L527.30,389.15 L527.30,386.60 L518.50,386.60 Z" fill="#1a1a1a"/>
<line x1="418.90" y1="457.50" x2="445.20" y2="457.50" stroke="#a0a0a0" stroke-width="0.9"/>
<rect x="425.30" y="456.10" width="3.30" height="2.80" fill="#F7C99B"/>
<path d="M427.30,457.50 V452.60 H429.60" fill="none" stroke="#222" stroke-width="0.55"/>
<path d="M432.30,452.60 L429.40,451.20 L429.40,454.00 Z" fill="#111"/>
<path d="M428.80,456.15 L435.40,456.15 L435.40,454.50 L440.00,457.50 L435.40,460.50 L435.40,458.85 L428.80,458.85 Z" fill="#27A9E1"/>
<text x="416.20" y="470.60" font-size="6.6" fill="#5DB85E" stroke="#5DB85E" stroke-width="0.18">121 promoters</text>
<text x="460.30" y="441.70" font-size="6.6" text-anchor="middle" fill="#111" stroke="#111" stroke-width="0.18">Operon</text>
<text x="461.20" y="449.30" font-size="6.6" text-anchor="middle" fill="#111" stroke="#111" stroke-width="0.18">assembly</text>
<path d="M452.70,454.80 L461.40,454.80 L461.40,452.25 L471.00,457.20 L461.40,462.15 L461.40,459.60 L452.70,459.60 Z" fill="#1a1a1a"/>
<line x1="476.10" y1="457.50" x2="513.90" y2="457.50" stroke="#a0a0a0" stroke-width="0.9"/>
<rect x="478.60" y="456.10" width="3.10" height="2.80" fill="#F7C99B"/>
<path d="M480.70,457.50 V452.60 H483.00" fill="none" stroke="#222" stroke-width="0.55"/>
<path d="M485.70,452.60 L482.80,451.20 L482.80,454.00 Z" fill="#111"/>
<path d="M481.70,456.15 L487.70,456.15 L487.70,454.50 L491.90,457.50 L487.70,460.50 L487.70,458.85 L481.70,458.85 Z" fill="#27A9E1"/>
<path d="M492.40,456.15 L495.90,456.15 L495.90,454.50 L500.10,457.50 L495.90,460.50 L495.90,458.85 L492.40,458.85 Z" fill="#27A9E1"/>
<path d="M500.60,456.15 L507.70,456.15 L507.70,454.50 L511.90,457.50 L507.70,460.50 L507.70,458.85 L500.60,458.85 Z" fill="#27A9E1"/>
<text x="482.20" y="470.60" font-size="6.6" fill="#5DB85E" stroke="#5DB85E" stroke-width="0.18">189 genes</text>
<text x="527.10" y="441.70" font-size="6.6" text-anchor="middle" fill="#111" stroke="#111" stroke-width="0.18">KEGG</text>
<text x="527.10" y="449.30" font-size="6.6" text-anchor="middle" fill="#111" stroke="#111" stroke-width="0.18">analysis</text>
<path d="M518.50,454.30 L527.30,454.30 L527.30,451.75 L536.90,456.70 L527.30,461.65 L527.30,459.10 L518.50,459.10 Z" fill="#1a1a1a"/>
<line x1="418.90" y1="529.70" x2="445.20" y2="529.70" stroke="#a0a0a0" stroke-width="0.9"/>
<rect x="425.30" y="528.30" width="3.30" height="2.80" fill="#F7C99B"/>
<path d="M427.30,529.70 V524.80 H429.60" fill="none" stroke="#222" stroke-width="0.55"/>
<path d="M432.30,524.80 L429.40,523.40 L429.40,526.20 Z" fill="#111"/>
<path d="M428.80,528.35 L435.40,528.35 L435.40,526.70 L440.00,529.70 L435.40,532.70 L435.40,531.05 L428.80,531.05 Z" fill="#27A9E1"/>
<text x="416.20" y="542.80" font-size="6.6" fill="#3E8FD0" stroke="#3E8FD0" stroke-width="0.18">33 promoters</text>
<text x="460.30" y="513.90" font-size="6.6" text-anchor="middle" fill="#111" stroke="#111" stroke-width="0.18">Operon</text>
<text x="461.20" y="521.50" font-size="6.6" text-anchor="middle" fill="#111" stroke="#111" stroke-width="0.18">assembly</text>
<path d="M452.70,527.00 L461.40,527.00 L461.40,524.45 L471.00,529.40 L461.40,534.35 L461.40,531.80 L452.70,531.80 Z" fill="#1a1a1a"/>
<line x1="476.10" y1="529.70" x2="513.90" y2="529.70" stroke="#a0a0a0" stroke-width="0.9"/>
<rect x="478.60" y="528.30" width="3.10" height="2.80" fill="#F7C99B"/>
<path d="M480.70,529.70 V524.80 H483.00" fill="none" stroke="#222" stroke-width="0.55"/>
<path d="M485.70,524.80 L482.80,523.40 L482.80,526.20 Z" fill="#111"/>
<path d="M481.70,528.35 L487.70,528.35 L487.70,526.70 L491.90,529.70 L487.70,532.70 L487.70,531.05 L481.70,531.05 Z" fill="#27A9E1"/>
<path d="M492.40,528.35 L495.90,528.35 L495.90,526.70 L500.10,529.70 L495.90,532.70 L495.90,531.05 L492.40,531.05 Z" fill="#27A9E1"/>
<path d="M500.60,528.35 L507.70,528.35 L507.70,526.70 L511.90,529.70 L507.70,532.70 L507.70,531.05 L500.60,531.05 Z" fill="#27A9E1"/>
<text x="482.20" y="542.80" font-size="6.6" fill="#3E8FD0" stroke="#3E8FD0" stroke-width="0.18">66 genes</text>
<text x="527.10" y="513.90" font-size="6.6" text-anchor="middle" fill="#111" stroke="#111" stroke-width="0.18">KEGG</text>
<text x="527.10" y="521.50" font-size="6.6" text-anchor="middle" fill="#111" stroke="#111" stroke-width="0.18">analysis</text>
<path d="M518.50,526.50 L527.30,526.50 L527.30,523.95 L536.90,528.90 L527.30,533.85 L527.30,531.30 L518.50,531.30 Z" fill="#1a1a1a"/>
<line x1="418.90" y1="606.00" x2="445.20" y2="606.00" stroke="#a0a0a0" stroke-width="0.9"/>
<rect x="425.30" y="604.60" width="3.30" height="2.80" fill="#F7C99B"/>
<path d="M427.30,606.00 V601.10 H429.60" fill="none" stroke="#222" stroke-width="0.55"/>
<path d="M432.30,601.10 L429.40,599.70 L429.40,602.50 Z" fill="#111"/>
<path d="M428.80,604.65 L435.40,604.65 L435.40,603.00 L440.00,606.00 L435.40,609.00 L435.40,607.35 L428.80,607.35 Z" fill="#27A9E1"/>
<text x="416.20" y="619.10" font-size="6.6" fill="#E8262B" stroke="#E8262B" stroke-width="0.18">394 promoters</text>
<text x="460.30" y="590.20" font-size="6.6" text-anchor="middle" fill="#111" stroke="#111" stroke-width="0.18">Operon</text>
<text x="461.20" y="597.80" font-size="6.6" text-anchor="middle" fill="#111" stroke="#111" stroke-width="0.18">assembly</text>
<path d="M452.70,603.30 L461.40,603.30 L461.40,600.75 L471.00,605.70 L461.40,610.65 L461.40,608.10 L452.70,608.10 Z" fill="#1a1a1a"/>
<line x1="476.10" y1="606.00" x2="513.90" y2="606.00" stroke="#a0a0a0" stroke-width="0.9"/>
<rect x="478.60" y="604.60" width="3.10" height="2.80" fill="#F7C99B"/>
<path d="M480.70,606.00 V601.10 H483.00" fill="none" stroke="#222" stroke-width="0.55"/>
<path d="M485.70,601.10 L482.80,599.70 L482.80,602.50 Z" fill="#111"/>
<path d="M481.70,604.65 L487.70,604.65 L487.70,603.00 L491.90,606.00 L487.70,609.00 L487.70,607.35 L481.70,607.35 Z" fill="#27A9E1"/>
<path d="M492.40,604.65 L495.90,604.65 L495.90,603.00 L500.10,606.00 L495.90,609.00 L495.90,607.35 L492.40,607.35 Z" fill="#27A9E1"/>
<path d="M500.60,604.65 L507.70,604.65 L507.70,603.00 L511.90,606.00 L507.70,609.00 L507.70,607.35 L500.60,607.35 Z" fill="#27A9E1"/>
<text x="482.20" y="619.10" font-size="6.6" fill="#E8262B" stroke="#E8262B" stroke-width="0.18">601 genes</text>
<text x="527.10" y="590.20" font-size="6.6" text-anchor="middle" fill="#111" stroke="#111" stroke-width="0.18">KEGG</text>
<text x="527.10" y="597.80" font-size="6.6" text-anchor="middle" fill="#111" stroke="#111" stroke-width="0.18">analysis</text>
<path d="M518.50,602.80 L527.30,602.80 L527.30,600.25 L536.90,605.20 L527.30,610.15 L527.30,607.60 L518.50,607.60 Z" fill="#1a1a1a"/>
<text x="535.80" y="277.00" font-size="10.5" font-weight="bold" fill="#000" stroke="#000" stroke-width="0.06">J</text>
<line x1="641.93" y1="287.20" x2="641.93" y2="345.50" stroke="#8c8c8c" stroke-width="0.6"/>
<rect x="622.30" y="291.40" width="48.30" height="6.00" fill="#A35DB6" stroke="#111" stroke-width="0.85"/>
<line x1="618.90" y1="294.40" x2="622.30" y2="294.40" stroke="#111" stroke-width="0.8"/>
<text x="618.40" y="296.20" font-size="6.65" text-anchor="end" fill="#111" stroke="#111" stroke-width="0.18">Metabolic pathways</text>
<rect x="622.30" y="302.30" width="45.94" height="6.00" fill="#A35DB6" stroke="#111" stroke-width="0.85"/>
<line x1="618.90" y1="305.30" x2="622.30" y2="305.30" stroke="#111" stroke-width="0.8"/>
<text x="618.40" y="307.10" font-size="6.65" text-anchor="end" fill="#111" stroke="#111" stroke-width="0.18">Biosynthesis of cofactors</text>
<rect x="622.30" y="313.10" width="30.24" height="6.00" fill="#A35DB6" stroke="#111" stroke-width="0.85"/>
<line x1="618.90" y1="316.10" x2="622.30" y2="316.10" stroke="#111" stroke-width="0.8"/>
<text x="618.40" y="317.90" font-size="6.65" text-anchor="end" fill="#111" stroke="#111" stroke-width="0.18">ABC transporters</text>
<rect x="622.30" y="324.20" width="27.09" height="6.00" fill="#A35DB6" stroke="#111" stroke-width="0.85"/>
<line x1="618.90" y1="327.20" x2="622.30" y2="327.20" stroke="#111" stroke-width="0.8"/>
<text x="618.40" y="329.00" font-size="6.65" text-anchor="end" fill="#111" stroke="#111" stroke-width="0.18">Tyrosine metabolism</text>
<rect x="622.30" y="335.70" width="24.35" height="6.00" fill="#A35DB6" stroke="#111" stroke-width="0.85"/>
<line x1="618.90" y1="338.70" x2="622.30" y2="338.70" stroke="#111" stroke-width="0.8"/>
<text x="618.40" y="340.50" font-size="6.65" text-anchor="end" fill="#111" stroke="#111" stroke-width="0.18">Biosynthesis of amino acids</text>
<line x1="622.30" y1="287.20" x2="622.30" y2="345.90" stroke="#111" stroke-width="0.9"/>
<line x1="621.90" y1="345.50" x2="681.60" y2="345.50" stroke="#111" stroke-width="0.9"/>
<line x1="622.30" y1="345.50" x2="622.30" y2="347.90" stroke="#111" stroke-width="0.8"/>
<text x="622.30" y="354.50" font-size="5.6" text-anchor="middle" font-weight="bold" fill="#111" stroke="#111" stroke-width="0.14">0</text>
<line x1="641.93" y1="345.50" x2="641.93" y2="347.90" stroke="#111" stroke-width="0.8"/>
<text x="641.93" y="354.50" font-size="5.6" text-anchor="middle" font-weight="bold" fill="#111" stroke="#111" stroke-width="0.14">5</text>
<line x1="661.57" y1="345.50" x2="661.57" y2="347.90" stroke="#111" stroke-width="0.8"/>
<text x="661.57" y="354.50" font-size="5.6" text-anchor="middle" font-weight="bold" fill="#111" stroke="#111" stroke-width="0.14">10</text>
<line x1="681.20" y1="345.50" x2="681.20" y2="347.90" stroke="#111" stroke-width="0.8"/>
<text x="681.20" y="354.50" font-size="5.6" text-anchor="middle" font-weight="bold" fill="#111" stroke="#111" stroke-width="0.14">15</text>
<line x1="641.93" y1="361.20" x2="641.93" y2="420.20" stroke="#8c8c8c" stroke-width="0.6"/>
<rect x="622.30" y="365.60" width="49.28" height="6.00" fill="#F7923A" stroke="#111" stroke-width="0.85"/>
<line x1="618.90" y1="368.60" x2="622.30" y2="368.60" stroke="#111" stroke-width="0.8"/>
<text x="618.40" y="370.40" font-size="6.65" text-anchor="end" fill="#111" stroke="#111" stroke-width="0.18">Ribosome</text>
<rect x="622.30" y="376.40" width="39.86" height="6.00" fill="#F7923A" stroke="#111" stroke-width="0.85"/>
<line x1="618.90" y1="379.40" x2="622.30" y2="379.40" stroke="#111" stroke-width="0.8"/>
<text x="618.40" y="381.20" font-size="6.65" text-anchor="end" fill="#111" stroke="#111" stroke-width="0.18">Biosynthesis of amino acids</text>
<rect x="622.30" y="387.70" width="39.86" height="6.00" fill="#F7923A" stroke="#111" stroke-width="0.85"/>
<line x1="618.90" y1="390.70" x2="622.30" y2="390.70" stroke="#111" stroke-width="0.8"/>
<text x="618.40" y="392.50" font-size="6.65" text-anchor="end" fill="#111" stroke="#111" stroke-width="0.18">Biotin metabolism</text>
<rect x="622.30" y="398.60" width="33.57" height="6.00" fill="#F7923A" stroke="#111" stroke-width="0.85"/>
<line x1="618.90" y1="401.60" x2="622.30" y2="401.60" stroke="#111" stroke-width="0.8"/>
<text x="618.40" y="403.40" font-size="6.65" text-anchor="end" fill="#111" stroke="#111" stroke-width="0.18">Biosynthesis of cofactors</text>
<rect x="622.30" y="410.10" width="22.19" height="6.00" fill="#F7923A" stroke="#111" stroke-width="0.85"/>
<line x1="618.90" y1="413.10" x2="622.30" y2="413.10" stroke="#111" stroke-width="0.8"/>
<text x="618.40" y="414.90" font-size="6.65" text-anchor="end" fill="#111" stroke="#111" stroke-width="0.18">Metabolic pathways</text>
<line x1="622.30" y1="361.20" x2="622.30" y2="420.60" stroke="#111" stroke-width="0.9"/>
<line x1="621.90" y1="420.20" x2="681.60" y2="420.20" stroke="#111" stroke-width="0.9"/>
<line x1="622.30" y1="420.20" x2="622.30" y2="422.60" stroke="#111" stroke-width="0.8"/>
<text x="622.30" y="429.20" font-size="5.6" text-anchor="middle" font-weight="bold" fill="#111" stroke="#111" stroke-width="0.14">0</text>
<line x1="641.93" y1="420.20" x2="641.93" y2="422.60" stroke="#111" stroke-width="0.8"/>
<text x="641.93" y="429.20" font-size="5.6" text-anchor="middle" font-weight="bold" fill="#111" stroke="#111" stroke-width="0.14">5</text>
<line x1="661.57" y1="420.20" x2="661.57" y2="422.60" stroke="#111" stroke-width="0.8"/>
<text x="661.57" y="429.20" font-size="5.6" text-anchor="middle" font-weight="bold" fill="#111" stroke="#111" stroke-width="0.14">10</text>
<line x1="681.20" y1="420.20" x2="681.20" y2="422.60" stroke="#111" stroke-width="0.8"/>
<text x="681.20" y="429.20" font-size="5.6" text-anchor="middle" font-weight="bold" fill="#111" stroke="#111" stroke-width="0.14">15</text>
<line x1="627.21" y1="435.40" x2="627.21" y2="493.40" stroke="#9a9a9a" stroke-width="0.6" stroke-dasharray="2.2 1.3"/>
<rect x="622.30" y="439.30" width="51.83" height="6.00" fill="#5DB85E" stroke="#111" stroke-width="0.85"/>
<line x1="618.90" y1="442.30" x2="622.30" y2="442.30" stroke="#111" stroke-width="0.8"/>
<text x="618.40" y="444.10" font-size="6.65" text-anchor="end" fill="#111" stroke="#111" stroke-width="0.18">Flagellar assembly</text>
<rect x="622.30" y="450.20" width="13.25" height="6.00" fill="#5DB85E" stroke="#111" stroke-width="0.85"/>
<line x1="618.90" y1="453.20" x2="622.30" y2="453.20" stroke="#111" stroke-width="0.8"/>
<text x="618.40" y="455.00" font-size="6.65" text-anchor="end" fill="#111" stroke="#111" stroke-width="0.18">Bacterial chemotaxis</text>
<rect x="622.30" y="461.60" width="5.40" height="6.00" fill="#5DB85E" stroke="#111" stroke-width="0.85"/>
<line x1="618.90" y1="464.60" x2="622.30" y2="464.60" stroke="#111" stroke-width="0.8"/>
<text x="618.40" y="466.40" font-size="6.65" text-anchor="end" fill="#111" stroke="#111" stroke-width="0.18">Two-component system</text>
<rect x="622.30" y="472.10" width="4.52" height="6.00" fill="#5DB85E" stroke="#111" stroke-width="0.85"/>
<line x1="618.90" y1="475.10" x2="622.30" y2="475.10" stroke="#111" stroke-width="0.8"/>
<text x="618.40" y="476.90" font-size="6.65" text-anchor="end" fill="#111" stroke="#111" stroke-width="0.18">Propanoate metabolism</text>
<rect x="622.30" y="483.30" width="3.14" height="6.00" fill="#5DB85E" stroke="#111" stroke-width="0.85"/>
<line x1="618.90" y1="486.30" x2="622.30" y2="486.30" stroke="#111" stroke-width="0.8"/>
<text x="618.40" y="488.10" font-size="6.65" text-anchor="end" fill="#111" stroke="#111" stroke-width="0.18">Carbon metabolism</text>
<line x1="622.30" y1="435.40" x2="622.30" y2="493.80" stroke="#111" stroke-width="0.9"/>
<line x1="621.90" y1="493.40" x2="681.60" y2="493.40" stroke="#111" stroke-width="0.9"/>
<line x1="622.30" y1="493.40" x2="622.30" y2="495.80" stroke="#111" stroke-width="0.8"/>
<text x="622.30" y="502.40" font-size="5.6" text-anchor="middle" font-weight="bold" fill="#111" stroke="#111" stroke-width="0.14">0</text>
<line x1="641.93" y1="493.40" x2="641.93" y2="495.80" stroke="#111" stroke-width="0.8"/>
<text x="641.93" y="502.40" font-size="5.6" text-anchor="middle" font-weight="bold" fill="#111" stroke="#111" stroke-width="0.14">20</text>
<line x1="661.57" y1="493.40" x2="661.57" y2="495.80" stroke="#111" stroke-width="0.8"/>
<text x="661.57" y="502.40" font-size="5.6" text-anchor="middle" font-weight="bold" fill="#111" stroke="#111" stroke-width="0.14">40</text>
<line x1="681.20" y1="493.40" x2="681.20" y2="495.80" stroke="#111" stroke-width="0.8"/>
<text x="681.20" y="502.40" font-size="5.6" text-anchor="middle" font-weight="bold" fill="#111" stroke="#111" stroke-width="0.14">60</text>
<line x1="651.75" y1="506.70" x2="651.75" y2="565.20" stroke="#9a9a9a" stroke-width="0.6" stroke-dasharray="2.2 1.3"/>
<rect x="622.30" y="511.10" width="47.12" height="6.00" fill="#3E8ED0" stroke="#111" stroke-width="0.85"/>
<line x1="618.90" y1="514.10" x2="622.30" y2="514.10" stroke="#111" stroke-width="0.8"/>
<text x="616.80" y="511.70" font-size="6.65" text-anchor="end" fill="#111" stroke="#111" stroke-width="0.18">Glycine, serine and</text>
<text x="618.40" y="518.60" font-size="6.65" text-anchor="end" fill="#111" stroke="#111" stroke-width="0.18">threonine metabolism</text>
<rect x="622.30" y="522.30" width="19.14" height="6.00" fill="#3E8ED0" stroke="#111" stroke-width="0.85"/>
<line x1="618.90" y1="525.30" x2="622.30" y2="525.30" stroke="#111" stroke-width="0.8"/>
<text x="618.40" y="527.10" font-size="6.65" text-anchor="end" fill="#111" stroke="#111" stroke-width="0.18">Metabolic pathways</text>
<rect x="622.30" y="533.50" width="17.38" height="6.00" fill="#3E8ED0" stroke="#111" stroke-width="0.85"/>
<line x1="618.90" y1="536.50" x2="622.30" y2="536.50" stroke="#111" stroke-width="0.8"/>
<text x="618.40" y="538.30" font-size="6.65" text-anchor="end" fill="#111" stroke="#111" stroke-width="0.18">Cyanoamino acid metabolism</text>
<rect x="622.30" y="544.20" width="12.66" height="6.00" fill="#3E8ED0" stroke="#111" stroke-width="0.85"/>
<line x1="618.90" y1="547.20" x2="622.30" y2="547.20" stroke="#111" stroke-width="0.8"/>
<text x="618.40" y="549.00" font-size="6.65" text-anchor="end" fill="#111" stroke="#111" stroke-width="0.18">Two-component system</text>
<rect x="622.30" y="555.60" width="11.19" height="6.00" fill="#3E8ED0" stroke="#111" stroke-width="0.85"/>
<line x1="618.90" y1="558.60" x2="622.30" y2="558.60" stroke="#111" stroke-width="0.8"/>
<text x="618.40" y="560.40" font-size="6.65" text-anchor="end" fill="#111" stroke="#111" stroke-width="0.18">Glycolysis / Gluconeogenesis</text>
<line x1="622.30" y1="506.70" x2="622.30" y2="565.60" stroke="#111" stroke-width="0.9"/>
<line x1="621.90" y1="565.20" x2="681.60" y2="565.20" stroke="#111" stroke-width="0.9"/>
<line x1="622.30" y1="565.20" x2="622.30" y2="567.60" stroke="#111" stroke-width="0.8"/>
<text x="622.30" y="574.20" font-size="5.6" text-anchor="middle" font-weight="bold" fill="#111" stroke="#111" stroke-width="0.14">0</text>
<line x1="634.08" y1="565.20" x2="634.08" y2="567.60" stroke="#111" stroke-width="0.8"/>
<text x="634.08" y="574.20" font-size="5.6" text-anchor="middle" font-weight="bold" fill="#111" stroke="#111" stroke-width="0.14">2</text>
<line x1="645.86" y1="565.20" x2="645.86" y2="567.60" stroke="#111" stroke-width="0.8"/>
<text x="645.86" y="574.20" font-size="5.6" text-anchor="middle" font-weight="bold" fill="#111" stroke="#111" stroke-width="0.14">4</text>
<line x1="657.64" y1="565.20" x2="657.64" y2="567.60" stroke="#111" stroke-width="0.8"/>
<text x="657.64" y="574.20" font-size="5.6" text-anchor="middle" font-weight="bold" fill="#111" stroke="#111" stroke-width="0.14">6</text>
<line x1="669.42" y1="565.20" x2="669.42" y2="567.60" stroke="#111" stroke-width="0.8"/>
<text x="669.42" y="574.20" font-size="5.6" text-anchor="middle" font-weight="bold" fill="#111" stroke="#111" stroke-width="0.14">8</text>
<line x1="681.20" y1="565.20" x2="681.20" y2="567.60" stroke="#111" stroke-width="0.8"/>
<text x="681.20" y="574.20" font-size="5.6" text-anchor="middle" font-weight="bold" fill="#111" stroke="#111" stroke-width="0.14">10</text>
<line x1="637.02" y1="581.00" x2="637.02" y2="640.10" stroke="#8c8c8c" stroke-width="0.6"/>
<rect x="622.30" y="585.70" width="42.85" height="6.00" fill="#E8322B" stroke="#111" stroke-width="0.85"/>
<line x1="618.90" y1="588.70" x2="622.30" y2="588.70" stroke="#111" stroke-width="0.8"/>
<text x="618.40" y="590.50" font-size="6.65" text-anchor="end" fill="#111" stroke="#111" stroke-width="0.18">Metabolic pathways</text>
<rect x="622.30" y="596.70" width="38.73" height="6.00" fill="#E8322B" stroke="#111" stroke-width="0.85"/>
<line x1="618.90" y1="599.70" x2="622.30" y2="599.70" stroke="#111" stroke-width="0.8"/>
<text x="618.40" y="596.50" font-size="6.65" text-anchor="end" fill="#111" stroke="#111" stroke-width="0.18">Microbial metabolism</text>
<text x="618.40" y="603.40" font-size="6.65" text-anchor="end" fill="#111" stroke="#111" stroke-width="0.18">in diverse environments</text>
<rect x="622.30" y="607.90" width="36.08" height="6.00" fill="#E8322B" stroke="#111" stroke-width="0.85"/>
<line x1="618.90" y1="610.90" x2="622.30" y2="610.90" stroke="#111" stroke-width="0.8"/>
<text x="616.80" y="610.80" font-size="6.65" text-anchor="end" fill="#111" stroke="#111" stroke-width="0.18">Valine, leucine and</text>
<text x="618.40" y="617.20" font-size="6.65" text-anchor="end" fill="#111" stroke="#111" stroke-width="0.18">isoleucine degradation</text>
<rect x="622.30" y="618.70" width="26.36" height="6.00" fill="#E8322B" stroke="#111" stroke-width="0.85"/>
<line x1="618.90" y1="621.70" x2="622.30" y2="621.70" stroke="#111" stroke-width="0.8"/>
<text x="618.40" y="623.50" font-size="6.65" text-anchor="end" fill="#111" stroke="#111" stroke-width="0.18">Two-component system</text>
<rect x="622.30" y="629.30" width="24.74" height="6.00" fill="#E8322B" stroke="#111" stroke-width="0.85"/>
<line x1="618.90" y1="632.30" x2="622.30" y2="632.30" stroke="#111" stroke-width="0.8"/>
<text x="618.40" y="634.10" font-size="6.65" text-anchor="end" fill="#111" stroke="#111" stroke-width="0.18">Biofilm formation</text>
<line x1="622.30" y1="581.00" x2="622.30" y2="640.50" stroke="#111" stroke-width="0.9"/>
<line x1="621.90" y1="640.10" x2="681.60" y2="640.10" stroke="#111" stroke-width="0.9"/>
<line x1="622.30" y1="640.10" x2="622.30" y2="642.50" stroke="#111" stroke-width="0.8"/>
<text x="622.30" y="649.10" font-size="5.6" text-anchor="middle" font-weight="bold" fill="#111" stroke="#111" stroke-width="0.14">0</text>
<line x1="637.02" y1="640.10" x2="637.02" y2="642.50" stroke="#111" stroke-width="0.8"/>
<text x="637.02" y="649.10" font-size="5.6" text-anchor="middle" font-weight="bold" fill="#111" stroke="#111" stroke-width="0.14">5</text>
<line x1="651.75" y1="640.10" x2="651.75" y2="642.50" stroke="#111" stroke-width="0.8"/>
<text x="651.75" y="649.10" font-size="5.6" text-anchor="middle" font-weight="bold" fill="#111" stroke="#111" stroke-width="0.14">10</text>
<line x1="666.47" y1="640.10" x2="666.47" y2="642.50" stroke="#111" stroke-width="0.8"/>
<text x="666.47" y="649.10" font-size="5.6" text-anchor="middle" font-weight="bold" fill="#111" stroke="#111" stroke-width="0.14">15</text>
<line x1="681.20" y1="640.10" x2="681.20" y2="642.50" stroke="#111" stroke-width="0.8"/>
<text x="681.20" y="649.10" font-size="5.6" text-anchor="middle" font-weight="bold" fill="#111" stroke="#111" stroke-width="0.14">20</text>
<text x="652.4" y="657.4" font-size="6.9" text-anchor="middle" fill="#231f20" stroke="#231f20" stroke-width="0.18">-log<tspan font-size="4.6" dy="1.6">10</tspan><tspan dy="-1.6">(p-value)</tspan></text>
<text x="324.60" y="687.00" font-size="10.5" font-weight="bold" fill="#000" stroke="#000" stroke-width="0.06">K</text>
<text x="330.3" y="743" font-size="7.8" text-anchor="middle" fill="#231f20" transform="rotate(-90 330.3 743)" stroke="#231f20" stroke-width="0.12">log<tspan font-size="4.9" dy="1.6">2</tspan><tspan dy="-1.6"> promoter activity [A.U.]</tspan></text>
<text x="340.40" y="687.00" font-size="7.0" fill="#111" stroke="#111" stroke-width="0.18">Root immune supression</text>
<line x1="355.67" y1="699.20" x2="355.67" y2="762.00" stroke="#d9d9d9" stroke-width="0.6" stroke-dasharray="1.6 0.8"/>
<line x1="364.74" y1="699.20" x2="364.74" y2="762.00" stroke="#d9d9d9" stroke-width="0.6" stroke-dasharray="1.6 0.8"/>
<line x1="373.81" y1="699.20" x2="373.81" y2="762.00" stroke="#d9d9d9" stroke-width="0.6" stroke-dasharray="1.6 0.8"/>
<line x1="382.88" y1="699.20" x2="382.88" y2="762.00" stroke="#d9d9d9" stroke-width="0.6" stroke-dasharray="1.6 0.8"/>
<line x1="391.95" y1="699.20" x2="391.95" y2="762.00" stroke="#d9d9d9" stroke-width="0.6" stroke-dasharray="1.6 0.8"/>
<line x1="401.02" y1="699.20" x2="401.02" y2="762.00" stroke="#d9d9d9" stroke-width="0.6" stroke-dasharray="1.6 0.8"/>
<line x1="410.09" y1="699.20" x2="410.09" y2="762.00" stroke="#d9d9d9" stroke-width="0.6" stroke-dasharray="1.6 0.8"/>
<line x1="346.60" y1="749.44" x2="410.09" y2="749.44" stroke="#d9d9d9" stroke-width="0.6" stroke-dasharray="1.6 0.8"/>
<line x1="346.60" y1="736.88" x2="410.09" y2="736.88" stroke="#d9d9d9" stroke-width="0.6" stroke-dasharray="1.6 0.8"/>
<line x1="346.60" y1="724.32" x2="410.09" y2="724.32" stroke="#d9d9d9" stroke-width="0.6" stroke-dasharray="1.6 0.8"/>
<line x1="346.60" y1="711.76" x2="410.09" y2="711.76" stroke="#d9d9d9" stroke-width="0.6" stroke-dasharray="1.6 0.8"/>
<line x1="346.60" y1="699.20" x2="410.09" y2="699.20" stroke="#d9d9d9" stroke-width="0.6" stroke-dasharray="1.6 0.8"/>
<line x1="346.60" y1="698.90" x2="346.60" y2="762.30" stroke="#8a8a8a" stroke-width="0.7"/>
<line x1="346.60" y1="762.00" x2="410.09" y2="762.00" stroke="#8a8a8a" stroke-width="0.7"/>
<line x1="344.60" y1="762.00" x2="346.60" y2="762.00" stroke="#8a8a8a" stroke-width="0.7"/>
<text x="344.00" y="764.50" font-size="7.0" text-anchor="end" fill="#333" stroke="#333" stroke-width="0.18">6</text>
<line x1="344.60" y1="749.44" x2="346.60" y2="749.44" stroke="#8a8a8a" stroke-width="0.7"/>
<text x="344.00" y="751.94" font-size="7.0" text-anchor="end" fill="#333" stroke="#333" stroke-width="0.18">8</text>
<line x1="344.60" y1="736.88" x2="346.60" y2="736.88" stroke="#8a8a8a" stroke-width="0.7"/>
<text x="344.00" y="739.38" font-size="7.0" text-anchor="end" fill="#333" stroke="#333" stroke-width="0.18">10</text>
<line x1="344.60" y1="724.32" x2="346.60" y2="724.32" stroke="#8a8a8a" stroke-width="0.7"/>
<text x="344.00" y="726.82" font-size="7.0" text-anchor="end" fill="#333" stroke="#333" stroke-width="0.18">12</text>
<line x1="344.60" y1="711.76" x2="346.60" y2="711.76" stroke="#8a8a8a" stroke-width="0.7"/>
<text x="344.00" y="714.26" font-size="7.0" text-anchor="end" fill="#333" stroke="#333" stroke-width="0.18">14</text>
<line x1="344.60" y1="699.20" x2="346.60" y2="699.20" stroke="#8a8a8a" stroke-width="0.7"/>
<text x="344.00" y="701.70" font-size="7.0" text-anchor="end" fill="#333" stroke="#333" stroke-width="0.18">16</text>
<line x1="346.60" y1="762.00" x2="346.60" y2="764.00" stroke="#8a8a8a" stroke-width="0.7"/>
<line x1="355.67" y1="762.00" x2="355.67" y2="764.00" stroke="#8a8a8a" stroke-width="0.7"/>
<line x1="364.74" y1="762.00" x2="364.74" y2="764.00" stroke="#8a8a8a" stroke-width="0.7"/>
<line x1="373.81" y1="762.00" x2="373.81" y2="764.00" stroke="#8a8a8a" stroke-width="0.7"/>
<line x1="382.88" y1="762.00" x2="382.88" y2="764.00" stroke="#8a8a8a" stroke-width="0.7"/>
<line x1="391.95" y1="762.00" x2="391.95" y2="764.00" stroke="#8a8a8a" stroke-width="0.7"/>
<line x1="401.02" y1="762.00" x2="401.02" y2="764.00" stroke="#8a8a8a" stroke-width="0.7"/>
<line x1="410.09" y1="762.00" x2="410.09" y2="764.00" stroke="#8a8a8a" stroke-width="0.7"/>
<line x1="346.60" y1="751.32" x2="346.60" y2="753.84" stroke="#3B8ED0" stroke-width="0.7"/>
<line x1="345.10" y1="751.32" x2="348.10" y2="751.32" stroke="#3B8ED0" stroke-width="0.7"/>
<line x1="345.10" y1="753.84" x2="348.10" y2="753.84" stroke="#3B8ED0" stroke-width="0.7"/>
<line x1="355.67" y1="739.39" x2="355.67" y2="746.93" stroke="#3B8ED0" stroke-width="0.7"/>
<line x1="354.17" y1="739.39" x2="357.17" y2="739.39" stroke="#3B8ED0" stroke-width="0.7"/>
<line x1="354.17" y1="746.93" x2="357.17" y2="746.93" stroke="#3B8ED0" stroke-width="0.7"/>
<line x1="364.74" y1="721.18" x2="364.74" y2="724.95" stroke="#3B8ED0" stroke-width="0.7"/>
<line x1="363.24" y1="721.18" x2="366.24" y2="721.18" stroke="#3B8ED0" stroke-width="0.7"/>
<line x1="363.24" y1="724.95" x2="366.24" y2="724.95" stroke="#3B8ED0" stroke-width="0.7"/>
<line x1="373.81" y1="713.02" x2="373.81" y2="716.78" stroke="#3B8ED0" stroke-width="0.7"/>
<line x1="372.31" y1="713.02" x2="375.31" y2="713.02" stroke="#3B8ED0" stroke-width="0.7"/>
<line x1="372.31" y1="716.78" x2="375.31" y2="716.78" stroke="#3B8ED0" stroke-width="0.7"/>
<line x1="382.88" y1="730.91" x2="382.88" y2="733.43" stroke="#3B8ED0" stroke-width="0.7"/>
<line x1="381.38" y1="730.91" x2="384.38" y2="730.91" stroke="#3B8ED0" stroke-width="0.7"/>
<line x1="381.38" y1="733.43" x2="384.38" y2="733.43" stroke="#3B8ED0" stroke-width="0.7"/>
<line x1="391.95" y1="714.27" x2="391.95" y2="719.30" stroke="#3B8ED0" stroke-width="0.7"/>
<line x1="390.45" y1="714.27" x2="393.45" y2="714.27" stroke="#3B8ED0" stroke-width="0.7"/>
<line x1="390.45" y1="719.30" x2="393.45" y2="719.30" stroke="#3B8ED0" stroke-width="0.7"/>
<line x1="401.02" y1="718.67" x2="401.02" y2="726.20" stroke="#3B8ED0" stroke-width="0.7"/>
<line x1="399.52" y1="718.67" x2="402.52" y2="718.67" stroke="#3B8ED0" stroke-width="0.7"/>
<line x1="399.52" y1="726.20" x2="402.52" y2="726.20" stroke="#3B8ED0" stroke-width="0.7"/>
<line x1="410.09" y1="726.83" x2="410.09" y2="733.11" stroke="#3B8ED0" stroke-width="0.7"/>
<line x1="408.59" y1="726.83" x2="411.59" y2="726.83" stroke="#3B8ED0" stroke-width="0.7"/>
<line x1="408.59" y1="733.11" x2="411.59" y2="733.11" stroke="#3B8ED0" stroke-width="0.7"/>
<polyline points="346.60,752.58 355.67,743.16 364.74,723.06 373.81,714.90 382.88,732.17 391.95,716.78 401.02,722.44 410.09,729.97" fill="none" stroke="#3B8ED0" stroke-width="0.9"/>
<path d="M346.60,750.54 L348.47,753.94 L344.73,753.94 Z" fill="#3B8ED0"/>
<path d="M355.67,741.12 L357.54,744.52 L353.80,744.52 Z" fill="#3B8ED0"/>
<path d="M364.74,721.02 L366.61,724.42 L362.87,724.42 Z" fill="#3B8ED0"/>
<path d="M373.81,712.86 L375.68,716.26 L371.94,716.26 Z" fill="#3B8ED0"/>
<path d="M382.88,730.13 L384.75,733.53 L381.01,733.53 Z" fill="#3B8ED0"/>
<path d="M391.95,714.74 L393.82,718.14 L390.08,718.14 Z" fill="#3B8ED0"/>
<path d="M401.02,720.40 L402.89,723.80 L399.15,723.80 Z" fill="#3B8ED0"/>
<path d="M410.09,727.93 L411.96,731.33 L408.22,731.33 Z" fill="#3B8ED0"/>
<line x1="346.60" y1="752.58" x2="346.60" y2="755.09" stroke="#3B8ED0" stroke-width="0.7"/>
<line x1="345.10" y1="752.58" x2="348.10" y2="752.58" stroke="#3B8ED0" stroke-width="0.7"/>
<line x1="345.10" y1="755.09" x2="348.10" y2="755.09" stroke="#3B8ED0" stroke-width="0.7"/>
<line x1="355.67" y1="743.79" x2="355.67" y2="752.58" stroke="#3B8ED0" stroke-width="0.7"/>
<line x1="354.17" y1="743.79" x2="357.17" y2="743.79" stroke="#3B8ED0" stroke-width="0.7"/>
<line x1="354.17" y1="752.58" x2="357.17" y2="752.58" stroke="#3B8ED0" stroke-width="0.7"/>
<line x1="364.74" y1="703.60" x2="364.74" y2="706.11" stroke="#3B8ED0" stroke-width="0.7"/>
<line x1="363.24" y1="703.60" x2="366.24" y2="703.60" stroke="#3B8ED0" stroke-width="0.7"/>
<line x1="363.24" y1="706.11" x2="366.24" y2="706.11" stroke="#3B8ED0" stroke-width="0.7"/>
<line x1="373.81" y1="700.46" x2="373.81" y2="705.48" stroke="#3B8ED0" stroke-width="0.7"/>
<line x1="372.31" y1="700.46" x2="375.31" y2="700.46" stroke="#3B8ED0" stroke-width="0.7"/>
<line x1="372.31" y1="705.48" x2="375.31" y2="705.48" stroke="#3B8ED0" stroke-width="0.7"/>
<line x1="382.88" y1="726.20" x2="382.88" y2="729.97" stroke="#3B8ED0" stroke-width="0.7"/>
<line x1="381.38" y1="726.20" x2="384.38" y2="726.20" stroke="#3B8ED0" stroke-width="0.7"/>
<line x1="381.38" y1="729.97" x2="384.38" y2="729.97" stroke="#3B8ED0" stroke-width="0.7"/>
<line x1="391.95" y1="711.13" x2="391.95" y2="718.67" stroke="#3B8ED0" stroke-width="0.7"/>
<line x1="390.45" y1="711.13" x2="393.45" y2="711.13" stroke="#3B8ED0" stroke-width="0.7"/>
<line x1="390.45" y1="718.67" x2="393.45" y2="718.67" stroke="#3B8ED0" stroke-width="0.7"/>
<line x1="401.02" y1="712.39" x2="401.02" y2="733.74" stroke="#3B8ED0" stroke-width="0.7"/>
<line x1="399.52" y1="712.39" x2="402.52" y2="712.39" stroke="#3B8ED0" stroke-width="0.7"/>
<line x1="399.52" y1="733.74" x2="402.52" y2="733.74" stroke="#3B8ED0" stroke-width="0.7"/>
<line x1="410.09" y1="728.72" x2="410.09" y2="740.02" stroke="#3B8ED0" stroke-width="0.7"/>
<line x1="408.59" y1="728.72" x2="411.59" y2="728.72" stroke="#3B8ED0" stroke-width="0.7"/>
<line x1="408.59" y1="740.02" x2="411.59" y2="740.02" stroke="#3B8ED0" stroke-width="0.7"/>
<polyline points="346.60,753.84 355.67,748.18 364.74,704.85 373.81,702.97 382.88,728.09 391.95,714.90 401.02,723.06 410.09,734.37" fill="none" stroke="#3B8ED0" stroke-width="0.9"/>
<circle cx="346.60" cy="753.84" r="1.70" fill="#3B8ED0"/>
<circle cx="355.67" cy="748.18" r="1.70" fill="#3B8ED0"/>
<circle cx="364.74" cy="704.85" r="1.70" fill="#3B8ED0"/>
<circle cx="373.81" cy="702.97" r="1.70" fill="#3B8ED0"/>
<circle cx="382.88" cy="728.09" r="1.70" fill="#3B8ED0"/>
<circle cx="391.95" cy="714.90" r="1.70" fill="#3B8ED0"/>
<circle cx="401.02" cy="723.06" r="1.70" fill="#3B8ED0"/>
<circle cx="410.09" cy="734.37" r="1.70" fill="#3B8ED0"/>
<line x1="346.60" y1="753.21" x2="346.60" y2="755.72" stroke="#3B8ED0" stroke-width="0.7"/>
<line x1="345.10" y1="753.21" x2="348.10" y2="753.21" stroke="#3B8ED0" stroke-width="0.7"/>
<line x1="345.10" y1="755.72" x2="348.10" y2="755.72" stroke="#3B8ED0" stroke-width="0.7"/>
<line x1="355.67" y1="747.56" x2="355.67" y2="757.60" stroke="#3B8ED0" stroke-width="0.7"/>
<line x1="354.17" y1="747.56" x2="357.17" y2="747.56" stroke="#3B8ED0" stroke-width="0.7"/>
<line x1="354.17" y1="757.60" x2="357.17" y2="757.60" stroke="#3B8ED0" stroke-width="0.7"/>
<line x1="364.74" y1="724.32" x2="364.74" y2="728.09" stroke="#3B8ED0" stroke-width="0.7"/>
<line x1="363.24" y1="724.32" x2="366.24" y2="724.32" stroke="#3B8ED0" stroke-width="0.7"/>
<line x1="363.24" y1="728.09" x2="366.24" y2="728.09" stroke="#3B8ED0" stroke-width="0.7"/>
<line x1="373.81" y1="730.60" x2="373.81" y2="736.88" stroke="#3B8ED0" stroke-width="0.7"/>
<line x1="372.31" y1="730.60" x2="375.31" y2="730.60" stroke="#3B8ED0" stroke-width="0.7"/>
<line x1="372.31" y1="736.88" x2="375.31" y2="736.88" stroke="#3B8ED0" stroke-width="0.7"/>
<line x1="382.88" y1="742.22" x2="382.88" y2="744.73" stroke="#3B8ED0" stroke-width="0.7"/>
<line x1="381.38" y1="742.22" x2="384.38" y2="742.22" stroke="#3B8ED0" stroke-width="0.7"/>
<line x1="381.38" y1="744.73" x2="384.38" y2="744.73" stroke="#3B8ED0" stroke-width="0.7"/>
<line x1="391.95" y1="722.44" x2="391.95" y2="732.48" stroke="#3B8ED0" stroke-width="0.7"/>
<line x1="390.45" y1="722.44" x2="393.45" y2="722.44" stroke="#3B8ED0" stroke-width="0.7"/>
<line x1="390.45" y1="732.48" x2="393.45" y2="732.48" stroke="#3B8ED0" stroke-width="0.7"/>
<line x1="401.02" y1="729.97" x2="401.02" y2="742.53" stroke="#3B8ED0" stroke-width="0.7"/>
<line x1="399.52" y1="729.97" x2="402.52" y2="729.97" stroke="#3B8ED0" stroke-width="0.7"/>
<line x1="399.52" y1="742.53" x2="402.52" y2="742.53" stroke="#3B8ED0" stroke-width="0.7"/>
<line x1="410.09" y1="743.79" x2="410.09" y2="748.81" stroke="#3B8ED0" stroke-width="0.7"/>
<line x1="408.59" y1="743.79" x2="411.59" y2="743.79" stroke="#3B8ED0" stroke-width="0.7"/>
<line x1="408.59" y1="748.81" x2="411.59" y2="748.81" stroke="#3B8ED0" stroke-width="0.7"/>
<polyline points="346.60,754.46 355.67,752.58 364.74,726.20 373.81,733.74 382.88,743.47 391.95,727.46 401.02,736.25 410.09,746.30" fill="none" stroke="#3B8ED0" stroke-width="0.9"/>
<rect x="344.90" y="752.76" width="3.40" height="3.40" fill="#3B8ED0"/>
<rect x="353.97" y="750.88" width="3.40" height="3.40" fill="#3B8ED0"/>
<rect x="363.04" y="724.50" width="3.40" height="3.40" fill="#3B8ED0"/>
<rect x="372.11" y="732.04" width="3.40" height="3.40" fill="#3B8ED0"/>
<rect x="381.18" y="741.77" width="3.40" height="3.40" fill="#3B8ED0"/>
<rect x="390.25" y="725.76" width="3.40" height="3.40" fill="#3B8ED0"/>
<rect x="399.32" y="734.55" width="3.40" height="3.40" fill="#3B8ED0"/>
<rect x="408.39" y="744.60" width="3.40" height="3.40" fill="#3B8ED0"/>
<text x="348.80" y="766.00" font-size="6.2" text-anchor="end" fill="#222" transform="rotate(-90 348.80 766.00)" stroke="#222" stroke-width="0.18">glucose</text>
<text x="357.87" y="766.00" font-size="6.2" text-anchor="end" fill="#222" transform="rotate(-90 357.87 766.00)" stroke="#222" stroke-width="0.18">10 min</text>
<text x="366.94" y="766.00" font-size="6.2" text-anchor="end" fill="#222" transform="rotate(-90 366.94 766.00)" stroke="#222" stroke-width="0.18">3 hrs</text>
<text x="376.01" y="766.00" font-size="6.2" text-anchor="end" fill="#222" transform="rotate(-90 376.01 766.00)" stroke="#222" stroke-width="0.18">24 hrs</text>
<text x="385.08" y="766.00" font-size="6.2" text-anchor="end" fill="#222" transform="rotate(-90 385.08 766.00)" stroke="#222" stroke-width="0.18">day 2</text>
<text x="394.15" y="766.00" font-size="6.2" text-anchor="end" fill="#222" transform="rotate(-90 394.15 766.00)" stroke="#222" stroke-width="0.18">day 3</text>
<text x="403.22" y="766.00" font-size="6.2" text-anchor="end" fill="#222" transform="rotate(-90 403.22 766.00)" stroke="#222" stroke-width="0.18">day 5</text>
<text x="412.29" y="766.00" font-size="6.2" text-anchor="end" fill="#222" transform="rotate(-90 412.29 766.00)" stroke="#222" stroke-width="0.18">day 7</text>
<text x="432.60" y="687.00" font-size="10.5" font-weight="bold" fill="#000" stroke="#000" stroke-width="0.06">L</text>
<text x="452.80" y="687.00" font-size="7.0" fill="#111" stroke="#111" stroke-width="0.18">ROS response</text>
<line x1="454.34" y1="698.90" x2="454.34" y2="762.30" stroke="#d9d9d9" stroke-width="0.6" stroke-dasharray="1.6 0.8"/>
<line x1="463.28" y1="698.90" x2="463.28" y2="762.30" stroke="#d9d9d9" stroke-width="0.6" stroke-dasharray="1.6 0.8"/>
<line x1="472.22" y1="698.90" x2="472.22" y2="762.30" stroke="#d9d9d9" stroke-width="0.6" stroke-dasharray="1.6 0.8"/>
<line x1="481.16" y1="698.90" x2="481.16" y2="762.30" stroke="#d9d9d9" stroke-width="0.6" stroke-dasharray="1.6 0.8"/>
<line x1="490.10" y1="698.90" x2="490.10" y2="762.30" stroke="#d9d9d9" stroke-width="0.6" stroke-dasharray="1.6 0.8"/>
<line x1="499.04" y1="698.90" x2="499.04" y2="762.30" stroke="#d9d9d9" stroke-width="0.6" stroke-dasharray="1.6 0.8"/>
<line x1="507.98" y1="698.90" x2="507.98" y2="762.30" stroke="#d9d9d9" stroke-width="0.6" stroke-dasharray="1.6 0.8"/>
<line x1="445.40" y1="749.62" x2="507.98" y2="749.62" stroke="#d9d9d9" stroke-width="0.6" stroke-dasharray="1.6 0.8"/>
<line x1="445.40" y1="736.94" x2="507.98" y2="736.94" stroke="#d9d9d9" stroke-width="0.6" stroke-dasharray="1.6 0.8"/>
<line x1="445.40" y1="724.26" x2="507.98" y2="724.26" stroke="#d9d9d9" stroke-width="0.6" stroke-dasharray="1.6 0.8"/>
<line x1="445.40" y1="711.58" x2="507.98" y2="711.58" stroke="#d9d9d9" stroke-width="0.6" stroke-dasharray="1.6 0.8"/>
<line x1="445.40" y1="698.90" x2="507.98" y2="698.90" stroke="#d9d9d9" stroke-width="0.6" stroke-dasharray="1.6 0.8"/>
<line x1="445.40" y1="698.60" x2="445.40" y2="762.60" stroke="#8a8a8a" stroke-width="0.7"/>
<line x1="445.40" y1="762.30" x2="507.98" y2="762.30" stroke="#8a8a8a" stroke-width="0.7"/>
<line x1="443.40" y1="762.30" x2="445.40" y2="762.30" stroke="#8a8a8a" stroke-width="0.7"/>
<text x="442.80" y="764.80" font-size="7.0" text-anchor="end" fill="#333" stroke="#333" stroke-width="0.18">6</text>
<line x1="443.40" y1="749.62" x2="445.40" y2="749.62" stroke="#8a8a8a" stroke-width="0.7"/>
<text x="442.80" y="752.12" font-size="7.0" text-anchor="end" fill="#333" stroke="#333" stroke-width="0.18">7</text>
<line x1="443.40" y1="736.94" x2="445.40" y2="736.94" stroke="#8a8a8a" stroke-width="0.7"/>
<text x="442.80" y="739.44" font-size="7.0" text-anchor="end" fill="#333" stroke="#333" stroke-width="0.18">8</text>
<line x1="443.40" y1="724.26" x2="445.40" y2="724.26" stroke="#8a8a8a" stroke-width="0.7"/>
<text x="442.80" y="726.76" font-size="7.0" text-anchor="end" fill="#333" stroke="#333" stroke-width="0.18">9</text>
<line x1="443.40" y1="711.58" x2="445.40" y2="711.58" stroke="#8a8a8a" stroke-width="0.7"/>
<text x="442.80" y="714.08" font-size="7.0" text-anchor="end" fill="#333" stroke="#333" stroke-width="0.18">10</text>
<line x1="443.40" y1="698.90" x2="445.40" y2="698.90" stroke="#8a8a8a" stroke-width="0.7"/>
<text x="442.80" y="701.40" font-size="7.0" text-anchor="end" fill="#333" stroke="#333" stroke-width="0.18">11</text>
<line x1="445.40" y1="762.30" x2="445.40" y2="764.30" stroke="#8a8a8a" stroke-width="0.7"/>
<line x1="454.34" y1="762.30" x2="454.34" y2="764.30" stroke="#8a8a8a" stroke-width="0.7"/>
<line x1="463.28" y1="762.30" x2="463.28" y2="764.30" stroke="#8a8a8a" stroke-width="0.7"/>
<line x1="472.22" y1="762.30" x2="472.22" y2="764.30" stroke="#8a8a8a" stroke-width="0.7"/>
<line x1="481.16" y1="762.30" x2="481.16" y2="764.30" stroke="#8a8a8a" stroke-width="0.7"/>
<line x1="490.10" y1="762.30" x2="490.10" y2="764.30" stroke="#8a8a8a" stroke-width="0.7"/>
<line x1="499.04" y1="762.30" x2="499.04" y2="764.30" stroke="#8a8a8a" stroke-width="0.7"/>
<line x1="507.98" y1="762.30" x2="507.98" y2="764.30" stroke="#8a8a8a" stroke-width="0.7"/>
<line x1="445.40" y1="743.91" x2="445.40" y2="746.45" stroke="#E8302A" stroke-width="0.7"/>
<line x1="443.90" y1="743.91" x2="446.90" y2="743.91" stroke="#E8302A" stroke-width="0.7"/>
<line x1="443.90" y1="746.45" x2="446.90" y2="746.45" stroke="#E8302A" stroke-width="0.7"/>
<line x1="454.34" y1="735.55" x2="454.34" y2="745.69" stroke="#E8302A" stroke-width="0.7"/>
<line x1="452.84" y1="735.55" x2="455.84" y2="735.55" stroke="#E8302A" stroke-width="0.7"/>
<line x1="452.84" y1="745.69" x2="455.84" y2="745.69" stroke="#E8302A" stroke-width="0.7"/>
<line x1="463.28" y1="747.72" x2="463.28" y2="752.79" stroke="#E8302A" stroke-width="0.7"/>
<line x1="461.78" y1="747.72" x2="464.78" y2="747.72" stroke="#E8302A" stroke-width="0.7"/>
<line x1="461.78" y1="752.79" x2="464.78" y2="752.79" stroke="#E8302A" stroke-width="0.7"/>
<line x1="472.22" y1="729.71" x2="472.22" y2="742.39" stroke="#E8302A" stroke-width="0.7"/>
<line x1="470.72" y1="729.71" x2="473.72" y2="729.71" stroke="#E8302A" stroke-width="0.7"/>
<line x1="470.72" y1="742.39" x2="473.72" y2="742.39" stroke="#E8302A" stroke-width="0.7"/>
<line x1="481.16" y1="715.38" x2="481.16" y2="721.72" stroke="#E8302A" stroke-width="0.7"/>
<line x1="479.66" y1="715.38" x2="482.66" y2="715.38" stroke="#E8302A" stroke-width="0.7"/>
<line x1="479.66" y1="721.72" x2="482.66" y2="721.72" stroke="#E8302A" stroke-width="0.7"/>
<line x1="490.10" y1="719.70" x2="490.10" y2="724.77" stroke="#E8302A" stroke-width="0.7"/>
<line x1="488.60" y1="719.70" x2="491.60" y2="719.70" stroke="#E8302A" stroke-width="0.7"/>
<line x1="488.60" y1="724.77" x2="491.60" y2="724.77" stroke="#E8302A" stroke-width="0.7"/>
<line x1="499.04" y1="720.08" x2="499.04" y2="725.15" stroke="#E8302A" stroke-width="0.7"/>
<line x1="497.54" y1="720.08" x2="500.54" y2="720.08" stroke="#E8302A" stroke-width="0.7"/>
<line x1="497.54" y1="725.15" x2="500.54" y2="725.15" stroke="#E8302A" stroke-width="0.7"/>
<line x1="507.98" y1="713.10" x2="507.98" y2="720.71" stroke="#E8302A" stroke-width="0.7"/>
<line x1="506.48" y1="713.10" x2="509.48" y2="713.10" stroke="#E8302A" stroke-width="0.7"/>
<line x1="506.48" y1="720.71" x2="509.48" y2="720.71" stroke="#E8302A" stroke-width="0.7"/>
<polyline points="445.40,745.18 454.34,740.62 463.28,750.25 472.22,736.05 481.16,718.55 490.10,722.23 499.04,722.61 507.98,716.91" fill="none" stroke="#E8302A" stroke-width="0.9"/>
<rect x="443.70" y="743.48" width="3.40" height="3.40" fill="#E8302A"/>
<rect x="452.64" y="738.92" width="3.40" height="3.40" fill="#E8302A"/>
<rect x="461.58" y="748.55" width="3.40" height="3.40" fill="#E8302A"/>
<rect x="470.52" y="734.35" width="3.40" height="3.40" fill="#E8302A"/>
<rect x="479.46" y="716.85" width="3.40" height="3.40" fill="#E8302A"/>
<rect x="488.40" y="720.53" width="3.40" height="3.40" fill="#E8302A"/>
<rect x="497.34" y="720.91" width="3.40" height="3.40" fill="#E8302A"/>
<rect x="506.28" y="715.21" width="3.40" height="3.40" fill="#E8302A"/>
<line x1="445.40" y1="744.55" x2="445.40" y2="747.08" stroke="#E8302A" stroke-width="0.7"/>
<line x1="443.90" y1="744.55" x2="446.90" y2="744.55" stroke="#E8302A" stroke-width="0.7"/>
<line x1="443.90" y1="747.08" x2="446.90" y2="747.08" stroke="#E8302A" stroke-width="0.7"/>
<line x1="454.34" y1="730.22" x2="454.34" y2="740.36" stroke="#E8302A" stroke-width="0.7"/>
<line x1="452.84" y1="730.22" x2="455.84" y2="730.22" stroke="#E8302A" stroke-width="0.7"/>
<line x1="452.84" y1="740.36" x2="455.84" y2="740.36" stroke="#E8302A" stroke-width="0.7"/>
<line x1="463.28" y1="748.48" x2="463.28" y2="752.28" stroke="#E8302A" stroke-width="0.7"/>
<line x1="461.78" y1="748.48" x2="464.78" y2="748.48" stroke="#E8302A" stroke-width="0.7"/>
<line x1="461.78" y1="752.28" x2="464.78" y2="752.28" stroke="#E8302A" stroke-width="0.7"/>
<line x1="472.22" y1="736.94" x2="472.22" y2="742.01" stroke="#E8302A" stroke-width="0.7"/>
<line x1="470.72" y1="736.94" x2="473.72" y2="736.94" stroke="#E8302A" stroke-width="0.7"/>
<line x1="470.72" y1="742.01" x2="473.72" y2="742.01" stroke="#E8302A" stroke-width="0.7"/>
<line x1="481.16" y1="731.23" x2="481.16" y2="732.50" stroke="#E8302A" stroke-width="0.7"/>
<line x1="479.66" y1="731.23" x2="482.66" y2="731.23" stroke="#E8302A" stroke-width="0.7"/>
<line x1="479.66" y1="732.50" x2="482.66" y2="732.50" stroke="#E8302A" stroke-width="0.7"/>
<line x1="490.10" y1="731.87" x2="490.10" y2="735.67" stroke="#E8302A" stroke-width="0.7"/>
<line x1="488.60" y1="731.87" x2="491.60" y2="731.87" stroke="#E8302A" stroke-width="0.7"/>
<line x1="488.60" y1="735.67" x2="491.60" y2="735.67" stroke="#E8302A" stroke-width="0.7"/>
<line x1="499.04" y1="733.77" x2="499.04" y2="735.04" stroke="#E8302A" stroke-width="0.7"/>
<line x1="497.54" y1="733.77" x2="500.54" y2="733.77" stroke="#E8302A" stroke-width="0.7"/>
<line x1="497.54" y1="735.04" x2="500.54" y2="735.04" stroke="#E8302A" stroke-width="0.7"/>
<line x1="507.98" y1="729.08" x2="507.98" y2="730.35" stroke="#E8302A" stroke-width="0.7"/>
<line x1="506.48" y1="729.08" x2="509.48" y2="729.08" stroke="#E8302A" stroke-width="0.7"/>
<line x1="506.48" y1="730.35" x2="509.48" y2="730.35" stroke="#E8302A" stroke-width="0.7"/>
<polyline points="445.40,745.82 454.34,735.29 463.28,750.38 472.22,739.48 481.16,731.87 490.10,733.77 499.04,734.40 507.98,729.71" fill="none" stroke="#E8302A" stroke-width="0.9"/>
<circle cx="445.40" cy="745.82" r="1.70" fill="#E8302A"/>
<circle cx="454.34" cy="735.29" r="1.70" fill="#E8302A"/>
<circle cx="463.28" cy="750.38" r="1.70" fill="#E8302A"/>
<circle cx="472.22" cy="739.48" r="1.70" fill="#E8302A"/>
<circle cx="481.16" cy="731.87" r="1.70" fill="#E8302A"/>
<circle cx="490.10" cy="733.77" r="1.70" fill="#E8302A"/>
<circle cx="499.04" cy="734.40" r="1.70" fill="#E8302A"/>
<circle cx="507.98" cy="729.71" r="1.70" fill="#E8302A"/>
<line x1="445.40" y1="743.91" x2="445.40" y2="746.45" stroke="#E8302A" stroke-width="0.7"/>
<line x1="443.90" y1="743.91" x2="446.90" y2="743.91" stroke="#E8302A" stroke-width="0.7"/>
<line x1="443.90" y1="746.45" x2="446.90" y2="746.45" stroke="#E8302A" stroke-width="0.7"/>
<line x1="454.34" y1="744.67" x2="454.34" y2="752.28" stroke="#E8302A" stroke-width="0.7"/>
<line x1="452.84" y1="744.67" x2="455.84" y2="744.67" stroke="#E8302A" stroke-width="0.7"/>
<line x1="452.84" y1="752.28" x2="455.84" y2="752.28" stroke="#E8302A" stroke-width="0.7"/>
<line x1="463.28" y1="745.18" x2="463.28" y2="754.06" stroke="#E8302A" stroke-width="0.7"/>
<line x1="461.78" y1="745.18" x2="464.78" y2="745.18" stroke="#E8302A" stroke-width="0.7"/>
<line x1="461.78" y1="754.06" x2="464.78" y2="754.06" stroke="#E8302A" stroke-width="0.7"/>
<line x1="472.22" y1="734.40" x2="472.22" y2="742.01" stroke="#E8302A" stroke-width="0.7"/>
<line x1="470.72" y1="734.40" x2="473.72" y2="734.40" stroke="#E8302A" stroke-width="0.7"/>
<line x1="470.72" y1="742.01" x2="473.72" y2="742.01" stroke="#E8302A" stroke-width="0.7"/>
<line x1="481.16" y1="719.70" x2="481.16" y2="724.77" stroke="#E8302A" stroke-width="0.7"/>
<line x1="479.66" y1="719.70" x2="482.66" y2="719.70" stroke="#E8302A" stroke-width="0.7"/>
<line x1="479.66" y1="724.77" x2="482.66" y2="724.77" stroke="#E8302A" stroke-width="0.7"/>
<line x1="490.10" y1="723.63" x2="490.10" y2="728.70" stroke="#E8302A" stroke-width="0.7"/>
<line x1="488.60" y1="723.63" x2="491.60" y2="723.63" stroke="#E8302A" stroke-width="0.7"/>
<line x1="488.60" y1="728.70" x2="491.60" y2="728.70" stroke="#E8302A" stroke-width="0.7"/>
<line x1="499.04" y1="721.34" x2="499.04" y2="726.42" stroke="#E8302A" stroke-width="0.7"/>
<line x1="497.54" y1="721.34" x2="500.54" y2="721.34" stroke="#E8302A" stroke-width="0.7"/>
<line x1="497.54" y1="726.42" x2="500.54" y2="726.42" stroke="#E8302A" stroke-width="0.7"/>
<line x1="507.98" y1="713.61" x2="507.98" y2="726.29" stroke="#E8302A" stroke-width="0.7"/>
<line x1="506.48" y1="713.61" x2="509.48" y2="713.61" stroke="#E8302A" stroke-width="0.7"/>
<line x1="506.48" y1="726.29" x2="509.48" y2="726.29" stroke="#E8302A" stroke-width="0.7"/>
<polyline points="445.40,745.18 454.34,748.48 463.28,749.62 472.22,738.21 481.16,722.23 490.10,726.16 499.04,723.88 507.98,719.95" fill="none" stroke="#E8302A" stroke-width="0.9"/>
<path d="M445.40,743.14 L447.27,746.54 L443.53,746.54 Z" fill="#E8302A"/>
<path d="M454.34,746.44 L456.21,749.84 L452.47,749.84 Z" fill="#E8302A"/>
<path d="M463.28,747.58 L465.15,750.98 L461.41,750.98 Z" fill="#E8302A"/>
<path d="M472.22,736.17 L474.09,739.57 L470.35,739.57 Z" fill="#E8302A"/>
<path d="M481.16,720.19 L483.03,723.59 L479.29,723.59 Z" fill="#E8302A"/>
<path d="M490.10,724.12 L491.97,727.52 L488.23,727.52 Z" fill="#E8302A"/>
<path d="M499.04,721.84 L500.91,725.24 L497.17,725.24 Z" fill="#E8302A"/>
<path d="M507.98,717.91 L509.85,721.31 L506.11,721.31 Z" fill="#E8302A"/>
<text x="447.60" y="766.30" font-size="6.2" text-anchor="end" fill="#222" transform="rotate(-90 447.60 766.30)" stroke="#222" stroke-width="0.18">glucose</text>
<text x="456.54" y="766.30" font-size="6.2" text-anchor="end" fill="#222" transform="rotate(-90 456.54 766.30)" stroke="#222" stroke-width="0.18">10 min</text>
<text x="465.48" y="766.30" font-size="6.2" text-anchor="end" fill="#222" transform="rotate(-90 465.48 766.30)" stroke="#222" stroke-width="0.18">3 hrs</text>
<text x="474.42" y="766.30" font-size="6.2" text-anchor="end" fill="#222" transform="rotate(-90 474.42 766.30)" stroke="#222" stroke-width="0.18">24 hrs</text>
<text x="483.36" y="766.30" font-size="6.2" text-anchor="end" fill="#222" transform="rotate(-90 483.36 766.30)" stroke="#222" stroke-width="0.18">day 2</text>
<text x="492.30" y="766.30" font-size="6.2" text-anchor="end" fill="#222" transform="rotate(-90 492.30 766.30)" stroke="#222" stroke-width="0.18">day 3</text>
<text x="501.24" y="766.30" font-size="6.2" text-anchor="end" fill="#222" transform="rotate(-90 501.24 766.30)" stroke="#222" stroke-width="0.18">day 5</text>
<text x="510.18" y="766.30" font-size="6.2" text-anchor="end" fill="#222" transform="rotate(-90 510.18 766.30)" stroke="#222" stroke-width="0.18">day 7</text>
<text x="529.00" y="687.00" font-size="10.5" font-weight="bold" fill="#000" stroke="#000" stroke-width="0.06">M</text>
<text x="549.40" y="687.60" font-size="7.0" fill="#111" stroke="#111" stroke-width="0.18">Other defense</text>
<line x1="550.46" y1="698.90" x2="550.46" y2="762.30" stroke="#d9d9d9" stroke-width="0.6" stroke-dasharray="1.6 0.8"/>
<line x1="559.62" y1="698.90" x2="559.62" y2="762.30" stroke="#d9d9d9" stroke-width="0.6" stroke-dasharray="1.6 0.8"/>
<line x1="568.78" y1="698.90" x2="568.78" y2="762.30" stroke="#d9d9d9" stroke-width="0.6" stroke-dasharray="1.6 0.8"/>
<line x1="577.94" y1="698.90" x2="577.94" y2="762.30" stroke="#d9d9d9" stroke-width="0.6" stroke-dasharray="1.6 0.8"/>
<line x1="587.10" y1="698.90" x2="587.10" y2="762.30" stroke="#d9d9d9" stroke-width="0.6" stroke-dasharray="1.6 0.8"/>
<line x1="596.26" y1="698.90" x2="596.26" y2="762.30" stroke="#d9d9d9" stroke-width="0.6" stroke-dasharray="1.6 0.8"/>
<line x1="605.42" y1="698.90" x2="605.42" y2="762.30" stroke="#d9d9d9" stroke-width="0.6" stroke-dasharray="1.6 0.8"/>
<line x1="541.30" y1="749.62" x2="605.42" y2="749.62" stroke="#d9d9d9" stroke-width="0.6" stroke-dasharray="1.6 0.8"/>
<line x1="541.30" y1="736.94" x2="605.42" y2="736.94" stroke="#d9d9d9" stroke-width="0.6" stroke-dasharray="1.6 0.8"/>
<line x1="541.30" y1="724.26" x2="605.42" y2="724.26" stroke="#d9d9d9" stroke-width="0.6" stroke-dasharray="1.6 0.8"/>
<line x1="541.30" y1="711.58" x2="605.42" y2="711.58" stroke="#d9d9d9" stroke-width="0.6" stroke-dasharray="1.6 0.8"/>
<line x1="541.30" y1="698.90" x2="605.42" y2="698.90" stroke="#d9d9d9" stroke-width="0.6" stroke-dasharray="1.6 0.8"/>
<line x1="541.30" y1="698.60" x2="541.30" y2="762.60" stroke="#8a8a8a" stroke-width="0.7"/>
<line x1="541.30" y1="762.30" x2="605.42" y2="762.30" stroke="#8a8a8a" stroke-width="0.7"/>
<line x1="539.30" y1="762.30" x2="541.30" y2="762.30" stroke="#8a8a8a" stroke-width="0.7"/>
<text x="538.70" y="764.80" font-size="7.0" text-anchor="end" fill="#333" stroke="#333" stroke-width="0.18">6</text>
<line x1="539.30" y1="749.62" x2="541.30" y2="749.62" stroke="#8a8a8a" stroke-width="0.7"/>
<text x="538.70" y="752.12" font-size="7.0" text-anchor="end" fill="#333" stroke="#333" stroke-width="0.18">7</text>
<line x1="539.30" y1="736.94" x2="541.30" y2="736.94" stroke="#8a8a8a" stroke-width="0.7"/>
<text x="538.70" y="739.44" font-size="7.0" text-anchor="end" fill="#333" stroke="#333" stroke-width="0.18">8</text>
<line x1="539.30" y1="724.26" x2="541.30" y2="724.26" stroke="#8a8a8a" stroke-width="0.7"/>
<text x="538.70" y="726.76" font-size="7.0" text-anchor="end" fill="#333" stroke="#333" stroke-width="0.18">9</text>
<line x1="539.30" y1="711.58" x2="541.30" y2="711.58" stroke="#8a8a8a" stroke-width="0.7"/>
<text x="538.70" y="714.08" font-size="7.0" text-anchor="end" fill="#333" stroke="#333" stroke-width="0.18">10</text>
<line x1="539.30" y1="698.90" x2="541.30" y2="698.90" stroke="#8a8a8a" stroke-width="0.7"/>
<text x="538.70" y="701.40" font-size="7.0" text-anchor="end" fill="#333" stroke="#333" stroke-width="0.18">11</text>
<line x1="541.30" y1="762.30" x2="541.30" y2="764.30" stroke="#8a8a8a" stroke-width="0.7"/>
<line x1="550.46" y1="762.30" x2="550.46" y2="764.30" stroke="#8a8a8a" stroke-width="0.7"/>
<line x1="559.62" y1="762.30" x2="559.62" y2="764.30" stroke="#8a8a8a" stroke-width="0.7"/>
<line x1="568.78" y1="762.30" x2="568.78" y2="764.30" stroke="#8a8a8a" stroke-width="0.7"/>
<line x1="577.94" y1="762.30" x2="577.94" y2="764.30" stroke="#8a8a8a" stroke-width="0.7"/>
<line x1="587.10" y1="762.30" x2="587.10" y2="764.30" stroke="#8a8a8a" stroke-width="0.7"/>
<line x1="596.26" y1="762.30" x2="596.26" y2="764.30" stroke="#8a8a8a" stroke-width="0.7"/>
<line x1="605.42" y1="762.30" x2="605.42" y2="764.30" stroke="#8a8a8a" stroke-width="0.7"/>
<line x1="541.30" y1="741.00" x2="541.30" y2="743.53" stroke="#E8302A" stroke-width="0.7"/>
<line x1="539.80" y1="741.00" x2="542.80" y2="741.00" stroke="#E8302A" stroke-width="0.7"/>
<line x1="539.80" y1="743.53" x2="542.80" y2="743.53" stroke="#E8302A" stroke-width="0.7"/>
<line x1="550.46" y1="717.41" x2="550.46" y2="727.05" stroke="#E8302A" stroke-width="0.7"/>
<line x1="548.96" y1="717.41" x2="551.96" y2="717.41" stroke="#E8302A" stroke-width="0.7"/>
<line x1="548.96" y1="727.05" x2="551.96" y2="727.05" stroke="#E8302A" stroke-width="0.7"/>
<line x1="559.62" y1="738.59" x2="559.62" y2="754.31" stroke="#E8302A" stroke-width="0.7"/>
<line x1="558.12" y1="738.59" x2="561.12" y2="738.59" stroke="#E8302A" stroke-width="0.7"/>
<line x1="558.12" y1="754.31" x2="561.12" y2="754.31" stroke="#E8302A" stroke-width="0.7"/>
<line x1="568.78" y1="728.70" x2="568.78" y2="733.77" stroke="#E8302A" stroke-width="0.7"/>
<line x1="567.28" y1="728.70" x2="570.28" y2="728.70" stroke="#E8302A" stroke-width="0.7"/>
<line x1="567.28" y1="733.77" x2="570.28" y2="733.77" stroke="#E8302A" stroke-width="0.7"/>
<line x1="577.94" y1="723.25" x2="577.94" y2="724.51" stroke="#E8302A" stroke-width="0.7"/>
<line x1="576.44" y1="723.25" x2="579.44" y2="723.25" stroke="#E8302A" stroke-width="0.7"/>
<line x1="576.44" y1="724.51" x2="579.44" y2="724.51" stroke="#E8302A" stroke-width="0.7"/>
<line x1="587.10" y1="724.89" x2="587.10" y2="727.43" stroke="#E8302A" stroke-width="0.7"/>
<line x1="585.60" y1="724.89" x2="588.60" y2="724.89" stroke="#E8302A" stroke-width="0.7"/>
<line x1="585.60" y1="727.43" x2="588.60" y2="727.43" stroke="#E8302A" stroke-width="0.7"/>
<line x1="596.26" y1="723.88" x2="596.26" y2="726.42" stroke="#E8302A" stroke-width="0.7"/>
<line x1="594.76" y1="723.88" x2="597.76" y2="723.88" stroke="#E8302A" stroke-width="0.7"/>
<line x1="594.76" y1="726.42" x2="597.76" y2="726.42" stroke="#E8302A" stroke-width="0.7"/>
<line x1="605.42" y1="723.63" x2="605.42" y2="724.89" stroke="#E8302A" stroke-width="0.7"/>
<line x1="603.92" y1="723.63" x2="606.92" y2="723.63" stroke="#E8302A" stroke-width="0.7"/>
<line x1="603.92" y1="724.89" x2="606.92" y2="724.89" stroke="#E8302A" stroke-width="0.7"/>
<polyline points="541.30,742.27 550.46,722.23 559.62,746.45 568.78,731.23 577.94,723.88 587.10,726.16 596.26,725.15 605.42,724.26" fill="none" stroke="#E8302A" stroke-width="0.9"/>
<path d="M541.30,740.23 L542.83,742.27 L541.30,744.31 L539.77,742.27 Z" fill="#E8302A"/>
<path d="M550.46,720.19 L551.99,722.23 L550.46,724.27 L548.93,722.23 Z" fill="#E8302A"/>
<path d="M559.62,744.41 L561.15,746.45 L559.62,748.49 L558.09,746.45 Z" fill="#E8302A"/>
<path d="M568.78,729.19 L570.31,731.23 L568.78,733.27 L567.25,731.23 Z" fill="#E8302A"/>
<path d="M577.94,721.84 L579.47,723.88 L577.94,725.92 L576.41,723.88 Z" fill="#E8302A"/>
<path d="M587.10,724.12 L588.63,726.16 L587.10,728.20 L585.57,726.16 Z" fill="#E8302A"/>
<path d="M596.26,723.11 L597.79,725.15 L596.26,727.19 L594.73,725.15 Z" fill="#E8302A"/>
<path d="M605.42,722.22 L606.95,724.26 L605.42,726.30 L603.89,724.26 Z" fill="#E8302A"/>
<line x1="541.30" y1="744.55" x2="541.30" y2="747.08" stroke="#E8302A" stroke-width="0.7"/>
<line x1="539.80" y1="744.55" x2="542.80" y2="744.55" stroke="#E8302A" stroke-width="0.7"/>
<line x1="539.80" y1="747.08" x2="542.80" y2="747.08" stroke="#E8302A" stroke-width="0.7"/>
<line x1="550.46" y1="732.50" x2="550.46" y2="745.18" stroke="#E8302A" stroke-width="0.7"/>
<line x1="548.96" y1="732.50" x2="551.96" y2="732.50" stroke="#E8302A" stroke-width="0.7"/>
<line x1="548.96" y1="745.18" x2="551.96" y2="745.18" stroke="#E8302A" stroke-width="0.7"/>
<line x1="559.62" y1="746.83" x2="559.62" y2="754.44" stroke="#E8302A" stroke-width="0.7"/>
<line x1="558.12" y1="746.83" x2="561.12" y2="746.83" stroke="#E8302A" stroke-width="0.7"/>
<line x1="558.12" y1="754.44" x2="561.12" y2="754.44" stroke="#E8302A" stroke-width="0.7"/>
<line x1="568.78" y1="730.60" x2="568.78" y2="735.67" stroke="#E8302A" stroke-width="0.7"/>
<line x1="567.28" y1="730.60" x2="570.28" y2="730.60" stroke="#E8302A" stroke-width="0.7"/>
<line x1="567.28" y1="735.67" x2="570.28" y2="735.67" stroke="#E8302A" stroke-width="0.7"/>
<line x1="577.94" y1="723.25" x2="577.94" y2="724.51" stroke="#E8302A" stroke-width="0.7"/>
<line x1="576.44" y1="723.25" x2="579.44" y2="723.25" stroke="#E8302A" stroke-width="0.7"/>
<line x1="576.44" y1="724.51" x2="579.44" y2="724.51" stroke="#E8302A" stroke-width="0.7"/>
<line x1="587.10" y1="729.71" x2="587.10" y2="732.25" stroke="#E8302A" stroke-width="0.7"/>
<line x1="585.60" y1="729.71" x2="588.60" y2="729.71" stroke="#E8302A" stroke-width="0.7"/>
<line x1="585.60" y1="732.25" x2="588.60" y2="732.25" stroke="#E8302A" stroke-width="0.7"/>
<line x1="596.26" y1="725.91" x2="596.26" y2="729.71" stroke="#E8302A" stroke-width="0.7"/>
<line x1="594.76" y1="725.91" x2="597.76" y2="725.91" stroke="#E8302A" stroke-width="0.7"/>
<line x1="594.76" y1="729.71" x2="597.76" y2="729.71" stroke="#E8302A" stroke-width="0.7"/>
<line x1="605.42" y1="715.00" x2="605.42" y2="718.81" stroke="#E8302A" stroke-width="0.7"/>
<line x1="603.92" y1="715.00" x2="606.92" y2="715.00" stroke="#E8302A" stroke-width="0.7"/>
<line x1="603.92" y1="718.81" x2="606.92" y2="718.81" stroke="#E8302A" stroke-width="0.7"/>
<polyline points="541.30,745.82 550.46,738.84 559.62,750.63 568.78,733.14 577.94,723.88 587.10,730.98 596.26,727.81 605.42,716.91" fill="none" stroke="#E8302A" stroke-width="0.9"/>
<path d="M541.30,747.86 L543.17,744.46 L539.43,744.46 Z" fill="#E8302A"/>
<path d="M550.46,740.88 L552.33,737.48 L548.59,737.48 Z" fill="#E8302A"/>
<path d="M559.62,752.67 L561.49,749.27 L557.75,749.27 Z" fill="#E8302A"/>
<path d="M568.78,735.18 L570.65,731.78 L566.91,731.78 Z" fill="#E8302A"/>
<path d="M577.94,725.92 L579.81,722.52 L576.07,722.52 Z" fill="#E8302A"/>
<path d="M587.10,733.02 L588.97,729.62 L585.23,729.62 Z" fill="#E8302A"/>
<path d="M596.26,729.85 L598.13,726.45 L594.39,726.45 Z" fill="#E8302A"/>
<path d="M605.42,718.95 L607.29,715.55 L603.55,715.55 Z" fill="#E8302A"/>
<text x="543.50" y="766.30" font-size="6.2" text-anchor="end" fill="#222" transform="rotate(-90 543.50 766.30)" stroke="#222" stroke-width="0.18">glucose</text>
<text x="552.66" y="766.30" font-size="6.2" text-anchor="end" fill="#222" transform="rotate(-90 552.66 766.30)" stroke="#222" stroke-width="0.18">10 min</text>
<text x="561.82" y="766.30" font-size="6.2" text-anchor="end" fill="#222" transform="rotate(-90 561.82 766.30)" stroke="#222" stroke-width="0.18">3 hrs</text>
<text x="570.98" y="766.30" font-size="6.2" text-anchor="end" fill="#222" transform="rotate(-90 570.98 766.30)" stroke="#222" stroke-width="0.18">24 hrs</text>
<text x="580.14" y="766.30" font-size="6.2" text-anchor="end" fill="#222" transform="rotate(-90 580.14 766.30)" stroke="#222" stroke-width="0.18">day 2</text>
<text x="589.30" y="766.30" font-size="6.2" text-anchor="end" fill="#222" transform="rotate(-90 589.30 766.30)" stroke="#222" stroke-width="0.18">day 3</text>
<text x="598.46" y="766.30" font-size="6.2" text-anchor="end" fill="#222" transform="rotate(-90 598.46 766.30)" stroke="#222" stroke-width="0.18">day 5</text>
<text x="607.62" y="766.30" font-size="6.2" text-anchor="end" fill="#222" transform="rotate(-90 607.62 766.30)" stroke="#222" stroke-width="0.18">day 7</text>
<path d="M624.00,697.78 L625.76,700.98 L622.24,700.98 Z" fill="#3B8ED0"/>
<text x="630.40" y="702.00" font-size="6.5" fill="#3B8ED0" stroke="#3B8ED0" stroke-width="0.18">PS417_RS10720</text>
<circle cx="624.00" cy="707.00" r="1.60" fill="#3B8ED0"/>
<text x="630.40" y="709.30" font-size="6.5" fill="#3B8ED0" stroke="#3B8ED0" stroke-width="0.18">PS417_RS10765</text>
<rect x="622.40" y="712.80" width="3.20" height="3.20" fill="#3B8ED0"/>
<text x="630.40" y="716.70" font-size="6.5" fill="#3B8ED0" stroke="#3B8ED0" stroke-width="0.18">PS417_RS10785</text>
<rect x="622.40" y="725.10" width="3.20" height="3.20" fill="#E8302A"/>
<text x="630.40" y="729.00" font-size="6.5" fill="#E8302A" stroke="#E8302A" stroke-width="0.18">PS417_RS14920</text>
<circle cx="624.00" cy="733.50" r="1.60" fill="#E8302A"/>
<text x="630.40" y="735.80" font-size="6.5" fill="#E8302A" stroke="#E8302A" stroke-width="0.18">PS417_RS21405</text>
<path d="M624.00,738.28 L625.76,741.48 L622.24,741.48 Z" fill="#E8302A"/>
<text x="630.40" y="742.50" font-size="6.5" fill="#E8302A" stroke="#E8302A" stroke-width="0.18">PS417_RS27325</text>
<path d="M624.00,749.68 L625.44,751.60 L624.00,753.52 L622.56,751.60 Z" fill="#E8302A"/>
<text x="630.40" y="753.90" font-size="6.5" fill="#E8302A" stroke="#E8302A" stroke-width="0.18">PS417_RS02110</text>
<path d="M624.00,761.02 L625.76,757.82 L622.24,757.82 Z" fill="#E8302A"/>
<text x="630.40" y="761.40" font-size="6.5" fill="#E8302A" stroke="#E8302A" stroke-width="0.18">PS417_RS04040</text>
</svg></body></html>
